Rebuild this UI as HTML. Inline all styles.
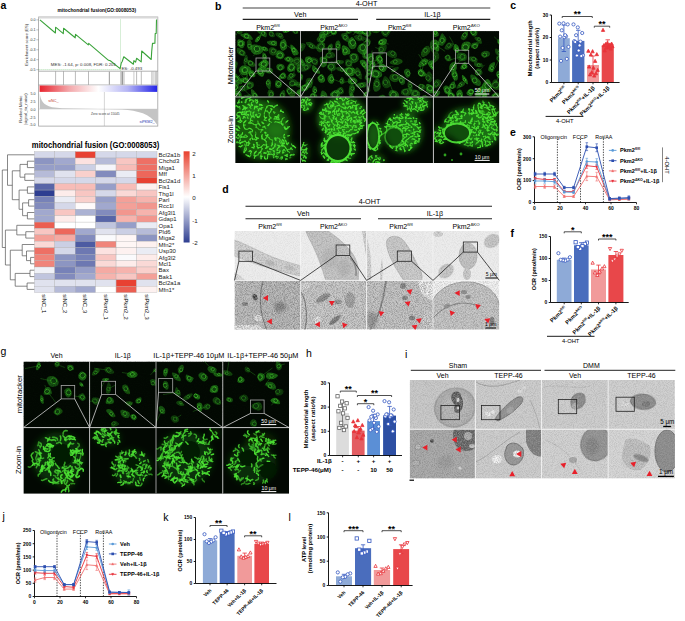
<!DOCTYPE html>
<html><head><meta charset="utf-8"><style>
html,body{margin:0;padding:0;background:#fff;overflow:hidden;}
svg{display:block;}
text{font-family:"Liberation Sans", sans-serif;}
</style></head><body>
<svg width="685" height="621" viewBox="0 0 685 621" font-family='"Liberation Sans", sans-serif'><defs>
<linearGradient id="gseaGrad" x1="0" x2="1" y1="0" y2="0">
 <stop offset="0" stop-color="#e8242e"/><stop offset="0.25" stop-color="#f3a7aa"/>
 <stop offset="0.5" stop-color="#ffffff"/><stop offset="0.75" stop-color="#b4b4f4"/>
 <stop offset="1" stop-color="#2424e8"/></linearGradient>
<linearGradient id="cbGrad" x1="0" x2="0" y1="0" y2="1">
 <stop offset="0" stop-color="#e8412f"/><stop offset="0.5" stop-color="#ffffff"/>
 <stop offset="1" stop-color="#2e3e91"/></linearGradient>

<filter id="blur03" x="-20%" y="-20%" width="140%" height="140%"><feGaussianBlur stdDeviation="0.3"/></filter>
<filter id="blur06" x="-20%" y="-20%" width="140%" height="140%"><feGaussianBlur stdDeviation="0.6"/></filter>
<filter id="blur15" x="-30%" y="-30%" width="160%" height="160%"><feGaussianBlur stdDeviation="1.5"/></filter>
<filter id="blur3" x="-30%" y="-30%" width="160%" height="160%"><feGaussianBlur stdDeviation="3"/></filter>
<filter id="speckD" x="0" y="0" width="100%" height="100%">
 <feTurbulence type="fractalNoise" baseFrequency="0.9" numOctaves="2" seed="7" result="n"/>
 <feColorMatrix type="matrix" values="0 0 0 0 0  0 0 0 0 0  0 0 0 0 0  1.6 0 0 0 -0.62"/>
</filter>
<filter id="speckT" x="0" y="0" width="100%" height="100%">
 <feTurbulence type="fractalNoise" baseFrequency="1.1" numOctaves="2" seed="3" result="n"/>
 <feColorMatrix type="matrix" values="0 0 0 0 0  0 0 0 0 0  0 0 0 0 0  1.2 0 0 0 -0.45"/>
</filter>
<filter id="tex" filterUnits="userSpaceOnUse" x="0" y="0" width="685" height="621">
 <feTurbulence type="fractalNoise" baseFrequency="0.75" numOctaves="2" seed="9" result="n"/>
 <feColorMatrix in="n" type="matrix" values="0 0 0 0 0.35  0 0 0 0 0.35  0 0 0 0 0.35  1.7 0 0 0 -0.68" result="dn"/>
 <feComposite in="dn" in2="SourceAlpha" operator="in" result="dm"/>
 <feMerge><feMergeNode in="SourceGraphic"/><feMergeNode in="dm"/></feMerge>
</filter>
<filter id="speckL" x="0" y="0" width="100%" height="100%">
 <feTurbulence type="fractalNoise" baseFrequency="0.8" numOctaves="2" seed="11" result="n"/>
 <feColorMatrix type="matrix" values="0 0 0 0 1  0 0 0 0 1  0 0 0 0 1  0 3.2 0 0 -1.75"/>
</filter>
<filter id="speckG" x="0" y="0" width="100%" height="100%">
 <feTurbulence type="fractalNoise" baseFrequency="0.7" numOctaves="2" seed="5" result="n"/>
 <feColorMatrix type="matrix" values="0 0 0 0 0.2  0 0 0 0 0.85  0 0 0 0 0.15  0 0 3.0 0 -1.7"/>
</filter>
<clipPath id="cp1"><rect x="235.2" y="31.1" width="65.3" height="65.9"/></clipPath><clipPath id="cp2"><rect x="300.5" y="31.1" width="66.6" height="65.9"/></clipPath><clipPath id="cp3"><rect x="367.1" y="31.1" width="66.3" height="65.9"/></clipPath><clipPath id="cp4"><rect x="433.4" y="31.1" width="65.8" height="65.9"/></clipPath><clipPath id="cp5"><rect x="235.2" y="97" width="66" height="66"/></clipPath><clipPath id="cp6"><rect x="300.5" y="97" width="66" height="66"/></clipPath><clipPath id="cp7"><rect x="367.1" y="97" width="66" height="66"/></clipPath><clipPath id="cp8"><rect x="433.4" y="97" width="66" height="66"/></clipPath><clipPath id="cp9"><rect x="23.4" y="361.5" width="66.2" height="66.1"/></clipPath><clipPath id="cp10"><rect x="89.6" y="361.5" width="66.4" height="66.1"/></clipPath><clipPath id="cp11"><rect x="156" y="361.5" width="66.8" height="66.1"/></clipPath><clipPath id="cp12"><rect x="222.8" y="361.5" width="66.3" height="66.1"/></clipPath><clipPath id="cp13"><rect x="23.4" y="427.6" width="66.2" height="66.2"/></clipPath><clipPath id="cp14"><rect x="89.6" y="427.6" width="66.4" height="66.2"/></clipPath><clipPath id="cp15"><rect x="156" y="427.6" width="66.8" height="66.2"/></clipPath><clipPath id="cp16"><rect x="222.8" y="427.6" width="66.3" height="66.2"/></clipPath><clipPath id="cp17"><rect x="234.5" y="231" width="66.1" height="49.4"/></clipPath><clipPath id="cp18"><rect x="300.6" y="231" width="66" height="49.4"/></clipPath><clipPath id="cp19"><rect x="366.6" y="231" width="66.4" height="49.4"/></clipPath><clipPath id="cp20"><rect x="433" y="231" width="66.3" height="49.4"/></clipPath><clipPath id="cp21"><rect x="234.5" y="280.4" width="66.1" height="49.1"/></clipPath><clipPath id="cp22"><rect x="300.6" y="280.4" width="66" height="49.1"/></clipPath><clipPath id="cp23"><rect x="366.6" y="280.4" width="66.4" height="49.1"/></clipPath><clipPath id="cp24"><rect x="433" y="280.4" width="66.3" height="49.1"/></clipPath><clipPath id="cp25"><rect x="409.7" y="380" width="65.6" height="49.2"/></clipPath><clipPath id="cp26"><rect x="475.3" y="380" width="66.3" height="49.2"/></clipPath><clipPath id="cp27"><rect x="541.6" y="380" width="66.5" height="49.2"/></clipPath><clipPath id="cp28"><rect x="608.1" y="380" width="66.8" height="49.2"/></clipPath><clipPath id="cp29"><rect x="409.7" y="429.2" width="65.6" height="49.4"/></clipPath><clipPath id="cp30"><rect x="475.3" y="429.2" width="66.3" height="49.4"/></clipPath><clipPath id="cp31"><rect x="541.6" y="429.2" width="66.5" height="49.4"/></clipPath><clipPath id="cp32"><rect x="608.1" y="429.2" width="66.8" height="49.4"/></clipPath></defs><text x="0.4" y="9.3" font-size="10.5" text-anchor="start" fill="#000" font-weight="bold">a</text>
<text x="215.1" y="9.5" font-size="10.5" text-anchor="start" fill="#000" font-weight="bold">b</text>
<text x="510.2" y="9.1" font-size="10.5" text-anchor="start" fill="#000" font-weight="bold">c</text>
<text x="222.2" y="193.1" font-size="10.5" text-anchor="start" fill="#000" font-weight="bold">d</text>
<text x="510" y="136.4" font-size="10.5" text-anchor="start" fill="#000" font-weight="bold">e</text>
<text x="510.6" y="236.6" font-size="10.5" text-anchor="start" fill="#000" font-weight="bold">f</text>
<text x="0.4" y="355" font-size="10.5" text-anchor="start" fill="#000">g</text>
<text x="306" y="357.4" font-size="10.5" text-anchor="start" fill="#000">h</text>
<text x="404.9" y="358" font-size="10.5" text-anchor="start" fill="#000">i</text>
<text x="2.6" y="519.7" font-size="10.5" text-anchor="start" fill="#000">j</text>
<text x="163.2" y="521" font-size="10.5" text-anchor="start" fill="#000">k</text>
<text x="288.4" y="520.6" font-size="10.5" text-anchor="start" fill="#000">l</text>
<text x="96.8" y="12.2" font-size="4.8" text-anchor="middle" fill="#000" font-weight="bold">mitochondrial fusion(GO:0008053)</text>
<rect x="38.6" y="17" width="119.2" height="109.1" fill="none" stroke="#a0a0a0" stroke-width="0.8"/>
<line x1="38.6" y1="17.8" x2="157.8" y2="17.8" stroke="#d8d8d8" stroke-width="1.2"/>
<line x1="38.6" y1="71.2" x2="157.8" y2="71.2" stroke="#909090" stroke-width="0.7"/>
<line x1="38.6" y1="85" x2="157.8" y2="85" stroke="#909090" stroke-width="0.7"/>
<text x="35.6" y="21.2" font-size="3.6" text-anchor="end" fill="#333">0.0</text>
<line x1="36.3" y1="19.9" x2="38.6" y2="19.9" stroke="#666" stroke-width="0.4"/>
<text x="35.6" y="31.2" font-size="3.6" text-anchor="end" fill="#333">-0.1</text>
<line x1="36.3" y1="29.9" x2="38.6" y2="29.9" stroke="#666" stroke-width="0.4"/>
<text x="35.6" y="41.1" font-size="3.6" text-anchor="end" fill="#333">-0.2</text>
<line x1="36.3" y1="39.8" x2="38.6" y2="39.8" stroke="#666" stroke-width="0.4"/>
<text x="35.6" y="51.1" font-size="3.6" text-anchor="end" fill="#333">-0.3</text>
<line x1="36.3" y1="49.8" x2="38.6" y2="49.8" stroke="#666" stroke-width="0.4"/>
<text x="35.6" y="61" font-size="3.6" text-anchor="end" fill="#333">-0.4</text>
<line x1="36.3" y1="59.7" x2="38.6" y2="59.7" stroke="#666" stroke-width="0.4"/>
<text x="35.6" y="71" font-size="3.6" text-anchor="end" fill="#333">-0.5</text>
<line x1="36.3" y1="69.7" x2="38.6" y2="69.7" stroke="#666" stroke-width="0.4"/>
<text x="27.6" y="44.8" font-size="4.2" text-anchor="middle" fill="#333" transform="rotate(-90 27.6 44.8)">Enrichment score (ES)</text>
<line x1="38.6" y1="69.6" x2="120.5" y2="69.6" stroke="#5cb85c" stroke-width="0.5" stroke-dasharray="1,1"/>
<line x1="120.5" y1="19.5" x2="120.5" y2="70.5" stroke="#5cb85c" stroke-width="0.5" stroke-dasharray="1,1"/>
<polyline points="39.9,19.9 55.4,33 55.6,27.2 63.3,33.6 63.6,28.3 75.2,37.8 75.5,34.4 88.3,44.9 88.7,43.4 108.5,60.3 110.3,60.8 120.1,68.6 121.3,63 122.2,61.5 123.8,56.8 133.4,64.2 133.9,60.6 135.6,62.2 136.6,58.3 141.2,61.9 141.7,51 151.2,59.5 151.7,51.4 152.5,43.4 154.9,43.2 155.2,33.6 156.2,33.4 156.5,19.5" fill="none" stroke="#3aa33a" stroke-width="1.1" stroke-linejoin="round"/>
<text x="50.8" y="66.2" font-size="4.4" text-anchor="start" fill="#333">MES: -1.64, p: 0.008, FDR: 0.201</text>
<text x="121.4" y="69.5" font-size="4.4" text-anchor="start" fill="#333">ES: -0.493</text>
<line x1="55.6" y1="71.4" x2="55.6" y2="84.8" stroke="#777" stroke-width="0.5"/>
<line x1="63.5" y1="71.4" x2="63.5" y2="84.8" stroke="#777" stroke-width="0.5"/>
<line x1="75.4" y1="71.4" x2="75.4" y2="84.8" stroke="#777" stroke-width="0.5"/>
<line x1="88.5" y1="71.4" x2="88.5" y2="84.8" stroke="#777" stroke-width="0.5"/>
<line x1="109.4" y1="71.4" x2="109.4" y2="84.8" stroke="#aaa" stroke-width="1.2"/>
<line x1="120.8" y1="71.4" x2="120.8" y2="84.8" stroke="#bbb" stroke-width="1"/>
<line x1="122.3" y1="71.4" x2="122.3" y2="84.8" stroke="#999" stroke-width="1.6"/>
<line x1="124" y1="71.4" x2="124" y2="84.8" stroke="#aaa" stroke-width="0.8"/>
<line x1="133.9" y1="71.4" x2="133.9" y2="84.8" stroke="#999" stroke-width="0.5"/>
<line x1="136.6" y1="71.4" x2="136.6" y2="84.8" stroke="#777" stroke-width="0.5"/>
<line x1="141.3" y1="71.4" x2="141.3" y2="84.8" stroke="#777" stroke-width="0.5"/>
<line x1="151.5" y1="71.4" x2="151.5" y2="84.8" stroke="#aaa" stroke-width="0.5"/>
<line x1="152.8" y1="71.4" x2="152.8" y2="84.8" stroke="#999" stroke-width="0.5"/>
<line x1="154" y1="71.4" x2="154" y2="84.8" stroke="#aaa" stroke-width="0.5"/>
<line x1="155.4" y1="71.4" x2="155.4" y2="84.8" stroke="#999" stroke-width="0.5"/>
<line x1="156.4" y1="71.4" x2="156.4" y2="84.8" stroke="#888" stroke-width="0.5"/>
<rect x="39.6" y="85.5" width="117.6" height="6.4" fill="url(#gseaGrad)" stroke="none" stroke-width="0.8"/>
<line x1="38.6" y1="109.1" x2="157.8" y2="109.1" stroke="#bbb" stroke-width="0.4"/>
<path d="M39.8,93.2 C40.5,100 43,105 52,107.2 L62,108.3 L122,109.5 C138,110.8 150,113.5 157,124.5 L157,109.1 L39.8,109.1 Z" fill="#c4c4c4"/>
<line x1="104.4" y1="92" x2="104.4" y2="126" stroke="#999" stroke-width="0.4"/>
<text x="35.6" y="95.3" font-size="3.6" text-anchor="end" fill="#333">5.0</text>
<text x="35.6" y="102.8" font-size="3.6" text-anchor="end" fill="#333">2.5</text>
<text x="35.6" y="110.5" font-size="3.6" text-anchor="end" fill="#333">0.0</text>
<text x="35.6" y="118.5" font-size="3.6" text-anchor="end" fill="#333">-2.5</text>
<text x="35.6" y="126.1" font-size="3.6" text-anchor="end" fill="#333">-5.0</text>
<text x="21.6" y="109.2" font-size="4.2" text-anchor="middle" fill="#333" transform="rotate(-90 21.6 109.2)">Ranked Metric</text>
<text x="26.6" y="109.2" font-size="4.2" text-anchor="middle" fill="#333" transform="rotate(-90 26.6 109.2)">(signal_to_noise)</text>
<text x="48.2" y="101.6" font-size="3.8" text-anchor="start" fill="#c0392b">siNC_</text>
<text x="139.5" y="123" font-size="3.8" text-anchor="start" fill="#2533b0">siPKM2_</text>
<text x="91" y="115.4" font-size="3.2" text-anchor="start" fill="#444">Zero score at 15045</text>
<text x="95.6" y="147.7" font-size="8.3" text-anchor="middle" fill="#000" font-weight="bold" textLength="127.5" lengthAdjust="spacingAndGlyphs">mitochondrial fusion (GO:0008053)</text>
<rect x="34.3" y="151.6" width="20.4" height="6.4" fill="#d5d8e9" stroke="#a8a8a8" stroke-width="0.3"/>
<rect x="54.8" y="151.6" width="20.4" height="6.4" fill="#d5d8e9" stroke="#a8a8a8" stroke-width="0.3"/>
<rect x="75.2" y="151.6" width="20.4" height="6.4" fill="#e84132" stroke="#a8a8a8" stroke-width="0.3"/>
<rect x="95.6" y="151.6" width="20.4" height="6.4" fill="#d5d8e9" stroke="#a8a8a8" stroke-width="0.3"/>
<rect x="116.1" y="151.6" width="20.4" height="6.4" fill="#d5d8e9" stroke="#a8a8a8" stroke-width="0.3"/>
<rect x="136.6" y="151.6" width="20.4" height="6.4" fill="#d5d8e9" stroke="#a8a8a8" stroke-width="0.3"/>
<rect x="34.3" y="158" width="20.4" height="6.4" fill="#8c95c2" stroke="#a8a8a8" stroke-width="0.3"/>
<rect x="54.8" y="158" width="20.4" height="6.4" fill="#a1a8ce" stroke="#a8a8a8" stroke-width="0.3"/>
<rect x="75.2" y="158" width="20.4" height="6.4" fill="#fce2e0" stroke="#a8a8a8" stroke-width="0.3"/>
<rect x="95.6" y="158" width="20.4" height="6.4" fill="#b6bbd8" stroke="#a8a8a8" stroke-width="0.3"/>
<rect x="116.1" y="158" width="20.4" height="6.4" fill="#f8c6c2" stroke="#a8a8a8" stroke-width="0.3"/>
<rect x="136.6" y="158" width="20.4" height="6.4" fill="#ee7065" stroke="#a8a8a8" stroke-width="0.3"/>
<rect x="34.3" y="164.4" width="20.4" height="6.4" fill="#969ec8" stroke="#a8a8a8" stroke-width="0.3"/>
<rect x="54.8" y="164.4" width="20.4" height="6.4" fill="#969ec8" stroke="#a8a8a8" stroke-width="0.3"/>
<rect x="75.2" y="164.4" width="20.4" height="6.4" fill="#cbcfe4" stroke="#a8a8a8" stroke-width="0.3"/>
<rect x="95.6" y="164.4" width="20.4" height="6.4" fill="#f5f5fa" stroke="#a8a8a8" stroke-width="0.3"/>
<rect x="116.1" y="164.4" width="20.4" height="6.4" fill="#f7bcb7" stroke="#a8a8a8" stroke-width="0.3"/>
<rect x="136.6" y="164.4" width="20.4" height="6.4" fill="#ee7065" stroke="#a8a8a8" stroke-width="0.3"/>
<rect x="34.3" y="170.8" width="20.4" height="6.4" fill="#b6bbd8" stroke="#a8a8a8" stroke-width="0.3"/>
<rect x="54.8" y="170.8" width="20.4" height="6.4" fill="#e0e2ee" stroke="#a8a8a8" stroke-width="0.3"/>
<rect x="75.2" y="170.8" width="20.4" height="6.4" fill="#f9d0cc" stroke="#a8a8a8" stroke-width="0.3"/>
<rect x="95.6" y="170.8" width="20.4" height="6.4" fill="#828bbd" stroke="#a8a8a8" stroke-width="0.3"/>
<rect x="116.1" y="170.8" width="20.4" height="6.4" fill="#eaecf4" stroke="#a8a8a8" stroke-width="0.3"/>
<rect x="136.6" y="170.8" width="20.4" height="6.4" fill="#ed675b" stroke="#a8a8a8" stroke-width="0.3"/>
<rect x="34.3" y="177.2" width="20.4" height="6.4" fill="#d5d8e9" stroke="#a8a8a8" stroke-width="0.3"/>
<rect x="54.8" y="177.2" width="20.4" height="6.4" fill="#d5d8e9" stroke="#a8a8a8" stroke-width="0.3"/>
<rect x="75.2" y="177.2" width="20.4" height="6.4" fill="#d5d8e9" stroke="#a8a8a8" stroke-width="0.3"/>
<rect x="95.6" y="177.2" width="20.4" height="6.4" fill="#d5d8e9" stroke="#a8a8a8" stroke-width="0.3"/>
<rect x="116.1" y="177.2" width="20.4" height="6.4" fill="#d5d8e9" stroke="#a8a8a8" stroke-width="0.3"/>
<rect x="136.6" y="177.2" width="20.4" height="6.4" fill="#e84132" stroke="#a8a8a8" stroke-width="0.3"/>
<rect x="34.3" y="183.6" width="20.4" height="6.4" fill="#5865a7" stroke="#a8a8a8" stroke-width="0.3"/>
<rect x="54.8" y="183.6" width="20.4" height="6.4" fill="#f7bcb7" stroke="#a8a8a8" stroke-width="0.3"/>
<rect x="75.2" y="183.6" width="20.4" height="6.4" fill="#f7bcb7" stroke="#a8a8a8" stroke-width="0.3"/>
<rect x="95.6" y="183.6" width="20.4" height="6.4" fill="#969ec8" stroke="#a8a8a8" stroke-width="0.3"/>
<rect x="116.1" y="183.6" width="20.4" height="6.4" fill="#f7bcb7" stroke="#a8a8a8" stroke-width="0.3"/>
<rect x="136.6" y="183.6" width="20.4" height="6.4" fill="#fdf1f0" stroke="#a8a8a8" stroke-width="0.3"/>
<rect x="34.3" y="190.1" width="20.4" height="6.4" fill="#2e3e91" stroke="#a8a8a8" stroke-width="0.3"/>
<rect x="54.8" y="190.1" width="20.4" height="6.4" fill="#fdecea" stroke="#a8a8a8" stroke-width="0.3"/>
<rect x="75.2" y="190.1" width="20.4" height="6.4" fill="#f8c6c2" stroke="#a8a8a8" stroke-width="0.3"/>
<rect x="95.6" y="190.1" width="20.4" height="6.4" fill="#d5d8e9" stroke="#a8a8a8" stroke-width="0.3"/>
<rect x="116.1" y="190.1" width="20.4" height="6.4" fill="#fad9d6" stroke="#a8a8a8" stroke-width="0.3"/>
<rect x="136.6" y="190.1" width="20.4" height="6.4" fill="#f8c6c2" stroke="#a8a8a8" stroke-width="0.3"/>
<rect x="34.3" y="196.5" width="20.4" height="6.4" fill="#7782b8" stroke="#a8a8a8" stroke-width="0.3"/>
<rect x="54.8" y="196.5" width="20.4" height="6.4" fill="#eaecf4" stroke="#a8a8a8" stroke-width="0.3"/>
<rect x="75.2" y="196.5" width="20.4" height="6.4" fill="#f9d0cc" stroke="#a8a8a8" stroke-width="0.3"/>
<rect x="95.6" y="196.5" width="20.4" height="6.4" fill="#969ec8" stroke="#a8a8a8" stroke-width="0.3"/>
<rect x="116.1" y="196.5" width="20.4" height="6.4" fill="#f4a098" stroke="#a8a8a8" stroke-width="0.3"/>
<rect x="136.6" y="196.5" width="20.4" height="6.4" fill="#f6b3ad" stroke="#a8a8a8" stroke-width="0.3"/>
<rect x="34.3" y="202.9" width="20.4" height="6.4" fill="#828bbd" stroke="#a8a8a8" stroke-width="0.3"/>
<rect x="54.8" y="202.9" width="20.4" height="6.4" fill="#d5d8e9" stroke="#a8a8a8" stroke-width="0.3"/>
<rect x="75.2" y="202.9" width="20.4" height="6.4" fill="#fefafa" stroke="#a8a8a8" stroke-width="0.3"/>
<rect x="95.6" y="202.9" width="20.4" height="6.4" fill="#a1a8ce" stroke="#a8a8a8" stroke-width="0.3"/>
<rect x="116.1" y="202.9" width="20.4" height="6.4" fill="#f4a098" stroke="#a8a8a8" stroke-width="0.3"/>
<rect x="136.6" y="202.9" width="20.4" height="6.4" fill="#f2968e" stroke="#a8a8a8" stroke-width="0.3"/>
<rect x="34.3" y="209.3" width="20.4" height="6.4" fill="#a1a8ce" stroke="#a8a8a8" stroke-width="0.3"/>
<rect x="54.8" y="209.3" width="20.4" height="6.4" fill="#f8c6c2" stroke="#a8a8a8" stroke-width="0.3"/>
<rect x="75.2" y="209.3" width="20.4" height="6.4" fill="#abb2d3" stroke="#a8a8a8" stroke-width="0.3"/>
<rect x="95.6" y="209.3" width="20.4" height="6.4" fill="#828bbd" stroke="#a8a8a8" stroke-width="0.3"/>
<rect x="116.1" y="209.3" width="20.4" height="6.4" fill="#f2968e" stroke="#a8a8a8" stroke-width="0.3"/>
<rect x="136.6" y="209.3" width="20.4" height="6.4" fill="#f6b3ad" stroke="#a8a8a8" stroke-width="0.3"/>
<rect x="34.3" y="215.7" width="20.4" height="6.4" fill="#a1a8ce" stroke="#a8a8a8" stroke-width="0.3"/>
<rect x="54.8" y="215.7" width="20.4" height="6.4" fill="#fdecea" stroke="#a8a8a8" stroke-width="0.3"/>
<rect x="75.2" y="215.7" width="20.4" height="6.4" fill="#ffffff" stroke="#a8a8a8" stroke-width="0.3"/>
<rect x="95.6" y="215.7" width="20.4" height="6.4" fill="#5865a7" stroke="#a8a8a8" stroke-width="0.3"/>
<rect x="116.1" y="215.7" width="20.4" height="6.4" fill="#f6b3ad" stroke="#a8a8a8" stroke-width="0.3"/>
<rect x="136.6" y="215.7" width="20.4" height="6.4" fill="#f2968e" stroke="#a8a8a8" stroke-width="0.3"/>
<rect x="34.3" y="222.1" width="20.4" height="6.4" fill="#eb5e51" stroke="#a8a8a8" stroke-width="0.3"/>
<rect x="54.8" y="222.1" width="20.4" height="6.4" fill="#ffffff" stroke="#a8a8a8" stroke-width="0.3"/>
<rect x="75.2" y="222.1" width="20.4" height="6.4" fill="#ffffff" stroke="#a8a8a8" stroke-width="0.3"/>
<rect x="95.6" y="222.1" width="20.4" height="6.4" fill="#c0c5de" stroke="#a8a8a8" stroke-width="0.3"/>
<rect x="116.1" y="222.1" width="20.4" height="6.4" fill="#969ec8" stroke="#a8a8a8" stroke-width="0.3"/>
<rect x="136.6" y="222.1" width="20.4" height="6.4" fill="#eaecf4" stroke="#a8a8a8" stroke-width="0.3"/>
<rect x="34.3" y="228.5" width="20.4" height="6.4" fill="#f8c6c2" stroke="#a8a8a8" stroke-width="0.3"/>
<rect x="54.8" y="228.5" width="20.4" height="6.4" fill="#ed675b" stroke="#a8a8a8" stroke-width="0.3"/>
<rect x="75.2" y="228.5" width="20.4" height="6.4" fill="#a1a8ce" stroke="#a8a8a8" stroke-width="0.3"/>
<rect x="95.6" y="228.5" width="20.4" height="6.4" fill="#e0e2ee" stroke="#a8a8a8" stroke-width="0.3"/>
<rect x="116.1" y="228.5" width="20.4" height="6.4" fill="#cbcfe4" stroke="#a8a8a8" stroke-width="0.3"/>
<rect x="136.6" y="228.5" width="20.4" height="6.4" fill="#b6bbd8" stroke="#a8a8a8" stroke-width="0.3"/>
<rect x="34.3" y="234.9" width="20.4" height="6.4" fill="#f4a098" stroke="#a8a8a8" stroke-width="0.3"/>
<rect x="54.8" y="234.9" width="20.4" height="6.4" fill="#f5aaa3" stroke="#a8a8a8" stroke-width="0.3"/>
<rect x="75.2" y="234.9" width="20.4" height="6.4" fill="#828bbd" stroke="#a8a8a8" stroke-width="0.3"/>
<rect x="95.6" y="234.9" width="20.4" height="6.4" fill="#fafafc" stroke="#a8a8a8" stroke-width="0.3"/>
<rect x="116.1" y="234.9" width="20.4" height="6.4" fill="#fef6f5" stroke="#a8a8a8" stroke-width="0.3"/>
<rect x="136.6" y="234.9" width="20.4" height="6.4" fill="#8c95c2" stroke="#a8a8a8" stroke-width="0.3"/>
<rect x="34.3" y="241.3" width="20.4" height="6.4" fill="#fad9d6" stroke="#a8a8a8" stroke-width="0.3"/>
<rect x="54.8" y="241.3" width="20.4" height="6.4" fill="#cbcfe4" stroke="#a8a8a8" stroke-width="0.3"/>
<rect x="75.2" y="241.3" width="20.4" height="6.4" fill="#4d5ba2" stroke="#a8a8a8" stroke-width="0.3"/>
<rect x="95.6" y="241.3" width="20.4" height="6.4" fill="#f0847a" stroke="#a8a8a8" stroke-width="0.3"/>
<rect x="116.1" y="241.3" width="20.4" height="6.4" fill="#fef6f5" stroke="#a8a8a8" stroke-width="0.3"/>
<rect x="136.6" y="241.3" width="20.4" height="6.4" fill="#fdf1f0" stroke="#a8a8a8" stroke-width="0.3"/>
<rect x="34.3" y="247.8" width="20.4" height="6.4" fill="#ee7065" stroke="#a8a8a8" stroke-width="0.3"/>
<rect x="54.8" y="247.8" width="20.4" height="6.4" fill="#d5d8e9" stroke="#a8a8a8" stroke-width="0.3"/>
<rect x="75.2" y="247.8" width="20.4" height="6.4" fill="#6d78b2" stroke="#a8a8a8" stroke-width="0.3"/>
<rect x="95.6" y="247.8" width="20.4" height="6.4" fill="#fce2e0" stroke="#a8a8a8" stroke-width="0.3"/>
<rect x="116.1" y="247.8" width="20.4" height="6.4" fill="#fdf1f0" stroke="#a8a8a8" stroke-width="0.3"/>
<rect x="136.6" y="247.8" width="20.4" height="6.4" fill="#eaecf4" stroke="#a8a8a8" stroke-width="0.3"/>
<rect x="34.3" y="254.2" width="20.4" height="6.4" fill="#f0847a" stroke="#a8a8a8" stroke-width="0.3"/>
<rect x="54.8" y="254.2" width="20.4" height="6.4" fill="#8c95c2" stroke="#a8a8a8" stroke-width="0.3"/>
<rect x="75.2" y="254.2" width="20.4" height="6.4" fill="#7782b8" stroke="#a8a8a8" stroke-width="0.3"/>
<rect x="95.6" y="254.2" width="20.4" height="6.4" fill="#f8c6c2" stroke="#a8a8a8" stroke-width="0.3"/>
<rect x="116.1" y="254.2" width="20.4" height="6.4" fill="#fafafc" stroke="#a8a8a8" stroke-width="0.3"/>
<rect x="136.6" y="254.2" width="20.4" height="6.4" fill="#fdecea" stroke="#a8a8a8" stroke-width="0.3"/>
<rect x="34.3" y="260.6" width="20.4" height="6.4" fill="#f0847a" stroke="#a8a8a8" stroke-width="0.3"/>
<rect x="54.8" y="260.6" width="20.4" height="6.4" fill="#8c95c2" stroke="#a8a8a8" stroke-width="0.3"/>
<rect x="75.2" y="260.6" width="20.4" height="6.4" fill="#6d78b2" stroke="#a8a8a8" stroke-width="0.3"/>
<rect x="95.6" y="260.6" width="20.4" height="6.4" fill="#fad9d6" stroke="#a8a8a8" stroke-width="0.3"/>
<rect x="116.1" y="260.6" width="20.4" height="6.4" fill="#fdecea" stroke="#a8a8a8" stroke-width="0.3"/>
<rect x="136.6" y="260.6" width="20.4" height="6.4" fill="#fad9d6" stroke="#a8a8a8" stroke-width="0.3"/>
<rect x="34.3" y="267" width="20.4" height="6.4" fill="#eff1f7" stroke="#a8a8a8" stroke-width="0.3"/>
<rect x="54.8" y="267" width="20.4" height="6.4" fill="#7782b8" stroke="#a8a8a8" stroke-width="0.3"/>
<rect x="75.2" y="267" width="20.4" height="6.4" fill="#969ec8" stroke="#a8a8a8" stroke-width="0.3"/>
<rect x="95.6" y="267" width="20.4" height="6.4" fill="#f5aaa3" stroke="#a8a8a8" stroke-width="0.3"/>
<rect x="116.1" y="267" width="20.4" height="6.4" fill="#f6b3ad" stroke="#a8a8a8" stroke-width="0.3"/>
<rect x="136.6" y="267" width="20.4" height="6.4" fill="#f9d0cc" stroke="#a8a8a8" stroke-width="0.3"/>
<rect x="34.3" y="273.4" width="20.4" height="6.4" fill="#c0c5de" stroke="#a8a8a8" stroke-width="0.3"/>
<rect x="54.8" y="273.4" width="20.4" height="6.4" fill="#828bbd" stroke="#a8a8a8" stroke-width="0.3"/>
<rect x="75.2" y="273.4" width="20.4" height="6.4" fill="#a1a8ce" stroke="#a8a8a8" stroke-width="0.3"/>
<rect x="95.6" y="273.4" width="20.4" height="6.4" fill="#f6b3ad" stroke="#a8a8a8" stroke-width="0.3"/>
<rect x="116.1" y="273.4" width="20.4" height="6.4" fill="#f8c6c2" stroke="#a8a8a8" stroke-width="0.3"/>
<rect x="136.6" y="273.4" width="20.4" height="6.4" fill="#f4a098" stroke="#a8a8a8" stroke-width="0.3"/>
<rect x="34.3" y="279.8" width="20.4" height="6.4" fill="#e0e2ee" stroke="#a8a8a8" stroke-width="0.3"/>
<rect x="54.8" y="279.8" width="20.4" height="6.4" fill="#e0e2ee" stroke="#a8a8a8" stroke-width="0.3"/>
<rect x="75.2" y="279.8" width="20.4" height="6.4" fill="#e0e2ee" stroke="#a8a8a8" stroke-width="0.3"/>
<rect x="95.6" y="279.8" width="20.4" height="6.4" fill="#e0e2ee" stroke="#a8a8a8" stroke-width="0.3"/>
<rect x="116.1" y="279.8" width="20.4" height="6.4" fill="#e84132" stroke="#a8a8a8" stroke-width="0.3"/>
<rect x="136.6" y="279.8" width="20.4" height="6.4" fill="#e0e2ee" stroke="#a8a8a8" stroke-width="0.3"/>
<rect x="34.3" y="286.2" width="20.4" height="6.4" fill="#e0e2ee" stroke="#a8a8a8" stroke-width="0.3"/>
<rect x="54.8" y="286.2" width="20.4" height="6.4" fill="#b6bbd8" stroke="#a8a8a8" stroke-width="0.3"/>
<rect x="75.2" y="286.2" width="20.4" height="6.4" fill="#a1a8ce" stroke="#a8a8a8" stroke-width="0.3"/>
<rect x="95.6" y="286.2" width="20.4" height="6.4" fill="#ffffff" stroke="#a8a8a8" stroke-width="0.3"/>
<rect x="116.1" y="286.2" width="20.4" height="6.4" fill="#eb5e51" stroke="#a8a8a8" stroke-width="0.3"/>
<rect x="136.6" y="286.2" width="20.4" height="6.4" fill="#fdf1f0" stroke="#a8a8a8" stroke-width="0.3"/>
<text x="158.6" y="157" font-size="6" text-anchor="start" fill="#222">Bcl2a1b</text>
<text x="158.6" y="163.4" font-size="6" text-anchor="start" fill="#222">Chchd3</text>
<text x="158.6" y="169.8" font-size="6" text-anchor="start" fill="#222">Miga1</text>
<text x="158.6" y="176.2" font-size="6" text-anchor="start" fill="#222">Mff</text>
<text x="158.6" y="182.6" font-size="6" text-anchor="start" fill="#222">Bcl2a1d</text>
<text x="158.6" y="189.1" font-size="6" text-anchor="start" fill="#222">Fis1</text>
<text x="158.6" y="195.5" font-size="6" text-anchor="start" fill="#222">Thg1l</text>
<text x="158.6" y="201.9" font-size="6" text-anchor="start" fill="#222">Parl</text>
<text x="158.6" y="208.3" font-size="6" text-anchor="start" fill="#222">Rcc1l</text>
<text x="158.6" y="214.7" font-size="6" text-anchor="start" fill="#222">Afg3l1</text>
<text x="158.6" y="221.1" font-size="6" text-anchor="start" fill="#222">Gdap1</text>
<text x="158.6" y="227.5" font-size="6" text-anchor="start" fill="#222">Opa1</text>
<text x="158.6" y="233.9" font-size="6" text-anchor="start" fill="#222">Pld6</text>
<text x="158.6" y="240.3" font-size="6" text-anchor="start" fill="#222">Miga2</text>
<text x="158.6" y="246.7" font-size="6" text-anchor="start" fill="#222">Mfn2*</text>
<text x="158.6" y="253.2" font-size="6" text-anchor="start" fill="#222">Usp30</text>
<text x="158.6" y="259.6" font-size="6" text-anchor="start" fill="#222">Afg3l2</text>
<text x="158.6" y="266" font-size="6" text-anchor="start" fill="#222">Mcl1</text>
<text x="158.6" y="272.4" font-size="6" text-anchor="start" fill="#222">Bax</text>
<text x="158.6" y="278.8" font-size="6" text-anchor="start" fill="#222">Bak1</text>
<text x="158.6" y="285.2" font-size="6" text-anchor="start" fill="#222">Bcl2a1a</text>
<text x="158.6" y="291.6" font-size="6" text-anchor="start" fill="#222">Mfn1*</text>
<text x="42.3" y="294.3" font-size="5.8" text-anchor="start" fill="#000" transform="rotate(90 42.3 294.3)">siNC_1</text>
<text x="62.8" y="294.3" font-size="5.8" text-anchor="start" fill="#000" transform="rotate(90 62.8 294.3)">siNC_2</text>
<text x="83.2" y="294.3" font-size="5.8" text-anchor="start" fill="#000" transform="rotate(90 83.2 294.3)">siNC_3</text>
<text x="103.7" y="294.3" font-size="5.8" text-anchor="start" fill="#000" transform="rotate(90 103.7 294.3)">siPkm2_1</text>
<text x="124.1" y="294.3" font-size="5.8" text-anchor="start" fill="#000" transform="rotate(90 124.1 294.3)">siPkm2_2</text>
<text x="144.6" y="294.3" font-size="5.8" text-anchor="start" fill="#000" transform="rotate(90 144.6 294.3)">siPkm2_3</text>
<rect x="183.6" y="151.3" width="6" height="91.2" fill="url(#cbGrad)" stroke="none" stroke-width="0.8"/>
<text x="192.2" y="155.6" font-size="6.2" text-anchor="start" fill="#222">2</text>
<text x="192.2" y="178" font-size="6.2" text-anchor="start" fill="#222">1</text>
<text x="192.2" y="200.2" font-size="6.2" text-anchor="start" fill="#222">0</text>
<text x="192.2" y="222.7" font-size="6.2" text-anchor="start" fill="#222">-1</text>
<text x="192.2" y="244.9" font-size="6.2" text-anchor="start" fill="#222">-2</text>
<line x1="27.4" y1="161.2" x2="27.4" y2="167.6" stroke="#555" stroke-width="0.7"/>
<line x1="27.4" y1="161.2" x2="34.3" y2="161.2" stroke="#555" stroke-width="0.7"/>
<line x1="27.4" y1="167.6" x2="34.3" y2="167.6" stroke="#555" stroke-width="0.7"/>
<line x1="24.8" y1="174" x2="24.8" y2="180.4" stroke="#555" stroke-width="0.7"/>
<line x1="24.8" y1="174" x2="34.3" y2="174" stroke="#555" stroke-width="0.7"/>
<line x1="24.8" y1="180.4" x2="34.3" y2="180.4" stroke="#555" stroke-width="0.7"/>
<line x1="20" y1="164.4" x2="20" y2="177.2" stroke="#555" stroke-width="0.7"/>
<line x1="20" y1="164.4" x2="27.4" y2="164.4" stroke="#555" stroke-width="0.7"/>
<line x1="20" y1="177.2" x2="24.8" y2="177.2" stroke="#555" stroke-width="0.7"/>
<line x1="27.4" y1="186.9" x2="27.4" y2="193.3" stroke="#555" stroke-width="0.7"/>
<line x1="27.4" y1="186.9" x2="34.3" y2="186.9" stroke="#555" stroke-width="0.7"/>
<line x1="27.4" y1="193.3" x2="34.3" y2="193.3" stroke="#555" stroke-width="0.7"/>
<line x1="28.6" y1="199.7" x2="28.6" y2="206.1" stroke="#555" stroke-width="0.7"/>
<line x1="28.6" y1="199.7" x2="34.3" y2="199.7" stroke="#555" stroke-width="0.7"/>
<line x1="28.6" y1="206.1" x2="34.3" y2="206.1" stroke="#555" stroke-width="0.7"/>
<line x1="27.4" y1="212.5" x2="27.4" y2="218.9" stroke="#555" stroke-width="0.7"/>
<line x1="27.4" y1="212.5" x2="34.3" y2="212.5" stroke="#555" stroke-width="0.7"/>
<line x1="27.4" y1="218.9" x2="34.3" y2="218.9" stroke="#555" stroke-width="0.7"/>
<line x1="22.6" y1="202.9" x2="22.6" y2="215.7" stroke="#555" stroke-width="0.7"/>
<line x1="22.6" y1="202.9" x2="28.6" y2="202.9" stroke="#555" stroke-width="0.7"/>
<line x1="22.6" y1="215.7" x2="27.4" y2="215.7" stroke="#555" stroke-width="0.7"/>
<line x1="19.1" y1="190.1" x2="19.1" y2="209.3" stroke="#555" stroke-width="0.7"/>
<line x1="19.1" y1="190.1" x2="27.4" y2="190.1" stroke="#555" stroke-width="0.7"/>
<line x1="19.1" y1="209.3" x2="22.6" y2="209.3" stroke="#555" stroke-width="0.7"/>
<line x1="12.3" y1="170.8" x2="12.3" y2="199.7" stroke="#555" stroke-width="0.7"/>
<line x1="12.3" y1="170.8" x2="20" y2="170.8" stroke="#555" stroke-width="0.7"/>
<line x1="12.3" y1="199.7" x2="19.1" y2="199.7" stroke="#555" stroke-width="0.7"/>
<line x1="7.5" y1="154.8" x2="7.5" y2="185.3" stroke="#555" stroke-width="0.7"/>
<line x1="7.5" y1="154.8" x2="34.3" y2="154.8" stroke="#555" stroke-width="0.7"/>
<line x1="7.5" y1="185.3" x2="12.3" y2="185.3" stroke="#555" stroke-width="0.7"/>
<line x1="25.8" y1="231.7" x2="25.8" y2="238.1" stroke="#555" stroke-width="0.7"/>
<line x1="25.8" y1="231.7" x2="34.3" y2="231.7" stroke="#555" stroke-width="0.7"/>
<line x1="25.8" y1="238.1" x2="34.3" y2="238.1" stroke="#555" stroke-width="0.7"/>
<line x1="16.8" y1="225.3" x2="16.8" y2="234.9" stroke="#555" stroke-width="0.7"/>
<line x1="16.8" y1="225.3" x2="34.3" y2="225.3" stroke="#555" stroke-width="0.7"/>
<line x1="16.8" y1="234.9" x2="25.8" y2="234.9" stroke="#555" stroke-width="0.7"/>
<line x1="30.6" y1="257.4" x2="30.6" y2="263.8" stroke="#555" stroke-width="0.7"/>
<line x1="30.6" y1="257.4" x2="34.3" y2="257.4" stroke="#555" stroke-width="0.7"/>
<line x1="30.6" y1="263.8" x2="34.3" y2="263.8" stroke="#555" stroke-width="0.7"/>
<line x1="26.5" y1="251" x2="26.5" y2="260.6" stroke="#555" stroke-width="0.7"/>
<line x1="26.5" y1="251" x2="34.3" y2="251" stroke="#555" stroke-width="0.7"/>
<line x1="26.5" y1="260.6" x2="30.6" y2="260.6" stroke="#555" stroke-width="0.7"/>
<line x1="22.2" y1="244.5" x2="22.2" y2="255.8" stroke="#555" stroke-width="0.7"/>
<line x1="22.2" y1="244.5" x2="34.3" y2="244.5" stroke="#555" stroke-width="0.7"/>
<line x1="22.2" y1="255.8" x2="26.5" y2="255.8" stroke="#555" stroke-width="0.7"/>
<line x1="30" y1="270.2" x2="30" y2="276.6" stroke="#555" stroke-width="0.7"/>
<line x1="30" y1="270.2" x2="34.3" y2="270.2" stroke="#555" stroke-width="0.7"/>
<line x1="30" y1="276.6" x2="34.3" y2="276.6" stroke="#555" stroke-width="0.7"/>
<line x1="27.1" y1="283" x2="27.1" y2="289.4" stroke="#555" stroke-width="0.7"/>
<line x1="27.1" y1="283" x2="34.3" y2="283" stroke="#555" stroke-width="0.7"/>
<line x1="27.1" y1="289.4" x2="34.3" y2="289.4" stroke="#555" stroke-width="0.7"/>
<line x1="15.2" y1="273.4" x2="15.2" y2="286.2" stroke="#555" stroke-width="0.7"/>
<line x1="15.2" y1="273.4" x2="30" y2="273.4" stroke="#555" stroke-width="0.7"/>
<line x1="15.2" y1="286.2" x2="27.1" y2="286.2" stroke="#555" stroke-width="0.7"/>
<line x1="10.3" y1="250.2" x2="10.3" y2="279.8" stroke="#555" stroke-width="0.7"/>
<line x1="10.3" y1="250.2" x2="22.2" y2="250.2" stroke="#555" stroke-width="0.7"/>
<line x1="10.3" y1="279.8" x2="15.2" y2="279.8" stroke="#555" stroke-width="0.7"/>
<line x1="5.4" y1="230.1" x2="5.4" y2="265" stroke="#555" stroke-width="0.7"/>
<line x1="5.4" y1="230.1" x2="16.8" y2="230.1" stroke="#555" stroke-width="0.7"/>
<line x1="5.4" y1="265" x2="10.3" y2="265" stroke="#555" stroke-width="0.7"/>
<line x1="2.3" y1="170" x2="2.3" y2="247.5" stroke="#555" stroke-width="0.7"/>
<line x1="2.3" y1="170" x2="7.5" y2="170" stroke="#555" stroke-width="0.7"/>
<line x1="2.3" y1="247.5" x2="5.4" y2="247.5" stroke="#555" stroke-width="0.7"/>
<rect x="558" y="38.2" width="11.8" height="44.3" fill="#8eaad7" stroke="none" stroke-width="0.8"/>
<rect x="572.1" y="40.9" width="12.3" height="41.6" fill="#4a6dbd" stroke="none" stroke-width="0.8"/>
<rect x="587" y="65" width="12" height="17.6" fill="#f19a9a" stroke="none" stroke-width="0.8"/>
<rect x="601.7" y="45.4" width="12.1" height="37.1" fill="#e8474a" stroke="none" stroke-width="0.8"/>
<line x1="563.9" y1="51.5" x2="563.9" y2="25.1" stroke="#3558c0" stroke-width="0.8"/>
<line x1="561.7" y1="25.1" x2="566.1" y2="25.1" stroke="#3558c0" stroke-width="0.8"/>
<line x1="561.7" y1="51.5" x2="566.1" y2="51.5" stroke="#3558c0" stroke-width="0.8"/>
<circle cx="559.3" cy="23.6" r="1.6" fill="#fff" stroke="#3558c0" stroke-width="0.8"/>
<circle cx="563.5" cy="23.3" r="1.6" fill="#fff" stroke="#3558c0" stroke-width="0.8"/>
<circle cx="567.7" cy="24.4" r="1.6" fill="#fff" stroke="#3558c0" stroke-width="0.8"/>
<circle cx="561.8" cy="30.3" r="1.6" fill="#fff" stroke="#3558c0" stroke-width="0.8"/>
<circle cx="566" cy="36.4" r="1.6" fill="#fff" stroke="#3558c0" stroke-width="0.8"/>
<circle cx="560.1" cy="36.6" r="1.6" fill="#fff" stroke="#3558c0" stroke-width="0.8"/>
<circle cx="564.3" cy="37.1" r="1.6" fill="#fff" stroke="#3558c0" stroke-width="0.8"/>
<circle cx="568.5" cy="46.9" r="1.6" fill="#fff" stroke="#3558c0" stroke-width="0.8"/>
<circle cx="562.6" cy="47.9" r="1.6" fill="#fff" stroke="#3558c0" stroke-width="0.8"/>
<circle cx="566.8" cy="58.9" r="1.6" fill="#fff" stroke="#3558c0" stroke-width="0.8"/>
<circle cx="561" cy="60.9" r="1.6" fill="#fff" stroke="#3558c0" stroke-width="0.8"/>
<circle cx="565.2" cy="35.2" r="1.6" fill="#fff" stroke="#3558c0" stroke-width="0.8"/>
<line x1="578.2" y1="51" x2="578.2" y2="30.3" stroke="#3558c0" stroke-width="0.8"/>
<line x1="576" y1="30.3" x2="580.5" y2="30.3" stroke="#3558c0" stroke-width="0.8"/>
<line x1="576" y1="51" x2="580.5" y2="51" stroke="#3558c0" stroke-width="0.8"/>
<circle cx="573.5" cy="24.4" r="1.6" fill="#fff" stroke="#3558c0" stroke-width="0.8"/>
<circle cx="577.8" cy="27.4" r="1.6" fill="#fff" stroke="#3558c0" stroke-width="0.8"/>
<circle cx="582.2" cy="33" r="1.6" fill="#fff" stroke="#3558c0" stroke-width="0.8"/>
<circle cx="576.1" cy="35.2" r="1.6" fill="#fff" stroke="#3558c0" stroke-width="0.8"/>
<circle cx="580.4" cy="41.6" r="1.6" fill="#fff" stroke="#3558c0" stroke-width="0.8"/>
<circle cx="574.3" cy="41.1" r="1.6" fill="#fff" stroke="#3558c0" stroke-width="0.8"/>
<circle cx="578.7" cy="50.5" r="1.6" fill="#fff" stroke="#3558c0" stroke-width="0.8"/>
<circle cx="583" cy="55.3" r="1.6" fill="#fff" stroke="#3558c0" stroke-width="0.8"/>
<circle cx="576.9" cy="55.5" r="1.6" fill="#fff" stroke="#3558c0" stroke-width="0.8"/>
<circle cx="581.3" cy="56" r="1.6" fill="#fff" stroke="#3558c0" stroke-width="0.8"/>
<circle cx="575.2" cy="42" r="1.6" fill="#fff" stroke="#3558c0" stroke-width="0.8"/>
<circle cx="579.6" cy="45.4" r="1.6" fill="#fff" stroke="#3558c0" stroke-width="0.8"/>
<line x1="593" y1="74" x2="593" y2="56" stroke="#e8343a" stroke-width="0.8"/>
<line x1="590.8" y1="56" x2="595.2" y2="56" stroke="#e8343a" stroke-width="0.8"/>
<line x1="590.8" y1="74" x2="595.2" y2="74" stroke="#e8343a" stroke-width="0.8"/>
<polygon points="588.3,49.2 586.7,52.3 590,52.3" fill="#e8343a" stroke="#e8343a" stroke-width="0.8"/>
<polygon points="592.6,49.6 590.9,52.8 594.2,52.8" fill="#e8343a" stroke="#e8343a" stroke-width="0.8"/>
<polygon points="596.8,52.6 595.2,55.7 598.5,55.7" fill="#e8343a" stroke="#e8343a" stroke-width="0.8"/>
<polygon points="590.9,53 589.2,56.1 592.5,56.1" fill="#e8343a" stroke="#e8343a" stroke-width="0.8"/>
<polygon points="595.1,59.3 593.5,62.4 596.8,62.4" fill="#e8343a" stroke="#e8343a" stroke-width="0.8"/>
<polygon points="589.2,64.9 587.5,68.1 590.8,68.1" fill="#e8343a" stroke="#e8343a" stroke-width="0.8"/>
<polygon points="593.4,66.1 591.8,69.2 595.1,69.2" fill="#e8343a" stroke="#e8343a" stroke-width="0.8"/>
<polygon points="597.7,68.3 596,71.4 599.3,71.4" fill="#e8343a" stroke="#e8343a" stroke-width="0.8"/>
<polygon points="591.7,70.6 590.1,73.7 593.4,73.7" fill="#e8343a" stroke="#e8343a" stroke-width="0.8"/>
<polygon points="596,71.7 594.3,74.8 597.6,74.8" fill="#e8343a" stroke="#e8343a" stroke-width="0.8"/>
<polygon points="590,72.8 588.4,75.9 591.7,75.9" fill="#e8343a" stroke="#e8343a" stroke-width="0.8"/>
<polygon points="594.3,73.9 592.6,77.1 595.9,77.1" fill="#e8343a" stroke="#e8343a" stroke-width="0.8"/>
<line x1="607.8" y1="48.8" x2="607.8" y2="39.8" stroke="#e8343a" stroke-width="0.8"/>
<line x1="605.5" y1="39.8" x2="610" y2="39.8" stroke="#e8343a" stroke-width="0.8"/>
<line x1="605.5" y1="48.8" x2="610" y2="48.8" stroke="#e8343a" stroke-width="0.8"/>
<polygon points="603,28.3 601.4,31.4 604.7,31.4" fill="#e8343a" stroke="#e8343a" stroke-width="0.8"/>
<polygon points="607.3,41.3 605.7,44.4 609,44.4" fill="#e8343a" stroke="#e8343a" stroke-width="0.8"/>
<polygon points="611.6,42 610,45.1 613.3,45.1" fill="#e8343a" stroke="#e8343a" stroke-width="0.8"/>
<polygon points="605.6,42.4 604,45.6 607.3,45.6" fill="#e8343a" stroke="#e8343a" stroke-width="0.8"/>
<polygon points="609.9,42.9 608.2,46 611.5,46" fill="#e8343a" stroke="#e8343a" stroke-width="0.8"/>
<polygon points="603.9,43.6 602.2,46.7 605.5,46.7" fill="#e8343a" stroke="#e8343a" stroke-width="0.8"/>
<polygon points="608.2,44.2 606.5,47.4 609.8,47.4" fill="#e8343a" stroke="#e8343a" stroke-width="0.8"/>
<polygon points="612.5,44.7 610.8,47.8 614.1,47.8" fill="#e8343a" stroke="#e8343a" stroke-width="0.8"/>
<polygon points="606.5,45.8 604.8,48.9 608.1,48.9" fill="#e8343a" stroke="#e8343a" stroke-width="0.8"/>
<polygon points="610.8,46.9 609.1,50.1 612.4,50.1" fill="#e8343a" stroke="#e8343a" stroke-width="0.8"/>
<polygon points="604.7,48.7 603.1,51.9 606.4,51.9" fill="#e8343a" stroke="#e8343a" stroke-width="0.8"/>
<polygon points="609,44.7 607.4,47.8 610.7,47.8" fill="#e8343a" stroke="#e8343a" stroke-width="0.8"/>
<line x1="551.5" y1="82.5" x2="551.5" y2="15" stroke="#000" stroke-width="0.9"/>
<line x1="549.7" y1="82.5" x2="551.5" y2="82.5" stroke="#000" stroke-width="0.9"/>
<text x="548.2" y="84.3" font-size="4.9" text-anchor="end" fill="#000" font-weight="bold">0</text>
<line x1="549.7" y1="60" x2="551.5" y2="60" stroke="#000" stroke-width="0.9"/>
<text x="548.2" y="61.8" font-size="4.9" text-anchor="end" fill="#000" font-weight="bold">10</text>
<line x1="549.7" y1="37.5" x2="551.5" y2="37.5" stroke="#000" stroke-width="0.9"/>
<text x="548.2" y="39.3" font-size="4.9" text-anchor="end" fill="#000" font-weight="bold">20</text>
<line x1="549.7" y1="15" x2="551.5" y2="15" stroke="#000" stroke-width="0.9"/>
<text x="548.2" y="16.8" font-size="4.9" text-anchor="end" fill="#000" font-weight="bold">30</text>
<line x1="551.5" y1="82.5" x2="619.6" y2="82.5" stroke="#000" stroke-width="0.9"/>
<line x1="563.9" y1="82.5" x2="563.9" y2="84.3" stroke="#000" stroke-width="0.8"/>
<line x1="578.2" y1="82.5" x2="578.2" y2="84.3" stroke="#000" stroke-width="0.8"/>
<line x1="593" y1="82.5" x2="593" y2="84.3" stroke="#000" stroke-width="0.8"/>
<line x1="607.7" y1="82.5" x2="607.7" y2="84.3" stroke="#000" stroke-width="0.8"/>
<polyline points="562.2,18 562.2,16.5 592.3,16.5 592.3,18" fill="none" stroke="#222" stroke-width="0.8"/>
<text x="577.2" y="17.4" font-size="9" text-anchor="middle" fill="#000" font-weight="bold">**</text>
<polyline points="594.3,27.7 594.3,26.2 609.7,26.2 609.7,27.7" fill="none" stroke="#222" stroke-width="0.8"/>
<text x="602" y="27.1" font-size="9" text-anchor="middle" fill="#000" font-weight="bold">**</text>
<text x="532.4" y="48.3" font-size="5.7" text-anchor="middle" fill="#000" font-weight="bold" transform="rotate(-90 532.4 48.3)">Mitochondrial length</text>
<text x="538.6" y="48.3" font-size="5.7" text-anchor="middle" fill="#000" font-weight="bold" transform="rotate(-90 538.6 48.3)">(aspect ratio%)</text>
<text x="566.2" y="88.4" font-size="5.6" text-anchor="end" font-weight="bold" transform="rotate(-45 566.2 88.4)">Pkm2<tspan font-size="3.5" dy="-2.1">fl/fl</tspan></text>
<text x="580.4" y="88.4" font-size="5.6" text-anchor="end" font-weight="bold" transform="rotate(-45 580.4 88.4)">Pkm2<tspan font-size="3.5" dy="-2.1">ΔKO</tspan></text>
<text x="595.2" y="88.4" font-size="5.6" text-anchor="end" font-weight="bold" transform="rotate(-45 595.2 88.4)">Pkm2<tspan font-size="3.5" dy="-2.1">fl/fl</tspan><tspan dy="2.1">+IL-1β</tspan></text>
<text x="609.9" y="88.4" font-size="5.6" text-anchor="end" font-weight="bold" transform="rotate(-45 609.9 88.4)">Pkm2<tspan font-size="3.5" dy="-2.1">ΔKO</tspan><tspan dy="2.1">+IL-1β</tspan></text>
<line x1="545.6" y1="116.4" x2="583.4" y2="116.4" stroke="#000" stroke-width="0.9"/>
<text x="564.8" y="123" font-size="5.8" text-anchor="middle" fill="#000">4-OHT</text>
<line x1="534.5" y1="202.5" x2="534.5" y2="136.8" stroke="#000" stroke-width="0.9"/>
<line x1="532.7" y1="202.5" x2="534.5" y2="202.5" stroke="#000" stroke-width="0.9"/>
<text x="531.2" y="204.3" font-size="4.9" text-anchor="end" fill="#000" font-weight="bold">0</text>
<line x1="532.7" y1="180.6" x2="534.5" y2="180.6" stroke="#000" stroke-width="0.9"/>
<text x="531.2" y="182.4" font-size="4.9" text-anchor="end" fill="#000" font-weight="bold">100</text>
<line x1="532.7" y1="158.7" x2="534.5" y2="158.7" stroke="#000" stroke-width="0.9"/>
<text x="531.2" y="160.5" font-size="4.9" text-anchor="end" fill="#000" font-weight="bold">200</text>
<line x1="532.7" y1="136.8" x2="534.5" y2="136.8" stroke="#000" stroke-width="0.9"/>
<text x="531.2" y="138.6" font-size="4.9" text-anchor="end" fill="#000" font-weight="bold">300</text>
<line x1="534.5" y1="202.5" x2="636.5" y2="202.5" stroke="#000" stroke-width="0.9"/>
<line x1="534.5" y1="202.5" x2="534.5" y2="204.3" stroke="#000" stroke-width="0.8"/>
<text x="534.5" y="209.5" font-size="5" text-anchor="middle" fill="#000" font-weight="bold">0</text>
<line x1="560" y1="202.5" x2="560" y2="204.3" stroke="#000" stroke-width="0.8"/>
<text x="560" y="209.5" font-size="5" text-anchor="middle" fill="#000" font-weight="bold">20</text>
<line x1="585.5" y1="202.5" x2="585.5" y2="204.3" stroke="#000" stroke-width="0.8"/>
<text x="585.5" y="209.5" font-size="5" text-anchor="middle" fill="#000" font-weight="bold">40</text>
<line x1="611" y1="202.5" x2="611" y2="204.3" stroke="#000" stroke-width="0.8"/>
<text x="611" y="209.5" font-size="5" text-anchor="middle" fill="#000" font-weight="bold">60</text>
<line x1="636.5" y1="202.5" x2="636.5" y2="204.3" stroke="#000" stroke-width="0.8"/>
<text x="636.5" y="209.5" font-size="5" text-anchor="middle" fill="#000" font-weight="bold">80</text>
<line x1="557.4" y1="202.5" x2="557.4" y2="136.8" stroke="#000" stroke-width="0.7" stroke-dasharray="1.4,1.2"/>
<line x1="580.5" y1="202.5" x2="580.5" y2="136.8" stroke="#000" stroke-width="0.7" stroke-dasharray="1.4,1.2"/>
<line x1="603.4" y1="202.5" x2="603.4" y2="136.8" stroke="#000" stroke-width="0.7" stroke-dasharray="1.4,1.2"/>
<text x="553.8" y="139" font-size="5.4" text-anchor="middle" fill="#000">Oligomycin</text>
<text x="580.2" y="139" font-size="5.4" text-anchor="middle" fill="#000">FCCP</text>
<text x="603.8" y="139" font-size="5.4" text-anchor="middle" fill="#000">Rot/AA</text>
<text x="520.6" y="169.2" font-size="5.5" text-anchor="middle" fill="#000" font-weight="bold" transform="rotate(-90 520.6 169.2)">OCR (pmol/min)</text>
<line x1="535.1" y1="184.8" x2="535.1" y2="188.3" stroke="#f07070" stroke-width="0.6"/>
<line x1="533.8" y1="188.3" x2="536.4" y2="188.3" stroke="#f07070" stroke-width="0.6"/>
<line x1="533.8" y1="184.8" x2="536.4" y2="184.8" stroke="#f07070" stroke-width="0.6"/>
<line x1="544.7" y1="184.8" x2="544.7" y2="188.3" stroke="#f07070" stroke-width="0.6"/>
<line x1="543.4" y1="188.3" x2="546" y2="188.3" stroke="#f07070" stroke-width="0.6"/>
<line x1="543.4" y1="184.8" x2="546" y2="184.8" stroke="#f07070" stroke-width="0.6"/>
<line x1="554.5" y1="185" x2="554.5" y2="188.5" stroke="#f07070" stroke-width="0.6"/>
<line x1="553.2" y1="188.5" x2="555.8" y2="188.5" stroke="#f07070" stroke-width="0.6"/>
<line x1="553.2" y1="185" x2="555.8" y2="185" stroke="#f07070" stroke-width="0.6"/>
<line x1="564.2" y1="195.3" x2="564.2" y2="197.5" stroke="#f07070" stroke-width="0.6"/>
<line x1="562.9" y1="197.5" x2="565.5" y2="197.5" stroke="#f07070" stroke-width="0.6"/>
<line x1="562.9" y1="195.3" x2="565.5" y2="195.3" stroke="#f07070" stroke-width="0.6"/>
<line x1="573.6" y1="195.3" x2="573.6" y2="197.5" stroke="#f07070" stroke-width="0.6"/>
<line x1="572.3" y1="197.5" x2="574.9" y2="197.5" stroke="#f07070" stroke-width="0.6"/>
<line x1="572.3" y1="195.3" x2="574.9" y2="195.3" stroke="#f07070" stroke-width="0.6"/>
<line x1="586.8" y1="171.8" x2="586.8" y2="180.6" stroke="#f07070" stroke-width="0.6"/>
<line x1="585.5" y1="180.6" x2="588.1" y2="180.6" stroke="#f07070" stroke-width="0.6"/>
<line x1="585.5" y1="171.8" x2="588.1" y2="171.8" stroke="#f07070" stroke-width="0.6"/>
<line x1="596.7" y1="172.3" x2="596.7" y2="181" stroke="#f07070" stroke-width="0.6"/>
<line x1="595.4" y1="181" x2="598" y2="181" stroke="#f07070" stroke-width="0.6"/>
<line x1="595.4" y1="172.3" x2="598" y2="172.3" stroke="#f07070" stroke-width="0.6"/>
<line x1="609.7" y1="199" x2="609.7" y2="200.7" stroke="#f07070" stroke-width="0.6"/>
<line x1="608.4" y1="200.7" x2="611" y2="200.7" stroke="#f07070" stroke-width="0.6"/>
<line x1="608.4" y1="199" x2="611" y2="199" stroke="#f07070" stroke-width="0.6"/>
<line x1="619.3" y1="198.6" x2="619.3" y2="200.3" stroke="#f07070" stroke-width="0.6"/>
<line x1="618" y1="200.3" x2="620.6" y2="200.3" stroke="#f07070" stroke-width="0.6"/>
<line x1="618" y1="198.6" x2="620.6" y2="198.6" stroke="#f07070" stroke-width="0.6"/>
<line x1="628.9" y1="198.3" x2="628.9" y2="200.1" stroke="#f07070" stroke-width="0.6"/>
<line x1="627.6" y1="200.1" x2="630.1" y2="200.1" stroke="#f07070" stroke-width="0.6"/>
<line x1="627.6" y1="198.3" x2="630.1" y2="198.3" stroke="#f07070" stroke-width="0.6"/>
<polyline points="535.1,186.5 544.7,186.5 554.5,186.7 564.2,196.4 573.6,196.4 586.8,176.2 596.7,176.7 609.7,199.9 619.3,199.4 628.9,199.2" fill="none" stroke="#f07070" stroke-width="0.9"/>
<polygon points="535.1,185.2 533.9,187.5 536.3,187.5" fill="#f07070" stroke="#f07070" stroke-width="0.3"/>
<polygon points="544.7,185.2 543.5,187.5 545.9,187.5" fill="#f07070" stroke="#f07070" stroke-width="0.3"/>
<polygon points="554.5,185.4 553.3,187.7 555.7,187.7" fill="#f07070" stroke="#f07070" stroke-width="0.3"/>
<polygon points="564.2,195 563,197.3 565.4,197.3" fill="#f07070" stroke="#f07070" stroke-width="0.3"/>
<polygon points="573.6,195 572.4,197.3 574.8,197.3" fill="#f07070" stroke="#f07070" stroke-width="0.3"/>
<polygon points="586.8,174.9 585.6,177.2 588,177.2" fill="#f07070" stroke="#f07070" stroke-width="0.3"/>
<polygon points="596.7,175.3 595.5,177.6 597.9,177.6" fill="#f07070" stroke="#f07070" stroke-width="0.3"/>
<polygon points="609.7,198.6 608.5,200.8 610.9,200.8" fill="#f07070" stroke="#f07070" stroke-width="0.3"/>
<polygon points="619.3,198.1 618.1,200.4 620.5,200.4" fill="#f07070" stroke="#f07070" stroke-width="0.3"/>
<polygon points="628.9,197.9 627.6,200.2 630.1,200.2" fill="#f07070" stroke="#f07070" stroke-width="0.3"/>
<line x1="535.1" y1="177.3" x2="535.1" y2="179.5" stroke="#e8303a" stroke-width="0.6"/>
<line x1="533.8" y1="179.5" x2="536.4" y2="179.5" stroke="#e8303a" stroke-width="0.6"/>
<line x1="533.8" y1="177.3" x2="536.4" y2="177.3" stroke="#e8303a" stroke-width="0.6"/>
<line x1="544.7" y1="178.4" x2="544.7" y2="180.6" stroke="#e8303a" stroke-width="0.6"/>
<line x1="543.4" y1="180.6" x2="546" y2="180.6" stroke="#e8303a" stroke-width="0.6"/>
<line x1="543.4" y1="178.4" x2="546" y2="178.4" stroke="#e8303a" stroke-width="0.6"/>
<line x1="554.5" y1="178.4" x2="554.5" y2="180.6" stroke="#e8303a" stroke-width="0.6"/>
<line x1="553.2" y1="180.6" x2="555.8" y2="180.6" stroke="#e8303a" stroke-width="0.6"/>
<line x1="553.2" y1="178.4" x2="555.8" y2="178.4" stroke="#e8303a" stroke-width="0.6"/>
<line x1="564.2" y1="190.7" x2="564.2" y2="192.4" stroke="#e8303a" stroke-width="0.6"/>
<line x1="562.9" y1="192.4" x2="565.5" y2="192.4" stroke="#e8303a" stroke-width="0.6"/>
<line x1="562.9" y1="190.7" x2="565.5" y2="190.7" stroke="#e8303a" stroke-width="0.6"/>
<line x1="573.6" y1="190.7" x2="573.6" y2="192.4" stroke="#e8303a" stroke-width="0.6"/>
<line x1="572.3" y1="192.4" x2="574.9" y2="192.4" stroke="#e8303a" stroke-width="0.6"/>
<line x1="572.3" y1="190.7" x2="574.9" y2="190.7" stroke="#e8303a" stroke-width="0.6"/>
<line x1="586.8" y1="163.1" x2="586.8" y2="168.3" stroke="#e8303a" stroke-width="0.6"/>
<line x1="585.5" y1="168.3" x2="588.1" y2="168.3" stroke="#e8303a" stroke-width="0.6"/>
<line x1="585.5" y1="163.1" x2="588.1" y2="163.1" stroke="#e8303a" stroke-width="0.6"/>
<line x1="596.7" y1="164.2" x2="596.7" y2="169.4" stroke="#e8303a" stroke-width="0.6"/>
<line x1="595.4" y1="169.4" x2="598" y2="169.4" stroke="#e8303a" stroke-width="0.6"/>
<line x1="595.4" y1="164.2" x2="598" y2="164.2" stroke="#e8303a" stroke-width="0.6"/>
<line x1="609.7" y1="198.3" x2="609.7" y2="200.1" stroke="#e8303a" stroke-width="0.6"/>
<line x1="608.4" y1="200.1" x2="611" y2="200.1" stroke="#e8303a" stroke-width="0.6"/>
<line x1="608.4" y1="198.3" x2="611" y2="198.3" stroke="#e8303a" stroke-width="0.6"/>
<line x1="619.3" y1="198.1" x2="619.3" y2="199.9" stroke="#e8303a" stroke-width="0.6"/>
<line x1="618" y1="199.9" x2="620.6" y2="199.9" stroke="#e8303a" stroke-width="0.6"/>
<line x1="618" y1="198.1" x2="620.6" y2="198.1" stroke="#e8303a" stroke-width="0.6"/>
<line x1="628.9" y1="197.7" x2="628.9" y2="199.4" stroke="#e8303a" stroke-width="0.6"/>
<line x1="627.6" y1="199.4" x2="630.1" y2="199.4" stroke="#e8303a" stroke-width="0.6"/>
<line x1="627.6" y1="197.7" x2="630.1" y2="197.7" stroke="#e8303a" stroke-width="0.6"/>
<polyline points="535.1,178.4 544.7,179.5 554.5,179.5 564.2,191.6 573.6,191.6 586.8,165.7 596.7,166.8 609.7,199.2 619.3,199 628.9,198.6" fill="none" stroke="#e8303a" stroke-width="0.9"/>
<polygon points="535.1,179.7 533.9,177.4 536.3,177.4" fill="#e8303a" stroke="#e8303a" stroke-width="0.3"/>
<polygon points="544.7,180.8 543.5,178.5 545.9,178.5" fill="#e8303a" stroke="#e8303a" stroke-width="0.3"/>
<polygon points="554.5,180.8 553.3,178.5 555.7,178.5" fill="#e8303a" stroke="#e8303a" stroke-width="0.3"/>
<polygon points="564.2,192.9 563,190.6 565.4,190.6" fill="#e8303a" stroke="#e8303a" stroke-width="0.3"/>
<polygon points="573.6,192.9 572.4,190.6 574.8,190.6" fill="#e8303a" stroke="#e8303a" stroke-width="0.3"/>
<polygon points="586.8,167 585.6,164.7 588,164.7" fill="#e8303a" stroke="#e8303a" stroke-width="0.3"/>
<polygon points="596.7,168.1 595.5,165.8 597.9,165.8" fill="#e8303a" stroke="#e8303a" stroke-width="0.3"/>
<polygon points="609.7,200.5 608.5,198.3 610.9,198.3" fill="#e8303a" stroke="#e8303a" stroke-width="0.3"/>
<polygon points="619.3,200.3 618.1,198 620.5,198" fill="#e8303a" stroke="#e8303a" stroke-width="0.3"/>
<polygon points="628.9,199.9 627.6,197.6 630.1,197.6" fill="#e8303a" stroke="#e8303a" stroke-width="0.3"/>
<line x1="535.1" y1="178.8" x2="535.1" y2="183.2" stroke="#5b9bd8" stroke-width="0.6"/>
<line x1="533.8" y1="183.2" x2="536.4" y2="183.2" stroke="#5b9bd8" stroke-width="0.6"/>
<line x1="533.8" y1="178.8" x2="536.4" y2="178.8" stroke="#5b9bd8" stroke-width="0.6"/>
<line x1="544.7" y1="178.8" x2="544.7" y2="183.2" stroke="#5b9bd8" stroke-width="0.6"/>
<line x1="543.4" y1="183.2" x2="546" y2="183.2" stroke="#5b9bd8" stroke-width="0.6"/>
<line x1="543.4" y1="178.8" x2="546" y2="178.8" stroke="#5b9bd8" stroke-width="0.6"/>
<line x1="554.5" y1="179.5" x2="554.5" y2="183.9" stroke="#5b9bd8" stroke-width="0.6"/>
<line x1="553.2" y1="183.9" x2="555.8" y2="183.9" stroke="#5b9bd8" stroke-width="0.6"/>
<line x1="553.2" y1="179.5" x2="555.8" y2="179.5" stroke="#5b9bd8" stroke-width="0.6"/>
<line x1="564.2" y1="190.9" x2="564.2" y2="193.1" stroke="#5b9bd8" stroke-width="0.6"/>
<line x1="562.9" y1="193.1" x2="565.5" y2="193.1" stroke="#5b9bd8" stroke-width="0.6"/>
<line x1="562.9" y1="190.9" x2="565.5" y2="190.9" stroke="#5b9bd8" stroke-width="0.6"/>
<line x1="573.6" y1="191.3" x2="573.6" y2="193.5" stroke="#5b9bd8" stroke-width="0.6"/>
<line x1="572.3" y1="193.5" x2="574.9" y2="193.5" stroke="#5b9bd8" stroke-width="0.6"/>
<line x1="572.3" y1="191.3" x2="574.9" y2="191.3" stroke="#5b9bd8" stroke-width="0.6"/>
<line x1="586.8" y1="158.3" x2="586.8" y2="164.8" stroke="#5b9bd8" stroke-width="0.6"/>
<line x1="585.5" y1="164.8" x2="588.1" y2="164.8" stroke="#5b9bd8" stroke-width="0.6"/>
<line x1="585.5" y1="158.3" x2="588.1" y2="158.3" stroke="#5b9bd8" stroke-width="0.6"/>
<line x1="596.7" y1="158.7" x2="596.7" y2="165.3" stroke="#5b9bd8" stroke-width="0.6"/>
<line x1="595.4" y1="165.3" x2="598" y2="165.3" stroke="#5b9bd8" stroke-width="0.6"/>
<line x1="595.4" y1="158.7" x2="598" y2="158.7" stroke="#5b9bd8" stroke-width="0.6"/>
<line x1="609.7" y1="198.3" x2="609.7" y2="200.1" stroke="#5b9bd8" stroke-width="0.6"/>
<line x1="608.4" y1="200.1" x2="611" y2="200.1" stroke="#5b9bd8" stroke-width="0.6"/>
<line x1="608.4" y1="198.3" x2="611" y2="198.3" stroke="#5b9bd8" stroke-width="0.6"/>
<line x1="619.3" y1="197.7" x2="619.3" y2="199.4" stroke="#5b9bd8" stroke-width="0.6"/>
<line x1="618" y1="199.4" x2="620.6" y2="199.4" stroke="#5b9bd8" stroke-width="0.6"/>
<line x1="618" y1="197.7" x2="620.6" y2="197.7" stroke="#5b9bd8" stroke-width="0.6"/>
<line x1="628.9" y1="196.4" x2="628.9" y2="199.9" stroke="#5b9bd8" stroke-width="0.6"/>
<line x1="627.6" y1="199.9" x2="630.1" y2="199.9" stroke="#5b9bd8" stroke-width="0.6"/>
<line x1="627.6" y1="196.4" x2="630.1" y2="196.4" stroke="#5b9bd8" stroke-width="0.6"/>
<polyline points="535.1,181 544.7,181 554.5,181.7 564.2,192 573.6,192.4 586.8,161.5 596.7,162 609.7,199.2 619.3,198.6 628.9,198.1" fill="none" stroke="#5b9bd8" stroke-width="0.9"/>
<circle cx="535.1" cy="181" r="1.3" fill="#5b9bd8"/>
<circle cx="544.7" cy="181" r="1.3" fill="#5b9bd8"/>
<circle cx="554.5" cy="181.7" r="1.3" fill="#5b9bd8"/>
<circle cx="564.2" cy="192" r="1.3" fill="#5b9bd8"/>
<circle cx="573.6" cy="192.4" r="1.3" fill="#5b9bd8"/>
<circle cx="586.8" cy="161.5" r="1.3" fill="#5b9bd8"/>
<circle cx="596.7" cy="162" r="1.3" fill="#5b9bd8"/>
<circle cx="609.7" cy="199.2" r="1.3" fill="#5b9bd8"/>
<circle cx="619.3" cy="198.6" r="1.3" fill="#5b9bd8"/>
<circle cx="628.9" cy="198.1" r="1.3" fill="#5b9bd8"/>
<line x1="535.1" y1="172.3" x2="535.1" y2="175.8" stroke="#2d4fb0" stroke-width="0.6"/>
<line x1="533.8" y1="175.8" x2="536.4" y2="175.8" stroke="#2d4fb0" stroke-width="0.6"/>
<line x1="533.8" y1="172.3" x2="536.4" y2="172.3" stroke="#2d4fb0" stroke-width="0.6"/>
<line x1="544.7" y1="172.3" x2="544.7" y2="175.8" stroke="#2d4fb0" stroke-width="0.6"/>
<line x1="543.4" y1="175.8" x2="546" y2="175.8" stroke="#2d4fb0" stroke-width="0.6"/>
<line x1="543.4" y1="172.3" x2="546" y2="172.3" stroke="#2d4fb0" stroke-width="0.6"/>
<line x1="554.5" y1="172.3" x2="554.5" y2="175.8" stroke="#2d4fb0" stroke-width="0.6"/>
<line x1="553.2" y1="175.8" x2="555.8" y2="175.8" stroke="#2d4fb0" stroke-width="0.6"/>
<line x1="553.2" y1="172.3" x2="555.8" y2="172.3" stroke="#2d4fb0" stroke-width="0.6"/>
<line x1="564.2" y1="186.3" x2="564.2" y2="188.9" stroke="#2d4fb0" stroke-width="0.6"/>
<line x1="562.9" y1="188.9" x2="565.5" y2="188.9" stroke="#2d4fb0" stroke-width="0.6"/>
<line x1="562.9" y1="186.3" x2="565.5" y2="186.3" stroke="#2d4fb0" stroke-width="0.6"/>
<line x1="573.6" y1="186.3" x2="573.6" y2="188.9" stroke="#2d4fb0" stroke-width="0.6"/>
<line x1="572.3" y1="188.9" x2="574.9" y2="188.9" stroke="#2d4fb0" stroke-width="0.6"/>
<line x1="572.3" y1="186.3" x2="574.9" y2="186.3" stroke="#2d4fb0" stroke-width="0.6"/>
<line x1="586.8" y1="142.7" x2="586.8" y2="150.6" stroke="#2d4fb0" stroke-width="0.6"/>
<line x1="585.5" y1="150.6" x2="588.1" y2="150.6" stroke="#2d4fb0" stroke-width="0.6"/>
<line x1="585.5" y1="142.7" x2="588.1" y2="142.7" stroke="#2d4fb0" stroke-width="0.6"/>
<line x1="596.7" y1="143.8" x2="596.7" y2="151.7" stroke="#2d4fb0" stroke-width="0.6"/>
<line x1="595.4" y1="151.7" x2="598" y2="151.7" stroke="#2d4fb0" stroke-width="0.6"/>
<line x1="595.4" y1="143.8" x2="598" y2="143.8" stroke="#2d4fb0" stroke-width="0.6"/>
<line x1="609.7" y1="197.5" x2="609.7" y2="199.7" stroke="#2d4fb0" stroke-width="0.6"/>
<line x1="608.4" y1="199.7" x2="611" y2="199.7" stroke="#2d4fb0" stroke-width="0.6"/>
<line x1="608.4" y1="197.5" x2="611" y2="197.5" stroke="#2d4fb0" stroke-width="0.6"/>
<line x1="619.3" y1="197" x2="619.3" y2="199.2" stroke="#2d4fb0" stroke-width="0.6"/>
<line x1="618" y1="199.2" x2="620.6" y2="199.2" stroke="#2d4fb0" stroke-width="0.6"/>
<line x1="618" y1="197" x2="620.6" y2="197" stroke="#2d4fb0" stroke-width="0.6"/>
<line x1="628.9" y1="195.9" x2="628.9" y2="199.4" stroke="#2d4fb0" stroke-width="0.6"/>
<line x1="627.6" y1="199.4" x2="630.1" y2="199.4" stroke="#2d4fb0" stroke-width="0.6"/>
<line x1="627.6" y1="195.9" x2="630.1" y2="195.9" stroke="#2d4fb0" stroke-width="0.6"/>
<polyline points="535.1,174 544.7,174 554.5,174 564.2,187.6 573.6,187.6 586.8,146.7 596.7,147.8 609.7,198.6 619.3,198.1 628.9,197.7" fill="none" stroke="#2d4fb0" stroke-width="0.9"/>
<rect x="533.8" y="172.7" width="2.6" height="2.6" fill="#2d4fb0" stroke="none" stroke-width="0.8"/>
<rect x="543.4" y="172.7" width="2.6" height="2.6" fill="#2d4fb0" stroke="none" stroke-width="0.8"/>
<rect x="553.2" y="172.7" width="2.6" height="2.6" fill="#2d4fb0" stroke="none" stroke-width="0.8"/>
<rect x="562.9" y="186.3" width="2.6" height="2.6" fill="#2d4fb0" stroke="none" stroke-width="0.8"/>
<rect x="572.3" y="186.3" width="2.6" height="2.6" fill="#2d4fb0" stroke="none" stroke-width="0.8"/>
<rect x="585.5" y="145.4" width="2.6" height="2.6" fill="#2d4fb0" stroke="none" stroke-width="0.8"/>
<rect x="595.4" y="146.4" width="2.6" height="2.6" fill="#2d4fb0" stroke="none" stroke-width="0.8"/>
<rect x="608.4" y="197.3" width="2.6" height="2.6" fill="#2d4fb0" stroke="none" stroke-width="0.8"/>
<rect x="618" y="196.8" width="2.6" height="2.6" fill="#2d4fb0" stroke="none" stroke-width="0.8"/>
<rect x="627.6" y="196.4" width="2.6" height="2.6" fill="#2d4fb0" stroke="none" stroke-width="0.8"/>
<line x1="608.9" y1="150.4" x2="616.5" y2="150.4" stroke="#5b9bd8" stroke-width="0.9"/>
<circle cx="612.7" cy="150.4" r="1.3" fill="#5b9bd8"/>
<text x="620" y="152.4" font-size="5.6" text-anchor="start" fill="#000" font-weight="bold">Pkm2<tspan font-size="3.5" dy="-2.1">fl/fl</tspan></text>
<line x1="608.9" y1="160.7" x2="616.5" y2="160.7" stroke="#2d4fb0" stroke-width="0.9"/>
<rect x="611.4" y="159.4" width="2.6" height="2.6" fill="#2d4fb0" stroke="none" stroke-width="0.8"/>
<text x="620" y="162.7" font-size="5.6" text-anchor="start" fill="#000" font-weight="bold">Pkm2<tspan font-size="3.5" dy="-2.1">ΔKO</tspan></text>
<line x1="608.9" y1="170.9" x2="616.5" y2="170.9" stroke="#f07070" stroke-width="0.9"/>
<polygon points="612.7,169.6 611.5,171.9 613.9,171.9" fill="#f07070" stroke="#f07070" stroke-width="0.3"/>
<text x="620" y="172.9" font-size="5.6" text-anchor="start" fill="#000" font-weight="bold">Pkm2<tspan font-size="3.5" dy="-2.1">fl/fl</tspan><tspan dy="2.1">+IL-1β</tspan></text>
<line x1="608.9" y1="181.1" x2="616.5" y2="181.1" stroke="#e8303a" stroke-width="0.9"/>
<polygon points="612.7,182.4 611.5,180.1 613.9,180.1" fill="#e8303a" stroke="#e8303a" stroke-width="0.3"/>
<text x="620" y="183.1" font-size="5.6" text-anchor="start" fill="#000" font-weight="bold">Pkm2<tspan font-size="3.5" dy="-2.1">ΔKO</tspan><tspan dy="2.1">+IL-1β</tspan></text>
<line x1="662.5" y1="147.4" x2="662.5" y2="182.2" stroke="#777" stroke-width="0.9"/>
<text x="664.9" y="165" font-size="5.8" text-anchor="middle" fill="#000" transform="rotate(90 664.9 165)">4-OHT</text>
<rect x="556.8" y="259.8" width="14.7" height="42.7" fill="#8eaad7" stroke="none" stroke-width="0.8"/>
<rect x="574" y="245.3" width="14.6" height="57.2" fill="#4a6dbd" stroke="none" stroke-width="0.8"/>
<rect x="591" y="269.5" width="15" height="33" fill="#f19a9a" stroke="none" stroke-width="0.8"/>
<rect x="608.4" y="255" width="15" height="47.5" fill="#e8474a" stroke="none" stroke-width="0.8"/>
<line x1="564.1" y1="261.6" x2="564.1" y2="258.1" stroke="#3558c0" stroke-width="0.8"/>
<line x1="561.9" y1="258.1" x2="566.4" y2="258.1" stroke="#3558c0" stroke-width="0.8"/>
<line x1="561.9" y1="261.6" x2="566.4" y2="261.6" stroke="#3558c0" stroke-width="0.8"/>
<circle cx="558.4" cy="253.2" r="1.6" fill="#fff" stroke="#3558c0" stroke-width="0.8"/>
<circle cx="569.9" cy="257.2" r="1.6" fill="#fff" stroke="#3558c0" stroke-width="0.8"/>
<circle cx="567.6" cy="259.8" r="1.6" fill="#fff" stroke="#3558c0" stroke-width="0.8"/>
<circle cx="565.3" cy="260.7" r="1.6" fill="#fff" stroke="#3558c0" stroke-width="0.8"/>
<circle cx="563" cy="260.3" r="1.6" fill="#fff" stroke="#3558c0" stroke-width="0.8"/>
<circle cx="560.7" cy="259.8" r="1.6" fill="#fff" stroke="#3558c0" stroke-width="0.8"/>
<line x1="581.3" y1="247.9" x2="581.3" y2="242.7" stroke="#3558c0" stroke-width="0.8"/>
<line x1="579.1" y1="242.7" x2="583.5" y2="242.7" stroke="#3558c0" stroke-width="0.8"/>
<line x1="579.1" y1="247.9" x2="583.5" y2="247.9" stroke="#3558c0" stroke-width="0.8"/>
<rect x="574" y="240.6" width="3.3" height="3.3" fill="#fff" stroke="#3558c0" stroke-width="0.8"/>
<rect x="585.3" y="241" width="3.3" height="3.3" fill="#fff" stroke="#3558c0" stroke-width="0.8"/>
<rect x="583.1" y="242.3" width="3.3" height="3.3" fill="#fff" stroke="#3558c0" stroke-width="0.8"/>
<rect x="580.8" y="244.5" width="3.3" height="3.3" fill="#fff" stroke="#3558c0" stroke-width="0.8"/>
<rect x="578.5" y="247.2" width="3.3" height="3.3" fill="#fff" stroke="#3558c0" stroke-width="0.8"/>
<rect x="576.2" y="245.4" width="3.3" height="3.3" fill="#fff" stroke="#3558c0" stroke-width="0.8"/>
<line x1="598.5" y1="273.9" x2="598.5" y2="265.1" stroke="#e8343a" stroke-width="0.8"/>
<line x1="596.3" y1="265.1" x2="600.7" y2="265.1" stroke="#e8343a" stroke-width="0.8"/>
<line x1="596.3" y1="273.9" x2="600.7" y2="273.9" stroke="#e8343a" stroke-width="0.8"/>
<polygon points="592.6,261.1 591,264.2 594.3,264.2" fill="#fff" stroke="#e8343a" stroke-width="0.8"/>
<polygon points="604.4,264.6 602.7,267.7 606,267.7" fill="#fff" stroke="#e8343a" stroke-width="0.8"/>
<polygon points="602,266.8 600.4,269.9 603.7,269.9" fill="#fff" stroke="#e8343a" stroke-width="0.8"/>
<polygon points="599.7,269.9 598,273 601.3,273" fill="#fff" stroke="#e8343a" stroke-width="0.8"/>
<polygon points="597.3,273.4 595.7,276.5 599,276.5" fill="#fff" stroke="#e8343a" stroke-width="0.8"/>
<polygon points="595,270.8 593.3,273.9 596.6,273.9" fill="#fff" stroke="#e8343a" stroke-width="0.8"/>
<line x1="615.9" y1="258.5" x2="615.9" y2="251.5" stroke="#e8343a" stroke-width="0.8"/>
<line x1="613.7" y1="251.5" x2="618.1" y2="251.5" stroke="#e8343a" stroke-width="0.8"/>
<line x1="613.7" y1="258.5" x2="618.1" y2="258.5" stroke="#e8343a" stroke-width="0.8"/>
<polygon points="610,250.6 608.4,247.5 611.7,247.5" fill="#fff" stroke="#e8343a" stroke-width="0.8"/>
<polygon points="621.8,252.4 620.1,249.3 623.4,249.3" fill="#fff" stroke="#e8343a" stroke-width="0.8"/>
<polygon points="619.4,255.9 617.8,252.8 621.1,252.8" fill="#fff" stroke="#e8343a" stroke-width="0.8"/>
<polygon points="617.1,258.1 615.4,255 618.7,255" fill="#fff" stroke="#e8343a" stroke-width="0.8"/>
<polygon points="614.7,261.2 613.1,258.1 616.4,258.1" fill="#fff" stroke="#e8343a" stroke-width="0.8"/>
<polygon points="612.4,263 610.7,259.8 614,259.8" fill="#fff" stroke="#e8343a" stroke-width="0.8"/>
<line x1="550.5" y1="302.5" x2="550.5" y2="236.5" stroke="#000" stroke-width="0.9"/>
<line x1="548.7" y1="302.5" x2="550.5" y2="302.5" stroke="#000" stroke-width="0.9"/>
<text x="547.2" y="304.3" font-size="4.9" text-anchor="end" fill="#000" font-weight="bold">0</text>
<line x1="548.7" y1="280.5" x2="550.5" y2="280.5" stroke="#000" stroke-width="0.9"/>
<text x="547.2" y="282.3" font-size="4.9" text-anchor="end" fill="#000" font-weight="bold">50</text>
<line x1="548.7" y1="258.5" x2="550.5" y2="258.5" stroke="#000" stroke-width="0.9"/>
<text x="547.2" y="260.3" font-size="4.9" text-anchor="end" fill="#000" font-weight="bold">100</text>
<line x1="548.7" y1="236.5" x2="550.5" y2="236.5" stroke="#000" stroke-width="0.9"/>
<text x="547.2" y="238.3" font-size="4.9" text-anchor="end" fill="#000" font-weight="bold">150</text>
<line x1="550.5" y1="302.5" x2="628.7" y2="302.5" stroke="#000" stroke-width="0.9"/>
<line x1="564.2" y1="302.5" x2="564.2" y2="304.3" stroke="#000" stroke-width="0.8"/>
<line x1="581.3" y1="302.5" x2="581.3" y2="304.3" stroke="#000" stroke-width="0.8"/>
<line x1="598.5" y1="302.5" x2="598.5" y2="304.3" stroke="#000" stroke-width="0.8"/>
<line x1="615.9" y1="302.5" x2="615.9" y2="304.3" stroke="#000" stroke-width="0.8"/>
<polyline points="564.2,233.3 564.2,231.8 581.3,231.8 581.3,233.3" fill="none" stroke="#222" stroke-width="0.8"/>
<text x="572.8" y="232.7" font-size="9" text-anchor="middle" fill="#000" font-weight="bold">*</text>
<polyline points="598.5,240.5 598.5,239 615.9,239 615.9,240.5" fill="none" stroke="#222" stroke-width="0.8"/>
<text x="607.2" y="239.9" font-size="9" text-anchor="middle" fill="#000" font-weight="bold">***</text>
<text x="535.7" y="269.2" font-size="5.5" text-anchor="middle" fill="#000" font-weight="bold" transform="rotate(-90 535.7 269.2)">OCR (pmol/min)</text>
<text x="566.6" y="308.6" font-size="5.6" text-anchor="end" font-weight="bold" transform="rotate(-45 566.6 308.6)">Pkm2<tspan font-size="3.5" dy="-2.1">fl/fl</tspan></text>
<text x="583.6" y="308.6" font-size="5.6" text-anchor="end" font-weight="bold" transform="rotate(-45 583.6 308.6)">Pkm2<tspan font-size="3.5" dy="-2.1">ΔKO</tspan></text>
<text x="600.8" y="308.6" font-size="5.6" text-anchor="end" font-weight="bold" transform="rotate(-45 600.8 308.6)">Pkm2<tspan font-size="3.5" dy="-2.1">fl/fl</tspan><tspan dy="2.1">+IL-1β</tspan></text>
<text x="618.2" y="308.6" font-size="5.6" text-anchor="end" font-weight="bold" transform="rotate(-45 618.2 308.6)">Pkm2<tspan font-size="3.5" dy="-2.1">ΔKO</tspan><tspan dy="2.1">+IL-1β</tspan></text>
<line x1="547" y1="336.3" x2="594.5" y2="336.3" stroke="#000" stroke-width="0.9"/>
<text x="570.7" y="342.9" font-size="5.8" text-anchor="middle" fill="#000">4-OHT</text>
<rect x="336.2" y="413.1" width="12.7" height="42.4" fill="#dcdcdc" stroke="none" stroke-width="0.8"/>
<rect x="351.9" y="430.6" width="12.7" height="24.9" fill="#e35d62" stroke="none" stroke-width="0.8"/>
<rect x="367.2" y="421.1" width="12.8" height="34.4" fill="#5b8fd6" stroke="none" stroke-width="0.8"/>
<rect x="383.1" y="415.6" width="12.9" height="39.9" fill="#2d4fa3" stroke="none" stroke-width="0.8"/>
<line x1="342.5" y1="426.5" x2="342.5" y2="402.3" stroke="#666" stroke-width="0.8"/>
<line x1="340.3" y1="402.3" x2="344.7" y2="402.3" stroke="#666" stroke-width="0.8"/>
<line x1="340.3" y1="426.5" x2="344.7" y2="426.5" stroke="#666" stroke-width="0.8"/>
<rect x="335.9" y="394.6" width="3.3" height="3.3" fill="#fff" stroke="#666" stroke-width="0.8"/>
<rect x="340.4" y="399.9" width="3.3" height="3.3" fill="#fff" stroke="#666" stroke-width="0.8"/>
<rect x="345" y="401.6" width="3.3" height="3.3" fill="#fff" stroke="#666" stroke-width="0.8"/>
<rect x="338.6" y="404.2" width="3.3" height="3.3" fill="#fff" stroke="#666" stroke-width="0.8"/>
<rect x="343.2" y="406.7" width="3.3" height="3.3" fill="#fff" stroke="#666" stroke-width="0.8"/>
<rect x="336.8" y="409.6" width="3.3" height="3.3" fill="#fff" stroke="#666" stroke-width="0.8"/>
<rect x="341.4" y="411.7" width="3.3" height="3.3" fill="#fff" stroke="#666" stroke-width="0.8"/>
<rect x="345.9" y="416.3" width="3.3" height="3.3" fill="#fff" stroke="#666" stroke-width="0.8"/>
<rect x="339.5" y="421.2" width="3.3" height="3.3" fill="#fff" stroke="#666" stroke-width="0.8"/>
<rect x="344.1" y="424.8" width="3.3" height="3.3" fill="#fff" stroke="#666" stroke-width="0.8"/>
<rect x="337.7" y="426.3" width="3.3" height="3.3" fill="#fff" stroke="#666" stroke-width="0.8"/>
<rect x="342.3" y="428.4" width="3.3" height="3.3" fill="#fff" stroke="#666" stroke-width="0.8"/>
<line x1="358.2" y1="433.7" x2="358.2" y2="426.5" stroke="#e8343a" stroke-width="0.8"/>
<line x1="356.1" y1="426.5" x2="360.4" y2="426.5" stroke="#e8343a" stroke-width="0.8"/>
<line x1="356.1" y1="433.7" x2="360.4" y2="433.7" stroke="#e8343a" stroke-width="0.8"/>
<polygon points="353.3,419.8 351.6,422.9 354.9,422.9" fill="#e8343a" stroke="#e8343a" stroke-width="0.8"/>
<polygon points="357.8,418.6 356.1,421.7 359.4,421.7" fill="#e8343a" stroke="#e8343a" stroke-width="0.8"/>
<polygon points="362.3,423.4 360.7,426.6 364,426.6" fill="#e8343a" stroke="#e8343a" stroke-width="0.8"/>
<polygon points="356,424.6 354.3,427.8 357.6,427.8" fill="#e8343a" stroke="#e8343a" stroke-width="0.8"/>
<polygon points="360.5,427.1 358.9,430.2 362.2,430.2" fill="#e8343a" stroke="#e8343a" stroke-width="0.8"/>
<polygon points="354.2,429.5 352.5,432.6 355.8,432.6" fill="#e8343a" stroke="#e8343a" stroke-width="0.8"/>
<polygon points="358.7,430.7 357.1,433.8 360.4,433.8" fill="#e8343a" stroke="#e8343a" stroke-width="0.8"/>
<polygon points="363.2,433.1 361.6,436.2 364.9,436.2" fill="#e8343a" stroke="#e8343a" stroke-width="0.8"/>
<polygon points="356.9,435.5 355.2,438.7 358.5,438.7" fill="#e8343a" stroke="#e8343a" stroke-width="0.8"/>
<polygon points="361.4,436.7 359.8,439.9 363.1,439.9" fill="#e8343a" stroke="#e8343a" stroke-width="0.8"/>
<polygon points="355.1,423.7 353.4,426.8 356.7,426.8" fill="#e8343a" stroke="#e8343a" stroke-width="0.8"/>
<polygon points="359.6,428 358,431.2 361.3,431.2" fill="#e8343a" stroke="#e8343a" stroke-width="0.8"/>
<line x1="373.6" y1="428.9" x2="373.6" y2="414.4" stroke="#3558c0" stroke-width="0.8"/>
<line x1="371.4" y1="414.4" x2="375.8" y2="414.4" stroke="#3558c0" stroke-width="0.8"/>
<line x1="371.4" y1="428.9" x2="375.8" y2="428.9" stroke="#3558c0" stroke-width="0.8"/>
<circle cx="368.6" cy="407.1" r="1.6" fill="#fff" stroke="#3558c0" stroke-width="0.8"/>
<circle cx="373.1" cy="410.7" r="1.6" fill="#fff" stroke="#3558c0" stroke-width="0.8"/>
<circle cx="377.7" cy="414.4" r="1.6" fill="#fff" stroke="#3558c0" stroke-width="0.8"/>
<circle cx="371.3" cy="416.8" r="1.6" fill="#fff" stroke="#3558c0" stroke-width="0.8"/>
<circle cx="375.9" cy="418" r="1.6" fill="#fff" stroke="#3558c0" stroke-width="0.8"/>
<circle cx="369.5" cy="420.4" r="1.6" fill="#fff" stroke="#3558c0" stroke-width="0.8"/>
<circle cx="374.1" cy="422.8" r="1.6" fill="#fff" stroke="#3558c0" stroke-width="0.8"/>
<circle cx="378.6" cy="426.5" r="1.6" fill="#fff" stroke="#3558c0" stroke-width="0.8"/>
<circle cx="372.2" cy="428.9" r="1.6" fill="#fff" stroke="#3558c0" stroke-width="0.8"/>
<circle cx="376.8" cy="431.8" r="1.6" fill="#fff" stroke="#3558c0" stroke-width="0.8"/>
<circle cx="370.4" cy="430.1" r="1.6" fill="#fff" stroke="#3558c0" stroke-width="0.8"/>
<circle cx="375" cy="415.6" r="1.6" fill="#fff" stroke="#3558c0" stroke-width="0.8"/>
<line x1="389.6" y1="425.2" x2="389.6" y2="406.4" stroke="#3558c0" stroke-width="0.8"/>
<line x1="387.4" y1="406.4" x2="391.8" y2="406.4" stroke="#3558c0" stroke-width="0.8"/>
<line x1="387.4" y1="425.2" x2="391.8" y2="425.2" stroke="#3558c0" stroke-width="0.8"/>
<circle cx="384.5" cy="401.1" r="1.6" fill="#fff" stroke="#3558c0" stroke-width="0.8"/>
<circle cx="389.1" cy="402.3" r="1.6" fill="#fff" stroke="#3558c0" stroke-width="0.8"/>
<circle cx="393.7" cy="409.5" r="1.6" fill="#fff" stroke="#3558c0" stroke-width="0.8"/>
<circle cx="387.3" cy="414.4" r="1.6" fill="#fff" stroke="#3558c0" stroke-width="0.8"/>
<circle cx="391.8" cy="415.6" r="1.6" fill="#fff" stroke="#3558c0" stroke-width="0.8"/>
<circle cx="385.4" cy="416.3" r="1.6" fill="#fff" stroke="#3558c0" stroke-width="0.8"/>
<circle cx="390" cy="416.8" r="1.6" fill="#fff" stroke="#3558c0" stroke-width="0.8"/>
<circle cx="394.6" cy="421.6" r="1.6" fill="#fff" stroke="#3558c0" stroke-width="0.8"/>
<circle cx="388.2" cy="424" r="1.6" fill="#fff" stroke="#3558c0" stroke-width="0.8"/>
<circle cx="392.8" cy="431.3" r="1.6" fill="#fff" stroke="#3558c0" stroke-width="0.8"/>
<circle cx="386.3" cy="414.4" r="1.6" fill="#fff" stroke="#3558c0" stroke-width="0.8"/>
<circle cx="390.9" cy="415.3" r="1.6" fill="#fff" stroke="#3558c0" stroke-width="0.8"/>
<line x1="329.5" y1="455.5" x2="329.5" y2="382.9" stroke="#000" stroke-width="0.9"/>
<line x1="327.7" y1="455.5" x2="329.5" y2="455.5" stroke="#000" stroke-width="0.9"/>
<text x="326.2" y="457.3" font-size="4.9" text-anchor="end" fill="#000" font-weight="bold">0</text>
<line x1="327.7" y1="431.3" x2="329.5" y2="431.3" stroke="#000" stroke-width="0.9"/>
<text x="326.2" y="433.1" font-size="4.9" text-anchor="end" fill="#000" font-weight="bold">10</text>
<line x1="327.7" y1="407.1" x2="329.5" y2="407.1" stroke="#000" stroke-width="0.9"/>
<text x="326.2" y="408.9" font-size="4.9" text-anchor="end" fill="#000" font-weight="bold">20</text>
<line x1="327.7" y1="382.9" x2="329.5" y2="382.9" stroke="#000" stroke-width="0.9"/>
<text x="326.2" y="384.7" font-size="4.9" text-anchor="end" fill="#000" font-weight="bold">30</text>
<line x1="329.5" y1="455.5" x2="402" y2="455.5" stroke="#000" stroke-width="0.9"/>
<line x1="342.6" y1="455.5" x2="342.6" y2="457.3" stroke="#000" stroke-width="0.8"/>
<line x1="358.3" y1="455.5" x2="358.3" y2="457.3" stroke="#000" stroke-width="0.8"/>
<line x1="373.6" y1="455.5" x2="373.6" y2="457.3" stroke="#000" stroke-width="0.8"/>
<line x1="389.6" y1="455.5" x2="389.6" y2="457.3" stroke="#000" stroke-width="0.8"/>
<polyline points="340.3,392.6 340.3,391.1 356.3,391.1 356.3,392.6" fill="none" stroke="#222" stroke-width="0.8"/>
<text x="348.3" y="392" font-size="9" text-anchor="middle" fill="#000" font-weight="bold">**</text>
<polyline points="357.4,397 357.4,395.5 391.6,395.5 391.6,397" fill="none" stroke="#222" stroke-width="0.8"/>
<text x="374.5" y="396.4" font-size="9" text-anchor="middle" fill="#000" font-weight="bold">**</text>
<polyline points="357.4,405.2 357.4,403.7 373.8,403.7 373.8,405.2" fill="none" stroke="#222" stroke-width="0.8"/>
<text x="365.6" y="404.6" font-size="9" text-anchor="middle" fill="#000" font-weight="bold">*</text>
<text x="308.5" y="419.1" font-size="6" text-anchor="middle" fill="#000" font-weight="bold" transform="rotate(-90 308.5 419.1)">Mitochondrial length</text>
<text x="314.9" y="418.7" font-size="6.2" text-anchor="middle" fill="#000" font-weight="bold" transform="rotate(-90 314.9 418.7)">(aspect ratio%)</text>
<text x="331.8" y="463.2" font-size="6.2" text-anchor="end" fill="#000" font-weight="bold">IL-1β</text>
<text x="331" y="471.8" font-size="6.2" text-anchor="end" fill="#000" font-weight="bold">TEPP-46(μM)</text>
<text x="342.6" y="463" font-size="6.2" text-anchor="middle" fill="#000" font-weight="bold">-</text>
<text x="342.6" y="472" font-size="6.2" text-anchor="middle" fill="#000" font-weight="bold">-</text>
<text x="358.3" y="463" font-size="6.2" text-anchor="middle" fill="#000" font-weight="bold">+</text>
<text x="358.3" y="472" font-size="6.2" text-anchor="middle" fill="#000" font-weight="bold">-</text>
<text x="373.6" y="463" font-size="6.2" text-anchor="middle" fill="#000" font-weight="bold">+</text>
<text x="373.6" y="472" font-size="6.2" text-anchor="middle" fill="#000" font-weight="bold">10</text>
<text x="389.6" y="463" font-size="6.2" text-anchor="middle" fill="#000" font-weight="bold">+</text>
<text x="389.6" y="472" font-size="6.2" text-anchor="middle" fill="#000" font-weight="bold">50</text>
<line x1="34.5" y1="596.5" x2="34.5" y2="530.5" stroke="#000" stroke-width="0.9"/>
<line x1="32.7" y1="596.5" x2="34.5" y2="596.5" stroke="#000" stroke-width="0.9"/>
<text x="31.2" y="598.3" font-size="4.9" text-anchor="end" fill="#000" font-weight="bold">0</text>
<line x1="32.7" y1="583.3" x2="34.5" y2="583.3" stroke="#000" stroke-width="0.9"/>
<text x="31.2" y="585.1" font-size="4.9" text-anchor="end" fill="#000" font-weight="bold">50</text>
<line x1="32.7" y1="570.1" x2="34.5" y2="570.1" stroke="#000" stroke-width="0.9"/>
<text x="31.2" y="571.9" font-size="4.9" text-anchor="end" fill="#000" font-weight="bold">100</text>
<line x1="32.7" y1="556.9" x2="34.5" y2="556.9" stroke="#000" stroke-width="0.9"/>
<text x="31.2" y="558.7" font-size="4.9" text-anchor="end" fill="#000" font-weight="bold">150</text>
<line x1="32.7" y1="543.7" x2="34.5" y2="543.7" stroke="#000" stroke-width="0.9"/>
<text x="31.2" y="545.5" font-size="4.9" text-anchor="end" fill="#000" font-weight="bold">200</text>
<line x1="32.7" y1="530.5" x2="34.5" y2="530.5" stroke="#000" stroke-width="0.9"/>
<text x="31.2" y="532.3" font-size="4.9" text-anchor="end" fill="#000" font-weight="bold">250</text>
<line x1="34.5" y1="596.5" x2="136.5" y2="596.5" stroke="#000" stroke-width="0.9"/>
<line x1="34.5" y1="596.5" x2="34.5" y2="598.3" stroke="#000" stroke-width="0.8"/>
<text x="34.5" y="603.5" font-size="5" text-anchor="middle" fill="#000" font-weight="bold">0</text>
<line x1="60" y1="596.5" x2="60" y2="598.3" stroke="#000" stroke-width="0.8"/>
<text x="60" y="603.5" font-size="5" text-anchor="middle" fill="#000" font-weight="bold">20</text>
<line x1="85.5" y1="596.5" x2="85.5" y2="598.3" stroke="#000" stroke-width="0.8"/>
<text x="85.5" y="603.5" font-size="5" text-anchor="middle" fill="#000" font-weight="bold">40</text>
<line x1="111" y1="596.5" x2="111" y2="598.3" stroke="#000" stroke-width="0.8"/>
<text x="111" y="603.5" font-size="5" text-anchor="middle" fill="#000" font-weight="bold">60</text>
<line x1="136.5" y1="596.5" x2="136.5" y2="598.3" stroke="#000" stroke-width="0.8"/>
<text x="136.5" y="603.5" font-size="5" text-anchor="middle" fill="#000" font-weight="bold">80</text>
<line x1="57" y1="596.5" x2="57" y2="530.5" stroke="#000" stroke-width="0.7" stroke-dasharray="1.4,1.2"/>
<line x1="80.4" y1="596.5" x2="80.4" y2="530.5" stroke="#000" stroke-width="0.7" stroke-dasharray="1.4,1.2"/>
<line x1="103.4" y1="596.5" x2="103.4" y2="530.5" stroke="#000" stroke-width="0.7" stroke-dasharray="1.4,1.2"/>
<text x="53.4" y="533.5" font-size="5.4" text-anchor="middle" fill="#000">Oligomycin</text>
<text x="80.2" y="533.5" font-size="5.4" text-anchor="middle" fill="#000">FCCP</text>
<text x="103.8" y="533.5" font-size="5.4" text-anchor="middle" fill="#000">Rot/AA</text>
<text x="20.4" y="563.4" font-size="5.5" text-anchor="middle" fill="#000" font-weight="bold" transform="rotate(-90 20.4 563.4)">OCR (pmol/min)</text>
<line x1="35.1" y1="578" x2="35.1" y2="582.2" stroke="#f07070" stroke-width="0.6"/>
<line x1="33.8" y1="582.2" x2="36.4" y2="582.2" stroke="#f07070" stroke-width="0.6"/>
<line x1="33.8" y1="578" x2="36.4" y2="578" stroke="#f07070" stroke-width="0.6"/>
<line x1="44.7" y1="575.4" x2="44.7" y2="579.6" stroke="#f07070" stroke-width="0.6"/>
<line x1="43.4" y1="579.6" x2="46" y2="579.6" stroke="#f07070" stroke-width="0.6"/>
<line x1="43.4" y1="575.4" x2="46" y2="575.4" stroke="#f07070" stroke-width="0.6"/>
<line x1="54.5" y1="575.4" x2="54.5" y2="579.6" stroke="#f07070" stroke-width="0.6"/>
<line x1="53.2" y1="579.6" x2="55.8" y2="579.6" stroke="#f07070" stroke-width="0.6"/>
<line x1="53.2" y1="575.4" x2="55.8" y2="575.4" stroke="#f07070" stroke-width="0.6"/>
<line x1="64.2" y1="587.8" x2="64.2" y2="590.4" stroke="#f07070" stroke-width="0.6"/>
<line x1="62.9" y1="590.4" x2="65.5" y2="590.4" stroke="#f07070" stroke-width="0.6"/>
<line x1="62.9" y1="587.8" x2="65.5" y2="587.8" stroke="#f07070" stroke-width="0.6"/>
<line x1="73.6" y1="587.8" x2="73.6" y2="590.4" stroke="#f07070" stroke-width="0.6"/>
<line x1="72.3" y1="590.4" x2="74.9" y2="590.4" stroke="#f07070" stroke-width="0.6"/>
<line x1="72.3" y1="587.8" x2="74.9" y2="587.8" stroke="#f07070" stroke-width="0.6"/>
<line x1="86.8" y1="560.1" x2="86.8" y2="569.6" stroke="#f07070" stroke-width="0.6"/>
<line x1="85.5" y1="569.6" x2="88.1" y2="569.6" stroke="#f07070" stroke-width="0.6"/>
<line x1="85.5" y1="560.1" x2="88.1" y2="560.1" stroke="#f07070" stroke-width="0.6"/>
<line x1="96.7" y1="560.9" x2="96.7" y2="570.4" stroke="#f07070" stroke-width="0.6"/>
<line x1="95.4" y1="570.4" x2="98" y2="570.4" stroke="#f07070" stroke-width="0.6"/>
<line x1="95.4" y1="560.9" x2="98" y2="560.9" stroke="#f07070" stroke-width="0.6"/>
<line x1="109.7" y1="593.1" x2="109.7" y2="594.7" stroke="#f07070" stroke-width="0.6"/>
<line x1="108.4" y1="594.7" x2="111" y2="594.7" stroke="#f07070" stroke-width="0.6"/>
<line x1="108.4" y1="593.1" x2="111" y2="593.1" stroke="#f07070" stroke-width="0.6"/>
<line x1="119.3" y1="593.1" x2="119.3" y2="594.7" stroke="#f07070" stroke-width="0.6"/>
<line x1="118" y1="594.7" x2="120.6" y2="594.7" stroke="#f07070" stroke-width="0.6"/>
<line x1="118" y1="593.1" x2="120.6" y2="593.1" stroke="#f07070" stroke-width="0.6"/>
<line x1="128.8" y1="593.1" x2="128.8" y2="594.7" stroke="#f07070" stroke-width="0.6"/>
<line x1="127.5" y1="594.7" x2="130.2" y2="594.7" stroke="#f07070" stroke-width="0.6"/>
<line x1="127.5" y1="593.1" x2="130.2" y2="593.1" stroke="#f07070" stroke-width="0.6"/>
<polyline points="35.1,580.1 44.7,577.5 54.5,577.5 64.2,589.1 73.6,589.1 86.8,564.8 96.7,565.6 109.7,593.9 119.3,593.9 128.8,593.9" fill="none" stroke="#f07070" stroke-width="0.9"/>
<polygon points="35.1,578.8 33.9,581.1 36.3,581.1" fill="#f07070" stroke="#f07070" stroke-width="0.3"/>
<polygon points="44.7,576.2 43.5,578.5 45.9,578.5" fill="#f07070" stroke="#f07070" stroke-width="0.3"/>
<polygon points="54.5,576.2 53.3,578.5 55.7,578.5" fill="#f07070" stroke="#f07070" stroke-width="0.3"/>
<polygon points="64.2,587.8 63,590.1 65.4,590.1" fill="#f07070" stroke="#f07070" stroke-width="0.3"/>
<polygon points="73.6,587.8 72.4,590.1 74.8,590.1" fill="#f07070" stroke="#f07070" stroke-width="0.3"/>
<polygon points="86.8,563.5 85.6,565.8 88,565.8" fill="#f07070" stroke="#f07070" stroke-width="0.3"/>
<polygon points="96.7,564.3 95.5,566.6 97.9,566.6" fill="#f07070" stroke="#f07070" stroke-width="0.3"/>
<polygon points="109.7,592.5 108.5,594.8 110.9,594.8" fill="#f07070" stroke="#f07070" stroke-width="0.3"/>
<polygon points="119.3,592.5 118.1,594.8 120.5,594.8" fill="#f07070" stroke="#f07070" stroke-width="0.3"/>
<polygon points="128.8,592.5 127.6,594.8 130,594.8" fill="#f07070" stroke="#f07070" stroke-width="0.3"/>
<line x1="35.1" y1="571.4" x2="35.1" y2="574.1" stroke="#e8303a" stroke-width="0.6"/>
<line x1="33.8" y1="574.1" x2="36.4" y2="574.1" stroke="#e8303a" stroke-width="0.6"/>
<line x1="33.8" y1="571.4" x2="36.4" y2="571.4" stroke="#e8303a" stroke-width="0.6"/>
<line x1="44.7" y1="571.9" x2="44.7" y2="574.6" stroke="#e8303a" stroke-width="0.6"/>
<line x1="43.4" y1="574.6" x2="46" y2="574.6" stroke="#e8303a" stroke-width="0.6"/>
<line x1="43.4" y1="571.9" x2="46" y2="571.9" stroke="#e8303a" stroke-width="0.6"/>
<line x1="54.5" y1="571.9" x2="54.5" y2="574.6" stroke="#e8303a" stroke-width="0.6"/>
<line x1="53.2" y1="574.6" x2="55.8" y2="574.6" stroke="#e8303a" stroke-width="0.6"/>
<line x1="53.2" y1="571.9" x2="55.8" y2="571.9" stroke="#e8303a" stroke-width="0.6"/>
<line x1="64.2" y1="585.4" x2="64.2" y2="587.5" stroke="#e8303a" stroke-width="0.6"/>
<line x1="62.9" y1="587.5" x2="65.5" y2="587.5" stroke="#e8303a" stroke-width="0.6"/>
<line x1="62.9" y1="585.4" x2="65.5" y2="585.4" stroke="#e8303a" stroke-width="0.6"/>
<line x1="73.6" y1="586.2" x2="73.6" y2="588.3" stroke="#e8303a" stroke-width="0.6"/>
<line x1="72.3" y1="588.3" x2="74.9" y2="588.3" stroke="#e8303a" stroke-width="0.6"/>
<line x1="72.3" y1="586.2" x2="74.9" y2="586.2" stroke="#e8303a" stroke-width="0.6"/>
<line x1="86.8" y1="552.4" x2="86.8" y2="557.7" stroke="#e8303a" stroke-width="0.6"/>
<line x1="85.5" y1="557.7" x2="88.1" y2="557.7" stroke="#e8303a" stroke-width="0.6"/>
<line x1="85.5" y1="552.4" x2="88.1" y2="552.4" stroke="#e8303a" stroke-width="0.6"/>
<line x1="96.7" y1="553.7" x2="96.7" y2="559" stroke="#e8303a" stroke-width="0.6"/>
<line x1="95.4" y1="559" x2="98" y2="559" stroke="#e8303a" stroke-width="0.6"/>
<line x1="95.4" y1="553.7" x2="98" y2="553.7" stroke="#e8303a" stroke-width="0.6"/>
<line x1="109.7" y1="592.5" x2="109.7" y2="594.1" stroke="#e8303a" stroke-width="0.6"/>
<line x1="108.4" y1="594.1" x2="111" y2="594.1" stroke="#e8303a" stroke-width="0.6"/>
<line x1="108.4" y1="592.5" x2="111" y2="592.5" stroke="#e8303a" stroke-width="0.6"/>
<line x1="119.3" y1="592.5" x2="119.3" y2="594.1" stroke="#e8303a" stroke-width="0.6"/>
<line x1="118" y1="594.1" x2="120.6" y2="594.1" stroke="#e8303a" stroke-width="0.6"/>
<line x1="118" y1="592.5" x2="120.6" y2="592.5" stroke="#e8303a" stroke-width="0.6"/>
<line x1="128.8" y1="592.5" x2="128.8" y2="594.1" stroke="#e8303a" stroke-width="0.6"/>
<line x1="127.5" y1="594.1" x2="130.2" y2="594.1" stroke="#e8303a" stroke-width="0.6"/>
<line x1="127.5" y1="592.5" x2="130.2" y2="592.5" stroke="#e8303a" stroke-width="0.6"/>
<polyline points="35.1,572.7 44.7,573.3 54.5,573.3 64.2,586.5 73.6,587.3 86.8,555.1 96.7,556.4 109.7,593.3 119.3,593.3 128.8,593.3" fill="none" stroke="#e8303a" stroke-width="0.9"/>
<polygon points="35.1,574.1 33.9,571.8 36.3,571.8" fill="#e8303a" stroke="#e8303a" stroke-width="0.3"/>
<polygon points="44.7,574.6 43.5,572.3 45.9,572.3" fill="#e8303a" stroke="#e8303a" stroke-width="0.3"/>
<polygon points="54.5,574.6 53.3,572.3 55.7,572.3" fill="#e8303a" stroke="#e8303a" stroke-width="0.3"/>
<polygon points="64.2,587.8 63,585.5 65.4,585.5" fill="#e8303a" stroke="#e8303a" stroke-width="0.3"/>
<polygon points="73.6,588.6 72.4,586.3 74.8,586.3" fill="#e8303a" stroke="#e8303a" stroke-width="0.3"/>
<polygon points="86.8,556.4 85.6,554.1 88,554.1" fill="#e8303a" stroke="#e8303a" stroke-width="0.3"/>
<polygon points="96.7,557.7 95.5,555.4 97.9,555.4" fill="#e8303a" stroke="#e8303a" stroke-width="0.3"/>
<polygon points="109.7,594.7 108.5,592.4 110.9,592.4" fill="#e8303a" stroke="#e8303a" stroke-width="0.3"/>
<polygon points="119.3,594.7 118.1,592.4 120.5,592.4" fill="#e8303a" stroke="#e8303a" stroke-width="0.3"/>
<polygon points="128.8,594.7 127.6,592.4 130,592.4" fill="#e8303a" stroke="#e8303a" stroke-width="0.3"/>
<line x1="35.1" y1="568.5" x2="35.1" y2="571.7" stroke="#5b9bd8" stroke-width="0.6"/>
<line x1="33.8" y1="571.7" x2="36.4" y2="571.7" stroke="#5b9bd8" stroke-width="0.6"/>
<line x1="33.8" y1="568.5" x2="36.4" y2="568.5" stroke="#5b9bd8" stroke-width="0.6"/>
<line x1="44.7" y1="569" x2="44.7" y2="572.2" stroke="#5b9bd8" stroke-width="0.6"/>
<line x1="43.4" y1="572.2" x2="46" y2="572.2" stroke="#5b9bd8" stroke-width="0.6"/>
<line x1="43.4" y1="569" x2="46" y2="569" stroke="#5b9bd8" stroke-width="0.6"/>
<line x1="54.5" y1="569" x2="54.5" y2="572.2" stroke="#5b9bd8" stroke-width="0.6"/>
<line x1="53.2" y1="572.2" x2="55.8" y2="572.2" stroke="#5b9bd8" stroke-width="0.6"/>
<line x1="53.2" y1="569" x2="55.8" y2="569" stroke="#5b9bd8" stroke-width="0.6"/>
<line x1="64.2" y1="583.6" x2="64.2" y2="585.7" stroke="#5b9bd8" stroke-width="0.6"/>
<line x1="62.9" y1="585.7" x2="65.5" y2="585.7" stroke="#5b9bd8" stroke-width="0.6"/>
<line x1="62.9" y1="583.6" x2="65.5" y2="583.6" stroke="#5b9bd8" stroke-width="0.6"/>
<line x1="73.6" y1="583.6" x2="73.6" y2="585.7" stroke="#5b9bd8" stroke-width="0.6"/>
<line x1="72.3" y1="585.7" x2="74.9" y2="585.7" stroke="#5b9bd8" stroke-width="0.6"/>
<line x1="72.3" y1="583.6" x2="74.9" y2="583.6" stroke="#5b9bd8" stroke-width="0.6"/>
<line x1="86.8" y1="544.2" x2="86.8" y2="549.5" stroke="#5b9bd8" stroke-width="0.6"/>
<line x1="85.5" y1="549.5" x2="88.1" y2="549.5" stroke="#5b9bd8" stroke-width="0.6"/>
<line x1="85.5" y1="544.2" x2="88.1" y2="544.2" stroke="#5b9bd8" stroke-width="0.6"/>
<line x1="96.7" y1="545" x2="96.7" y2="550.3" stroke="#5b9bd8" stroke-width="0.6"/>
<line x1="95.4" y1="550.3" x2="98" y2="550.3" stroke="#5b9bd8" stroke-width="0.6"/>
<line x1="95.4" y1="545" x2="98" y2="545" stroke="#5b9bd8" stroke-width="0.6"/>
<line x1="109.7" y1="591.7" x2="109.7" y2="593.3" stroke="#5b9bd8" stroke-width="0.6"/>
<line x1="108.4" y1="593.3" x2="111" y2="593.3" stroke="#5b9bd8" stroke-width="0.6"/>
<line x1="108.4" y1="591.7" x2="111" y2="591.7" stroke="#5b9bd8" stroke-width="0.6"/>
<line x1="119.3" y1="591.7" x2="119.3" y2="593.3" stroke="#5b9bd8" stroke-width="0.6"/>
<line x1="118" y1="593.3" x2="120.6" y2="593.3" stroke="#5b9bd8" stroke-width="0.6"/>
<line x1="118" y1="591.7" x2="120.6" y2="591.7" stroke="#5b9bd8" stroke-width="0.6"/>
<line x1="128.8" y1="589.9" x2="128.8" y2="595.2" stroke="#5b9bd8" stroke-width="0.6"/>
<line x1="127.5" y1="595.2" x2="130.2" y2="595.2" stroke="#5b9bd8" stroke-width="0.6"/>
<line x1="127.5" y1="589.9" x2="130.2" y2="589.9" stroke="#5b9bd8" stroke-width="0.6"/>
<polyline points="35.1,570.1 44.7,570.6 54.5,570.6 64.2,584.6 73.6,584.6 86.8,546.9 96.7,547.7 109.7,592.5 119.3,592.5 128.8,592.5" fill="none" stroke="#5b9bd8" stroke-width="0.9"/>
<circle cx="35.1" cy="570.1" r="1.3" fill="#5b9bd8"/>
<circle cx="44.7" cy="570.6" r="1.3" fill="#5b9bd8"/>
<circle cx="54.5" cy="570.6" r="1.3" fill="#5b9bd8"/>
<circle cx="64.2" cy="584.6" r="1.3" fill="#5b9bd8"/>
<circle cx="73.6" cy="584.6" r="1.3" fill="#5b9bd8"/>
<circle cx="86.8" cy="546.9" r="1.3" fill="#5b9bd8"/>
<circle cx="96.7" cy="547.7" r="1.3" fill="#5b9bd8"/>
<circle cx="109.7" cy="592.5" r="1.3" fill="#5b9bd8"/>
<circle cx="119.3" cy="592.5" r="1.3" fill="#5b9bd8"/>
<circle cx="128.8" cy="592.5" r="1.3" fill="#5b9bd8"/>
<line x1="35.1" y1="565.6" x2="35.1" y2="567.7" stroke="#2d4fb0" stroke-width="0.6"/>
<line x1="33.8" y1="567.7" x2="36.4" y2="567.7" stroke="#2d4fb0" stroke-width="0.6"/>
<line x1="33.8" y1="565.6" x2="36.4" y2="565.6" stroke="#2d4fb0" stroke-width="0.6"/>
<line x1="44.7" y1="565.6" x2="44.7" y2="567.7" stroke="#2d4fb0" stroke-width="0.6"/>
<line x1="43.4" y1="567.7" x2="46" y2="567.7" stroke="#2d4fb0" stroke-width="0.6"/>
<line x1="43.4" y1="565.6" x2="46" y2="565.6" stroke="#2d4fb0" stroke-width="0.6"/>
<line x1="54.5" y1="565.6" x2="54.5" y2="567.7" stroke="#2d4fb0" stroke-width="0.6"/>
<line x1="53.2" y1="567.7" x2="55.8" y2="567.7" stroke="#2d4fb0" stroke-width="0.6"/>
<line x1="53.2" y1="565.6" x2="55.8" y2="565.6" stroke="#2d4fb0" stroke-width="0.6"/>
<line x1="64.2" y1="583.6" x2="64.2" y2="585.7" stroke="#2d4fb0" stroke-width="0.6"/>
<line x1="62.9" y1="585.7" x2="65.5" y2="585.7" stroke="#2d4fb0" stroke-width="0.6"/>
<line x1="62.9" y1="583.6" x2="65.5" y2="583.6" stroke="#2d4fb0" stroke-width="0.6"/>
<line x1="73.6" y1="583.6" x2="73.6" y2="585.7" stroke="#2d4fb0" stroke-width="0.6"/>
<line x1="72.3" y1="585.7" x2="74.9" y2="585.7" stroke="#2d4fb0" stroke-width="0.6"/>
<line x1="72.3" y1="583.6" x2="74.9" y2="583.6" stroke="#2d4fb0" stroke-width="0.6"/>
<line x1="86.8" y1="539.5" x2="86.8" y2="543.7" stroke="#2d4fb0" stroke-width="0.6"/>
<line x1="85.5" y1="543.7" x2="88.1" y2="543.7" stroke="#2d4fb0" stroke-width="0.6"/>
<line x1="85.5" y1="539.5" x2="88.1" y2="539.5" stroke="#2d4fb0" stroke-width="0.6"/>
<line x1="96.7" y1="540.3" x2="96.7" y2="544.5" stroke="#2d4fb0" stroke-width="0.6"/>
<line x1="95.4" y1="544.5" x2="98" y2="544.5" stroke="#2d4fb0" stroke-width="0.6"/>
<line x1="95.4" y1="540.3" x2="98" y2="540.3" stroke="#2d4fb0" stroke-width="0.6"/>
<line x1="109.7" y1="591.2" x2="109.7" y2="592.8" stroke="#2d4fb0" stroke-width="0.6"/>
<line x1="108.4" y1="592.8" x2="111" y2="592.8" stroke="#2d4fb0" stroke-width="0.6"/>
<line x1="108.4" y1="591.2" x2="111" y2="591.2" stroke="#2d4fb0" stroke-width="0.6"/>
<line x1="119.3" y1="591.5" x2="119.3" y2="593.1" stroke="#2d4fb0" stroke-width="0.6"/>
<line x1="118" y1="593.1" x2="120.6" y2="593.1" stroke="#2d4fb0" stroke-width="0.6"/>
<line x1="118" y1="591.5" x2="120.6" y2="591.5" stroke="#2d4fb0" stroke-width="0.6"/>
<line x1="128.8" y1="591.7" x2="128.8" y2="593.3" stroke="#2d4fb0" stroke-width="0.6"/>
<line x1="127.5" y1="593.3" x2="130.2" y2="593.3" stroke="#2d4fb0" stroke-width="0.6"/>
<line x1="127.5" y1="591.7" x2="130.2" y2="591.7" stroke="#2d4fb0" stroke-width="0.6"/>
<polyline points="35.1,566.7 44.7,566.7 54.5,566.7 64.2,584.6 73.6,584.6 86.8,541.6 96.7,542.4 109.7,592 119.3,592.3 128.8,592.5" fill="none" stroke="#2d4fb0" stroke-width="0.9"/>
<rect x="33.8" y="565.4" width="2.6" height="2.6" fill="#2d4fb0" stroke="none" stroke-width="0.8"/>
<rect x="43.4" y="565.4" width="2.6" height="2.6" fill="#2d4fb0" stroke="none" stroke-width="0.8"/>
<rect x="53.2" y="565.4" width="2.6" height="2.6" fill="#2d4fb0" stroke="none" stroke-width="0.8"/>
<rect x="62.9" y="583.3" width="2.6" height="2.6" fill="#2d4fb0" stroke="none" stroke-width="0.8"/>
<rect x="72.3" y="583.3" width="2.6" height="2.6" fill="#2d4fb0" stroke="none" stroke-width="0.8"/>
<rect x="85.5" y="540.3" width="2.6" height="2.6" fill="#2d4fb0" stroke="none" stroke-width="0.8"/>
<rect x="95.4" y="541.1" width="2.6" height="2.6" fill="#2d4fb0" stroke="none" stroke-width="0.8"/>
<rect x="108.4" y="590.7" width="2.6" height="2.6" fill="#2d4fb0" stroke="none" stroke-width="0.8"/>
<rect x="118" y="591" width="2.6" height="2.6" fill="#2d4fb0" stroke="none" stroke-width="0.8"/>
<rect x="127.5" y="591.2" width="2.6" height="2.6" fill="#2d4fb0" stroke="none" stroke-width="0.8"/>
<line x1="108.9" y1="544" x2="116.5" y2="544" stroke="#5b9bd8" stroke-width="0.9"/>
<circle cx="112.7" cy="544" r="1.3" fill="#5b9bd8"/>
<text x="120" y="546" font-size="5.6" text-anchor="start" fill="#000" font-weight="bold">Veh</text>
<line x1="108.9" y1="553.9" x2="116.5" y2="553.9" stroke="#2d4fb0" stroke-width="0.9"/>
<rect x="111.4" y="552.6" width="2.6" height="2.6" fill="#2d4fb0" stroke="none" stroke-width="0.8"/>
<text x="120" y="555.9" font-size="5.6" text-anchor="start" fill="#000" font-weight="bold">TEPP-46</text>
<line x1="108.9" y1="564.1" x2="116.5" y2="564.1" stroke="#f07070" stroke-width="0.9"/>
<polygon points="112.7,562.8 111.5,565.1 113.9,565.1" fill="#f07070" stroke="#f07070" stroke-width="0.3"/>
<text x="120" y="566.1" font-size="5.6" text-anchor="start" fill="#000" font-weight="bold">Veh+IL-1β</text>
<line x1="108.9" y1="574.3" x2="116.5" y2="574.3" stroke="#e8303a" stroke-width="0.9"/>
<polygon points="112.7,575.6 111.5,573.3 113.9,573.3" fill="#e8303a" stroke="#e8303a" stroke-width="0.3"/>
<text x="120" y="576.3" font-size="5.6" text-anchor="start" fill="#000" font-weight="bold">TEPP-46+IL-1β</text>
<rect x="202.9" y="540.4" width="14.3" height="43.1" fill="#8eaad7" stroke="none" stroke-width="0.8"/>
<rect x="219.7" y="532.9" width="14.9" height="50.6" fill="#4a6dbd" stroke="none" stroke-width="0.8"/>
<rect x="237.3" y="555.8" width="14.7" height="27.7" fill="#f19a9a" stroke="none" stroke-width="0.8"/>
<rect x="254.4" y="543.9" width="14.6" height="39.6" fill="#e8474a" stroke="none" stroke-width="0.8"/>
<line x1="210.1" y1="542.1" x2="210.1" y2="538.6" stroke="#3558c0" stroke-width="0.8"/>
<line x1="207.9" y1="538.6" x2="212.2" y2="538.6" stroke="#3558c0" stroke-width="0.8"/>
<line x1="207.9" y1="542.1" x2="212.2" y2="542.1" stroke="#3558c0" stroke-width="0.8"/>
<circle cx="204.5" cy="534.2" r="1.6" fill="#fff" stroke="#3558c0" stroke-width="0.8"/>
<circle cx="215.6" cy="537.3" r="1.6" fill="#fff" stroke="#3558c0" stroke-width="0.8"/>
<circle cx="213.4" cy="540.4" r="1.6" fill="#fff" stroke="#3558c0" stroke-width="0.8"/>
<circle cx="211.2" cy="541.7" r="1.6" fill="#fff" stroke="#3558c0" stroke-width="0.8"/>
<circle cx="208.9" cy="543" r="1.6" fill="#fff" stroke="#3558c0" stroke-width="0.8"/>
<circle cx="206.7" cy="541.3" r="1.6" fill="#fff" stroke="#3558c0" stroke-width="0.8"/>
<line x1="227.1" y1="534.2" x2="227.1" y2="531.6" stroke="#3558c0" stroke-width="0.8"/>
<line x1="224.9" y1="531.6" x2="229.3" y2="531.6" stroke="#3558c0" stroke-width="0.8"/>
<line x1="224.9" y1="534.2" x2="229.3" y2="534.2" stroke="#3558c0" stroke-width="0.8"/>
<rect x="219.7" y="529.1" width="3.3" height="3.3" fill="#fff" stroke="#3558c0" stroke-width="0.8"/>
<rect x="231.3" y="529.9" width="3.3" height="3.3" fill="#fff" stroke="#3558c0" stroke-width="0.8"/>
<rect x="229" y="530.8" width="3.3" height="3.3" fill="#fff" stroke="#3558c0" stroke-width="0.8"/>
<rect x="226.7" y="531.7" width="3.3" height="3.3" fill="#fff" stroke="#3558c0" stroke-width="0.8"/>
<rect x="224.3" y="532.6" width="3.3" height="3.3" fill="#fff" stroke="#3558c0" stroke-width="0.8"/>
<rect x="222" y="531.2" width="3.3" height="3.3" fill="#fff" stroke="#3558c0" stroke-width="0.8"/>
<line x1="244.7" y1="558.4" x2="244.7" y2="553.1" stroke="#e8343a" stroke-width="0.8"/>
<line x1="242.5" y1="553.1" x2="246.8" y2="553.1" stroke="#e8343a" stroke-width="0.8"/>
<line x1="242.5" y1="558.4" x2="246.8" y2="558.4" stroke="#e8343a" stroke-width="0.8"/>
<polygon points="238.9,547.8 237.3,550.9 240.6,550.9" fill="#fff" stroke="#e8343a" stroke-width="0.8"/>
<polygon points="250.4,550.9 248.7,554 252,554" fill="#fff" stroke="#e8343a" stroke-width="0.8"/>
<polygon points="248.1,554.4 246.4,557.5 249.7,557.5" fill="#fff" stroke="#e8343a" stroke-width="0.8"/>
<polygon points="245.8,555.3 244.1,558.4 247.4,558.4" fill="#fff" stroke="#e8343a" stroke-width="0.8"/>
<polygon points="243.5,556.2 241.9,559.3 245.2,559.3" fill="#fff" stroke="#e8343a" stroke-width="0.8"/>
<polygon points="241.2,554.8 239.6,558 242.9,558" fill="#fff" stroke="#e8343a" stroke-width="0.8"/>
<line x1="261.7" y1="545.7" x2="261.7" y2="542.1" stroke="#e8343a" stroke-width="0.8"/>
<line x1="259.5" y1="542.1" x2="263.9" y2="542.1" stroke="#e8343a" stroke-width="0.8"/>
<line x1="259.5" y1="545.7" x2="263.9" y2="545.7" stroke="#e8343a" stroke-width="0.8"/>
<polygon points="256,543.5 254.4,540.4 257.7,540.4" fill="#fff" stroke="#e8343a" stroke-width="0.8"/>
<polygon points="267.4,544.4 265.7,541.3 269,541.3" fill="#fff" stroke="#e8343a" stroke-width="0.8"/>
<polygon points="265.1,545.7 263.5,542.6 266.8,542.6" fill="#fff" stroke="#e8343a" stroke-width="0.8"/>
<polygon points="262.8,546.2 261.2,543 264.5,543" fill="#fff" stroke="#e8343a" stroke-width="0.8"/>
<polygon points="260.6,546.6 258.9,543.5 262.2,543.5" fill="#fff" stroke="#e8343a" stroke-width="0.8"/>
<polygon points="258.3,545.3 256.6,542.1 259.9,542.1" fill="#fff" stroke="#e8343a" stroke-width="0.8"/>
<line x1="195.5" y1="583.5" x2="195.5" y2="517.5" stroke="#000" stroke-width="0.9"/>
<line x1="193.7" y1="583.5" x2="195.5" y2="583.5" stroke="#000" stroke-width="0.9"/>
<text x="192.2" y="585.3" font-size="4.9" text-anchor="end" fill="#000" font-weight="bold">0</text>
<line x1="193.7" y1="561.5" x2="195.5" y2="561.5" stroke="#000" stroke-width="0.9"/>
<text x="192.2" y="563.3" font-size="4.9" text-anchor="end" fill="#000" font-weight="bold">50</text>
<line x1="193.7" y1="539.5" x2="195.5" y2="539.5" stroke="#000" stroke-width="0.9"/>
<text x="192.2" y="541.3" font-size="4.9" text-anchor="end" fill="#000" font-weight="bold">100</text>
<line x1="193.7" y1="517.5" x2="195.5" y2="517.5" stroke="#000" stroke-width="0.9"/>
<text x="192.2" y="519.3" font-size="4.9" text-anchor="end" fill="#000" font-weight="bold">150</text>
<line x1="195.5" y1="583.5" x2="276.5" y2="583.5" stroke="#000" stroke-width="0.9"/>
<line x1="210" y1="583.5" x2="210" y2="585.3" stroke="#000" stroke-width="0.8"/>
<line x1="227.1" y1="583.5" x2="227.1" y2="585.3" stroke="#000" stroke-width="0.8"/>
<line x1="244.6" y1="583.5" x2="244.6" y2="585.3" stroke="#000" stroke-width="0.8"/>
<line x1="261.7" y1="583.5" x2="261.7" y2="585.3" stroke="#000" stroke-width="0.8"/>
<polyline points="210,527 210,525.5 227.1,525.5 227.1,527" fill="none" stroke="#222" stroke-width="0.8"/>
<text x="218.6" y="526.4" font-size="9" text-anchor="middle" fill="#000" font-weight="bold">**</text>
<polyline points="244.6,537.3 244.6,535.8 261.7,535.8 261.7,537.3" fill="none" stroke="#222" stroke-width="0.8"/>
<text x="253.1" y="536.7" font-size="9" text-anchor="middle" fill="#000" font-weight="bold">**</text>
<text x="181.6" y="550.5" font-size="5.5" text-anchor="middle" fill="#000" font-weight="bold" transform="rotate(-90 181.6 550.5)">OCR (pmol/min)</text>
<text x="211.8" y="590.8" font-size="5" text-anchor="end" font-weight="bold" transform="rotate(-45 211.8 590.8)">Veh</text>
<text x="228.9" y="590.8" font-size="5" text-anchor="end" font-weight="bold" transform="rotate(-45 228.9 590.8)">TEPP-46</text>
<text x="246.4" y="590.8" font-size="5" text-anchor="end" font-weight="bold" transform="rotate(-45 246.4 590.8)">Veh+IL-1β</text>
<text x="263.5" y="590.8" font-size="5" text-anchor="end" font-weight="bold" transform="rotate(-45 263.5 590.8)">TEPP-46+IL-1β</text>
<rect x="336" y="576.3" width="16" height="9.2" fill="#8eaad7" stroke="none" stroke-width="0.8"/>
<rect x="355" y="548.2" width="16.1" height="37.3" fill="#4a6dbd" stroke="none" stroke-width="0.8"/>
<rect x="373.8" y="570" width="16.3" height="15.5" fill="#f19a9a" stroke="none" stroke-width="0.8"/>
<rect x="393.2" y="549.1" width="15.9" height="36.4" fill="#e8474a" stroke="none" stroke-width="0.8"/>
<line x1="344" y1="578.2" x2="344" y2="574.3" stroke="#3558c0" stroke-width="0.8"/>
<line x1="341.8" y1="574.3" x2="346.2" y2="574.3" stroke="#3558c0" stroke-width="0.8"/>
<line x1="341.8" y1="578.2" x2="346.2" y2="578.2" stroke="#3558c0" stroke-width="0.8"/>
<circle cx="337.8" cy="572.4" r="1.6" fill="#fff" stroke="#3558c0" stroke-width="0.8"/>
<circle cx="350.2" cy="573.4" r="1.6" fill="#fff" stroke="#3558c0" stroke-width="0.8"/>
<circle cx="347.7" cy="574.3" r="1.6" fill="#fff" stroke="#3558c0" stroke-width="0.8"/>
<circle cx="345.2" cy="576.8" r="1.6" fill="#fff" stroke="#3558c0" stroke-width="0.8"/>
<circle cx="342.8" cy="577.3" r="1.6" fill="#fff" stroke="#3558c0" stroke-width="0.8"/>
<circle cx="340.3" cy="581.6" r="1.6" fill="#fff" stroke="#3558c0" stroke-width="0.8"/>
<line x1="363.1" y1="551.5" x2="363.1" y2="544.8" stroke="#3558c0" stroke-width="0.8"/>
<line x1="360.9" y1="544.8" x2="365.2" y2="544.8" stroke="#3558c0" stroke-width="0.8"/>
<line x1="360.9" y1="551.5" x2="365.2" y2="551.5" stroke="#3558c0" stroke-width="0.8"/>
<rect x="355.1" y="536.8" width="3.3" height="3.3" fill="#fff" stroke="#3558c0" stroke-width="0.8"/>
<rect x="367.7" y="539.2" width="3.3" height="3.3" fill="#fff" stroke="#3558c0" stroke-width="0.8"/>
<rect x="365.2" y="549.9" width="3.3" height="3.3" fill="#fff" stroke="#3558c0" stroke-width="0.8"/>
<rect x="362.7" y="550.9" width="3.3" height="3.3" fill="#fff" stroke="#3558c0" stroke-width="0.8"/>
<rect x="360.1" y="551.8" width="3.3" height="3.3" fill="#fff" stroke="#3558c0" stroke-width="0.8"/>
<rect x="357.6" y="548" width="3.3" height="3.3" fill="#fff" stroke="#3558c0" stroke-width="0.8"/>
<line x1="382" y1="571.9" x2="382" y2="568" stroke="#e8343a" stroke-width="0.8"/>
<line x1="379.8" y1="568" x2="384.2" y2="568" stroke="#e8343a" stroke-width="0.8"/>
<line x1="379.8" y1="571.9" x2="384.2" y2="571.9" stroke="#e8343a" stroke-width="0.8"/>
<polygon points="375.6,564.3 373.9,567.4 377.2,567.4" fill="#fff" stroke="#e8343a" stroke-width="0.8"/>
<polygon points="388.3,565.3 386.7,568.4 390,568.4" fill="#fff" stroke="#e8343a" stroke-width="0.8"/>
<polygon points="385.8,566.7 384.1,569.8 387.4,569.8" fill="#fff" stroke="#e8343a" stroke-width="0.8"/>
<polygon points="383.2,569.1 381.6,572.3 384.9,572.3" fill="#fff" stroke="#e8343a" stroke-width="0.8"/>
<polygon points="380.7,571.6 379,574.7 382.3,574.7" fill="#fff" stroke="#e8343a" stroke-width="0.8"/>
<polygon points="378.1,572 376.5,575.2 379.8,575.2" fill="#fff" stroke="#e8343a" stroke-width="0.8"/>
<line x1="401.1" y1="553.5" x2="401.1" y2="544.8" stroke="#e8343a" stroke-width="0.8"/>
<line x1="398.9" y1="544.8" x2="403.3" y2="544.8" stroke="#e8343a" stroke-width="0.8"/>
<line x1="398.9" y1="553.5" x2="403.3" y2="553.5" stroke="#e8343a" stroke-width="0.8"/>
<polygon points="394.9,540.8 393.3,537.6 396.6,537.6" fill="#fff" stroke="#e8343a" stroke-width="0.8"/>
<polygon points="407.4,544.6 405.7,541.5 409,541.5" fill="#fff" stroke="#e8343a" stroke-width="0.8"/>
<polygon points="404.9,546.1 403.2,543 406.5,543" fill="#fff" stroke="#e8343a" stroke-width="0.8"/>
<polygon points="402.4,548.5 400.7,545.4 404,545.4" fill="#fff" stroke="#e8343a" stroke-width="0.8"/>
<polygon points="399.9,555.8 398.3,552.7 401.6,552.7" fill="#fff" stroke="#e8343a" stroke-width="0.8"/>
<polygon points="397.4,570.3 395.8,567.2 399.1,567.2" fill="#fff" stroke="#e8343a" stroke-width="0.8"/>
<line x1="328.5" y1="585.5" x2="328.5" y2="512.8" stroke="#000" stroke-width="0.9"/>
<line x1="326.7" y1="585.5" x2="328.5" y2="585.5" stroke="#000" stroke-width="0.9"/>
<text x="325.2" y="587.3" font-size="4.9" text-anchor="end" fill="#000" font-weight="bold">0</text>
<line x1="326.7" y1="561.2" x2="328.5" y2="561.2" stroke="#000" stroke-width="0.9"/>
<text x="325.2" y="563" font-size="4.9" text-anchor="end" fill="#000" font-weight="bold">50</text>
<line x1="326.7" y1="537" x2="328.5" y2="537" stroke="#000" stroke-width="0.9"/>
<text x="325.2" y="538.8" font-size="4.9" text-anchor="end" fill="#000" font-weight="bold">100</text>
<line x1="326.7" y1="512.8" x2="328.5" y2="512.8" stroke="#000" stroke-width="0.9"/>
<text x="325.2" y="514.5" font-size="4.9" text-anchor="end" fill="#000" font-weight="bold">150</text>
<line x1="328.5" y1="585.5" x2="412.6" y2="585.5" stroke="#000" stroke-width="0.9"/>
<line x1="344" y1="585.5" x2="344" y2="587.3" stroke="#000" stroke-width="0.8"/>
<line x1="363" y1="585.5" x2="363" y2="587.3" stroke="#000" stroke-width="0.8"/>
<line x1="382" y1="585.5" x2="382" y2="587.3" stroke="#000" stroke-width="0.8"/>
<line x1="401.2" y1="585.5" x2="401.2" y2="587.3" stroke="#000" stroke-width="0.8"/>
<polyline points="344,532.2 344,530.7 363,530.7 363,532.2" fill="none" stroke="#222" stroke-width="0.8"/>
<text x="353.5" y="531.6" font-size="9" text-anchor="middle" fill="#000" font-weight="bold">***</text>
<polyline points="382,532.2 382,530.7 401.2,530.7 401.2,532.2" fill="none" stroke="#222" stroke-width="0.8"/>
<text x="391.6" y="531.6" font-size="9" text-anchor="middle" fill="#000" font-weight="bold">**</text>
<text x="305.7" y="549.4" font-size="5.7" text-anchor="middle" fill="#000" font-weight="bold" transform="rotate(-90 305.7 549.4)">ATP level</text>
<text x="312.3" y="548.5" font-size="5.8" text-anchor="middle" fill="#000" font-weight="bold" transform="rotate(-90 312.3 548.5)">(nmol/mg protein)</text>
<text x="345.8" y="592.8" font-size="5" text-anchor="end" font-weight="bold" transform="rotate(-45 345.8 592.8)">Veh</text>
<text x="364.8" y="592.8" font-size="5" text-anchor="end" font-weight="bold" transform="rotate(-45 364.8 592.8)">TEPP-46</text>
<text x="383.8" y="592.8" font-size="5" text-anchor="end" font-weight="bold" transform="rotate(-45 383.8 592.8)">Veh+IL-1β</text>
<text x="403" y="592.8" font-size="5" text-anchor="end" font-weight="bold" transform="rotate(-45 403 592.8)">TEPP-46+IL-1β</text>
<text x="366.5" y="5.6" font-size="7.2" text-anchor="middle" fill="#000">4-OHT</text>
<line x1="242.7" y1="8" x2="490.3" y2="8" stroke="#808080" stroke-width="1.3"/>
<text x="300.3" y="17.1" font-size="7.2" text-anchor="middle" fill="#000">Veh</text>
<line x1="242.7" y1="19.4" x2="358" y2="19.4" stroke="#222" stroke-width="1.1"/>
<text x="432.5" y="17.1" font-size="7.2" text-anchor="middle" fill="#000">IL-1β</text>
<line x1="376.2" y1="19.4" x2="490.3" y2="19.4" stroke="#222" stroke-width="1.1"/>
<text x="267.9" y="29.9" font-size="7" text-anchor="middle" fill="#000">Pkm2<tspan font-size="4.3" dy="-2.7">fl/fl</tspan></text>
<text x="333.8" y="29.9" font-size="7" text-anchor="middle" fill="#000">Pkm2<tspan font-size="4.3" dy="-2.7">ΔKO</tspan></text>
<text x="399.6" y="29.9" font-size="7" text-anchor="middle" fill="#000">Pkm2<tspan font-size="4.3" dy="-2.7">fl/fl</tspan></text>
<text x="466.3" y="29.9" font-size="7" text-anchor="middle" fill="#000">Pkm2<tspan font-size="4.3" dy="-2.7">ΔKO</tspan></text>
<text x="233.1" y="65.4" font-size="7.6" text-anchor="middle" fill="#000" transform="rotate(-90 233.1 65.4)">Mitotracker</text>
<text x="233.1" y="129.6" font-size="7.5" text-anchor="middle" fill="#000" transform="rotate(-90 233.1 129.6)">Zoom-in</text>
<g clip-path="url(#cp1)">
<rect x="235.2" y="31.1" width="65.3" height="65.9" fill="#030a03" stroke="none" stroke-width="0.8"/>
<line x1="245.5" y1="70" x2="249.4" y2="83.5" stroke="rgba(50,170,35,0.43)" stroke-width="0.9"/>
<line x1="242.5" y1="88.3" x2="252.4" y2="97.4" stroke="rgba(50,170,35,0.43)" stroke-width="0.9"/>
<line x1="297.3" y1="61.1" x2="293.7" y2="73.3" stroke="rgba(50,170,35,0.43)" stroke-width="0.9"/>
<line x1="252.3" y1="74.3" x2="259.5" y2="73" stroke="rgba(50,170,35,0.43)" stroke-width="0.9"/>
<line x1="246.7" y1="36.4" x2="236.8" y2="46.4" stroke="rgba(50,170,35,0.43)" stroke-width="0.9"/>
<line x1="300.8" y1="84.9" x2="291.2" y2="84.7" stroke="rgba(50,170,35,0.43)" stroke-width="0.9"/>
<line x1="256.8" y1="49.5" x2="253.6" y2="55.9" stroke="rgba(50,170,35,0.43)" stroke-width="0.9"/>
<line x1="233.7" y1="66.1" x2="225.1" y2="68.9" stroke="rgba(50,170,35,0.43)" stroke-width="0.9"/>
<line x1="239" y1="30.3" x2="231.9" y2="41.5" stroke="rgba(50,170,35,0.43)" stroke-width="0.9"/>
<line x1="300.4" y1="92.7" x2="288" y2="93.3" stroke="rgba(50,170,35,0.43)" stroke-width="0.9"/>
<line x1="245.5" y1="70" x2="236.9" y2="77.8" stroke="rgba(50,170,35,0.43)" stroke-width="0.9"/>
<line x1="250" y1="84.8" x2="241.3" y2="74.9" stroke="rgba(50,170,35,0.43)" stroke-width="0.9"/>
<line x1="244.6" y1="80.1" x2="249.9" y2="70.4" stroke="rgba(50,170,35,0.43)" stroke-width="0.9"/>
<line x1="293.9" y1="50.5" x2="284.9" y2="43.9" stroke="rgba(50,170,35,0.43)" stroke-width="0.9"/>
<g filter="url(#blur06)">
<path d="M259,66.2 Q257.6,65.2 258.7,63.6 Q259.8,62 261.7,60.7 Q263.5,59.4 266.2,60.2 Q269,60.9 268.9,63.1 Q268.8,65.2 266.5,67.3 Q264.2,69.4 262.3,68.3 Q260.3,67.3 259,66.2 Z" fill="rgba(45,175,32,0.66)"/>
<ellipse cx="263.8" cy="64.1" rx="2.5" ry="2.3" transform="rotate(168.7 263.8 64.1)" fill="rgba(5,30,5,0.45)" stroke="rgba(80,225,55,0.73)" stroke-width="0.9"/>
<path d="M238.1,89.9 Q237.3,88.6 238.1,87.2 Q238.9,85.7 240.9,85.5 Q242.9,85.3 245.7,85.2 Q248.5,85.2 249.5,86.9 Q250.5,88.7 247,90.2 Q243.5,91.8 241.2,91.5 Q238.8,91.2 238.1,89.9 Z" fill="rgba(45,175,32,0.34)"/>
<ellipse cx="242.5" cy="88" rx="2.1" ry="1.9" transform="rotate(174.1 242.5 88)" fill="rgba(5,30,5,0.45)" stroke="rgba(80,225,55,0.37)" stroke-width="0.9"/>
<path d="M255.4,64.6 Q256.2,66.1 254.4,66.5 Q252.6,66.9 250.6,66.4 Q248.6,65.9 247.7,64.2 Q246.8,62.6 246.6,61.2 Q246.5,59.8 248.9,60 Q251.2,60.2 252.9,61.6 Q254.7,63.1 255.4,64.6 Z" fill="rgba(45,175,32,0.42)"/>
<ellipse cx="250.6" cy="63" rx="2.1" ry="1.9" transform="rotate(30.5 250.6 63)" fill="rgba(5,30,5,0.45)" stroke="rgba(80,225,55,0.46)" stroke-width="0.9"/>
<path d="M277.8,88.1 Q275.8,87.9 275.3,86.5 Q274.8,85.2 275.1,82.5 Q275.4,79.9 277.3,80.2 Q279.2,80.5 280.6,81.5 Q281.9,82.6 282,84.1 Q282.1,85.6 281,87 Q279.8,88.4 277.8,88.1 Z" fill="rgba(45,175,32,0.55)"/>
<ellipse cx="278.7" cy="83.8" rx="2.2" ry="2" transform="rotate(125.9 278.7 83.8)" fill="rgba(5,30,5,0.45)" stroke="rgba(80,225,55,0.61)" stroke-width="0.9"/>
<path d="M233.9,92.7 Q232.2,94 231.5,92.5 Q230.7,91 232.1,87.9 Q233.5,84.9 234.4,84.2 Q235.3,83.6 237.2,83 Q239.1,82.4 238.9,85 Q238.7,87.5 237.1,89.4 Q235.6,91.3 233.9,92.7 Z" fill="rgba(45,175,32,0.55)"/>
<ellipse cx="235.9" cy="87.5" rx="1.8" ry="1.6" transform="rotate(109.8 235.9 87.5)" fill="rgba(5,30,5,0.45)" stroke="rgba(80,225,55,0.61)" stroke-width="0.9"/>
<path d="M289.7,30 Q290.1,31.4 288.6,32.1 Q287,32.8 285.1,33 Q283.1,33.2 282.5,31.3 Q281.9,29.4 281.8,27 Q281.7,24.5 284.6,25.4 Q287.5,26.4 288.4,27.5 Q289.4,28.6 289.7,30 Z" fill="rgba(45,175,32,0.63)"/>
<ellipse cx="286.4" cy="29.5" rx="2.4" ry="2.2" transform="rotate(29.3 286.4 29.5)" fill="rgba(5,30,5,0.45)" stroke="rgba(80,225,55,0.69)" stroke-width="0.9"/>
<path d="M284.9,50.1 Q282.6,51.4 281.3,49.9 Q280,48.4 279.8,46.1 Q279.6,43.7 280.3,42.1 Q281.1,40.4 283.2,39.3 Q285.3,38.1 286.2,41.5 Q287.1,44.8 287.2,46.8 Q287.2,48.8 284.9,50.1 Z" fill="rgba(45,175,32,0.57)"/>
<ellipse cx="283" cy="45" rx="2.6" ry="2.3" transform="rotate(89 283 45)" fill="rgba(5,30,5,0.45)" stroke="rgba(80,225,55,0.63)" stroke-width="0.9"/>
<path d="M298.3,32.7 Q298.2,33.5 297.3,33.8 Q296.3,34 294.2,33.5 Q292.1,33 292.3,31 Q292.4,29 293.1,28.6 Q293.9,28.2 295.8,28.4 Q297.8,28.6 298.1,30.2 Q298.4,31.8 298.3,32.7 Z" fill="rgba(45,175,32,0.37)"/>
<ellipse cx="295.5" cy="31.8" rx="1.7" ry="1.6" transform="rotate(46.4 295.5 31.8)" fill="rgba(5,30,5,0.45)" stroke="rgba(80,225,55,0.41)" stroke-width="0.9"/>
<path d="M272,99 Q270.6,100.5 269.5,98.8 Q268.4,97 267.8,95 Q267.1,93 268,90.9 Q268.8,88.9 271,89.8 Q273.2,90.7 273.9,92.1 Q274.5,93.4 273.9,95.4 Q273.3,97.4 272,99 Z" fill="rgba(45,175,32,0.42)"/>
<ellipse cx="271.2" cy="94.3" rx="2.1" ry="1.9" transform="rotate(97.7 271.2 94.3)" fill="rgba(5,30,5,0.45)" stroke="rgba(80,225,55,0.46)" stroke-width="0.9"/>
<path d="M251.6,49.6 Q250.6,50.7 249.1,50.1 Q247.7,49.4 247.2,46.8 Q246.8,44.2 246.9,42.3 Q246.9,40.4 248.6,39.7 Q250.3,39.1 251.4,41.8 Q252.4,44.4 252.5,46.4 Q252.6,48.5 251.6,49.6 Z" fill="rgba(45,175,32,0.42)"/>
<ellipse cx="249.4" cy="45.9" rx="1.7" ry="1.5" transform="rotate(80.6 249.4 45.9)" fill="rgba(5,30,5,0.45)" stroke="rgba(80,225,55,0.46)" stroke-width="0.9"/>
<path d="M268,49.1 Q268.4,50.5 267.9,50.9 Q267.3,51.3 265.8,51.4 Q264.4,51.5 263.1,50.5 Q261.8,49.6 261,48.1 Q260.2,46.6 262.4,46.6 Q264.6,46.5 266.1,47.2 Q267.6,47.8 268,49.1 Z" fill="rgba(45,175,32,0.54)"/>
<ellipse cx="264.5" cy="48.6" rx="1.5" ry="1.4" transform="rotate(12.6 264.5 48.6)" fill="rgba(5,30,5,0.45)" stroke="rgba(80,225,55,0.59)" stroke-width="0.9"/>
<path d="M290.4,71.9 Q288,72.1 287.4,70.3 Q286.8,68.4 287.2,66.8 Q287.7,65.3 289.5,63.4 Q291.4,61.5 292.9,63.1 Q294.5,64.7 294.9,67.1 Q295.3,69.6 294,70.6 Q292.8,71.7 290.4,71.9 Z" fill="rgba(45,175,32,0.59)"/>
<ellipse cx="291.5" cy="67.3" rx="2.8" ry="2.5" transform="rotate(119.6 291.5 67.3)" fill="rgba(5,30,5,0.45)" stroke="rgba(80,225,55,0.64)" stroke-width="0.9"/>
<path d="M242.6,102.8 Q240.1,100.9 239.8,99.1 Q239.5,97.4 242.4,96.2 Q245.4,95 248.2,94.6 Q250.9,94.2 252.1,95.8 Q253.4,97.3 251.3,99.5 Q249.3,101.8 247.2,103.3 Q245.1,104.8 242.6,102.8 Z" fill="rgba(45,175,32,0.40)"/>
<ellipse cx="246.9" cy="98.9" rx="2.4" ry="2.2" transform="rotate(151.4 246.9 98.9)" fill="rgba(5,30,5,0.45)" stroke="rgba(80,225,55,0.44)" stroke-width="0.9"/>
<path d="M245.6,53.3 Q245.6,55.2 244.6,55.9 Q243.6,56.7 240.6,55.4 Q237.6,54.1 237.1,52.4 Q236.6,50.7 236.8,48.9 Q237,47.1 239.7,48.3 Q242.4,49.6 244,50.6 Q245.6,51.5 245.6,53.3 Z" fill="rgba(45,175,32,0.44)"/>
<ellipse cx="241.9" cy="52.8" rx="2.2" ry="2" transform="rotate(36 241.9 52.8)" fill="rgba(5,30,5,0.45)" stroke="rgba(80,225,55,0.48)" stroke-width="0.9"/>
<path d="M283.1,98.9 Q281.4,99.5 280.2,98.1 Q279.1,96.7 279.7,94.6 Q280.4,92.5 281.3,91.6 Q282.3,90.7 283.5,90.1 Q284.6,89.6 285.1,92.2 Q285.6,94.9 285.2,96.6 Q284.9,98.3 283.1,98.9 Z" fill="rgba(45,175,32,0.43)"/>
<ellipse cx="282.2" cy="95.3" rx="2" ry="1.8" transform="rotate(103.2 282.2 95.3)" fill="rgba(5,30,5,0.45)" stroke="rgba(80,225,55,0.47)" stroke-width="0.9"/>
<path d="M287.6,79.7 Q286.7,78.8 287.2,77.3 Q287.7,75.9 288.6,74.7 Q289.5,73.4 291.1,73.1 Q292.6,72.8 294.7,73.5 Q296.7,74.3 295.3,76.3 Q293.9,78.4 291.2,79.5 Q288.5,80.6 287.6,79.7 Z" fill="rgba(45,175,32,0.43)"/>
<ellipse cx="291.1" cy="75.5" rx="1.8" ry="1.7" transform="rotate(143.4 291.1 75.5)" fill="rgba(5,30,5,0.45)" stroke="rgba(80,225,55,0.48)" stroke-width="0.9"/>
<path d="M272.8,69.9 Q273.3,71.9 272.3,72.9 Q271.4,73.8 269,73.4 Q266.6,73.1 264.7,71.9 Q262.8,70.8 263.3,69.2 Q263.8,67.6 265.7,67.6 Q267.5,67.5 269.9,67.7 Q272.3,67.9 272.8,69.9 Z" fill="rgba(45,175,32,0.55)"/>
<ellipse cx="267.8" cy="70.2" rx="1.8" ry="1.6" transform="rotate(12 267.8 70.2)" fill="rgba(5,30,5,0.45)" stroke="rgba(80,225,55,0.60)" stroke-width="0.9"/>
<path d="M252.9,87.2 Q251.5,88.2 249.1,89 Q246.7,89.9 246.7,87.7 Q246.8,85.5 246.7,83.7 Q246.7,81.8 248.6,81.5 Q250.6,81.3 252.2,81.7 Q253.9,82.2 254.1,84.2 Q254.3,86.3 252.9,87.2 Z" fill="rgba(45,175,32,0.40)"/>
<ellipse cx="249.8" cy="85.6" rx="2.6" ry="2.3" transform="rotate(66.1 249.8 85.6)" fill="rgba(5,30,5,0.45)" stroke="rgba(80,225,55,0.43)" stroke-width="0.9"/>
<path d="M284.4,53.9 Q285,55.7 283.7,57.6 Q282.4,59.5 280.2,59.3 Q278.1,59.1 276.5,58 Q274.9,56.9 275.7,54.8 Q276.6,52.7 277.5,51.1 Q278.5,49.4 281.1,50.8 Q283.7,52.1 284.4,53.9 Z" fill="rgba(45,175,32,0.56)"/>
<ellipse cx="280.1" cy="55.4" rx="2.6" ry="2.4" transform="rotate(1.2 280.1 55.4)" fill="rgba(5,30,5,0.45)" stroke="rgba(80,225,55,0.62)" stroke-width="0.9"/>
<path d="M270.4,87.9 Q270,90.5 268.3,88.4 Q266.5,86.3 266,85 Q265.5,83.8 266.3,81.6 Q267,79.5 267.9,79 Q268.8,78.5 270.2,80.2 Q271.7,81.9 271.2,83.6 Q270.8,85.4 270.4,87.9 Z" fill="rgba(45,175,32,0.48)"/>
<ellipse cx="267.8" cy="82.7" rx="1.7" ry="1.5" transform="rotate(81.5 267.8 82.7)" fill="rgba(5,30,5,0.45)" stroke="rgba(80,225,55,0.53)" stroke-width="0.9"/>
<path d="M242.5,82.8 Q241.7,84.9 239,84 Q236.2,83 234,81 Q231.8,79 231.8,77.4 Q231.8,75.9 232.8,73.6 Q233.9,71.3 235.7,73.2 Q237.4,75.1 240.3,77.9 Q243.2,80.7 242.5,82.8 Z" fill="rgba(45,175,32,0.59)"/>
<ellipse cx="236.1" cy="79" rx="2.2" ry="2" transform="rotate(48.4 236.1 79)" fill="rgba(5,30,5,0.45)" stroke="rgba(80,225,55,0.65)" stroke-width="0.9"/>
<path d="M295.4,94.3 Q295.2,97 293,97.2 Q290.7,97.4 288.3,94.4 Q285.9,91.4 286.1,90 Q286.4,88.6 287.2,87.7 Q287.9,86.7 290,87.7 Q292.1,88.6 293.8,90.1 Q295.6,91.5 295.4,94.3 Z" fill="rgba(45,175,32,0.42)"/>
<ellipse cx="289.4" cy="91.3" rx="2.2" ry="2" transform="rotate(51.7 289.4 91.3)" fill="rgba(5,30,5,0.45)" stroke="rgba(80,225,55,0.47)" stroke-width="0.9"/>
<path d="M267,35 Q266.8,36.3 266.2,36.9 Q265.6,37.5 263.1,36.6 Q260.5,35.7 258,32.6 Q255.5,29.4 256.5,28.3 Q257.5,27.2 260.7,28.1 Q264,29 265.5,31.3 Q267.1,33.7 267,35 Z" fill="rgba(45,175,32,0.47)"/>
<ellipse cx="263.2" cy="33.3" rx="1.7" ry="1.6" transform="rotate(33.7 263.2 33.3)" fill="rgba(5,30,5,0.45)" stroke="rgba(80,225,55,0.52)" stroke-width="0.9"/>
<path d="M277.1,42.3 Q277.2,44.1 276.9,45.3 Q276.6,46.4 273.8,46.1 Q271,45.8 269,44.6 Q267.1,43.5 266.9,42.3 Q266.7,41.1 269.6,40.8 Q272.4,40.4 274.7,40.5 Q276.9,40.6 277.1,42.3 Z" fill="rgba(45,175,32,0.55)"/>
<ellipse cx="273.4" cy="43.1" rx="1.8" ry="1.6" transform="rotate(8.6 273.4 43.1)" fill="rgba(5,30,5,0.45)" stroke="rgba(80,225,55,0.60)" stroke-width="0.9"/>
<path d="M240.9,74.1 Q238.4,72 239,69.7 Q239.5,67.4 241.6,66.1 Q243.7,64.7 246.7,65.6 Q249.8,66.4 250.9,68.4 Q252,70.4 250.9,71.8 Q249.8,73.2 246.6,74.7 Q243.4,76.2 240.9,74.1 Z" fill="rgba(45,175,32,0.60)"/>
<ellipse cx="244.8" cy="70" rx="2.6" ry="2.4" transform="rotate(156.4 244.8 70)" fill="rgba(5,30,5,0.45)" stroke="rgba(80,225,55,0.66)" stroke-width="0.9"/>
<path d="M242.5,32.4 Q242.2,33.5 240.7,34.1 Q239.3,34.7 237.8,33.4 Q236.4,32.2 235.3,29.6 Q234.2,27.1 235.5,26.7 Q236.7,26.3 238.3,26.9 Q239.9,27.5 241.3,29.4 Q242.7,31.2 242.5,32.4 Z" fill="rgba(45,175,32,0.38)"/>
<ellipse cx="238.6" cy="29.7" rx="1.5" ry="1.3" transform="rotate(48.7 238.6 29.7)" fill="rgba(5,30,5,0.45)" stroke="rgba(80,225,55,0.42)" stroke-width="0.9"/>
<path d="M278.7,70.3 Q277.5,69.8 276.7,68.4 Q275.9,67 276.6,65.3 Q277.4,63.6 279.9,63.8 Q282.4,64 283.4,64.8 Q284.5,65.7 284.7,67.3 Q284.9,69 282.4,69.9 Q279.9,70.8 278.7,70.3 Z" fill="rgba(45,175,32,0.53)"/>
<ellipse cx="280.4" cy="67.7" rx="2.2" ry="2" transform="rotate(136.6 280.4 67.7)" fill="rgba(5,30,5,0.45)" stroke="rgba(80,225,55,0.58)" stroke-width="0.9"/>
<path d="M305.9,84.8 Q306.9,85.9 305.2,86.8 Q303.5,87.6 301.3,87.9 Q299.1,88.3 296.4,86.6 Q293.7,84.9 294.1,83.8 Q294.4,82.6 296.9,82 Q299.3,81.4 302.1,82.5 Q304.9,83.6 305.9,84.8 Z" fill="rgba(45,175,32,0.37)"/>
<ellipse cx="301.2" cy="84.7" rx="1.7" ry="1.6" transform="rotate(9 301.2 84.7)" fill="rgba(5,30,5,0.45)" stroke="rgba(80,225,55,0.41)" stroke-width="0.9"/>
<path d="M277.8,51.8 Q277.4,53.8 276.3,54.5 Q275.2,55.3 273,55.6 Q270.9,55.8 269.6,53.6 Q268.3,51.3 268.6,49.8 Q269,48.3 270.5,47.4 Q272,46.4 275.1,48.2 Q278.2,49.9 277.8,51.8 Z" fill="rgba(45,175,32,0.37)"/>
<ellipse cx="273.4" cy="50.9" rx="2" ry="1.9" transform="rotate(21.9 273.4 50.9)" fill="rgba(5,30,5,0.45)" stroke="rgba(80,225,55,0.41)" stroke-width="0.9"/>
<path d="M297.9,54.5 Q296.3,55.4 294.7,55.6 Q293.2,55.7 292.1,53 Q291,50.2 290.6,48 Q290.2,45.7 290.5,44.8 Q290.9,43.8 293.5,46 Q296,48.1 297.7,50.8 Q299.4,53.6 297.9,54.5 Z" fill="rgba(45,175,32,0.63)"/>
<ellipse cx="293.6" cy="50.1" rx="1.7" ry="1.6" transform="rotate(59.2 293.6 50.1)" fill="rgba(5,30,5,0.45)" stroke="rgba(80,225,55,0.69)" stroke-width="0.9"/>
<path d="M258.7,98.3 Q258.3,99.1 256.3,98.8 Q254.3,98.6 253.1,97.6 Q251.8,96.6 251.3,93.6 Q250.8,90.7 251.1,89.4 Q251.4,88.2 253.9,90.5 Q256.3,92.8 257.7,95.1 Q259.1,97.4 258.7,98.3 Z" fill="rgba(45,175,32,0.53)"/>
<ellipse cx="254.8" cy="95.2" rx="1.8" ry="1.7" transform="rotate(54.5 254.8 95.2)" fill="rgba(5,30,5,0.45)" stroke="rgba(80,225,55,0.59)" stroke-width="0.9"/>
<path d="M301.3,72.9 Q299.9,72.7 298.6,72.7 Q297.3,72.7 296.6,69.9 Q295.9,67.2 297,65.5 Q298.2,63.8 299.9,64.5 Q301.7,65.2 302.1,66.5 Q302.6,67.9 302.7,70.5 Q302.8,73.2 301.3,72.9 Z" fill="rgba(45,175,32,0.54)"/>
<ellipse cx="299.7" cy="69.7" rx="1.9" ry="1.8" transform="rotate(91.3 299.7 69.7)" fill="rgba(5,30,5,0.45)" stroke="rgba(80,225,55,0.59)" stroke-width="0.9"/>
<path d="M252.3,37.7 Q253.8,40.2 251,39.8 Q248.2,39.4 246.1,38.7 Q244,38 241.6,36.3 Q239.2,34.5 241.1,34.2 Q243.1,33.8 244.9,33 Q246.8,32.1 248.8,33.7 Q250.8,35.3 252.3,37.7 Z" fill="rgba(45,175,32,0.56)"/>
<ellipse cx="246.5" cy="36.3" rx="2" ry="1.8" transform="rotate(26.1 246.5 36.3)" fill="rgba(5,30,5,0.45)" stroke="rgba(80,225,55,0.62)" stroke-width="0.9"/>
<path d="M263.3,49.3 Q263.5,52.1 261,53.5 Q258.5,54.9 256,54.7 Q253.4,54.5 251.6,52.2 Q249.9,49.9 250.5,47.2 Q251.1,44.4 253.9,44.4 Q256.7,44.3 259.9,45.4 Q263.2,46.5 263.3,49.3 Z" fill="rgba(45,175,32,0.55)"/>
<ellipse cx="257" cy="48.8" rx="2.8" ry="2.6" transform="rotate(17.9 257 48.8)" fill="rgba(5,30,5,0.45)" stroke="rgba(80,225,55,0.60)" stroke-width="0.9"/>
<path d="M293.5,64.2 Q292.3,62.8 292.8,60.3 Q293.3,57.9 295.3,57.2 Q297.2,56.5 300,57.6 Q302.7,58.7 302.1,60.6 Q301.5,62.4 300.5,64 Q299.5,65.6 297.1,65.6 Q294.8,65.7 293.5,64.2 Z" fill="rgba(45,175,32,0.37)"/>
<ellipse cx="296.9" cy="61.3" rx="2.4" ry="2.1" transform="rotate(171.4 296.9 61.3)" fill="rgba(5,30,5,0.45)" stroke="rgba(80,225,55,0.41)" stroke-width="0.9"/>
<path d="M283.4,36.2 Q284.2,37.8 282.9,38.8 Q281.6,39.8 279.6,38.3 Q277.6,36.9 276.3,35.8 Q275.1,34.6 275.3,33.5 Q275.6,32.3 278.1,32.6 Q280.7,32.9 281.7,33.7 Q282.6,34.6 283.4,36.2 Z" fill="rgba(45,175,32,0.37)"/>
<ellipse cx="280.4" cy="35.2" rx="1.6" ry="1.5" transform="rotate(26 280.4 35.2)" fill="rgba(5,30,5,0.45)" stroke="rgba(80,225,55,0.41)" stroke-width="0.9"/>
<path d="M304.9,94.7 Q304.5,96.3 302.3,97.2 Q300.2,98.1 298.7,96.3 Q297.3,94.6 296.6,93 Q296,91.4 297.3,90.4 Q298.6,89.4 300,89.1 Q301.4,88.9 303.4,91 Q305.3,93.2 304.9,94.7 Z" fill="rgba(45,175,32,0.58)"/>
<ellipse cx="301.1" cy="92.6" rx="2.2" ry="2" transform="rotate(44.1 301.1 92.6)" fill="rgba(5,30,5,0.45)" stroke="rgba(80,225,55,0.64)" stroke-width="0.9"/>
<path d="M243.4,47.4 Q242.2,48.6 240.9,48.1 Q239.7,47.6 238.3,46.3 Q237,45 237.1,41.9 Q237.2,38.8 239.1,39.2 Q241,39.6 243.2,40.4 Q245.3,41.1 245,43.6 Q244.6,46.1 243.4,47.4 Z" fill="rgba(45,175,32,0.60)"/>
<ellipse cx="240.8" cy="43.6" rx="2.2" ry="2" transform="rotate(67.9 240.8 43.6)" fill="rgba(5,30,5,0.45)" stroke="rgba(80,225,55,0.66)" stroke-width="0.9"/>
<path d="M274.9,35.3 Q275.3,36.6 274,37.1 Q272.8,37.6 271.3,37 Q269.7,36.5 269,35.1 Q268.3,33.7 268.8,32.5 Q269.3,31.2 270.9,30.8 Q272.4,30.4 273.5,32.2 Q274.5,34 274.9,35.3 Z" fill="rgba(45,175,32,0.36)"/>
<ellipse cx="271.2" cy="34" rx="1.9" ry="1.8" transform="rotate(32.2 271.2 34)" fill="rgba(5,30,5,0.45)" stroke="rgba(80,225,55,0.39)" stroke-width="0.9"/>
<path d="M245.6,64.9 Q244.7,65.7 243.9,64.4 Q243.1,63 243.6,60.4 Q244.2,57.8 245,56 Q245.9,54.2 246.6,55.1 Q247.3,55.9 247.8,56.9 Q248.3,57.8 247.4,61 Q246.5,64.2 245.6,64.9 Z" fill="rgba(45,175,32,0.36)"/>
<ellipse cx="245.8" cy="60.1" rx="1.4" ry="1.2" transform="rotate(102.1 245.8 60.1)" fill="rgba(5,30,5,0.45)" stroke="rgba(80,225,55,0.40)" stroke-width="0.9"/>
<path d="M280,79.1 Q277.7,79 278.4,77.2 Q279.1,75.4 280.8,73.9 Q282.4,72.5 283.6,72.5 Q284.7,72.5 285.5,73.8 Q286.2,75 286.4,76.7 Q286.7,78.3 284.5,78.8 Q282.3,79.2 280,79.1 Z" fill="rgba(45,175,32,0.56)"/>
<ellipse cx="282.6" cy="75.9" rx="2" ry="1.8" transform="rotate(144.5 282.6 75.9)" fill="rgba(5,30,5,0.45)" stroke="rgba(80,225,55,0.62)" stroke-width="0.9"/>
<path d="M241.5,93.8 Q241.9,96.2 241.5,98.7 Q241.1,101.3 238.5,101.9 Q235.9,102.4 234.8,100.5 Q233.8,98.5 232.9,96.1 Q232,93.6 233.6,91.8 Q235.2,89.9 238.1,90.6 Q241.1,91.4 241.5,93.8 Z" fill="rgba(45,175,32,0.65)"/>
<ellipse cx="236.9" cy="96.3" rx="3" ry="2.7" transform="rotate(2.4 236.9 96.3)" fill="rgba(5,30,5,0.45)" stroke="rgba(80,225,55,0.72)" stroke-width="0.9"/>
<path d="M266.6,60.9 Q265.9,62.5 264.2,61.7 Q262.5,60.8 262.4,58.9 Q262.3,57 262.3,54.6 Q262.4,52.1 263.6,52.4 Q264.8,52.6 265.5,53.8 Q266.3,54.9 266.8,57.1 Q267.3,59.3 266.6,60.9 Z" fill="rgba(45,175,32,0.53)"/>
<ellipse cx="264.6" cy="56.4" rx="1.6" ry="1.4" transform="rotate(75.1 264.6 56.4)" fill="rgba(5,30,5,0.45)" stroke="rgba(80,225,55,0.58)" stroke-width="0.9"/>
<path d="M256.3,42.3 Q255.3,42 254.8,41.2 Q254.4,40.5 255.7,38.7 Q257.1,36.9 258.4,36 Q259.7,35.2 261.1,34.7 Q262.4,34.2 260.9,36.9 Q259.5,39.5 258.4,41.1 Q257.3,42.7 256.3,42.3 Z" fill="rgba(45,175,32,0.60)"/>
<ellipse cx="258.2" cy="38.8" rx="1.3" ry="1.2" transform="rotate(127 258.2 38.8)" fill="rgba(5,30,5,0.45)" stroke="rgba(80,225,55,0.66)" stroke-width="0.9"/>
<path d="M263.9,75.3 Q263.4,77.2 260.9,76.4 Q258.5,75.5 257.5,73.6 Q256.5,71.7 257.2,69.8 Q257.8,67.9 260,67.1 Q262.3,66.2 263.7,67.9 Q265.1,69.5 264.7,71.4 Q264.4,73.3 263.9,75.3 Z" fill="rgba(45,175,32,0.66)"/>
<ellipse cx="260.3" cy="71.4" rx="2.4" ry="2.1" transform="rotate(71.4 260.3 71.4)" fill="rgba(5,30,5,0.45)" stroke="rgba(80,225,55,0.73)" stroke-width="0.9"/>
<path d="M232.8,71 Q231.4,70.3 230.4,68.7 Q229.5,67.1 230.1,64.9 Q230.7,62.7 232.9,62.3 Q235.1,61.8 236.5,61.6 Q237.9,61.3 237.7,64.1 Q237.5,66.9 235.9,69.3 Q234.3,71.8 232.8,71 Z" fill="rgba(45,175,32,0.41)"/>
<ellipse cx="233.5" cy="65.6" rx="2.2" ry="2" transform="rotate(120.7 233.5 65.6)" fill="rgba(5,30,5,0.45)" stroke="rgba(80,225,55,0.45)" stroke-width="0.9"/>
<path d="M255.1,74.1 Q255.6,75.5 255.2,76.5 Q254.7,77.5 252.4,77.2 Q250.1,77 249.5,76 Q248.8,74.9 248.8,73.2 Q248.8,71.5 250.8,70.6 Q252.7,69.6 253.6,71.1 Q254.6,72.6 255.1,74.1 Z" fill="rgba(45,175,32,0.61)"/>
<ellipse cx="251.5" cy="74.5" rx="2" ry="1.8" transform="rotate(13.9 251.5 74.5)" fill="rgba(5,30,5,0.45)" stroke="rgba(80,225,55,0.68)" stroke-width="0.9"/>
<path d="M241.7,82.1 Q240.4,81.7 240.2,80.1 Q239.9,78.5 242.2,77.9 Q244.4,77.2 246,77.2 Q247.6,77.2 247.9,78.8 Q248.3,80.5 247.6,81.6 Q246.9,82.8 244.9,82.7 Q243,82.6 241.7,82.1 Z" fill="rgba(45,175,32,0.64)"/>
<ellipse cx="245.3" cy="80.7" rx="2.1" ry="1.9" transform="rotate(160.4 245.3 80.7)" fill="rgba(5,30,5,0.45)" stroke="rgba(80,225,55,0.71)" stroke-width="0.9"/>
<path d="M292.8,58.4 Q294.2,60 293.4,61.3 Q292.7,62.6 290.5,62.6 Q288.4,62.5 286.4,61.3 Q284.3,60 284.2,59 Q284.1,57.9 285.5,57.2 Q286.8,56.4 289.1,56.6 Q291.4,56.8 292.8,58.4 Z" fill="rgba(45,175,32,0.58)"/>
<ellipse cx="288.2" cy="59.1" rx="1.6" ry="1.5" transform="rotate(3.1 288.2 59.1)" fill="rgba(5,30,5,0.45)" stroke="rgba(80,225,55,0.64)" stroke-width="0.9"/>
<path d="M289.1,85.6 Q288.5,83.9 289.2,82.1 Q289.9,80.4 291.4,79.5 Q292.8,78.7 295.2,79.6 Q297.5,80.5 298.1,82.7 Q298.6,84.9 296.5,85.4 Q294.4,86 292,86.6 Q289.6,87.2 289.1,85.6 Z" fill="rgba(45,175,32,0.34)"/>
<ellipse cx="292.3" cy="83.4" rx="2.5" ry="2.3" transform="rotate(167.9 292.3 83.4)" fill="rgba(5,30,5,0.45)" stroke="rgba(80,225,55,0.38)" stroke-width="0.9"/>
</g>
<rect x="235.2" y="31.1" width="65.3" height="65.9" fill="#000" stroke="none" stroke-width="0.8" filter="url(#speckD)" opacity="0.45"/>
</g>
<g clip-path="url(#cp2)">
<rect x="300.5" y="31.1" width="66.6" height="65.9" fill="#030a03" stroke="none" stroke-width="0.8"/>
<line x1="321.5" y1="38.7" x2="323.3" y2="46.1" stroke="rgba(50,170,35,0.43)" stroke-width="0.9"/>
<line x1="357.3" y1="30.4" x2="352.6" y2="35.1" stroke="rgba(50,170,35,0.43)" stroke-width="0.9"/>
<line x1="340.5" y1="90.7" x2="332.2" y2="93.6" stroke="rgba(50,170,35,0.43)" stroke-width="0.9"/>
<line x1="329.9" y1="47.9" x2="315.9" y2="48.3" stroke="rgba(50,170,35,0.43)" stroke-width="0.9"/>
<line x1="349.6" y1="63.1" x2="354.8" y2="70.4" stroke="rgba(50,170,35,0.43)" stroke-width="0.9"/>
<line x1="363.8" y1="64.1" x2="367.6" y2="76.6" stroke="rgba(50,170,35,0.43)" stroke-width="0.9"/>
<line x1="365.9" y1="30.9" x2="354.9" y2="23.8" stroke="rgba(50,170,35,0.43)" stroke-width="0.9"/>
<line x1="368.9" y1="39.3" x2="358.6" y2="46.2" stroke="rgba(50,170,35,0.43)" stroke-width="0.9"/>
<line x1="331" y1="78.3" x2="342.8" y2="83.1" stroke="rgba(50,170,35,0.43)" stroke-width="0.9"/>
<line x1="321.5" y1="38.7" x2="333.9" y2="34" stroke="rgba(50,170,35,0.43)" stroke-width="0.9"/>
<line x1="360.3" y1="38" x2="368" y2="45.2" stroke="rgba(50,170,35,0.43)" stroke-width="0.9"/>
<line x1="352.6" y1="80.8" x2="342.9" y2="82.4" stroke="rgba(50,170,35,0.43)" stroke-width="0.9"/>
<line x1="331.1" y1="66.2" x2="331.5" y2="72.7" stroke="rgba(50,170,35,0.43)" stroke-width="0.9"/>
<line x1="368.9" y1="39.3" x2="371.8" y2="33" stroke="rgba(50,170,35,0.43)" stroke-width="0.9"/>
<g filter="url(#blur06)">
<path d="M325.8,57.3 Q324.2,56.1 325.3,54.7 Q326.4,53.3 328.2,52.2 Q330,51 332.4,52 Q334.8,53 335.1,55.1 Q335.4,57.1 333.4,57.7 Q331.3,58.2 329.3,58.4 Q327.3,58.6 325.8,57.3 Z" fill="rgba(45,175,32,0.35)"/>
<ellipse cx="328.9" cy="55.2" rx="2.4" ry="2.2" transform="rotate(170.2 328.9 55.2)" fill="rgba(5,30,5,0.45)" stroke="rgba(80,225,55,0.39)" stroke-width="0.9"/>
<path d="M367.1,98.8 Q365.1,98.7 364.4,97.9 Q363.7,97.2 363.4,95.4 Q363,93.7 363.9,92.8 Q364.7,91.8 366.4,91.8 Q368.1,91.7 368.6,93.6 Q369.1,95.5 369.1,97.3 Q369.1,99 367.1,98.8 Z" fill="rgba(45,175,32,0.55)"/>
<ellipse cx="366.2" cy="94.7" rx="1.9" ry="1.7" transform="rotate(96.8 366.2 94.7)" fill="rgba(5,30,5,0.45)" stroke="rgba(80,225,55,0.60)" stroke-width="0.9"/>
<path d="M300.7,91.6 Q298.4,92.1 299.2,89.4 Q299.9,86.8 302.1,85.6 Q304.3,84.4 306.3,82.9 Q308.3,81.5 309.4,82.8 Q310.5,84 308.9,87.4 Q307.4,90.8 305.2,91 Q303,91.2 300.7,91.6 Z" fill="rgba(45,175,32,0.65)"/>
<ellipse cx="304.6" cy="87.7" rx="2.1" ry="2" transform="rotate(141.2 304.6 87.7)" fill="rgba(5,30,5,0.45)" stroke="rgba(80,225,55,0.71)" stroke-width="0.9"/>
<path d="M348.7,54.5 Q347,54.8 344.9,55.4 Q342.8,55.9 342.1,52.5 Q341.4,49.2 341.8,47 Q342.1,44.8 343.9,45.2 Q345.6,45.6 347.9,47.3 Q350.3,48.9 350.4,51.6 Q350.5,54.2 348.7,54.5 Z" fill="rgba(45,175,32,0.60)"/>
<ellipse cx="345.2" cy="50.8" rx="2.1" ry="1.9" transform="rotate(78.4 345.2 50.8)" fill="rgba(5,30,5,0.45)" stroke="rgba(80,225,55,0.65)" stroke-width="0.9"/>
<path d="M345.4,69.3 Q346.2,70.2 344.9,71.2 Q343.7,72.2 341.8,71.8 Q339.9,71.4 338.1,70.7 Q336.4,69.9 336.1,68.5 Q335.8,67.1 337.9,67 Q340.1,66.9 342.4,67.6 Q344.6,68.3 345.4,69.3 Z" fill="rgba(45,175,32,0.40)"/>
<ellipse cx="342.1" cy="69.8" rx="1.6" ry="1.4" transform="rotate(12.2 342.1 69.8)" fill="rgba(5,30,5,0.45)" stroke="rgba(80,225,55,0.44)" stroke-width="0.9"/>
<path d="M330.6,51.8 Q329,53.2 328.4,51.6 Q327.8,49.9 327.7,48.3 Q327.7,46.8 328.3,45.8 Q329,44.9 330.6,43.8 Q332.2,42.8 332.6,45 Q333.1,47.2 332.7,48.8 Q332.2,50.4 330.6,51.8 Z" fill="rgba(45,175,32,0.48)"/>
<ellipse cx="329.8" cy="47.7" rx="1.7" ry="1.5" transform="rotate(93 329.8 47.7)" fill="rgba(5,30,5,0.45)" stroke="rgba(80,225,55,0.53)" stroke-width="0.9"/>
<path d="M304.8,64.8 Q304.3,67 302.5,65.7 Q300.7,64.5 298.9,63.9 Q297.1,63.2 296.6,60.6 Q296.1,57.9 297,57.2 Q297.9,56.4 299.7,57.2 Q301.5,58 303.4,60.3 Q305.3,62.6 304.8,64.8 Z" fill="rgba(45,175,32,0.58)"/>
<ellipse cx="300.4" cy="61.9" rx="1.7" ry="1.5" transform="rotate(48.5 300.4 61.9)" fill="rgba(5,30,5,0.45)" stroke="rgba(80,225,55,0.64)" stroke-width="0.9"/>
<path d="M338.2,50.5 Q336.5,50.6 335.8,49.3 Q335.1,48.1 335.1,45.6 Q335.1,43.1 336.3,41.6 Q337.5,40 338.7,40.6 Q339.9,41.2 340.5,43.3 Q341.2,45.4 340.6,47.9 Q339.9,50.4 338.2,50.5 Z" fill="rgba(45,175,32,0.49)"/>
<ellipse cx="337.9" cy="45.8" rx="1.8" ry="1.6" transform="rotate(100.1 337.9 45.8)" fill="rgba(5,30,5,0.45)" stroke="rgba(80,225,55,0.53)" stroke-width="0.9"/>
<path d="M319.5,42.7 Q317.5,41.6 316.8,40.4 Q316,39.1 318,37 Q319.9,34.8 322.2,33.7 Q324.5,32.6 325.3,35 Q326.1,37.4 325.4,39.6 Q324.7,41.8 323.1,42.8 Q321.4,43.8 319.5,42.7 Z" fill="rgba(45,175,32,0.45)"/>
<ellipse cx="321.9" cy="39.3" rx="2.4" ry="2.2" transform="rotate(137.8 321.9 39.3)" fill="rgba(5,30,5,0.45)" stroke="rgba(80,225,55,0.50)" stroke-width="0.9"/>
<path d="M368.8,80.8 Q367.3,80.5 365.6,79.5 Q364,78.4 365.1,76 Q366.1,73.5 368,73.1 Q369.9,72.6 371.2,73.4 Q372.4,74.1 372.8,75.3 Q373.1,76.4 371.8,78.8 Q370.4,81.2 368.8,80.8 Z" fill="rgba(45,175,32,0.47)"/>
<ellipse cx="368.9" cy="75.6" rx="2" ry="1.9" transform="rotate(120.7 368.9 75.6)" fill="rgba(5,30,5,0.45)" stroke="rgba(80,225,55,0.51)" stroke-width="0.9"/>
<path d="M366.5,83.6 Q366.6,85.3 366.3,86.3 Q366,87.3 362.1,87.8 Q358.1,88.3 356.2,86.8 Q354.4,85.4 355.5,84.3 Q356.6,83.3 358.7,82.8 Q360.7,82.3 363.6,82.2 Q366.4,82 366.5,83.6 Z" fill="rgba(45,175,32,0.50)"/>
<ellipse cx="361.7" cy="85.2" rx="1.7" ry="1.5" transform="rotate(3.3 361.7 85.2)" fill="rgba(5,30,5,0.45)" stroke="rgba(80,225,55,0.55)" stroke-width="0.9"/>
<path d="M325.5,102.8 Q324,103.6 321.8,103.2 Q319.6,102.8 319.8,100.1 Q320.1,97.5 320.6,93.9 Q321.2,90.3 322.7,90.4 Q324.1,90.5 325.9,92.5 Q327.8,94.4 327.4,98.2 Q327,101.9 325.5,102.8 Z" fill="rgba(45,175,32,0.50)"/>
<ellipse cx="322.9" cy="97.5" rx="2.2" ry="2" transform="rotate(83.8 322.9 97.5)" fill="rgba(5,30,5,0.45)" stroke="rgba(80,225,55,0.55)" stroke-width="0.9"/>
<path d="M311.9,86.5 Q311,88.8 308.6,87.3 Q306.1,85.8 305.7,83 Q305.3,80.2 306.5,78.9 Q307.7,77.6 309.3,77.7 Q310.9,77.9 312.4,78.2 Q313.8,78.6 313.3,81.5 Q312.8,84.3 311.9,86.5 Z" fill="rgba(45,175,32,0.39)"/>
<ellipse cx="309.7" cy="82.3" rx="2.1" ry="1.9" transform="rotate(85.1 309.7 82.3)" fill="rgba(5,30,5,0.45)" stroke="rgba(80,225,55,0.43)" stroke-width="0.9"/>
<path d="M335.1,63.9 Q336.1,66.5 335.9,68.4 Q335.8,70.4 333,71 Q330.3,71.7 328.3,69.5 Q326.3,67.4 327.2,65.7 Q328.1,64 328.7,62.9 Q329.4,61.8 331.8,61.6 Q334.2,61.4 335.1,63.9 Z" fill="rgba(45,175,32,0.43)"/>
<ellipse cx="331.1" cy="66.7" rx="2.6" ry="2.4" transform="rotate(1.9 331.1 66.7)" fill="rgba(5,30,5,0.45)" stroke="rgba(80,225,55,0.48)" stroke-width="0.9"/>
<path d="M368.9,68 Q368.3,69.2 366.9,69.5 Q365.4,69.8 363.2,67.3 Q361,64.7 360.1,62.9 Q359.2,61.1 360.5,60.3 Q361.9,59.5 363.3,59.8 Q364.8,60.1 367.1,63.5 Q369.5,66.8 368.9,68 Z" fill="rgba(45,175,32,0.63)"/>
<ellipse cx="364" cy="64.7" rx="1.8" ry="1.6" transform="rotate(51.6 364 64.7)" fill="rgba(5,30,5,0.45)" stroke="rgba(80,225,55,0.69)" stroke-width="0.9"/>
<path d="M352.7,63.1 Q352.8,64.3 351.4,65.9 Q350,67.5 347.6,67 Q345.2,66.6 345.1,64.3 Q344.9,62 345.4,60.4 Q345.8,58.8 348.3,59.3 Q350.8,59.8 351.7,60.9 Q352.5,62 352.7,63.1 Z" fill="rgba(45,175,32,0.34)"/>
<ellipse cx="348.8" cy="63.3" rx="2.4" ry="2.1" transform="rotate(28 348.8 63.3)" fill="rgba(5,30,5,0.45)" stroke="rgba(80,225,55,0.38)" stroke-width="0.9"/>
<path d="M320.6,82.7 Q318.7,82.3 317.8,79.8 Q316.9,77.2 318.1,76.2 Q319.3,75.1 320.6,74.2 Q321.9,73.4 323.3,75.2 Q324.6,77 325.1,78.9 Q325.6,80.8 324.1,81.9 Q322.5,83 320.6,82.7 Z" fill="rgba(45,175,32,0.58)"/>
<ellipse cx="320.9" cy="77.7" rx="2.2" ry="2" transform="rotate(129.5 320.9 77.7)" fill="rgba(5,30,5,0.45)" stroke="rgba(80,225,55,0.64)" stroke-width="0.9"/>
<path d="M364.7,54.3 Q362.2,55.4 359.4,53.1 Q356.7,50.9 357.3,48.6 Q357.9,46.2 359.4,44.8 Q360.9,43.4 363.3,43.3 Q365.8,43.2 367.5,45.6 Q369.2,48.1 368.2,50.6 Q367.3,53.2 364.7,54.3 Z" fill="rgba(45,175,32,0.51)"/>
<ellipse cx="362.8" cy="47.6" rx="3" ry="2.8" transform="rotate(102 362.8 47.6)" fill="rgba(5,30,5,0.45)" stroke="rgba(80,225,55,0.56)" stroke-width="0.9"/>
<path d="M339.9,94.4 Q340.1,96.7 337.7,98 Q335.4,99.3 333.3,98.2 Q331.2,97 330.2,95.6 Q329.3,94.1 331.2,92.4 Q333.1,90.8 335.2,90 Q337.4,89.2 338.6,90.6 Q339.8,92 339.9,94.4 Z" fill="rgba(45,175,32,0.55)"/>
<ellipse cx="334.8" cy="94.7" rx="2.8" ry="2.6" transform="rotate(33.3 334.8 94.7)" fill="rgba(5,30,5,0.45)" stroke="rgba(80,225,55,0.61)" stroke-width="0.9"/>
<path d="M315.2,93.9 Q314.2,95.1 313.4,93.9 Q312.5,92.6 312.2,91 Q312,89.5 312.8,87.5 Q313.6,85.6 314.9,86.2 Q316.2,86.8 316.7,88.3 Q317.2,89.7 316.7,91.1 Q316.2,92.6 315.2,93.9 Z" fill="rgba(45,175,32,0.50)"/>
<ellipse cx="315.2" cy="91" rx="1.6" ry="1.5" transform="rotate(96.7 315.2 91)" fill="rgba(5,30,5,0.45)" stroke="rgba(80,225,55,0.55)" stroke-width="0.9"/>
<path d="M346.5,34.4 Q345,34.2 345.5,32.8 Q346,31.3 347.3,29.6 Q348.5,27.9 350.6,28.2 Q352.6,28.4 353.9,28.6 Q355.2,28.7 353.4,30.8 Q351.6,32.8 349.8,33.7 Q348,34.5 346.5,34.4 Z" fill="rgba(45,175,32,0.38)"/>
<ellipse cx="348.7" cy="30.9" rx="1.6" ry="1.5" transform="rotate(149.6 348.7 30.9)" fill="rgba(5,30,5,0.45)" stroke="rgba(80,225,55,0.42)" stroke-width="0.9"/>
<path d="M370,32.6 Q370.4,34.5 368.6,35.8 Q366.7,37 363.6,35 Q360.5,33 360,30.9 Q359.5,28.9 361,27.3 Q362.5,25.7 365.1,26.2 Q367.8,26.7 368.7,28.7 Q369.6,30.7 370,32.6 Z" fill="rgba(45,175,32,0.60)"/>
<ellipse cx="365.1" cy="31.6" rx="2.4" ry="2.1" transform="rotate(41.9 365.1 31.6)" fill="rgba(5,30,5,0.45)" stroke="rgba(80,225,55,0.66)" stroke-width="0.9"/>
<path d="M295.3,50.6 Q293.8,48.7 294.2,46.9 Q294.6,45.2 296.9,44.3 Q299.2,43.5 302.6,43.3 Q306,43.1 305.7,45.3 Q305.5,47.5 303.8,49.7 Q302.1,51.8 299.4,52.2 Q296.8,52.6 295.3,50.6 Z" fill="rgba(45,175,32,0.36)"/>
<ellipse cx="299.5" cy="46.3" rx="2.3" ry="2.1" transform="rotate(159.6 299.5 46.3)" fill="rgba(5,30,5,0.45)" stroke="rgba(80,225,55,0.40)" stroke-width="0.9"/>
<path d="M320.2,37.4 Q318.7,36.3 318.8,34.6 Q319,32.9 321.4,30.9 Q323.9,28.8 327.5,28 Q331.2,27.2 332.6,27.9 Q334.1,28.6 331.6,31.8 Q329,35 325.4,36.8 Q321.7,38.5 320.2,37.4 Z" fill="rgba(45,175,32,0.50)"/>
<ellipse cx="325.8" cy="32.6" rx="2" ry="1.8" transform="rotate(146.5 325.8 32.6)" fill="rgba(5,30,5,0.45)" stroke="rgba(80,225,55,0.55)" stroke-width="0.9"/>
<path d="M342.9,84.1 Q342.1,84.6 340.9,84.2 Q339.8,83.8 339.9,81.7 Q340,79.6 340.6,78.3 Q341.2,77.1 342,77 Q342.9,76.9 343.9,78.8 Q345,80.8 344.4,82.2 Q343.7,83.5 342.9,84.1 Z" fill="rgba(45,175,32,0.42)"/>
<ellipse cx="341.2" cy="80.8" rx="1.5" ry="1.4" transform="rotate(90.3 341.2 80.8)" fill="rgba(5,30,5,0.45)" stroke="rgba(80,225,55,0.47)" stroke-width="0.9"/>
<path d="M348,82.4 Q347.7,80.7 347.9,79.4 Q348,78.1 350.5,77.4 Q353,76.8 355.1,78 Q357.3,79.2 357.5,80.8 Q357.8,82.3 355.8,83.3 Q353.7,84.2 351,84.1 Q348.3,84.1 348,82.4 Z" fill="rgba(45,175,32,0.56)"/>
<ellipse cx="353.1" cy="81.6" rx="2.4" ry="2.2" transform="rotate(175.3 353.1 81.6)" fill="rgba(5,30,5,0.45)" stroke="rgba(80,225,55,0.61)" stroke-width="0.9"/>
<path d="M351.1,95.9 Q349.4,96.3 348.9,94.3 Q348.5,92.3 348.9,88.8 Q349.3,85.3 350.8,84 Q352.3,82.7 353,83.9 Q353.6,85.1 354.6,86.4 Q355.6,87.7 354.2,91.6 Q352.7,95.6 351.1,95.9 Z" fill="rgba(45,175,32,0.45)"/>
<ellipse cx="352.5" cy="88.6" rx="1.7" ry="1.5" transform="rotate(104.6 352.5 88.6)" fill="rgba(5,30,5,0.45)" stroke="rgba(80,225,55,0.50)" stroke-width="0.9"/>
<path d="M365.6,37.6 Q368,38.9 365.2,39.7 Q362.4,40.5 360.2,41 Q358,41.5 356.4,40.1 Q354.7,38.7 354,37.3 Q353.2,35.9 356.7,35 Q360.2,34.1 361.7,35.2 Q363.3,36.4 365.6,37.6 Z" fill="rgba(45,175,32,0.34)"/>
<ellipse cx="359.9" cy="37.6" rx="1.9" ry="1.7" transform="rotate(5.1 359.9 37.6)" fill="rgba(5,30,5,0.45)" stroke="rgba(80,225,55,0.37)" stroke-width="0.9"/>
<path d="M320.1,72.9 Q319.8,74.1 318.1,73.8 Q316.4,73.4 314.2,72.2 Q312,71 311.9,69.3 Q311.7,67.7 312.3,66 Q312.8,64.3 314.7,65.9 Q316.7,67.5 318.6,69.5 Q320.4,71.6 320.1,72.9 Z" fill="rgba(45,175,32,0.55)"/>
<ellipse cx="315.6" cy="70.4" rx="1.9" ry="1.7" transform="rotate(43.7 315.6 70.4)" fill="rgba(5,30,5,0.45)" stroke="rgba(80,225,55,0.61)" stroke-width="0.9"/>
<path d="M316.3,46.9 Q316.9,48.3 314.9,48.8 Q312.9,49.3 310.8,48.4 Q308.8,47.5 307,45 Q305.2,42.4 306.5,42.3 Q307.9,42.2 309.5,42.1 Q311.1,42 313.4,43.8 Q315.8,45.5 316.3,46.9 Z" fill="rgba(45,175,32,0.43)"/>
<ellipse cx="311.1" cy="46" rx="1.6" ry="1.4" transform="rotate(33.6 311.1 46)" fill="rgba(5,30,5,0.45)" stroke="rgba(80,225,55,0.47)" stroke-width="0.9"/>
<path d="M300.4,80.4 Q298.5,79.9 297,79.1 Q295.4,78.2 295.7,76.5 Q295.9,74.8 297.5,73.9 Q299,73 301,73.7 Q303,74.4 303.2,75.7 Q303.3,77.1 302.8,79 Q302.3,80.9 300.4,80.4 Z" fill="rgba(45,175,32,0.47)"/>
<ellipse cx="299.7" cy="76.5" rx="2.3" ry="2.1" transform="rotate(112.3 299.7 76.5)" fill="rgba(5,30,5,0.45)" stroke="rgba(80,225,55,0.52)" stroke-width="0.9"/>
<path d="M361.9,78.1 Q361.8,80 360,78.9 Q358.3,77.8 356.7,75.7 Q355.2,73.5 354.7,72 Q354.3,70.5 355.8,68.2 Q357.3,66 359.2,68.8 Q361.1,71.7 361.6,73.9 Q362.1,76.1 361.9,78.1 Z" fill="rgba(45,175,32,0.38)"/>
<ellipse cx="357.9" cy="73.3" rx="2.2" ry="2" transform="rotate(60.8 357.9 73.3)" fill="rgba(5,30,5,0.45)" stroke="rgba(80,225,55,0.42)" stroke-width="0.9"/>
<path d="M324,67.3 Q321.4,67.8 320.8,65.4 Q320.2,63.1 319.7,60.1 Q319.1,57.1 321.4,56.8 Q323.6,56.5 325.3,56.4 Q327.1,56.2 327.4,58.5 Q327.7,60.7 327.1,63.8 Q326.5,66.9 324,67.3 Z" fill="rgba(45,175,32,0.54)"/>
<ellipse cx="324.2" cy="60.7" rx="2.5" ry="2.3" transform="rotate(101.4 324.2 60.7)" fill="rgba(5,30,5,0.45)" stroke="rgba(80,225,55,0.59)" stroke-width="0.9"/>
<path d="M367.6,43.4 Q366.4,42.7 365.3,42.1 Q364.1,41.5 366.4,38.7 Q368.7,35.8 370.4,35 Q372.1,34.3 373.4,35.1 Q374.8,36 373,38.3 Q371.2,40.7 370,42.4 Q368.8,44.1 367.6,43.4 Z" fill="rgba(45,175,32,0.56)"/>
<ellipse cx="368.6" cy="39.8" rx="1.6" ry="1.4" transform="rotate(132.5 368.6 39.8)" fill="rgba(5,30,5,0.45)" stroke="rgba(80,225,55,0.61)" stroke-width="0.9"/>
<path d="M300.9,71.2 Q298.5,70.6 299.5,67.9 Q300.4,65.1 303.1,64 Q305.7,62.9 308.8,63.1 Q311.8,63.4 311.8,64.7 Q311.9,66 310.1,68 Q308.4,69.9 305.8,70.9 Q303.3,71.8 300.9,71.2 Z" fill="rgba(45,175,32,0.40)"/>
<ellipse cx="306.1" cy="67.4" rx="2" ry="1.8" transform="rotate(155.7 306.1 67.4)" fill="rgba(5,30,5,0.45)" stroke="rgba(80,225,55,0.44)" stroke-width="0.9"/>
<path d="M333.2,82.9 Q331.6,84.5 329.7,83.2 Q327.8,82 327.5,79.8 Q327.1,77.6 328.4,76.1 Q329.8,74.5 331,73.8 Q332.2,73.2 332.9,75 Q333.5,76.8 334.2,79.1 Q334.9,81.3 333.2,82.9 Z" fill="rgba(45,175,32,0.57)"/>
<ellipse cx="331.7" cy="79" rx="2" ry="1.8" transform="rotate(82.7 331.7 79)" fill="rgba(5,30,5,0.45)" stroke="rgba(80,225,55,0.63)" stroke-width="0.9"/>
<path d="M307.6,63.3 Q305.8,63.6 305.1,61.2 Q304.3,58.9 305.3,57.7 Q306.2,56.4 308.1,56.3 Q310,56.2 311.6,57.5 Q313.1,58.7 312.8,60.2 Q312.6,61.6 311,62.3 Q309.5,63.1 307.6,63.3 Z" fill="rgba(45,175,32,0.61)"/>
<ellipse cx="309.2" cy="60.6" rx="2.1" ry="1.9" transform="rotate(135.8 309.2 60.6)" fill="rgba(5,30,5,0.45)" stroke="rgba(80,225,55,0.67)" stroke-width="0.9"/>
<path d="M343.8,92.5 Q343.5,93.8 342.3,94.3 Q341,94.9 338.7,93.9 Q336.3,93 336.5,91.3 Q336.8,89.7 337.7,88.6 Q338.5,87.5 340.5,87 Q342.5,86.4 343.3,88.9 Q344.1,91.3 343.8,92.5 Z" fill="rgba(45,175,32,0.39)"/>
<ellipse cx="340.5" cy="90.8" rx="2.1" ry="1.9" transform="rotate(45.7 340.5 90.8)" fill="rgba(5,30,5,0.45)" stroke="rgba(80,225,55,0.43)" stroke-width="0.9"/>
<path d="M353.1,75.7 Q351.1,76.9 348.2,76.2 Q345.2,75.6 344.3,72.8 Q343.3,70 345,68.5 Q346.7,66.9 349.5,67.2 Q352.4,67.5 354,68.3 Q355.7,69.1 355.4,71.8 Q355.1,74.4 353.1,75.7 Z" fill="rgba(45,175,32,0.65)"/>
<ellipse cx="349.4" cy="71" rx="3.1" ry="2.9" transform="rotate(88.3 349.4 71)" fill="rgba(5,30,5,0.45)" stroke="rgba(80,225,55,0.71)" stroke-width="0.9"/>
<path d="M356.2,46.6 Q355.6,48.6 353.2,49.1 Q350.9,49.7 349.1,46.9 Q347.4,44.2 347.9,42.5 Q348.5,40.8 350.2,38.3 Q351.9,35.9 353.7,38.3 Q355.5,40.7 356.2,42.7 Q356.8,44.6 356.2,46.6 Z" fill="rgba(45,175,32,0.54)"/>
<ellipse cx="352.8" cy="42.6" rx="2.7" ry="2.5" transform="rotate(60.2 352.8 42.6)" fill="rgba(5,30,5,0.45)" stroke="rgba(80,225,55,0.59)" stroke-width="0.9"/>
<path d="M317.3,95.8 Q317.8,97.8 316.3,98.9 Q314.9,99.9 313.2,100.1 Q311.6,100.2 310.5,99 Q309.5,97.7 309.8,96 Q310,94.2 311.6,93.4 Q313.1,92.5 314.9,93.2 Q316.7,93.9 317.3,95.8 Z" fill="rgba(45,175,32,0.49)"/>
<ellipse cx="312.7" cy="95.9" rx="2" ry="1.9" transform="rotate(11.1 312.7 95.9)" fill="rgba(5,30,5,0.45)" stroke="rgba(80,225,55,0.54)" stroke-width="0.9"/>
<path d="M331.6,34.2 Q330.1,32.4 330,31.1 Q329.9,29.8 331.9,28.7 Q333.9,27.7 335.9,27.4 Q338,27.2 337.5,28.8 Q337.1,30.5 337.1,32 Q337.2,33.6 335.2,34.8 Q333.2,35.9 331.6,34.2 Z" fill="rgba(45,175,32,0.58)"/>
<ellipse cx="333.4" cy="31.7" rx="2" ry="1.8" transform="rotate(152.7 333.4 31.7)" fill="rgba(5,30,5,0.45)" stroke="rgba(80,225,55,0.64)" stroke-width="0.9"/>
<path d="M358.2,60.6 Q357.3,62.3 354.5,63 Q351.7,63.7 350.6,60.7 Q349.5,57.8 349.5,55.8 Q349.6,53.9 351.9,53.3 Q354.2,52.8 356.1,53.5 Q358,54.1 358.6,56.5 Q359.1,58.9 358.2,60.6 Z" fill="rgba(45,175,32,0.45)"/>
<ellipse cx="353.8" cy="57.2" rx="2.8" ry="2.6" transform="rotate(63.7 353.8 57.2)" fill="rgba(5,30,5,0.45)" stroke="rgba(80,225,55,0.49)" stroke-width="0.9"/>
<path d="M370.3,57.7 Q369,58.9 366.1,59 Q363.3,59.1 362.7,57.6 Q362.1,56 362.3,53.2 Q362.4,50.4 364.7,49.4 Q366.9,48.4 368.5,50.8 Q370,53.2 370.8,54.8 Q371.6,56.5 370.3,57.7 Z" fill="rgba(45,175,32,0.51)"/>
<ellipse cx="367" cy="55.3" rx="2.8" ry="2.5" transform="rotate(71.1 367 55.3)" fill="rgba(5,30,5,0.45)" stroke="rgba(80,225,55,0.56)" stroke-width="0.9"/>
<path d="M318.2,62 Q317.9,63.8 317.2,65 Q316.5,66.1 313.7,64.7 Q310.8,63.2 310.8,61.4 Q310.9,59.7 311.4,58.3 Q312,57 314.3,57.5 Q316.7,58 317.6,59.1 Q318.5,60.2 318.2,62 Z" fill="rgba(45,175,32,0.34)"/>
<ellipse cx="314.6" cy="61.7" rx="2.3" ry="2.1" transform="rotate(36.3 314.6 61.7)" fill="rgba(5,30,5,0.45)" stroke="rgba(80,225,55,0.37)" stroke-width="0.9"/>
<path d="M344,61.4 Q344.2,62.6 342.9,63.6 Q341.6,64.6 338.8,64.6 Q335.9,64.6 335.3,63.9 Q334.7,63.2 334.4,62.3 Q334.2,61.3 335.5,60.6 Q336.8,60 340.3,60.1 Q343.9,60.2 344,61.4 Z" fill="rgba(45,175,32,0.39)"/>
<ellipse cx="338.5" cy="62" rx="1.4" ry="1.3" transform="rotate(1.2 338.5 62)" fill="rgba(5,30,5,0.45)" stroke="rgba(80,225,55,0.43)" stroke-width="0.9"/>
<path d="M355.2,102.6 Q354.4,103.4 352.8,102.3 Q351.3,101.3 350.2,99.1 Q349.2,96.9 349.8,95.1 Q350.5,93.3 351.2,92.4 Q351.8,91.6 353.1,94 Q354.3,96.5 355.2,99.2 Q356,101.9 355.2,102.6 Z" fill="rgba(45,175,32,0.48)"/>
<ellipse cx="353.3" cy="97.9" rx="1.4" ry="1.3" transform="rotate(74.3 353.3 97.9)" fill="rgba(5,30,5,0.45)" stroke="rgba(80,225,55,0.53)" stroke-width="0.9"/>
<path d="M350.2,40.6 Q350.9,43.3 348.1,42.2 Q345.3,41.1 344,40.2 Q342.7,39.3 341.6,36.7 Q340.6,34 341.9,33.6 Q343.2,33.2 344.7,32.9 Q346.3,32.7 347.9,35.3 Q349.5,37.8 350.2,40.6 Z" fill="rgba(45,175,32,0.43)"/>
<ellipse cx="345.1" cy="37.4" rx="2" ry="1.8" transform="rotate(47.7 345.1 37.4)" fill="rgba(5,30,5,0.45)" stroke="rgba(80,225,55,0.47)" stroke-width="0.9"/>
<path d="M318.8,51.9 Q317.3,51.2 316.3,48.9 Q315.3,46.6 317.2,44.6 Q319.2,42.7 321.6,42.5 Q323.9,42.3 324.8,43.3 Q325.6,44.3 325.1,46.7 Q324.5,49.2 322.4,50.9 Q320.4,52.7 318.8,51.9 Z" fill="rgba(45,175,32,0.41)"/>
<ellipse cx="321" cy="46.6" rx="2.8" ry="2.5" transform="rotate(136.1 321 46.6)" fill="rgba(5,30,5,0.45)" stroke="rgba(80,225,55,0.45)" stroke-width="0.9"/>
<path d="M363.2,31.6 Q363.5,33.4 362.4,34.2 Q361.3,35 357.6,34 Q354,32.9 352.2,31.1 Q350.4,29.3 351.9,27.8 Q353.5,26.3 355.4,26.4 Q357.3,26.6 360.1,28.2 Q362.9,29.9 363.2,31.6 Z" fill="rgba(45,175,32,0.55)"/>
<ellipse cx="357.8" cy="30.1" rx="1.9" ry="1.7" transform="rotate(23.9 357.8 30.1)" fill="rgba(5,30,5,0.45)" stroke="rgba(80,225,55,0.60)" stroke-width="0.9"/>
</g>
<rect x="300.5" y="31.1" width="66.6" height="65.9" fill="#000" stroke="none" stroke-width="0.8" filter="url(#speckD)" opacity="0.45"/>
</g>
<g clip-path="url(#cp3)">
<rect x="367.1" y="31.1" width="66.3" height="65.9" fill="#030a03" stroke="none" stroke-width="0.8"/>
<line x1="372" y1="66" x2="381" y2="62.2" stroke="rgba(50,170,35,0.43)" stroke-width="0.9"/>
<line x1="370.1" y1="58.8" x2="372.3" y2="50.5" stroke="rgba(50,170,35,0.43)" stroke-width="0.9"/>
<line x1="394.2" y1="94.7" x2="388.5" y2="80.4" stroke="rgba(50,170,35,0.43)" stroke-width="0.9"/>
<line x1="421.4" y1="72.6" x2="424.7" y2="60.4" stroke="rgba(50,170,35,0.43)" stroke-width="0.9"/>
<line x1="381.8" y1="50.1" x2="375.3" y2="47.4" stroke="rgba(50,170,35,0.43)" stroke-width="0.9"/>
<line x1="379.5" y1="59.5" x2="371.3" y2="60.9" stroke="rgba(50,170,35,0.43)" stroke-width="0.9"/>
<line x1="381.9" y1="42.2" x2="388.5" y2="44.1" stroke="rgba(50,170,35,0.43)" stroke-width="0.9"/>
<line x1="423.9" y1="62.4" x2="418.6" y2="54.2" stroke="rgba(50,170,35,0.43)" stroke-width="0.9"/>
<line x1="372" y1="66" x2="364.1" y2="78.2" stroke="rgba(50,170,35,0.43)" stroke-width="0.9"/>
<line x1="372" y1="66" x2="379.1" y2="55.4" stroke="rgba(50,170,35,0.43)" stroke-width="0.9"/>
<line x1="367.3" y1="42.9" x2="355" y2="36.3" stroke="rgba(50,170,35,0.43)" stroke-width="0.9"/>
<line x1="381.8" y1="67.1" x2="393.5" y2="66.8" stroke="rgba(50,170,35,0.43)" stroke-width="0.9"/>
<line x1="421.4" y1="72.6" x2="419.9" y2="65.7" stroke="rgba(50,170,35,0.43)" stroke-width="0.9"/>
<line x1="423.9" y1="62.4" x2="430" y2="59.7" stroke="rgba(50,170,35,0.43)" stroke-width="0.9"/>
<g filter="url(#blur06)">
<path d="M382.9,62.4 Q382.1,63.1 380.6,63.9 Q379.1,64.7 377.3,62.3 Q375.6,59.9 375.6,58.2 Q375.5,56.5 376.9,55.5 Q378.2,54.6 379.9,55.1 Q381.5,55.7 382.6,58.7 Q383.7,61.6 382.9,62.4 Z" fill="rgba(45,175,32,0.61)"/>
<ellipse cx="379.9" cy="59" rx="2.2" ry="2" transform="rotate(58.4 379.9 59)" fill="rgba(5,30,5,0.45)" stroke="rgba(80,225,55,0.67)" stroke-width="0.9"/>
<path d="M371.2,69.6 Q369.3,69.9 368,68.2 Q366.7,66.5 368.2,65.3 Q369.7,64 371.7,62.2 Q373.8,60.4 374.8,62 Q375.8,63.5 375.4,65.5 Q375,67.4 374,68.4 Q373.1,69.3 371.2,69.6 Z" fill="rgba(45,175,32,0.56)"/>
<ellipse cx="372.1" cy="65.7" rx="2.2" ry="2" transform="rotate(124.4 372.1 65.7)" fill="rgba(5,30,5,0.45)" stroke="rgba(80,225,55,0.61)" stroke-width="0.9"/>
<path d="M386.7,68.6 Q386.4,70.7 384.4,71.7 Q382.3,72.6 380.5,70.8 Q378.7,68.9 378.6,67.6 Q378.5,66.2 379.1,64.6 Q379.7,63.1 381.3,63.2 Q382.9,63.4 385,65 Q387,66.5 386.7,68.6 Z" fill="rgba(45,175,32,0.65)"/>
<ellipse cx="381.3" cy="67.9" rx="2.2" ry="2" transform="rotate(41.8 381.3 67.9)" fill="rgba(5,30,5,0.45)" stroke="rgba(80,225,55,0.71)" stroke-width="0.9"/>
<path d="M408.9,77.2 Q407.4,78.3 406.2,77 Q405.1,75.7 404.3,73.6 Q403.5,71.4 404.5,69.9 Q405.5,68.4 407.4,68.7 Q409.3,69.1 409.7,70.3 Q410.2,71.4 410.3,73.8 Q410.5,76.1 408.9,77.2 Z" fill="rgba(45,175,32,0.49)"/>
<ellipse cx="408.3" cy="73.4" rx="1.9" ry="1.7" transform="rotate(86.3 408.3 73.4)" fill="rgba(5,30,5,0.45)" stroke="rgba(80,225,55,0.54)" stroke-width="0.9"/>
<path d="M370.2,89.8 Q370.7,91.6 368.6,91.9 Q366.4,92.2 364.7,90.9 Q363,89.6 362.4,87.5 Q361.8,85.5 363,84.9 Q364.2,84.4 365.3,84 Q366.4,83.6 368,85.8 Q369.6,88 370.2,89.8 Z" fill="rgba(45,175,32,0.42)"/>
<ellipse cx="366.2" cy="87.9" rx="1.6" ry="1.4" transform="rotate(43.6 366.2 87.9)" fill="rgba(5,30,5,0.45)" stroke="rgba(80,225,55,0.46)" stroke-width="0.9"/>
<path d="M385.8,96.9 Q386.4,98.8 386.2,100.6 Q385.9,102.3 383.2,102.2 Q380.4,102.2 378.9,101.2 Q377.4,100.3 377.5,98.8 Q377.7,97.3 379.4,95.8 Q381.2,94.4 383.2,94.7 Q385.3,95 385.8,96.9 Z" fill="rgba(45,175,32,0.48)"/>
<ellipse cx="381.4" cy="99.1" rx="1.9" ry="1.7" transform="rotate(1.2 381.4 99.1)" fill="rgba(5,30,5,0.45)" stroke="rgba(80,225,55,0.53)" stroke-width="0.9"/>
<path d="M420.7,66.8 Q418.4,67.3 418.3,65.5 Q418.2,63.7 420.8,60.8 Q423.4,57.9 424.8,58.2 Q426.3,58.5 427.4,59.2 Q428.6,59.9 428,62.2 Q427.3,64.6 425.2,65.4 Q423.1,66.3 420.7,66.8 Z" fill="rgba(45,175,32,0.56)"/>
<ellipse cx="424.1" cy="62.6" rx="2" ry="1.8" transform="rotate(136.3 424.1 62.6)" fill="rgba(5,30,5,0.45)" stroke="rgba(80,225,55,0.61)" stroke-width="0.9"/>
<path d="M382.3,74.3 Q382.5,76.5 379.8,77.5 Q377.2,78.4 374.2,77.7 Q371.1,77.1 370.3,74.8 Q369.4,72.4 371.1,70.8 Q372.7,69.2 374.6,69.3 Q376.4,69.5 379.3,70.8 Q382.1,72.1 382.3,74.3 Z" fill="rgba(45,175,32,0.55)"/>
<ellipse cx="375.8" cy="73.9" rx="3" ry="2.7" transform="rotate(32.2 375.8 73.9)" fill="rgba(5,30,5,0.45)" stroke="rgba(80,225,55,0.61)" stroke-width="0.9"/>
<path d="M404.5,83.7 Q403.5,85.2 402.3,85.1 Q401.2,85 399.7,82.7 Q398.3,80.5 398.2,78.7 Q398.1,76.9 399.4,75.5 Q400.7,74.1 402.7,75.6 Q404.7,77.2 405.1,79.7 Q405.5,82.2 404.5,83.7 Z" fill="rgba(45,175,32,0.46)"/>
<ellipse cx="401.2" cy="80.3" rx="2" ry="1.8" transform="rotate(64.7 401.2 80.3)" fill="rgba(5,30,5,0.45)" stroke="rgba(80,225,55,0.51)" stroke-width="0.9"/>
<path d="M384.3,36.5 Q382.2,35.4 381.1,32.7 Q380,30 382.3,28 Q384.6,26.1 386.5,26.1 Q388.3,26.2 390.1,27.5 Q391.9,28.7 390.8,31.2 Q389.6,33.7 388,35.7 Q386.4,37.6 384.3,36.5 Z" fill="rgba(45,175,32,0.39)"/>
<ellipse cx="385.5" cy="31.8" rx="2.8" ry="2.5" transform="rotate(140.2 385.5 31.8)" fill="rgba(5,30,5,0.45)" stroke="rgba(80,225,55,0.43)" stroke-width="0.9"/>
<path d="M411.9,96.5 Q410.5,95.1 410.4,92.6 Q410.2,90.1 412.7,89.7 Q415.2,89.4 417.2,90 Q419.2,90.6 419.9,92.4 Q420.7,94.2 419.9,95.8 Q419.2,97.4 416.3,97.6 Q413.4,97.8 411.9,96.5 Z" fill="rgba(45,175,32,0.46)"/>
<ellipse cx="415.3" cy="93.4" rx="2.6" ry="2.3" transform="rotate(160.4 415.3 93.4)" fill="rgba(5,30,5,0.45)" stroke="rgba(80,225,55,0.51)" stroke-width="0.9"/>
<path d="M397.1,54.8 Q397.4,57.2 395.5,57.9 Q393.6,58.5 390.4,57.2 Q387.2,55.8 386.6,54.2 Q386,52.6 388,51.5 Q390,50.3 391.5,50.2 Q393,50.2 394.8,51.2 Q396.7,52.3 397.1,54.8 Z" fill="rgba(45,175,32,0.34)"/>
<ellipse cx="392.9" cy="53.3" rx="2.2" ry="2" transform="rotate(34.8 392.9 53.3)" fill="rgba(5,30,5,0.45)" stroke="rgba(80,225,55,0.38)" stroke-width="0.9"/>
<path d="M402.9,94.9 Q400.3,94.1 400.9,91.7 Q401.5,89.3 403.8,88.7 Q406.1,88 409,87.9 Q411.8,87.8 411.6,90.3 Q411.4,92.8 410,94.5 Q408.6,96.2 407,96 Q405.4,95.8 402.9,94.9 Z" fill="rgba(45,175,32,0.38)"/>
<ellipse cx="405.5" cy="91.8" rx="2.5" ry="2.3" transform="rotate(156.7 405.5 91.8)" fill="rgba(5,30,5,0.45)" stroke="rgba(80,225,55,0.41)" stroke-width="0.9"/>
<path d="M436.1,90 Q436,92.2 433.9,92.9 Q431.8,93.6 429.1,93.1 Q426.4,92.7 425.9,90.4 Q425.3,88.2 425.8,85.7 Q426.3,83.3 428.6,83.9 Q430.9,84.5 433.6,86.2 Q436.2,87.8 436.1,90 Z" fill="rgba(45,175,32,0.57)"/>
<ellipse cx="430" cy="88.2" rx="2.5" ry="2.3" transform="rotate(28.9 430 88.2)" fill="rgba(5,30,5,0.45)" stroke="rgba(80,225,55,0.62)" stroke-width="0.9"/>
<path d="M428.4,99 Q428,100.5 426.9,101 Q425.8,101.5 424.3,100.9 Q422.8,100.2 422.4,99.1 Q421.9,98 422.2,96.4 Q422.5,94.8 424.1,95.2 Q425.7,95.6 427.3,96.6 Q428.9,97.6 428.4,99 Z" fill="rgba(45,175,32,0.38)"/>
<ellipse cx="425.5" cy="97.6" rx="2.1" ry="1.9" transform="rotate(37.6 425.5 97.6)" fill="rgba(5,30,5,0.45)" stroke="rgba(80,225,55,0.42)" stroke-width="0.9"/>
<path d="M389,87.4 Q386.8,88.2 385.7,88.3 Q384.6,88.3 382.9,85.9 Q381.3,83.6 382.1,81.3 Q382.9,79 383.8,77.2 Q384.8,75.5 387.1,77.3 Q389.5,79.1 390.4,82.8 Q391.3,86.5 389,87.4 Z" fill="rgba(45,175,32,0.34)"/>
<ellipse cx="385.4" cy="82.4" rx="2.3" ry="2.1" transform="rotate(72.6 385.4 82.4)" fill="rgba(5,30,5,0.45)" stroke="rgba(80,225,55,0.38)" stroke-width="0.9"/>
<path d="M371,73.5 Q370.5,74.3 368.9,75.7 Q367.4,77 366.6,75.1 Q365.8,73.2 365.5,72.2 Q365.2,71.3 366,70.3 Q366.9,69.3 368.3,68.7 Q369.8,68.2 370.6,70.4 Q371.5,72.6 371,73.5 Z" fill="rgba(45,175,32,0.54)"/>
<ellipse cx="369" cy="72" rx="2.1" ry="1.9" transform="rotate(47.8 369 72)" fill="rgba(5,30,5,0.45)" stroke="rgba(80,225,55,0.60)" stroke-width="0.9"/>
<path d="M432.3,69.7 Q430.2,68.3 428.6,65.3 Q426.9,62.3 429.1,61.2 Q431.4,60.1 434.1,60.4 Q436.9,60.7 438.1,61.9 Q439.4,63.2 439.3,66.4 Q439.1,69.6 436.7,70.4 Q434.4,71.1 432.3,69.7 Z" fill="rgba(45,175,32,0.65)"/>
<ellipse cx="434.4" cy="65" rx="3.2" ry="2.9" transform="rotate(144.6 434.4 65)" fill="rgba(5,30,5,0.45)" stroke="rgba(80,225,55,0.71)" stroke-width="0.9"/>
<path d="M368,46.3 Q366.8,47 364.9,45.9 Q363,44.8 363.4,43.3 Q363.7,41.8 365.1,39.8 Q366.4,37.8 368.3,38.6 Q370.1,39.4 370.6,41 Q371,42.6 370.1,44.1 Q369.3,45.7 368,46.3 Z" fill="rgba(45,175,32,0.45)"/>
<ellipse cx="367.3" cy="43.3" rx="2.6" ry="2.3" transform="rotate(99.6 367.3 43.3)" fill="rgba(5,30,5,0.45)" stroke="rgba(80,225,55,0.50)" stroke-width="0.9"/>
<path d="M424.1,56.7 Q421.5,57.5 421,55.2 Q420.6,52.9 422,50 Q423.5,47.2 426,46.2 Q428.5,45.2 429,46.2 Q429.6,47.3 430.3,49.3 Q431.1,51.2 428.9,53.6 Q426.8,55.9 424.1,56.7 Z" fill="rgba(45,175,32,0.41)"/>
<ellipse cx="425.5" cy="50.4" rx="1.9" ry="1.8" transform="rotate(121.9 425.5 50.4)" fill="rgba(5,30,5,0.45)" stroke="rgba(80,225,55,0.45)" stroke-width="0.9"/>
<path d="M380.6,55.9 Q378.8,57.3 378.6,54.6 Q378.5,51.8 378.1,49.4 Q377.8,46.9 380.3,45.2 Q382.7,43.5 384.8,43.8 Q386.9,44.1 386.7,47.5 Q386.5,50.8 384.4,52.7 Q382.3,54.6 380.6,55.9 Z" fill="rgba(45,175,32,0.35)"/>
<ellipse cx="381.3" cy="49.5" rx="2.2" ry="2" transform="rotate(116.8 381.3 49.5)" fill="rgba(5,30,5,0.45)" stroke="rgba(80,225,55,0.38)" stroke-width="0.9"/>
<path d="M391.6,72.1 Q390.7,71.4 391.3,70.3 Q391.9,69.3 392.9,68.4 Q394,67.5 396.1,66.9 Q398.2,66.3 398.8,67.2 Q399.3,68.2 397.5,69.7 Q395.7,71.3 394.1,72.1 Q392.5,72.8 391.6,72.1 Z" fill="rgba(45,175,32,0.34)"/>
<ellipse cx="393.7" cy="70.2" rx="1.3" ry="1.2" transform="rotate(148.6 393.7 70.2)" fill="rgba(5,30,5,0.45)" stroke="rgba(80,225,55,0.37)" stroke-width="0.9"/>
<path d="M367.2,37.8 Q365,38.6 364,36.6 Q363.1,34.6 362.7,32.9 Q362.3,31.1 363.8,29.5 Q365.2,28 367.8,28.8 Q370.3,29.7 371.1,31.8 Q371.9,33.9 370.7,35.5 Q369.5,37 367.2,37.8 Z" fill="rgba(45,175,32,0.40)"/>
<ellipse cx="367.5" cy="33.1" rx="2.7" ry="2.5" transform="rotate(107 367.5 33.1)" fill="rgba(5,30,5,0.45)" stroke="rgba(80,225,55,0.44)" stroke-width="0.9"/>
<path d="M435.6,52.2 Q434.9,54 432.9,52.7 Q430.8,51.3 430.2,48 Q429.5,44.7 430.1,42.8 Q430.7,40.9 431.7,40.2 Q432.7,39.4 434.5,42.4 Q436.3,45.4 436.3,47.9 Q436.4,50.4 435.6,52.2 Z" fill="rgba(45,175,32,0.40)"/>
<ellipse cx="432.7" cy="47.4" rx="1.6" ry="1.4" transform="rotate(77.5 432.7 47.4)" fill="rgba(5,30,5,0.45)" stroke="rgba(80,225,55,0.45)" stroke-width="0.9"/>
<path d="M378.4,44.3 Q377.7,43.6 378.1,42.1 Q378.6,40.5 380.5,39.5 Q382.4,38.4 384.5,38.6 Q386.5,38.7 386.9,40.3 Q387.2,42 385.9,43.6 Q384.6,45.3 381.8,45.2 Q379,45.1 378.4,44.3 Z" fill="rgba(45,175,32,0.64)"/>
<ellipse cx="381.2" cy="41.9" rx="1.8" ry="1.7" transform="rotate(165.7 381.2 41.9)" fill="rgba(5,30,5,0.45)" stroke="rgba(80,225,55,0.71)" stroke-width="0.9"/>
<path d="M412.3,90.2 Q411.7,91.8 410,90.8 Q408.2,89.7 407.8,86.9 Q407.4,84.2 407.6,82.9 Q407.7,81.7 408.8,80.8 Q409.9,79.9 411.1,81.8 Q412.3,83.7 412.6,86.1 Q412.8,88.6 412.3,90.2 Z" fill="rgba(45,175,32,0.38)"/>
<ellipse cx="410.2" cy="86.1" rx="1.5" ry="1.4" transform="rotate(74 410.2 86.1)" fill="rgba(5,30,5,0.45)" stroke="rgba(80,225,55,0.42)" stroke-width="0.9"/>
<path d="M372.9,32.5 Q371.8,31.9 371,31 Q370.2,30.1 372.8,28.1 Q375.4,26.1 377.1,25.6 Q378.8,25.2 380.4,26.5 Q382,27.8 380.5,30.5 Q379,33.1 376.5,33.2 Q374,33.2 372.9,32.5 Z" fill="rgba(45,175,32,0.41)"/>
<ellipse cx="375.6" cy="28.6" rx="2.2" ry="2" transform="rotate(145.3 375.6 28.6)" fill="rgba(5,30,5,0.45)" stroke="rgba(80,225,55,0.45)" stroke-width="0.9"/>
<path d="M430.8,81.9 Q429.7,82.7 428.3,82.4 Q427,82 425.8,79.1 Q424.6,76.2 425.4,75 Q426.2,73.7 427.6,72.2 Q429,70.6 431.1,72.9 Q433.3,75.2 432.6,78.2 Q431.9,81.2 430.8,81.9 Z" fill="rgba(45,175,32,0.35)"/>
<ellipse cx="428" cy="78" rx="2.3" ry="2.1" transform="rotate(77.8 428 78)" fill="rgba(5,30,5,0.45)" stroke="rgba(80,225,55,0.38)" stroke-width="0.9"/>
<path d="M364,84.5 Q362.6,83.8 362.8,82.6 Q363,81.4 364,79.2 Q364.9,77 367,77.3 Q369.1,77.6 370.3,78.6 Q371.6,79.5 370.1,81.6 Q368.6,83.7 367,84.4 Q365.4,85.2 364,84.5 Z" fill="rgba(45,175,32,0.61)"/>
<ellipse cx="365.5" cy="80.7" rx="1.9" ry="1.7" transform="rotate(142.1 365.5 80.7)" fill="rgba(5,30,5,0.45)" stroke="rgba(80,225,55,0.67)" stroke-width="0.9"/>
<path d="M393.4,99.5 Q391.7,98.8 389.9,97.1 Q388.1,95.5 388.8,92.8 Q389.5,90 391.8,90.1 Q394.2,90.1 396.3,91.1 Q398.4,92.2 399.1,94.9 Q399.7,97.7 397.3,99 Q395,100.3 393.4,99.5 Z" fill="rgba(45,175,32,0.51)"/>
<ellipse cx="393.4" cy="94.9" rx="2.9" ry="2.6" transform="rotate(123.1 393.4 94.9)" fill="rgba(5,30,5,0.45)" stroke="rgba(80,225,55,0.57)" stroke-width="0.9"/>
<path d="M378.1,91.1 Q375.4,92.5 374.2,90.9 Q373,89.3 373,85.9 Q372.9,82.6 374.8,79.4 Q376.8,76.1 378.2,78.1 Q379.6,80 380.2,82.4 Q380.8,84.7 380.7,87.2 Q380.7,89.7 378.1,91.1 Z" fill="rgba(45,175,32,0.43)"/>
<ellipse cx="376.8" cy="84.1" rx="2.5" ry="2.2" transform="rotate(99 376.8 84.1)" fill="rgba(5,30,5,0.45)" stroke="rgba(80,225,55,0.47)" stroke-width="0.9"/>
<path d="M418.7,89 Q418.3,87.4 418.6,86.1 Q418.9,84.8 420.7,84.3 Q422.6,83.8 423.4,84.2 Q424.3,84.5 425.1,85.8 Q425.9,87.1 424.5,89.2 Q423.1,91.2 421.1,90.9 Q419.1,90.6 418.7,89 Z" fill="rgba(45,175,32,0.44)"/>
<ellipse cx="421" cy="86.3" rx="2.2" ry="2" transform="rotate(171 421 86.3)" fill="rgba(5,30,5,0.45)" stroke="rgba(80,225,55,0.48)" stroke-width="0.9"/>
<path d="M390.7,63.7 Q388.9,62.9 390.2,61.8 Q391.6,60.7 393.5,59.3 Q395.4,58 398.5,58.5 Q401.7,59.1 402.6,60.7 Q403.5,62.4 399.9,63.9 Q396.4,65.5 394.5,65 Q392.5,64.5 390.7,63.7 Z" fill="rgba(45,175,32,0.42)"/>
<ellipse cx="395.3" cy="61.6" rx="1.8" ry="1.6" transform="rotate(173 395.3 61.6)" fill="rgba(5,30,5,0.45)" stroke="rgba(80,225,55,0.46)" stroke-width="0.9"/>
<path d="M426.2,73.9 Q427.3,75.4 424.6,76.2 Q422,77 420.4,76.5 Q418.8,75.9 418.1,73.5 Q417.3,71 418.1,70.3 Q418.8,69.6 420.5,69.1 Q422.1,68.5 423.6,70.5 Q425,72.4 426.2,73.9 Z" fill="rgba(45,175,32,0.62)"/>
<ellipse cx="420.9" cy="73.3" rx="2.5" ry="2.2" transform="rotate(34.1 420.9 73.3)" fill="rgba(5,30,5,0.45)" stroke="rgba(80,225,55,0.69)" stroke-width="0.9"/>
<path d="M390,79.8 Q388.4,78 389.8,75.7 Q391.1,73.4 393.1,73.8 Q395.2,74.2 397.4,74.5 Q399.6,74.8 399.3,77.6 Q399,80.3 397.5,81.4 Q395.9,82.5 393.8,82 Q391.6,81.6 390,79.8 Z" fill="rgba(45,175,32,0.41)"/>
<ellipse cx="395.2" cy="77.1" rx="2.7" ry="2.4" transform="rotate(179.4 395.2 77.1)" fill="rgba(5,30,5,0.45)" stroke="rgba(80,225,55,0.46)" stroke-width="0.9"/>
<path d="M370.8,64.5 Q369,65 367.7,62.4 Q366.4,59.8 366.5,58.5 Q366.6,57.2 367.4,55 Q368.2,52.8 371.1,53.5 Q374,54.2 373.7,56.3 Q373.5,58.5 373,61.2 Q372.5,64 370.8,64.5 Z" fill="rgba(45,175,32,0.61)"/>
<ellipse cx="370.9" cy="59.1" rx="2.6" ry="2.4" transform="rotate(107 370.9 59.1)" fill="rgba(5,30,5,0.45)" stroke="rgba(80,225,55,0.68)" stroke-width="0.9"/>
</g>
<rect x="367.1" y="31.1" width="66.3" height="65.9" fill="#000" stroke="none" stroke-width="0.8" filter="url(#speckD)" opacity="0.45"/>
</g>
<g clip-path="url(#cp4)">
<rect x="433.4" y="31.1" width="65.8" height="65.9" fill="#030a03" stroke="none" stroke-width="0.8"/>
<line x1="478.6" y1="71.7" x2="484.5" y2="64.9" stroke="rgba(50,170,35,0.43)" stroke-width="0.9"/>
<line x1="435.5" y1="33" x2="438.7" y2="20.3" stroke="rgba(50,170,35,0.43)" stroke-width="0.9"/>
<line x1="499" y1="75.7" x2="495.5" y2="83.1" stroke="rgba(50,170,35,0.43)" stroke-width="0.9"/>
<line x1="453.2" y1="67.2" x2="464.8" y2="57.2" stroke="rgba(50,170,35,0.43)" stroke-width="0.9"/>
<line x1="499.9" y1="58.7" x2="492.6" y2="71.9" stroke="rgba(50,170,35,0.43)" stroke-width="0.9"/>
<line x1="495.8" y1="95.9" x2="490.5" y2="106.9" stroke="rgba(50,170,35,0.43)" stroke-width="0.9"/>
<line x1="456.7" y1="49.4" x2="455.5" y2="56.1" stroke="rgba(50,170,35,0.43)" stroke-width="0.9"/>
<line x1="454.9" y1="75" x2="454.1" y2="83.9" stroke="rgba(50,170,35,0.43)" stroke-width="0.9"/>
<line x1="501" y1="42.8" x2="494.1" y2="36.8" stroke="rgba(50,170,35,0.43)" stroke-width="0.9"/>
<line x1="435.7" y1="45.1" x2="426.2" y2="36.2" stroke="rgba(50,170,35,0.43)" stroke-width="0.9"/>
<line x1="456.7" y1="49.4" x2="449.4" y2="36.4" stroke="rgba(50,170,35,0.43)" stroke-width="0.9"/>
<line x1="484.9" y1="98" x2="486" y2="85.6" stroke="rgba(50,170,35,0.43)" stroke-width="0.9"/>
<line x1="462" y1="56.5" x2="446.7" y2="60.9" stroke="rgba(50,170,35,0.43)" stroke-width="0.9"/>
<line x1="435.7" y1="45.1" x2="445" y2="51.3" stroke="rgba(50,170,35,0.43)" stroke-width="0.9"/>
<g filter="url(#blur06)">
<path d="M466.8,56.4 Q467,58.8 466.1,60 Q465.1,61.2 461.8,61.3 Q458.5,61.3 457.2,58.8 Q456,56.2 456.9,54.2 Q457.8,52.3 460.1,52.4 Q462.5,52.6 464.6,53.3 Q466.6,54 466.8,56.4 Z" fill="rgba(45,175,32,0.44)"/>
<ellipse cx="462.4" cy="56.9" rx="2.5" ry="2.3" transform="rotate(17.2 462.4 56.9)" fill="rgba(5,30,5,0.45)" stroke="rgba(80,225,55,0.48)" stroke-width="0.9"/>
<path d="M492.8,88.3 Q491.7,86.6 491.5,85.3 Q491.2,84.1 493,81.1 Q494.9,78.2 496.7,79.8 Q498.5,81.4 500,83.6 Q501.5,85.8 500.7,87.9 Q499.9,90 496.9,90 Q493.9,90 492.8,88.3 Z" fill="rgba(45,175,32,0.39)"/>
<ellipse cx="495.6" cy="85" rx="3" ry="2.7" transform="rotate(151.9 495.6 85)" fill="rgba(5,30,5,0.45)" stroke="rgba(80,225,55,0.43)" stroke-width="0.9"/>
<path d="M480.9,84.2 Q480.3,86.6 477.7,86 Q475.1,85.4 473.3,83.5 Q471.4,81.6 470.5,77.9 Q469.6,74.3 471.8,74.5 Q474,74.7 475.7,76.2 Q477.3,77.7 479.4,79.7 Q481.5,81.7 480.9,84.2 Z" fill="rgba(45,175,32,0.47)"/>
<ellipse cx="474.7" cy="80.3" rx="2.3" ry="2.1" transform="rotate(58.3 474.7 80.3)" fill="rgba(5,30,5,0.45)" stroke="rgba(80,225,55,0.51)" stroke-width="0.9"/>
<path d="M482.5,63.9 Q483.1,65 482.7,66.2 Q482.3,67.4 478.9,67.3 Q475.6,67.1 474.9,66 Q474.2,64.9 474,63.7 Q473.8,62.5 475.6,62.5 Q477.3,62.6 479.7,62.7 Q482,62.9 482.5,63.9 Z" fill="rgba(45,175,32,0.43)"/>
<ellipse cx="478.7" cy="65.1" rx="1.4" ry="1.3" transform="rotate(3.8 478.7 65.1)" fill="rgba(5,30,5,0.45)" stroke="rgba(80,225,55,0.47)" stroke-width="0.9"/>
<path d="M462.8,40 Q461.1,39.3 460.7,38.4 Q460.2,37.4 461.8,34.9 Q463.3,32.5 465.3,31.4 Q467.3,30.3 467.7,31.3 Q468.2,32.3 468,34.5 Q467.8,36.7 466.2,38.6 Q464.5,40.6 462.8,40 Z" fill="rgba(45,175,32,0.44)"/>
<ellipse cx="464.7" cy="34.8" rx="2.1" ry="1.9" transform="rotate(128.9 464.7 34.8)" fill="rgba(5,30,5,0.45)" stroke="rgba(80,225,55,0.49)" stroke-width="0.9"/>
<path d="M491.6,72.3 Q490.1,72.2 488.8,71.1 Q487.6,70 488.6,67.2 Q489.6,64.4 490.9,63.5 Q492.2,62.7 493.9,62.3 Q495.6,62 495,64.2 Q494.4,66.4 493.7,69.4 Q493,72.4 491.6,72.3 Z" fill="rgba(45,175,32,0.58)"/>
<ellipse cx="491.8" cy="67.9" rx="1.7" ry="1.5" transform="rotate(108.9 491.8 67.9)" fill="rgba(5,30,5,0.45)" stroke="rgba(80,225,55,0.64)" stroke-width="0.9"/>
<path d="M477.2,58.7 Q478,59.9 477.3,61.5 Q476.6,63.1 474,62.6 Q471.5,62.1 469.7,60.6 Q467.9,59.1 468,58 Q468.1,56.8 470.3,56.6 Q472.5,56.3 474.5,56.9 Q476.4,57.6 477.2,58.7 Z" fill="rgba(45,175,32,0.40)"/>
<ellipse cx="473.8" cy="58.9" rx="2" ry="1.8" transform="rotate(13.3 473.8 58.9)" fill="rgba(5,30,5,0.45)" stroke="rgba(80,225,55,0.44)" stroke-width="0.9"/>
<path d="M452.2,88.7 Q451.1,88.7 449.6,88.4 Q448.2,88.1 449,86.2 Q449.8,84.3 451.5,82.5 Q453.2,80.6 454.2,82 Q455.2,83.4 456,85.2 Q456.9,87 455.1,87.9 Q453.4,88.7 452.2,88.7 Z" fill="rgba(45,175,32,0.51)"/>
<ellipse cx="452.2" cy="86.2" rx="2" ry="1.8" transform="rotate(115.7 452.2 86.2)" fill="rgba(5,30,5,0.45)" stroke="rgba(80,225,55,0.56)" stroke-width="0.9"/>
<path d="M504.4,44.3 Q504.5,45.5 504.2,46.7 Q504,47.9 500.7,45.8 Q497.5,43.7 497.3,42.5 Q497.2,41.3 497.5,40.1 Q497.8,39 499.4,39.5 Q501,39.9 502.7,41.5 Q504.4,43.2 504.4,44.3 Z" fill="rgba(45,175,32,0.57)"/>
<ellipse cx="500.3" cy="42.2" rx="1.7" ry="1.5" transform="rotate(35.3 500.3 42.2)" fill="rgba(5,30,5,0.45)" stroke="rgba(80,225,55,0.63)" stroke-width="0.9"/>
<path d="M466.8,94.2 Q466,92.8 467.1,91.4 Q468.2,90 469.6,89.1 Q471.1,88.2 472.7,89.2 Q474.4,90.2 473.9,91.4 Q473.5,92.7 472.9,94.5 Q472.3,96.2 469.9,95.9 Q467.5,95.6 466.8,94.2 Z" fill="rgba(45,175,32,0.65)"/>
<ellipse cx="471.1" cy="91.8" rx="2.2" ry="2" transform="rotate(173.5 471.1 91.8)" fill="rgba(5,30,5,0.45)" stroke="rgba(80,225,55,0.72)" stroke-width="0.9"/>
<path d="M439.2,50.1 Q439.2,52.5 436.3,51 Q433.4,49.5 432.6,48.1 Q431.7,46.7 432.2,43.7 Q432.7,40.7 433.9,39.8 Q435.1,38.9 437.2,40.5 Q439.3,42 439.3,44.8 Q439.3,47.6 439.2,50.1 Z" fill="rgba(45,175,32,0.66)"/>
<ellipse cx="435.2" cy="45.8" rx="2.3" ry="2.1" transform="rotate(65.3 435.2 45.8)" fill="rgba(5,30,5,0.45)" stroke="rgba(80,225,55,0.73)" stroke-width="0.9"/>
<path d="M471.9,48.1 Q470.4,47.5 470.9,45.8 Q471.3,44.1 472.2,43.3 Q473.1,42.6 475.8,42.4 Q478.4,42.2 478.7,43.5 Q479,44.7 477.6,46.8 Q476.1,48.8 474.7,48.8 Q473.3,48.8 471.9,48.1 Z" fill="rgba(45,175,32,0.51)"/>
<ellipse cx="475.1" cy="46.3" rx="2.2" ry="2" transform="rotate(153 475.1 46.3)" fill="rgba(5,30,5,0.45)" stroke="rgba(80,225,55,0.56)" stroke-width="0.9"/>
<path d="M478.4,97.8 Q476,98.4 475.4,96.4 Q474.7,94.4 476.8,91 Q478.8,87.7 480.4,86.8 Q482.1,86 482.9,86.7 Q483.8,87.4 483.8,89.8 Q483.8,92.1 482.3,94.6 Q480.8,97.1 478.4,97.8 Z" fill="rgba(45,175,32,0.64)"/>
<ellipse cx="479.3" cy="91.3" rx="2" ry="1.9" transform="rotate(123.1 479.3 91.3)" fill="rgba(5,30,5,0.45)" stroke="rgba(80,225,55,0.70)" stroke-width="0.9"/>
<path d="M454.6,100.2 Q454.3,101.6 452.5,101.6 Q450.8,101.6 449.2,99.6 Q447.7,97.6 447.7,94.7 Q447.6,91.9 449.1,91.8 Q450.6,91.8 452.8,92.7 Q454.9,93.6 455,96.2 Q455,98.8 454.6,100.2 Z" fill="rgba(45,175,32,0.62)"/>
<ellipse cx="450.9" cy="96" rx="2.4" ry="2.2" transform="rotate(67.3 450.9 96)" fill="rgba(5,30,5,0.45)" stroke="rgba(80,225,55,0.69)" stroke-width="0.9"/>
<path d="M462.2,99.8 Q461.3,100.7 459.6,100.6 Q457.9,100.5 456.8,96.9 Q455.7,93.2 456.8,91.7 Q458,90.1 459.2,89.6 Q460.4,89.2 461.6,90.6 Q462.9,92.1 463,95.5 Q463.1,98.9 462.2,99.8 Z" fill="rgba(45,175,32,0.63)"/>
<ellipse cx="459.6" cy="95.6" rx="2" ry="1.9" transform="rotate(78.8 459.6 95.6)" fill="rgba(5,30,5,0.45)" stroke="rgba(80,225,55,0.70)" stroke-width="0.9"/>
<path d="M502.5,53.2 Q502.6,54.6 501.1,55.5 Q499.6,56.3 497.7,55.3 Q495.8,54.2 495.3,52.7 Q494.9,51.2 494.9,49.7 Q494.8,48.3 496.9,48.7 Q499,49.1 500.6,50.5 Q502.3,51.9 502.5,53.2 Z" fill="rgba(45,175,32,0.37)"/>
<ellipse cx="499.2" cy="52.8" rx="1.6" ry="1.5" transform="rotate(29.4 499.2 52.8)" fill="rgba(5,30,5,0.45)" stroke="rgba(80,225,55,0.41)" stroke-width="0.9"/>
<path d="M458.5,52.5 Q457.3,53.4 456.5,52.8 Q455.6,52.3 454.2,50.5 Q452.8,48.7 453.6,46.2 Q454.4,43.7 455.7,44.1 Q457,44.5 458,45.8 Q459,47.1 459.3,49.4 Q459.7,51.7 458.5,52.5 Z" fill="rgba(45,175,32,0.63)"/>
<ellipse cx="456.9" cy="49.9" rx="1.6" ry="1.5" transform="rotate(77.6 456.9 49.9)" fill="rgba(5,30,5,0.45)" stroke="rgba(80,225,55,0.69)" stroke-width="0.9"/>
<path d="M497,60.7 Q495.7,59 496,57.2 Q496.4,55.4 498.6,54.9 Q500.9,54.4 502.3,55.6 Q503.8,56.8 504,58.5 Q504.3,60.3 502.9,60.8 Q501.5,61.4 499.9,61.9 Q498.4,62.4 497,60.7 Z" fill="rgba(45,175,32,0.34)"/>
<ellipse cx="499.6" cy="58.5" rx="2.4" ry="2.2" transform="rotate(170.3 499.6 58.5)" fill="rgba(5,30,5,0.45)" stroke="rgba(80,225,55,0.38)" stroke-width="0.9"/>
<path d="M437.6,36.3 Q436,36.7 435,37.2 Q434.1,37.7 433.4,35.2 Q432.7,32.8 433.1,30.6 Q433.6,28.3 434.6,28.6 Q435.6,28.8 436.9,30.5 Q438.3,32.1 438.7,34 Q439.1,35.9 437.6,36.3 Z" fill="rgba(45,175,32,0.60)"/>
<ellipse cx="435.5" cy="32.7" rx="1.6" ry="1.4" transform="rotate(80.9 435.5 32.7)" fill="rgba(5,30,5,0.45)" stroke="rgba(80,225,55,0.66)" stroke-width="0.9"/>
<path d="M481.9,42.2 Q482.3,44.2 480.5,43.9 Q478.7,43.7 477.4,42 Q476.1,40.4 474.9,38.9 Q473.7,37.4 475.7,37 Q477.7,36.6 478.8,37.2 Q480,37.8 480.7,39 Q481.4,40.3 481.9,42.2 Z" fill="rgba(45,175,32,0.38)"/>
<ellipse cx="479" cy="39.3" rx="1.6" ry="1.5" transform="rotate(47.7 479 39.3)" fill="rgba(5,30,5,0.45)" stroke="rgba(80,225,55,0.41)" stroke-width="0.9"/>
<path d="M461.3,49.4 Q460.9,48.1 461.4,45.4 Q461.9,42.6 464.3,41.9 Q466.7,41.1 469,41.8 Q471.3,42.6 470.7,44.7 Q470.2,46.9 468.9,49.2 Q467.7,51.6 464.7,51.2 Q461.7,50.8 461.3,49.4 Z" fill="rgba(45,175,32,0.57)"/>
<ellipse cx="465.6" cy="47.2" rx="2.9" ry="2.7" transform="rotate(169.5 465.6 47.2)" fill="rgba(5,30,5,0.45)" stroke="rgba(80,225,55,0.63)" stroke-width="0.9"/>
<path d="M450.4,60.9 Q449,61.4 447.5,60.9 Q446,60.5 444.9,58.9 Q443.8,57.2 445.2,56.1 Q446.6,55 447.8,54.8 Q449,54.5 450.1,55.7 Q451.2,57 451.5,58.7 Q451.9,60.4 450.4,60.9 Z" fill="rgba(45,175,32,0.42)"/>
<ellipse cx="447.7" cy="57.3" rx="2.1" ry="1.9" transform="rotate(77.9 447.7 57.3)" fill="rgba(5,30,5,0.45)" stroke="rgba(80,225,55,0.46)" stroke-width="0.9"/>
<path d="M446.3,49.6 Q444.1,49 444.4,47.7 Q444.7,46.3 446.5,44.2 Q448.3,42.1 449.6,42.4 Q450.9,42.6 452.6,43.3 Q454.4,44 453.2,45.8 Q452,47.5 450.2,48.8 Q448.4,50.1 446.3,49.6 Z" fill="rgba(45,175,32,0.36)"/>
<ellipse cx="448.8" cy="45.4" rx="2" ry="1.8" transform="rotate(145.3 448.8 45.4)" fill="rgba(5,30,5,0.45)" stroke="rgba(80,225,55,0.39)" stroke-width="0.9"/>
<path d="M451,93.1 Q449.5,94.6 447.3,94.2 Q445,93.8 444.3,91.9 Q443.6,90 443.4,88.3 Q443.2,86.6 445,85.7 Q446.8,84.9 448.6,86.6 Q450.4,88.4 451.5,90 Q452.5,91.6 451,93.1 Z" fill="rgba(45,175,32,0.58)"/>
<ellipse cx="447.3" cy="90.1" rx="2.2" ry="2" transform="rotate(65.3 447.3 90.1)" fill="rgba(5,30,5,0.45)" stroke="rgba(80,225,55,0.63)" stroke-width="0.9"/>
<path d="M431.6,97.7 Q430.4,96.5 430,94.2 Q429.5,91.9 432,91.3 Q434.5,90.8 436.1,90.5 Q437.8,90.2 439.3,91 Q440.9,91.8 439.7,94 Q438.5,96.2 435.6,97.5 Q432.7,98.9 431.6,97.7 Z" fill="rgba(45,175,32,0.48)"/>
<ellipse cx="435.2" cy="94.3" rx="2.3" ry="2.1" transform="rotate(146.6 435.2 94.3)" fill="rgba(5,30,5,0.45)" stroke="rgba(80,225,55,0.52)" stroke-width="0.9"/>
<path d="M457.2,79.9 Q456.2,80.7 454.7,80.4 Q453.3,80 452,76.4 Q450.7,72.8 451.9,71.8 Q453.1,70.9 454.2,70.2 Q455.2,69.6 456.5,71.5 Q457.7,73.5 457.9,76.3 Q458.1,79.1 457.2,79.9 Z" fill="rgba(45,175,32,0.58)"/>
<ellipse cx="454.7" cy="74.8" rx="2.1" ry="1.9" transform="rotate(82.3 454.7 74.8)" fill="rgba(5,30,5,0.45)" stroke="rgba(80,225,55,0.64)" stroke-width="0.9"/>
<path d="M500.2,97.2 Q500,99.2 498.2,99.8 Q496.4,100.4 494.5,99 Q492.5,97.6 491.7,96.2 Q491,94.8 492.8,93.9 Q494.6,93.1 495.8,92.6 Q497,92.1 498.7,93.7 Q500.3,95.2 500.2,97.2 Z" fill="rgba(45,175,32,0.58)"/>
<ellipse cx="495.4" cy="95.8" rx="1.9" ry="1.7" transform="rotate(37.3 495.4 95.8)" fill="rgba(5,30,5,0.45)" stroke="rgba(80,225,55,0.64)" stroke-width="0.9"/>
<path d="M501.4,79.7 Q500.8,80.3 499.7,79.6 Q498.7,78.9 497.2,76.8 Q495.7,74.7 496.2,73.3 Q496.8,71.9 497.6,71 Q498.5,70.2 499.4,71.9 Q500.3,73.6 501.1,76.4 Q502,79.2 501.4,79.7 Z" fill="rgba(45,175,32,0.58)"/>
<ellipse cx="498.4" cy="75.7" rx="1.3" ry="1.2" transform="rotate(71.6 498.4 75.7)" fill="rgba(5,30,5,0.45)" stroke="rgba(80,225,55,0.64)" stroke-width="0.9"/>
<path d="M462.6,69.4 Q461.1,69.6 460.5,68.4 Q459.9,67.3 461.3,65.4 Q462.6,63.6 464,62.3 Q465.4,61 466.3,62.8 Q467.2,64.5 467.5,66.4 Q467.8,68.2 466,68.7 Q464.1,69.3 462.6,69.4 Z" fill="rgba(45,175,32,0.63)"/>
<ellipse cx="464.2" cy="66.6" rx="1.8" ry="1.6" transform="rotate(127.4 464.2 66.6)" fill="rgba(5,30,5,0.45)" stroke="rgba(80,225,55,0.70)" stroke-width="0.9"/>
<path d="M457.7,88.6 Q455.8,89.2 456.7,87.1 Q457.6,84.9 459.2,83 Q460.9,81.1 462,81.3 Q463.2,81.5 464.3,81.9 Q465.5,82.3 465,83.9 Q464.5,85.6 462.1,86.8 Q459.7,88 457.7,88.6 Z" fill="rgba(45,175,32,0.44)"/>
<ellipse cx="460.3" cy="84.9" rx="1.4" ry="1.3" transform="rotate(139.6 460.3 84.9)" fill="rgba(5,30,5,0.45)" stroke="rgba(80,225,55,0.48)" stroke-width="0.9"/>
<path d="M453.2,71.7 Q450.8,72.2 449.9,71.1 Q449,70 449.3,67 Q449.5,64.1 451.5,62.9 Q453.5,61.8 455,61.6 Q456.5,61.3 456.8,64.7 Q457.1,68 456.4,69.6 Q455.6,71.2 453.2,71.7 Z" fill="rgba(45,175,32,0.57)"/>
<ellipse cx="453.3" cy="67.6" rx="2" ry="1.8" transform="rotate(108.2 453.3 67.6)" fill="rgba(5,30,5,0.45)" stroke="rgba(80,225,55,0.63)" stroke-width="0.9"/>
<path d="M485.7,102.9 Q484.1,104.5 483.2,102.6 Q482.3,100.7 482,98.6 Q481.7,96.4 482.4,94.1 Q483.1,91.8 484.9,92 Q486.8,92.2 487.2,95 Q487.6,97.8 487.4,99.6 Q487.3,101.4 485.7,102.9 Z" fill="rgba(45,175,32,0.66)"/>
<ellipse cx="484.2" cy="97.6" rx="1.8" ry="1.7" transform="rotate(94.3 484.2 97.6)" fill="rgba(5,30,5,0.45)" stroke="rgba(80,225,55,0.73)" stroke-width="0.9"/>
<path d="M475.7,74.5 Q475,73 475.3,71.3 Q475.6,69.5 476.9,68.8 Q478.2,68 479.7,68.5 Q481.2,69.1 482.1,70.9 Q483,72.7 482.2,73.9 Q481.4,75 478.9,75.5 Q476.5,76 475.7,74.5 Z" fill="rgba(45,175,32,0.43)"/>
<ellipse cx="477.9" cy="72.4" rx="2.4" ry="2.2" transform="rotate(162.1 477.9 72.4)" fill="rgba(5,30,5,0.45)" stroke="rgba(80,225,55,0.47)" stroke-width="0.9"/>
<path d="M489.9,53.2 Q490.1,55 489,55.9 Q487.9,56.7 485.8,57.6 Q483.8,58.5 482.2,56.8 Q480.7,55.1 480.8,54 Q480.9,53 483,51.6 Q485,50.3 487.4,50.9 Q489.8,51.4 489.9,53.2 Z" fill="rgba(45,175,32,0.44)"/>
<ellipse cx="484.7" cy="54.8" rx="2" ry="1.8" transform="rotate(3.1 484.7 54.8)" fill="rgba(5,30,5,0.45)" stroke="rgba(80,225,55,0.49)" stroke-width="0.9"/>
<path d="M491.5,89.5 Q490.7,92.6 488.1,92.3 Q485.5,92.1 483.1,89.6 Q480.8,87.1 481.9,85.2 Q483,83.4 484.9,80.7 Q486.8,78.1 488.6,79.6 Q490.4,81.2 491.4,83.8 Q492.4,86.4 491.5,89.5 Z" fill="rgba(45,175,32,0.60)"/>
<ellipse cx="488" cy="86" rx="3.1" ry="2.8" transform="rotate(57.4 488 86)" fill="rgba(5,30,5,0.45)" stroke="rgba(80,225,55,0.65)" stroke-width="0.9"/>
<path d="M442.1,45.7 Q440.6,45.8 438.9,44.8 Q437.2,43.7 438.5,40.6 Q439.9,37.5 440.9,34.8 Q442,32 443.2,33.9 Q444.4,35.7 445.8,37.4 Q447.1,39.1 445.4,42.3 Q443.6,45.5 442.1,45.7 Z" fill="rgba(45,175,32,0.50)"/>
<ellipse cx="442.1" cy="40.4" rx="2.2" ry="2" transform="rotate(107.9 442.1 40.4)" fill="rgba(5,30,5,0.45)" stroke="rgba(80,225,55,0.55)" stroke-width="0.9"/>
<path d="M467.9,82.8 Q468.2,85 466.8,84 Q465.3,83 463.9,81 Q462.5,79 462,77.4 Q461.6,75.8 462.1,75.2 Q462.6,74.6 464.3,76.2 Q465.9,77.8 466.8,79.2 Q467.7,80.6 467.9,82.8 Z" fill="rgba(45,175,32,0.64)"/>
<ellipse cx="464.3" cy="79.6" rx="1.4" ry="1.2" transform="rotate(56.6 464.3 79.6)" fill="rgba(5,30,5,0.45)" stroke="rgba(80,225,55,0.71)" stroke-width="0.9"/>
<path d="M477.1,34.4 Q476.2,35.9 474.9,36.4 Q473.7,37 471.9,35.3 Q470.2,33.5 469.2,30.6 Q468.2,27.6 470.1,26.5 Q472.1,25.3 474,26.6 Q476,27.9 477,30.4 Q477.9,32.9 477.1,34.4 Z" fill="rgba(45,175,32,0.51)"/>
<ellipse cx="473.2" cy="32.3" rx="2.3" ry="2.1" transform="rotate(55.7 473.2 32.3)" fill="rgba(5,30,5,0.45)" stroke="rgba(80,225,55,0.56)" stroke-width="0.9"/>
<path d="M433.9,88.6 Q431.4,89.4 431,87.4 Q430.6,85.3 433.2,82.1 Q435.7,78.8 437.2,79.3 Q438.6,79.7 440.1,79.9 Q441.6,80.1 441.3,83 Q441,85.9 438.7,86.8 Q436.5,87.8 433.9,88.6 Z" fill="rgba(45,175,32,0.35)"/>
<ellipse cx="436.3" cy="84.1" rx="2.2" ry="2" transform="rotate(135 436.3 84.1)" fill="rgba(5,30,5,0.45)" stroke="rgba(80,225,55,0.38)" stroke-width="0.9"/>
<path d="M433.4,63.5 Q431.3,64.7 429.9,62.8 Q428.5,60.8 428.9,57.6 Q429.3,54.4 431.6,53.1 Q433.9,51.8 435.7,51.2 Q437.5,50.5 438.8,54.1 Q440.1,57.8 437.9,60 Q435.6,62.2 433.4,63.5 Z" fill="rgba(45,175,32,0.37)"/>
<ellipse cx="433.1" cy="57.3" rx="2.7" ry="2.4" transform="rotate(104.1 433.1 57.3)" fill="rgba(5,30,5,0.45)" stroke="rgba(80,225,55,0.41)" stroke-width="0.9"/>
</g>
<rect x="433.4" y="31.1" width="65.8" height="65.9" fill="#000" stroke="none" stroke-width="0.8" filter="url(#speckD)" opacity="0.45"/>
</g>
<g clip-path="url(#cp5)">
<rect x="235.2" y="97" width="66" height="66" fill="#020802" stroke="none" stroke-width="0.8"/>
<g filter="url(#blur3)">
<ellipse cx="262" cy="130" rx="28" ry="30" transform="rotate(10 262 130)" fill="rgba(35,140,22,0.64)" stroke="none" stroke-width="0.8"/>
<ellipse cx="248" cy="108" rx="14" ry="12" transform="rotate(0 248 108)" fill="rgba(35,140,22,0.57)" stroke="none" stroke-width="0.8"/>
<ellipse cx="282" cy="150" rx="14" ry="10" transform="rotate(0 282 150)" fill="rgba(35,140,22,0.57)" stroke="none" stroke-width="0.8"/>
<ellipse cx="276" cy="130" rx="10" ry="9" transform="rotate(0 276 130)" fill="rgba(35,140,22,0.79)" stroke="none" stroke-width="0.8"/>
</g>
<ellipse cx="276" cy="130" rx="9" ry="8" transform="rotate(0 276 130)" fill="rgba(4,22,4,0.10)" stroke="none" stroke-width="0.8" filter="url(#blur06)"/>
<g fill="none" stroke-width="1.1" stroke-linecap="round" stroke-linejoin="round" filter="url(#blur03)">
<path d="M243.8,111.3Q244.1,111.6 244.4,111.9M261.5,156.6Q260.9,156.9 260.2,157M280.7,110.6Q281.1,111 281.6,111.3M287.4,154.4Q286.9,154.5 286.4,154.9M281.6,111.3Q282.7,111.4 283.1,112.4M268.6,154.1Q268.1,154 267.8,154.3M245.3,125Q244.4,125.3 243.6,125.7M269.6,123.9Q268.7,124.6 268.6,125.7M238.1,107.3Q237.9,106.9 237.7,106.6M240.4,135.4Q240.8,135.5 241.1,135.7M253.4,101.8Q252.2,101.8 251.5,102.8M284,142.2Q284.5,142.8 284.5,143.6M237.2,129.9Q238.2,129.8 239,130.5M253,113.4Q252.8,114.1 253.2,114.8M284.7,137.4Q284.4,137.3 284.1,137.5M248.7,115.8Q248.7,115.3 248.3,115.1M238.1,135.4Q238.5,135.8 239,135.7M244.7,108.3Q244.8,109.2 245.2,110M272,109.2Q271.5,108.7 270.9,108.5M254.3,116.2Q254,116.9 254.2,117.6M236.5,129.6Q236.8,129.8 237.2,129.9M275.1,143.8Q274.9,144.8 274.6,145.8M242.2,111.6Q242.2,112.2 242,112.8M267.4,100.9Q267.8,102 268.7,102.7M247.8,118Q247.8,117.4 247.4,117M239.2,142.6Q240,142.7 240.7,142.9M285.8,140.8Q285.7,140.8 285.7,141M244.2,113.3Q244.1,112.6 244.4,111.9M244.9,144.9Q245.2,145.4 245.4,145.9M248.7,132.8Q249.5,132.6 250,131.9M282.6,143.3Q282.2,143.5 282.1,143.9M248.4,114.7Q248.3,114.9 248.3,115.1M257.2,99.8Q257.1,100.4 257.3,100.8M286.2,121.9Q286,122.6 285.4,123M271.4,145.4Q272.4,144.3 272.2,142.8M247.8,118Q247.8,118.3 248,118.4M282.3,157Q281.7,157.2 280.9,157.2M275.8,144.9Q275.3,145.4 274.6,145.8M274.5,154.2Q274,154.5 273.7,155.2M239.8,136.6Q238.8,137.3 238.1,138.4M285.1,127.3Q284.9,127.8 284.9,128.3M285.7,141Q286.1,141.3 286.3,141.8M260.7,109Q260.1,108.4 259.3,108.3M244.1,151.4Q243.9,150.5 244.3,149.8M240.4,135.4Q240.3,135.7 240,135.7M262.7,156.6Q262.1,156.5 261.5,156.6M278.5,117.2Q277.7,117.2 277.1,116.6M273.4,111.7Q274.5,111.6 275.2,112.3M283.4,140.6Q283.5,140.7 283.7,140.7M274.2,156.9Q273.8,157.2 273.7,157.7M234.3,107Q234.3,107 234.2,107.1M239.5,140.9Q239.9,141.9 239.2,142.6M257.5,108.4Q257.7,108.7 257.8,109M274.1,152Q273.6,151.3 273.1,150.6M265.5,153.1Q265.8,153 266.1,153.2M267.4,151.1Q267.2,152.4 266.1,153.2M262.7,156.6Q262.5,156.3 262.1,156.2M279.1,122.7Q279.9,121.3 281.5,121.4M285.7,159.6Q285.6,158.9 286,158.4M282.1,146.2Q281.8,145.8 281.3,145.6M251.6,96.9Q250.8,96.9 250.5,97.5M262.4,123.2Q262,122.6 261.9,122M244.5,149.2Q244.5,149.5 244.3,149.8M238.6,134.4Q238.3,134.9 238.1,135.4M251.4,116.8Q251.5,116.1 251.1,115.4M279.2,145.8Q279,146.3 278.8,146.8M248.9,104Q248.6,104.5 248,104.6M236.9,115Q236.5,113.8 237.4,112.9M260.7,109Q261,109.5 261.5,109.8M290.8,157.6Q290.1,158.1 289.3,157.8M252.9,116.1Q253.6,115.9 254.3,116.2M272.2,142.8Q272.9,141.4 272.2,140M257.6,117.2Q257.9,117.3 258.2,117.2M254,112Q253.5,112.7 253,113.4M282.8,125.2Q282.9,124.6 283,124.1M286.1,148.5Q286.9,148.9 287,149.9M269,119.4Q269,120.1 268.9,120.8M262.8,127.1Q263.6,126.5 264.5,126.3M243,118.3Q243.8,117.6 243.6,116.6M287.2,156.4Q287.2,155.4 286.4,154.9M245.1,107.2Q245.1,107.8 244.7,108.3M280,142Q280,141.7 279.6,141.5M250,105.8Q250.4,106.1 250.8,106.3M269.8,154.6Q269.8,154.3 269.8,154.1M240.4,140Q240,138.7 240.5,137.4M236.5,137.1Q235.6,137.1 235,137.7M268.1,125.4Q268.3,125.7 268.6,125.7M254.3,109Q254.3,108.4 254.6,107.9M264.3,116.1Q264.4,114.8 264.3,113.5M243.9,122.8Q243.2,123.7 243.6,124.8M287.7,127Q288.5,126.6 289.4,126.5M250.3,150.6Q250.4,150.8 250.6,150.9M274.3,113.1Q274.7,112.7 275.2,112.3M245.3,135Q244.1,135.8 244,137.1M279,147.3Q279,147 278.8,146.8M258.1,154.9Q256.9,155.2 255.9,155.8M278.7,152.7Q278.7,152.7 278.7,152.8M274.2,156.9Q273.8,156.7 273.3,156.8M261.3,109.2Q261.4,109.5 261.5,109.8M272.6,144.3Q271.9,145 271.4,146M257.2,116.3Q256.8,115.7 256,115.7M252.4,131.8Q252.4,131.1 252.6,130.5M245.8,146.3Q245.7,146 245.4,145.9M268.6,154.1Q268.7,153 268.5,152M240,117.9Q240.1,116.9 239.5,116.2M244.1,107.5Q243.5,106.4 242.8,105.5M256.4,106.7Q256.2,106.8 255.9,106.8M255.1,107.2Q254.9,107.4 254.7,107.6M284.5,134.4Q284.3,135 283.9,135.3M240.1,143.6Q239.9,142.9 239.2,142.6M245.9,154.8Q247.1,155.6 248.5,155.6M240.4,135.4Q240.9,134.9 241.3,134.3M258.8,117.5Q259.2,116.7 259.8,116M248.6,141.8Q248.5,142.2 248.6,142.6M284.3,117.6Q283.4,118.1 282.5,118.7M255.5,132.1Q256.2,133.4 255.6,134.8M283.9,152.2Q283.1,152.5 282.9,153.3M241.5,114.5Q242.1,114.8 242.6,114.5M287.3,121.1Q286.7,122.4 285.4,123M238.5,127.2Q238.6,126.7 238.7,126.3M261.9,129.7Q262.4,129.8 262.9,129.9M284,142.2Q284.1,142.9 283.6,143.4M282.4,158.2Q282,158.6 281.6,159M268.7,102.7Q268.5,102.4 268.5,102M250.4,138.6Q250.1,139.3 250.2,140M286.5,143.3Q287.6,143.2 288.7,142.9M258.6,138.3Q257.8,138.2 257.1,138.7M254.2,144.9Q254.1,145 253.9,145.1" stroke="rgba(75,225,50,0.56)"/>
<path d="M284.4,134.5Q284.5,134.5 284.5,134.4M245.8,146.3Q246,145.4 246.8,145.2M244.2,113.3Q244.4,113.7 244.3,114.1M266.8,135.6Q267,135.7 267.2,135.8M277.8,137.7Q276.8,138.5 275.7,138.1M258.6,113.2Q259.7,113.5 260.6,114.1M249.4,100.8Q249.5,100.3 249.5,99.8M265.2,117.9Q264.8,119 264.2,120.1M239.2,142.6Q238,142.5 237,141.8M250.9,112Q250.1,111.4 249.3,110.9M282.1,146.2Q282.6,146.2 282.9,145.8M248.4,145.3Q247.6,145.5 246.8,145.2M252,147.4Q253.1,147.7 253.9,148.5M244.9,144.9Q245,144.4 244.8,143.9M241.3,102.1Q241.7,102 242,102.3M258.8,117.5Q258.5,117.3 258.2,117.2M256.1,127.5Q258,127.7 258.9,129.4M277.1,154.3Q277.3,154.3 277.4,154.3M241.1,146.5Q242,145.9 242.8,145.3M281.6,123.8Q282.3,124 283,124.1M254.1,139.1Q253.5,139.4 252.8,139.4M254.1,155.5Q254.9,156.8 254.3,158.3M256.2,151.2Q256.1,152.2 255.2,152.8M286,158.4Q286.7,158.7 287.4,159.1M269.8,121.5Q270.8,121.7 271.4,122.4M274.1,150.9Q273.9,151.4 274.1,152M258.1,154.9Q258.4,153.9 259,153M248.3,114.8Q248.3,114.9 248.3,115.1M261.8,136.6Q261.7,135.6 262.2,134.8M284.9,155.2Q285.7,155.3 286.4,154.9M281.9,124.1Q282.4,124.4 283,124.1M282.6,152Q283.2,151.3 283,150.5M267.2,135.8Q266.2,135.8 265.6,135.1M259,153Q260.4,152.5 261,151.2M237.2,129.9Q237.4,129.5 237.4,129.1M284.7,137.4Q284.7,138.2 284.4,139M240.9,142.6Q240.8,142.7 240.7,142.9M282.4,158.2Q282.5,157.6 282.2,157.2M278.4,156.8Q278.1,158.1 276.9,158.6M265.8,128.7Q264.9,127.7 264.5,126.3M240.1,143.6Q240.4,143.3 240.7,142.9M238.6,134.4Q238.5,134.5 238.4,134.6M287.3,121.1Q287.6,120.7 288.1,120.5M266.3,141.7Q265.9,143.3 266.7,144.8M278.7,152.7Q279.1,152.5 279.4,152.2M282.6,152Q282.7,152.6 282.9,153.3M280.1,151.1Q280.1,150.5 279.6,150.1M281.6,111.3Q282.7,111.7 283.5,112.3M290.6,148.8Q290,149.5 289,149.3M285.7,159.6Q286.5,159.2 287.4,159.1M264.2,152.6Q263.9,152.8 263.5,153.1M245.2,110Q245.3,109.4 245.2,108.8M269.3,113.3Q268.2,112.3 267.3,111.1M250.9,155Q249.9,155.6 249.8,156.7M250.3,150.6Q249.9,151.3 249.1,151.3M251,134.2Q250.2,132.9 248.7,132.8M287.7,127Q287.4,128 286.8,128.9M245.1,107.2Q244.6,107.1 244.1,107.5M258.8,110.7Q258.5,110.9 258.2,110.8M241.6,137.2Q241,137 240.5,137.4M251.4,116.8Q251.3,118 250.4,118.9M239.8,136.6Q239.7,136.1 240,135.7M275.7,138.1Q276.2,139.2 275.9,140.3M265.9,147.8Q265.6,148.1 265.6,148.5M279,147.3Q279.7,146.9 280.1,146.3M257.1,138.7Q256.8,137.5 255.7,137.1M264.4,139.7Q263.5,139.7 262.9,139M282.4,139.7Q282.9,140.2 283.4,140.6M261.6,104.7Q261.3,104.8 261,104.9M234.3,107Q235.2,106.3 236.1,105.8M272,109.2Q271.8,109.6 271.4,109.6M254.7,107.6Q254.7,107.7 254.6,107.9M277.5,105.1Q276.5,106.1 275.1,106.1M271.4,145.4Q272.3,145.2 272.6,144.3M245.2,102.6Q244.9,100.8 246.3,99.7M252.9,116.1Q254,116.5 254.2,117.6M245.5,150.5Q244.9,150.2 244.3,149.8M291.9,154.8Q291.4,154.5 290.9,154.7M249,143.8Q249,143.1 248.6,142.6M273.4,148Q274,147.1 274.9,146.7M237.4,130.1Q237.3,130 237.2,129.9M289,149.3Q288.1,150 287,149.9M291.9,154.8Q291.1,155.4 290.2,155.8M274.3,113.1Q273.5,112.6 273.4,111.7M245,147.7Q244.4,148.4 244.5,149.2M277.1,149.7Q277.4,150.1 277.9,150.2M236.5,137.1Q237.1,138 238.1,138.4M265.2,133.3Q265.9,133.1 266.6,132.9M280.4,143.3Q280,142.7 280,142M288.7,151.6Q289.2,152.1 289.6,152.6M258.2,117.2Q259.1,116.7 259.8,116M269.3,116Q269.5,116.7 270.1,117.2M250.1,107.5Q250.5,108 251,108.5M278.7,114.7Q277.6,115.4 277.1,116.6M295.6,147.7Q294.4,146.9 293.7,145.7M272.2,140Q270.7,139.6 269.5,138.7M253.9,145.1Q253.7,146.1 254.5,146.7M287.4,154.4Q287.3,155.4 287.2,156.4M252.1,138.1Q252.8,138.6 252.8,139.4M274.9,146.7Q274.9,146.2 274.6,145.8M279.2,138.4Q279.7,139.2 280.1,140M243.5,108.9Q243.1,109.4 242.5,109.7M251,134.2Q250.8,132.9 250,131.9M269.3,113.3Q269,114.6 269.3,116M256.4,106.7Q256.7,106.5 256.8,106.2M277.1,152.6Q276.7,153.5 277.1,154.3M271.4,145.4Q271.4,145.7 271.4,146M262,129.4Q260.5,130 258.9,129.4M252.9,116.1Q252.7,116.5 252.2,116.7M245.3,135Q246.6,135.3 247.4,136.5M269.5,138.7Q269.3,138.4 269.4,138.1M261.2,156.8Q261.6,157.8 261.4,158.7M249,128.3Q249.8,128 250.5,128.5M294.1,154.7Q294.1,154.3 293.8,154.1M241.8,101.9Q241.8,102.1 242,102.3M245.9,120.8Q245.6,121 245.2,121.2M274.1,150.9Q274.6,151.2 274.6,151.9M246.8,145.2Q246.8,144.5 246.6,143.9M252.1,138.1Q251.7,137 252.3,135.9M277.8,137.7Q278.3,138.5 279.2,138.4M274,119Q274.7,117.8 275.2,116.6M259.5,145Q259.3,145.1 259.1,145.3M245.3,125Q244.4,125 243.6,124.8M288.7,151.6Q288.2,151.4 287.7,151.3M258.8,110.7Q258.9,110.1 258.9,109.5M263.7,123.6Q263.1,123.1 262.4,123.2M276.6,105.2Q275.7,105.5 275.1,106.1M279.8,158.7Q280.8,158.6 281.6,159M253.4,144.2Q253.9,144.4 254.2,144.9M265.8,128.7Q265.1,128 265,127M246.1,115.1Q245.6,114.8 245.2,114.5M280.1,146.3Q279.5,146.7 278.8,146.8M264.2,152.6Q265,152.5 265.5,153.1M250.4,138.6Q250,138.9 249.9,139.3M275,138.8Q274.8,138.5 274.8,138.1M270.2,105.6Q271,106.2 272.1,106M280.4,143.3Q281.3,143.1 282,142.5M244.7,108.3Q244.9,108.6 245.2,108.8M267.7,134.9Q267.8,134.9 268,134.9M278.4,156.8Q277.4,156.5 276.4,156.2M262,129.4Q262.3,129.9 262.9,129.9M236.5,129.6Q235.9,128.7 234.8,128.6M265.5,153.1Q264.5,153.6 263.5,153.1M254.1,155.5Q255,155.3 255.9,155.8M260.6,114.1Q260.3,115.1 259.8,116M253.1,123.9Q252.6,123.4 251.8,123.1M242,97.8Q242.5,97.6 243,97.5M238.1,115.8Q238.9,115.7 239.5,116.2M252.5,100.2Q251.9,99.7 251.1,99.6M254.5,146.7Q253.7,147.5 253.9,148.5M241.4,136.8Q241.6,137 241.6,137.2M239.2,142.6Q238,142.8 236.8,142.6M237.5,103Q238.7,102.5 238.8,101.3M248.6,123Q249.5,122.6 250.1,121.9M242.8,145.3Q242.4,145.7 241.9,145.7M250.8,99.9Q251,99.8 251.1,99.6M238,116.7Q237.1,116.1 236.9,115M291.8,149Q291.5,148.4 291.1,147.8M237.4,130.1Q238.3,129.9 239,130.5M248,118.4Q247.7,117.7 247.4,117M255.9,124.7Q257,124.1 258.2,123.8M269.8,154.1Q269.3,154.5 268.6,154.2M261,108.2Q261.5,108 261.7,107.6M246.5,111.9Q246.6,111.9 246.7,112M274.1,152Q274.3,151.8 274.6,151.9M281.8,141.3Q281.9,140.4 282.4,139.7M246.3,148.1Q245.5,148.3 245,147.7M278.7,152.7Q279.2,152.7 279.6,152.6M267.8,154.3Q268.2,154.4 268.6,154.2M252.1,105.4Q251.8,104.9 251.4,104.7M281.6,123.8Q280.6,122.8 279.1,122.7M272.1,154.6Q273.1,154.5 273.7,155.2M282.3,157Q282.4,157.6 282.4,158.2M246.1,113.4Q245.6,113.8 245.2,114.5M264.7,156.3Q264.9,157 264.5,157.5M256.6,100.5Q256.9,100.1 257.2,99.8M262.4,148.8Q261.3,148.3 261,147.2M251.1,115.4Q250.7,115.1 250.4,114.6M264.7,158.2Q264.1,157.3 264.7,156.3M265.4,110.8Q264.4,112 264.3,113.5M278.5,152.7Q278.6,152.7 278.7,152.8M257.3,144.7Q258.3,144.6 259.1,145.3M256.4,106.7Q256.4,107.2 256.6,107.7M278.7,152.7Q278.6,152.7 278.5,152.7M285.8,140.8Q285.6,140.5 285.3,140.2M259.6,104.9Q260.3,104.9 261,104.9M246.1,99.4Q246.2,99.5 246.3,99.7M257.9,148.7Q257.7,147.5 257.1,146.5M238.5,127.2Q239.1,127.7 239.8,128.3M260.4,152Q260.8,153 261.2,153.9M242,112.8Q241.2,112.5 240.4,112.4M241.4,121.5Q240.8,121 240.7,120.3M238,116.7Q238.1,116.2 238.1,115.8M275,138.8Q275.6,138.6 275.7,138.1M265.9,147.8Q266.4,147.7 267,147.7M258.2,117.2Q257.7,116.8 257.2,116.3M290.6,148.8Q291.2,148.8 291.8,149M261.9,129.7Q261.5,131.1 260.6,132.3M240.5,137.4Q240,137.1 239.8,136.6M253.2,112.4Q253.4,112.9 253,113.4M273.3,156.8Q273.7,157.2 273.7,157.7M249.5,99.8Q250.2,99.5 250.8,99.9M262,137.7Q261.8,138.2 261.9,138.8M273.9,107.4Q273.1,107.2 272.7,106.4M260.9,155.6Q261.4,156 261.5,156.6M250.1,121.9Q251.1,122.3 251.8,123.1M252.5,100.2Q252.7,100.4 253,100.4M260.9,155.6Q261,154.8 261.2,153.9M257.9,148.7Q258.6,148.4 258.8,147.7M277.1,149.7Q277.1,150 277.1,150.2M284.2,126.9Q284.6,127.1 285.1,127.3M250.5,153.4Q251,154.1 250.9,155M275.1,143.8Q275.5,144.3 275.8,144.9" stroke="rgba(75,225,50,0.69)"/>
<path d="M239.1,146.3Q239.9,146.7 240.7,147.1M269.4,119Q269.3,119.3 269.5,119.5M257.7,106.7Q257.2,106.5 256.8,106.2M278.7,114.7Q279.1,116 278.5,117.2M255.3,114.8Q255.5,115.4 256,115.7M261.9,129.7Q262,129.6 262,129.4M244.7,96.9Q244,97.6 243,97.5M242.6,142Q241.4,141.9 240.7,142.9M262.8,127.1Q263.9,126.8 265,127M250.7,113.7Q250.5,114.2 250.4,114.6M274.7,146.2Q274.6,146 274.6,145.8M246.1,102Q246.1,100.9 246.3,99.7M241.4,121.5Q241.8,121.5 242.1,121.2M245.5,150.5Q245.1,151.8 244.1,152.6M279.2,145.8Q278.4,145.7 277.9,145M258.8,117.5Q258.3,117.2 257.6,117.2M245.9,154.8Q247.2,154.9 247.9,155.9M283.5,136.8Q283.8,137.1 284.1,137.5M275.3,121.6Q276.6,122.1 278,122.2M255.9,155.8Q254.5,156.6 254.3,158.3M267.7,134.9Q267.4,135.3 267.2,135.8M271.3,118Q270.6,118.9 269.4,119M253.2,112.4Q253.7,112.4 254,112M252.1,138.1Q252.2,138.3 252.2,138.5M252.1,105.4Q252.4,105.3 252.6,105.1M245.1,141Q243.9,141.7 242.6,142M270.2,105.6Q271.6,105.7 272.7,106.4M255.6,106.6Q255.3,106.5 255,106.2M283.8,146Q283.4,145.7 282.9,145.8M256,115.7Q256.3,114.9 256.8,114.4M258.6,138.3Q257.8,137.6 256.8,137.9M258.2,123.8Q258.2,122.4 257.8,121M271.3,118Q270.8,117.4 270.1,117.2M287.7,151.3Q287.5,150.5 287,149.9M285.3,129.5Q285.9,128.9 286.8,128.9M275.8,156.3Q276.1,156.4 276.4,156.2M241.4,121.5Q240.9,121.8 240.7,122.4M280.9,157.2Q281.6,156.9 282.2,157.2M260.7,109Q260.6,108.5 261,108.2M286.3,141.8Q286,142.6 286.5,143.3M254.1,155.5Q254.2,154.3 254.4,153.2M261.6,136.2Q261.9,135.5 262.2,134.8M265.2,133.3Q265.4,132.8 265.5,132.3M275.2,116.6Q276.1,117.1 277.1,116.6M268.1,125.4Q268.4,124.2 269.6,123.9M267.5,158.6Q266.4,159.4 265.2,158.8M268,134.9Q267.7,135.3 267.2,135.8M250.9,120.2Q251.9,120.5 252.8,121M246.3,148.1Q246.2,148.9 246.3,149.7M265.9,138.4Q266.5,137.1 267.2,135.8M265.2,117.9Q265.4,118.1 265.6,118.1M250.1,107.5Q250.3,106.8 250.8,106.3M249,128.3Q249.8,128.6 250.7,128.8M276.5,117.7Q276.4,118.4 276.6,119.1M245.3,112Q245.9,112.2 246.5,111.9M244.7,108.3Q244.1,108.4 243.6,108.8M271.5,149.6Q272.4,149.1 273.1,148.2M258.2,123.8Q258.6,123.9 259,123.9M279.3,119.6Q277.9,119.4 276.6,119.1M273.7,155.2Q273.9,154.8 274.3,154.7M242,97.8Q243.6,98 244.7,96.9M261.6,136.2Q261.7,136.4 261.8,136.6M254.4,153.2Q254.7,152.9 255.2,152.8M243,118.3Q243.8,117.5 244.1,116.4M280.4,111.2Q280.6,110.5 281,109.8M277.1,149.7Q277,148.9 277.7,148.4M252.9,116.1Q253.3,115.5 253.2,114.8M255.8,139.9Q255.5,139.2 254.6,139.1M240.7,120.3Q241.2,121 242.1,121.2M255.3,114.8Q256,114.2 256.8,114.4M261.5,156.6Q261.9,156.5 262.1,156.2M251.4,104.7Q251.1,103.7 251.5,102.8M261.4,158.7Q260.9,158.9 260.5,158.7M265.2,158.8Q264.9,158.5 264.7,158.2M289.4,126.5Q288.6,128.2 286.8,128.9M248.1,98.3Q247.3,99.3 246.1,99.4M248.1,98.3Q248.9,98.6 249.6,98.2M272.1,154.6Q271.6,154.2 271.1,154M292.8,145.9Q291.8,145.1 291.4,143.9M276.1,157Q276.1,156.6 276.4,156.2M249,128.3Q247.7,129.4 246,129.4M248.4,114.7Q248.3,114.7 248.3,114.8M243,112.2Q242.6,111.9 242.2,111.6M240.7,120.3Q240.3,119.8 240.3,119.2M264.7,158.2Q264.7,157.9 264.5,157.5M282.5,118.7Q282.1,120 281.5,121.4M245.1,107.2Q244.1,106.1 242.8,105.5M261.2,156.8Q260.7,156.9 260.2,157M246,129.4Q245.4,129.1 244.9,128.6M248.8,104.8Q248.4,104.8 248,104.6M243.6,116.6Q243.8,116.4 244.1,116.4M253.4,144.2Q253.6,144.7 253.9,145.1M291.8,149Q292.1,149.4 292.5,149.6M258.8,147.7Q259.8,147.2 261,147.2M278.5,117.2Q278.8,118.4 279.3,119.6M265.2,133.3Q265,132.8 264.8,132.3M266.8,135.6Q266.3,135 265.6,135.1M236.1,105.8Q235.5,106.9 234.2,107.1M255,101.1Q255.3,101.8 256,102.1M247.1,142.7Q247,143.4 246.6,143.9M284.9,128.3Q285.1,128.9 285.3,129.5M250.6,150.9Q251,151.3 251.3,151.7M245.3,112Q244.8,111.8 244.4,111.9M245.2,102.6Q245.6,102.2 246.1,102M264.4,139.7Q265.2,139.2 265.9,138.4M284,142.2Q284.1,141.4 283.7,140.7M243.6,108.8Q243.2,109.4 242.5,109.7M262.9,107.5Q262.4,107.9 261.7,107.6M246.7,112Q247,111.4 247.7,111.4M239.6,106.7Q240,107.7 240,108.9M237.4,130.1Q237.4,129.9 237.2,129.7M282.8,125.2Q282.2,124.8 281.9,124.1M270.7,152Q269.6,151.4 268.5,152M273.9,107.4Q274.3,106.5 275.1,106.1M248.6,123Q250.2,123.6 251.8,123.1M261,108.2Q262,107.9 262.9,107.5M249.9,143.3Q249.6,143.8 249,143.8M279.6,141.5Q280.3,140.9 280.1,140M249.9,143.3Q249.4,142.7 248.6,142.6M271.1,154Q270.5,154.3 269.8,154.1M254.5,106.4Q254.8,106.4 255,106.2M279.4,152.2Q279.4,152.4 279.6,152.6M262.1,105.4Q261.4,105.5 261,104.9M246.8,111.3Q246.8,111.7 246.5,111.9M267,106.4Q268.4,105.2 270.2,105.6M276.5,117.7Q276.9,117.2 277.1,116.6M267.2,135.8Q267.9,137.3 269.4,138.1M255.9,124.7Q254.3,125.1 253.1,123.9M257.5,102.7Q257.5,102.2 257.7,101.7M285.7,141Q285.3,140.7 285.3,140.2M284.2,126.9Q284.2,127.7 284.9,128.3M274,119Q275.3,118.7 276.6,119.1M283.1,112.4Q283.3,112.4 283.5,112.3M278.5,152.7Q277.8,152.6 277.1,152.6M261.2,156.8Q261.4,156.7 261.5,156.6M283.5,136.8Q283.9,137.4 284.7,137.4M277.9,145Q277.9,145.3 278.1,145.5M248.9,141.1Q248.6,141.4 248.6,141.8M267.1,146.7Q267,147.1 267,147.7M281,109.8Q280.7,110.1 280.7,110.6M250.7,128.8Q250.5,128.7 250.5,128.5M262.4,148.8Q261.2,149.7 261,151.2M275.3,121.6Q275.3,122 274.9,122.3M270.7,149Q270.1,148.8 269.5,148.9M267.1,146.7Q268,146.3 268.7,146.9M281.6,123.8Q281,122.6 281.5,121.4M236.8,142.6Q236.8,142.1 237,141.8M243.9,122.8Q245.2,122.1 245.9,120.8M265.4,110.8Q265.3,108.9 266.7,107.7M247.1,142.7Q247.8,142.4 248.6,142.6M254.1,139.1Q254.4,139.1 254.6,139.1M279.2,145.8Q279.5,146.2 280.1,146.3M268.6,154.1Q268.6,154.1 268.6,154.2M251,134.2Q251.2,135.4 252.3,135.9M249.3,110.9Q248.6,111.3 247.7,111.4M282.3,145Q281.7,145.1 281.3,145.6M246.8,111.3Q247.2,111.7 247.7,111.4M248.8,104.8Q248.9,104.4 248.9,104M255.1,107.2Q254.8,107.5 254.6,107.9M283.4,143.8Q283.6,143.6 283.6,143.4M247.4,136.5Q245.9,137.7 244,137.1M250.9,120.2Q250.4,119.6 250.4,118.9M238.7,126.3Q239,127.4 239.8,128.3M234.8,128.6Q236.2,128.2 237.4,129.1M276.6,119.1Q277.4,117.9 277.1,116.6M238.7,126.3Q237.3,125.9 235.9,125.7M255.4,99.8Q254.9,100.4 255,101.1M241.6,98.3Q242.1,97.6 243,97.5M267.4,151.1Q268.2,151.2 268.5,152M274.1,150.9Q273.6,150.6 273.1,150.6M261,151.2Q260.9,151.8 260.4,152M256.4,103Q256.2,102.6 256,102.1M274.9,146.7Q274.7,146.5 274.7,146.2M287.1,144.6Q288,143.8 288.7,142.9M252.4,131.8Q251.2,131.9 250,131.9M255.6,134.8Q255.1,136 255.7,137.1M276.5,117.7Q277.6,117.8 278.5,117.2M264.5,126.3Q264.6,126.7 265,127M285.3,151.1Q284.7,150.3 284.1,149.6M242.4,134Q241.9,134.4 241.3,134.3M250.7,113.7Q250.4,112.8 250.9,112M240,112.1Q240.2,112.3 240.4,112.4M256.8,106.2Q256.2,106.3 255.9,106.8M244.1,107.5Q244.6,107.8 244.7,108.3" stroke="rgba(75,225,50,0.81)"/>
<path d="M271.5,149.6Q271.2,149.2 270.7,149M282.3,145Q281.9,144.5 282.1,143.9M234.8,135.1Q234.7,134 234.1,133.1M282.3,157Q282.3,157.1 282.2,157.2M243.6,124.8Q243.6,125.3 243.6,125.7M257.3,144.7Q257,143.6 256.4,142.5M239.1,146.3Q240.1,146.3 241.1,146.5M293.7,145.7Q293.3,145.6 292.8,145.9M256.6,100.5Q257,100.7 257.3,100.8M285,146.9Q284.6,146.1 283.8,146M259.3,108.3Q259.3,108.9 258.9,109.5M258.8,147.7Q257.7,147.5 257.1,146.5M266.3,120.6Q265.4,119.7 264.2,120.1M264.2,152.6Q265,153.3 266.1,153.2M249.8,156.7Q248.9,156.3 247.9,155.9M264.3,116.1Q264.2,117.2 265.2,117.9M274.8,138.1Q275.3,137.9 275.7,138.1M249.1,151.3Q249.7,150.7 250.6,150.9M238.1,107.3Q239,107.3 239.6,106.7M244.1,151.4Q243.7,152 244.1,152.6M236.5,129.6Q236.9,129.6 237.2,129.7M276.5,117.7Q276,116.9 275.2,116.6M267.5,158.6Q267.2,157.7 267.7,156.9M269.8,121.5Q269.5,121 268.9,120.8M260.7,109Q261,109.1 261.3,109.2M243.9,122.8Q244.3,121.8 245.2,121.2M256.2,151.2Q255,151.9 254.4,153.2M256.8,137.9Q256.2,137.6 255.7,137.1M240.1,143.6Q240.8,143.4 240.9,142.6M242,97.8Q241.9,98.1 241.6,98.3M259,153Q259.7,152.5 260.4,152M242,112.8Q241.7,113.6 241.5,114.5M251.6,151.2Q251,151.3 250.6,150.9M261.2,156.8Q261.1,156.2 260.9,155.6M257.3,100.8Q257.8,101.2 257.7,101.7M257.6,117.2Q257.2,116.9 257.2,116.3M267.4,100.9Q268.3,101.1 268.5,102M264.4,139.7Q265.5,140.5 266.3,141.7M273.9,107.4Q273.9,107.6 274,107.7M287.3,121.1Q286.9,121.7 286.2,121.9M259.7,104.2Q259.8,104.5 259.6,104.9M264.8,132.3Q265.2,132.4 265.5,132.3M255.9,124.7Q256.4,126.1 256.1,127.5M243.5,108.9Q243.6,108.9 243.6,108.8M238.8,101.3Q239.1,100.6 239.2,99.8M256.4,139.7Q256.1,139.9 255.8,139.9M269.5,148.9Q269.8,149.3 270.2,149.6M237.5,103Q238.4,102.8 239.3,102.6M275.8,156.3Q275.8,156.7 276.1,157M271.4,109.6Q271,110.8 270.4,111.9M248.4,145.3Q249,144.7 249,143.8M238.1,115.8Q237.6,115.3 236.9,115M266.7,117.2Q266.4,117.9 265.6,118.1M250.5,153.4Q251.3,152.8 251.3,151.7M263.6,144.5Q262.3,145.9 261,147.2M238,116.7Q238.1,117 238,117.3M246.1,113.4Q246.1,112.6 246.5,111.9M269.3,113.3Q269.6,112.3 270.4,111.9M269,119.4Q269.2,119.1 269.4,119M234.1,133.1Q235.2,132.7 236.4,132.9M244.3,114.1Q244.8,114.2 245.2,114.5M281.8,141.3Q281.9,141.9 282,142.5M240.7,120.3Q239.4,121.1 237.9,121.4M269,119.4Q269.3,119.4 269.5,119.5M275,138.8Q275,139.8 275.9,140.3M250.7,128.8Q251.9,129.3 252.6,130.5M248.5,155.6Q248.2,155.8 247.9,155.9M257.6,142.9Q257,142.8 256.4,142.5M238.8,101.3Q238.9,102 239.3,102.6M277.1,150.2Q277.5,150.4 277.9,150.2M241.8,101.9Q241.5,101.9 241.3,102.1M245.2,117.9Q244.7,117.1 244.1,116.4M282.3,145Q282.8,145.3 282.9,145.8M250,105.8Q249.5,105.2 248.8,104.8M259,123.9Q259.8,124.7 260.2,125.7M252,147.4Q253.4,147.8 254.5,146.7M248.3,114.8Q248,114.8 247.7,114.6M294.1,154.7Q293,155.1 291.9,154.8M253.4,101.8Q253.3,101.1 253,100.4M241.1,146.5Q241.2,145.9 241.9,145.7M247.3,107.7Q246.3,108.4 245.2,108.8M270.9,108.5Q271.2,109 271.4,109.6M248.5,155.6Q248.9,156.5 249.8,156.7M263.7,123.6Q263.1,122.5 261.9,122M266.7,117.2Q265.8,117.2 265.2,117.9M267.7,156.9Q267.6,155.6 267.8,154.3M258.9,109.5Q258.4,110 258.2,110.8M246.1,115.1Q246.8,114.6 247.7,114.6M277.5,105.1Q277.1,105.4 276.6,105.2M237.9,121.4Q239.3,121.9 240.7,122.4M282.6,143.3Q283.1,143.4 283.4,143.8M279.2,145.8Q278.6,145.9 278.1,145.5M242.4,134Q242.6,133.3 242.6,132.6M261.8,136.6Q261.8,137.2 262,137.7M250.9,120.2Q250.1,120.9 250.1,121.9M248.4,114.7Q248.1,114.5 247.7,114.6M290.6,148.8Q290.9,148.3 291.1,147.8M267,147.7Q266.1,147.8 265.6,148.5M245.1,107.2Q246.1,108.1 247.3,107.7M237.7,106.6Q237.1,105.8 236.1,105.8M279.1,122.7Q278.4,122.7 278,122.2M252.2,138.5Q252.3,139.1 252.8,139.4M281.9,124.1Q281.8,123.9 281.6,123.8M240,112.1Q240.8,113 242,112.8M244.3,114.1Q243.4,114.3 242.6,114.5M273.4,148Q273.3,148.1 273.1,148.2M265.4,110.8Q266.3,111 267.3,111.1M283.9,152.2Q283.2,152.4 282.6,152M280.4,111.2Q280.8,111 280.7,110.6M249.6,98.2Q250.2,98.1 250.5,97.5M257.7,106.7Q257.1,106.5 256.4,106.7M240,112.1Q238.6,112.1 237.4,112.9M284.4,134.5Q284.1,134.9 283.9,135.3M289.4,135.5Q288.5,136.1 287.4,136M256.4,103Q256.9,102.7 257.5,102.7M266.8,135.6Q267.2,135.2 267.7,134.9M272.7,106.4Q272.4,106.2 272.1,106M268.1,125.4Q268,125.4 267.9,125.4M249.9,139.3Q250.1,139.7 250.2,140M256.6,100.5Q256.2,99.9 255.4,99.8M295.6,147.7Q294.6,146.2 292.8,145.9M251.4,104.7Q251.9,105.1 252.6,105.1M261.9,138.8Q262.5,138.7 262.9,139M251.4,116.8Q251.8,116.8 252.2,116.7M257.1,138.7Q256.7,139.1 256.4,139.7M259.7,104.2Q260.4,104.5 261,104.9M238,117.3Q237.4,118.1 236.4,118.5M245.5,150.5Q246,150.2 246.3,149.7M237.2,129.9Q237.3,129.8 237.2,129.7M257.3,144.7Q257,145.6 257.1,146.5M283.6,143.4Q284.1,143.3 284.5,143.6M270.7,149Q270.4,149.2 270.2,149.6M249.4,100.8Q250.1,100.2 250.8,99.9M244.9,128.6Q243.9,127.3 243.6,125.7M262.1,105.4Q261.7,105.1 261.6,104.7M262,137.7Q262.5,138.3 262.9,139M280.1,151.1Q279.5,151.5 279.4,152.2M238.1,135.4Q238.1,134.9 238.4,134.6M284.1,149.6Q283.4,150 283,150.5M287.1,144.6Q287.1,143.8 286.5,143.3M238,116.7Q238.8,116.7 239.5,116.2M247.1,142.7Q245.8,142.3 245.1,141M285,146.9Q285.6,147.7 286.1,148.5M243,112.2Q242.5,112.5 242,112.8M282.4,139.7Q283.2,140 283.7,140.7M241.6,137.2Q242.8,136.6 244,137.1M251.6,151.2Q251.5,151.5 251.3,151.7M263.6,144.5Q265.1,145.3 266.7,144.8M284.9,128.3Q285.8,128.6 286.8,128.9M241.4,136.8Q241,136.3 241.1,135.7M264.3,116.1Q264.6,117.4 265.6,118.1M271.5,149.6Q270.8,149.3 270.2,149.6M280.4,111.2Q281,111.4 281.6,111.3M240,117.9Q240.2,118.5 240.3,119.2M272.6,144.3Q272,143.7 272.2,142.8M257.1,138.7Q257.1,138.2 256.8,137.9M267,147.7Q266.3,146.3 266.7,144.8M274.5,154.2Q274.2,153.8 273.8,153.5M267,106.4Q267.1,107.1 266.7,107.7M287.2,156.4Q286.1,155.6 284.9,155.2M265.2,158.8Q264.7,158.2 264.5,157.5M254.3,109Q254.8,108.4 254.7,107.6M242.6,142Q241.8,142.6 240.9,142.6M290.2,155.8Q290.7,155.3 290.9,154.7M240.4,140Q240.2,140.6 239.5,140.9M279,147.3Q278.3,147.8 277.7,148.4" stroke="rgba(75,225,50,0.94)"/>
</g>
</g>
<g clip-path="url(#cp6)">
<rect x="300.5" y="97" width="66" height="66" fill="#020802" stroke="none" stroke-width="0.8"/>
<g filter="url(#blur3)">
<ellipse cx="342" cy="118" rx="24" ry="21" transform="rotate(-10 342 118)" fill="rgba(35,140,22,0.86)" stroke="none" stroke-width="0.8"/>
<ellipse cx="338" cy="148" rx="18" ry="16" transform="rotate(0 338 148)" fill="rgba(35,140,22,0.71)" stroke="none" stroke-width="0.8"/>
<ellipse cx="306" cy="104" rx="6" ry="7" transform="rotate(0 306 104)" fill="rgba(35,140,22,1.00)" stroke="none" stroke-width="0.8"/>
<ellipse cx="304" cy="152" rx="5" ry="10" transform="rotate(0 304 152)" fill="rgba(35,140,22,0.50)" stroke="none" stroke-width="0.8"/>
</g>
<ellipse cx="338" cy="148" rx="12.5" ry="13" transform="rotate(0 338 148)" fill="rgba(4,22,4,0.55)" stroke="none" stroke-width="0.8" filter="url(#blur06)"/>
<g fill="none" stroke-width="1.1" stroke-linecap="round" stroke-linejoin="round" filter="url(#blur03)">
<path d="M347.7,124.9Q348.2,125.1 348.5,125.6M350,111.5Q349.5,111.4 349.1,111.1M333.9,159.8Q334.3,160.6 334.1,161.5M339.9,162.2Q340.2,161.9 340.3,161.4M306.9,97.2Q306,97.2 305.6,97.8M331.4,108Q331.4,107.3 332,106.8M331.4,121.8Q331.7,120.9 331.3,120M325.8,148.9Q325.4,149 324.9,149M343.6,121.5Q343.4,122 342.8,122.1M306.9,148.7Q306.1,148.8 305.6,149.6M332.1,105.1Q331.4,105.2 330.8,105M307.5,100Q307.2,100 307,99.9M357.3,132.1Q356.7,132.7 355.9,133.2M332.4,106.1Q332.4,106.3 332.1,106.5M325.6,132Q326.4,132.2 327,131.6M351,142Q350.1,142.4 349.2,141.9M342.2,111.8Q341.9,112.1 342,112.6M307.7,108.1Q308.3,108.4 308.5,109M336.5,112.1Q336.3,113 336.8,113.8M355.1,127.2Q355.9,127.5 356.7,127.2M310.1,102.5Q309.4,103 308.8,103.5M305.7,145.2Q306.4,144.9 307.1,144.4M329.2,118Q329.7,117.4 329.5,116.7M302.6,152Q301.2,153.1 301.3,154.9M325.3,120.3Q324.5,120.8 323.9,121.4M353,127.9Q352.7,127.8 352.4,127.6M347.5,140Q348.1,140 348.5,139.7M303,144.7Q303.3,144.7 303.5,144.6M362.3,125.9Q362.2,126.1 361.9,126.1M338.8,103.9Q339.4,104.5 339.5,105.3M359.9,117.9Q359.5,117.6 359.1,117.3M321.7,153.4Q321.7,152.9 321.2,152.6M343.2,98.2Q343.2,99.2 342.5,99.9M337.7,128.7Q338.4,129.5 338.5,130.6M357.2,112.4Q356.9,112.6 356.7,112.8M327,156.5Q326.2,155.7 325.7,154.8M337.8,126.7Q337.8,127.4 338.3,127.8M337.8,133.1Q337.4,133.2 337.2,133.5M310.2,104.6Q310.8,105 311,105.7M364.5,121.3Q365.3,120.7 365.5,119.8M321.4,123.9Q320.5,124.2 319.7,124.7M337,120.3Q336.8,120.1 336.6,119.9M351.1,139.7Q351.3,139.9 351.6,140M330.2,101Q329.9,101.8 330,102.7M321.4,146.1Q321.7,146.9 321.2,147.5M338.4,124.4Q338,124.2 337.6,124.4M329.8,135.5Q329.6,136.4 329.4,137.2M348,101.9Q348.7,101.4 349.1,100.7M347.1,135.8Q347.4,135.3 347.1,134.8M339.4,115Q338.8,114.5 338.7,113.7M329.4,137.2Q328.5,136.9 327.6,136.8M351.9,137.9Q352.3,139.1 351.6,140M322.2,153.5Q322,153.7 321.6,153.9M304.9,145.8Q305.4,145.7 305.7,145.2M340.5,128.2Q340,127.8 339.4,127.9M351.2,102.9Q351.1,102.7 351.2,102.6M337.2,133.5Q336.3,133.2 335.8,132.4M343.8,100.6Q343.3,100.9 342.7,100.8M351.4,153.8Q350.9,153.9 350.6,154.3M336.8,126.2Q336.8,125.8 337.2,125.5M321.3,145.6Q321.1,146.6 321.2,147.5M335.4,162.7Q334.7,162.4 334.7,161.7M304.9,110.5Q305.7,109.7 306.8,109.8M348.8,135.5Q348.3,135.9 347.8,136.3M329.7,108.2Q330.5,108.5 331.4,108M319.7,124.7Q320.8,124.9 321.6,125.6M348.4,157.4Q348.9,157.7 349,158.3M331.8,161.8Q332,162 332.2,162.2M353.3,141.7Q353.3,141.5 353.2,141.5M305.1,156.8Q304.9,156.5 304.6,156.3M330.2,131.8Q330.1,132 330.1,132.3M331.3,120Q332,119.9 332.6,120.2M311.3,103Q311.5,103.4 311.9,103.8M353.3,141.7Q354.1,142 354.7,142.6M324.8,140.4Q325,141 324.8,141.6M348,101.9Q348.4,102.5 348.7,103.2M347.1,135.8Q347.3,136.2 347.8,136.3M303.9,145.1Q304,145.3 304.3,145.2M361.2,110.8Q361.6,111.1 362.1,111.4M350.1,125.5Q349.3,125.1 348.5,125.6M303.2,102Q303.7,101.5 304,100.9M350,111.5Q349.6,111.5 349.2,111.7M360.7,125.6Q360.2,125 359.5,124.5M348.8,135.5Q348.9,135.1 348.9,134.7M343.2,98.2Q342.5,98.6 341.8,99M322.2,122.6Q321.6,122.1 321.4,121.3M356.7,108.4Q356.4,108.7 356.3,109M346.1,111.4Q345.9,112.6 346.3,113.8M356.1,107.2Q355.2,106.6 354.8,105.7M361.6,106.9Q361.2,107 360.8,106.8M327.4,124.8Q327.3,124.5 327.4,124.2M337.3,134.1Q337.4,134.1 337.6,134.1M329.6,134.9Q329.7,135 329.9,135.2M303.3,157.8Q304.1,157.1 305.1,156.8M331.8,161.8Q332.4,161.7 332.9,161.3M333.7,126.9Q334,126 334.6,125.3M322.8,110.7Q323.7,110.3 324.7,110.4M341.7,119.7Q340.9,119.7 340.3,119.1M323.4,114.3Q323.1,113.6 323.3,112.8M345.5,121.5Q345.4,122.3 346,122.8M334.3,133Q335,132.6 335.8,132.4M324.5,158.3Q324.3,157.7 324.7,157.2M336.4,160.8Q336.8,161.6 337.5,161.9M334.3,133Q333.9,132.9 333.4,132.9M338.5,133.6Q338.6,132.9 339.1,132.4M352.4,127.6Q352.1,126.3 350.9,125.8M325.6,127.6Q325.8,127.9 325.8,128.3M360.4,123.5Q361.1,123.3 361.7,123.1M331.4,161.4Q331.6,161.2 331.5,160.9M343.3,135.8Q343.6,135.9 343.8,136.2M306.2,154Q306.6,153.6 307.2,153.5M357,129.9Q356.6,130 356.3,129.8M326.9,122.6Q326.7,122.9 326.3,123M348.2,137.8Q348.4,137.6 348.6,137.6M334.3,129.2Q334.5,129.2 334.6,129M346.9,135.4Q346.8,135 347.1,134.8M329.5,129.7Q329.4,129.4 329.4,129M304.7,108Q304.2,107.5 304.3,106.8M351.2,102.6Q351.8,103.1 352,103.8M331.3,120Q331.2,119.3 330.5,119M351.6,142.5Q351.3,142.3 351,142M320.7,117.6Q320.2,116.7 319.5,115.9M347.4,125.7Q347.4,125.4 347.4,125.2M345.5,136.1Q345.5,135.7 345.4,135.2M353.5,153.6Q354,153.6 354.5,153.4M330.5,119Q329.9,118.5 329.2,118M348.7,103.9Q348.6,103.5 348.7,103.2M329.7,108.2Q330.3,107.4 330.6,106.4M322.6,146.2Q322,146.2 321.4,146.1M329.5,129.7Q328.9,129.9 328.4,129.4M326.1,116.8Q325.2,117.2 325,118.2M346.4,103.7Q346.6,103.2 346.3,102.8M338.3,111.1Q338.2,110.9 338.3,110.8M344.1,120.2Q343.9,120.9 343.6,121.5M300.6,105.6Q301.2,106.1 301.4,106.8M306.2,150Q306.1,151 305.8,151.8M345.7,107.6Q346.8,107.5 347.4,108.3M339.9,125.8Q339.1,126.5 339,127.6M325.5,130Q325.9,130 326.3,130.1M359.4,129.8Q359.2,129.6 359.1,129.3" stroke="rgba(75,225,50,0.56)"/>
<path d="M346,98.2Q346.6,98.3 347,98.7M306.5,101.3Q306.5,101.8 306,102M327.4,155.4Q326.5,154.9 326.3,154M356.7,127.2Q356.1,126.6 355.9,125.7M355.9,118.8Q356.5,119.2 356.8,119.9M337.7,128.7Q337.5,128.6 337.2,128.7M337.9,115.3Q338.1,115.2 338.4,115.3M339,134.2Q338.6,134.1 338.5,133.6M337.6,122.5Q336.9,121.9 336.1,121.7M355.4,150.1Q355.1,149.7 354.7,149.4M323.3,148.1Q324.1,147.7 324.8,148.1M336.4,111.1Q336.4,111.1 336.3,111.1M306.1,158.1Q306.2,157.7 306.1,157.2M354.4,112.8Q353.7,112.4 353.2,111.7M332.1,106.5Q332.1,106.7 332,106.8M323.1,130.1Q322.8,130 322.4,129.9M332.1,105.1Q332.3,105.2 332.6,105.3M310.4,99.5Q310.1,99.7 309.7,99.9M361.9,126.1Q362.5,127.1 362.1,128.2M333.4,103.7Q333.6,103.9 333.5,104.2M343.8,108.1Q344.6,108.2 345.2,107.8M355.4,120.9Q355.1,120.6 354.7,120.8M360.3,113.2Q360.9,112 362.1,111.4M355.8,108.7Q355.6,109 355.8,109.3M339.6,134.3Q339.3,134.3 339,134.2M338.3,128Q338.3,127.9 338.3,127.8M342.1,122Q342.4,122 342.8,122.1M329.4,137.2Q329.9,137 330.3,136.8M325.5,128Q325.1,127.3 325.2,126.5M324,114.9Q323.3,114.8 322.7,114.4M359.8,120.9Q360.1,120.2 360.7,119.9M343.1,115.9Q343.4,115.9 343.6,115.9M321.6,113.9Q321.4,114.2 321.5,114.6M352.9,101Q352.1,100.1 350.9,100.2M322.2,153.5Q322,153.5 321.7,153.4M304.3,106.8Q304.2,106.1 303.7,105.7M331.6,135.1Q331,136.1 331.4,137.1M331.4,161.4Q331.6,162 332.2,162.2M343.3,103.3Q343.6,103.7 343.9,104.1M348,101.9Q347.6,101.6 347.1,101.8M358.3,128.3Q358.3,128.7 358.6,128.9M352.2,129.5Q352.4,128.6 352.4,127.6M336.4,160.8Q335.5,161.1 334.7,161.7M355.6,117.3Q355.8,117 356.2,116.7M345.7,98.2Q344.9,98.7 344.6,99.6M305.7,145.2Q305,145.5 304.3,145.2M345.5,136.1Q345.3,135.7 345.5,135.3M323.3,128.2Q323.3,129.2 323.1,130.1M322,144.9Q321.8,143.8 322.5,142.9M310.2,104.6Q309.8,104.6 309.4,104.4M361.7,120.1Q361.3,119.6 360.7,119.9M323.6,152.6Q324.1,153.2 324.7,153.5M358,114.5Q357.5,113.7 356.7,113.2M342.3,123.4Q342.3,122.6 342.8,122.1M306.9,148.7Q306.6,148.4 306.6,147.8M336.3,163.9Q336.4,162.6 337.5,161.9M325.5,128Q325.7,128.1 325.8,128.3M359.8,108.1Q359.7,108.3 359.7,108.5M305.7,102.5Q306,102.4 306,102M325.9,111.7Q326.3,111.1 326.3,110.4M332,106.8Q331.2,106.9 330.6,106.4M334.4,113.8Q334.4,113.3 334.7,112.9M351.1,148.7Q351.6,149.4 351.2,150.3M349,158.3Q349.8,158.2 350.7,158.4M331.7,121.6Q332.5,122.7 333.2,123.9M346.1,132.6Q346.5,132.2 346.4,131.6M360.7,125.6Q360.9,125.6 360.9,125.4M309.4,104.4Q310,105.2 311,105.7M321.8,150.9Q321.5,151.8 321.2,152.6M351.9,144.4Q351.3,144.8 351.2,145.6M355.4,120.9Q355.8,121.3 356,121.9M345.2,119.1Q346.2,119.4 347.2,119.7M327.7,121.7Q328.4,122.2 329.3,122M352.9,142.5Q353,142 353.3,141.7M334.3,129.2Q333.7,129.5 333.6,130.1M339.4,127.9Q338.9,127.9 338.3,128M302.6,99.4Q302,100.3 301,101M338.4,115.3Q338.9,115.3 339.4,115M338.4,115.3Q338.2,115.5 337.8,115.6M346.9,135.4Q346.9,135.7 347.1,135.8M337.7,128.7Q337.3,129 336.9,128.8M341.9,116.7Q342.1,117.1 341.9,117.5M348.5,125.6Q348.4,126 348,126.4M325.6,132Q325.8,132.4 325.9,132.9M325.8,148.9Q325.5,148.3 324.8,148.1M346.3,127.8Q347.4,127.3 348,126.4M300.8,147.6Q300,148.7 300.2,150.1M320.7,114.3Q321.1,114.4 321.5,114.6M322.2,122.6Q322.3,122.4 322.3,122.1M350.9,122.5Q350.9,122.3 351,122.2M354.4,129.9Q355.3,130.3 356.3,129.8M324,114.9Q323.8,114.5 323.4,114.3M344.2,105.2Q344,104.7 343.9,104.1M342.6,114Q342.1,113.4 342,112.6M307.5,100Q307.5,99.4 307.9,98.9M327.6,104.9Q326.9,104.4 326.2,104.5M321.4,121.3Q320.9,121.9 320.1,122.2M344.1,120.2Q344.7,119.7 345.2,119.1M334.3,116.6Q334.2,116.7 334.1,116.7M328,116.8Q328.8,116.7 329.5,116.7M332.6,105.3Q333.2,105.2 333.7,105.7M301.3,102.9Q300.8,102 301,101M325.5,130.1Q325.5,130 325.5,130M353.2,121.9Q353.8,121.8 354.3,121.6M346.3,102.8Q346.5,102.7 346.6,102.7M325.5,130.1Q325.3,130.2 325.1,130.1M359.4,129.8Q359.5,129.8 359.6,129.7M352.2,129.5Q351.8,129.4 351.5,129.7M310.1,102.5Q310.7,102.6 311.3,103M345.7,107.6Q345.7,108.3 345.2,108.8M325.4,115.8Q326,116.1 326.1,116.8M356,121.9Q356.7,122.1 357.3,121.7M325.3,147.2Q325,147.6 324.8,148.1M349.8,153.7Q350.3,153.8 350.6,154.3M341.1,106.6Q340.1,106.3 339.5,105.3M341.1,106.6Q341.8,106.8 342.3,107.3M302.6,152Q303.5,151.8 304,150.9M347.4,118.4Q346.9,119 347.2,119.7M365.2,119.1Q365.5,119.4 365.5,119.8M355.4,117.4Q355.5,117.4 355.6,117.3M352,119.1Q351.7,119 351.3,119M342.5,160.7Q342.8,160.6 343.1,160.7M325.3,147.3Q325.3,147.3 325.3,147.2M332,129.4Q331.7,129.5 331.5,129.7M328.9,111.4Q329.8,111.2 330.5,111.8M325.5,128Q325.5,127.8 325.6,127.6M310.4,99.5Q310.2,99.5 310.1,99.7M321.4,121.3Q321.9,121.6 322.3,122.1M319.7,124.7Q319.6,124.2 319.2,124M329,132.7Q329.2,133.4 328.8,133.9M334.3,129.8Q334,130.2 333.6,130.1M348.9,114Q349.2,115 349.8,115.9M342.1,117.8Q342.6,117.9 342.8,118.4M305.6,149.6Q305.6,148.5 306.6,147.8M323.4,114.3Q323.1,114.5 322.7,114.4M324.1,147.4Q324.3,147.8 324.8,148.1M338.3,127.8Q338.6,127.6 339,127.6M323.1,155.9Q323.4,156.5 323.8,157.1M346,98.2Q345.9,97.8 345.5,97.5M323.1,130.1Q322.5,130.1 322.1,129.8M350.3,103.3Q350.7,103.1 351.2,102.9M333.1,117.9Q333.4,117.7 333.6,117.5M345,124.9Q345.9,125.1 346.8,125.3M352.9,101Q353.6,101.2 354.3,101.5M335.3,119Q335.6,119 335.9,119.3M350.1,150.9Q350,151.4 350.1,151.9M346.3,127.8Q345.5,127.3 344.5,127.6M304.5,153.2Q305.5,152.8 305.8,151.8M336.4,117.9Q336.1,118.6 335.9,119.3M355.4,150.1Q355.3,150 355.1,149.9M325.6,131.2Q325.7,130.7 325.5,130.1M330.1,132.3Q330.6,132.7 330.7,133.4M335.8,124.9Q335.1,124.9 334.6,125.3M330.5,135Q330.1,135 329.9,135.2M359.7,108.5Q360,108.6 360.4,108.5M349.1,98.5Q349,98.5 348.9,98.5M309,100.3Q309.6,100.1 310.1,99.7M335.1,106.5Q336.3,106.5 337.3,105.8M325.2,108.2Q325.5,108.1 325.8,108.3M348.4,120.2Q347.8,120.1 347.2,119.7M346,98.2Q345.9,98.3 345.7,98.2M329.3,125.9Q328.9,126 328.6,126.1M323.7,118.8Q324.1,119.1 324.4,119.5M336.8,126.2Q337.3,126.5 337.8,126.7M347.4,99.5Q347.9,98.6 348.9,98.5M344,159.9Q344.7,159.7 345.4,159.4M361.2,110.8Q361.7,112 360.9,113.1M324.4,119.5Q325,119.7 325.3,120.3M337.2,133.5Q337.4,133.8 337.6,134.1M331.6,135.1Q332.3,135 332.9,135.6M355.6,117.3Q354.8,117.4 354,117.3M329.6,134.9Q329.7,135.1 329.8,135.5M304.4,99.8Q304.2,100.3 304,100.9M353.5,101.4Q353.2,101.2 352.9,101M334.1,161.5Q334.4,161.7 334.7,161.7M345.3,133.6Q345.7,133 346.1,132.6M361.4,116.5Q362.4,116.1 363.5,116.3M304.9,145.8Q304.5,145.6 304.3,145.2M327.3,122.6Q327.1,122.6 326.9,122.6M342.2,111.8Q342.1,110.8 341.6,110M303.8,160.4Q303.2,160.8 302.4,161M350.7,108.5Q350.6,108 350.8,107.6M359.9,122.3Q360,123 360.4,123.5M324.8,141.6Q324.8,140.9 324.1,140.5M359.8,120.9Q359.4,121 359.1,121.1M322.4,129.9Q323.1,129.4 323.1,128.6M350.6,154.3Q350.9,155 351.5,155.6M326.3,110.4Q325.5,110 324.7,110.4M342.1,117.8Q342,117.7 341.9,117.5M325.5,130.1Q325.9,129.9 326.3,130.1M306.2,150Q305.9,149.8 305.6,149.6M340.5,122.3Q339.8,122 339.2,121.5M321.3,145.6Q322,145.7 322.6,146.2M345.3,133.6Q344.8,133.2 344.1,133.4M343.9,127.2Q344.2,127.4 344.5,127.6M361.4,116.5Q360.9,117.5 359.9,117.9M327.6,104.9Q326.9,104.3 326.9,103.3M359.2,119.7Q359.2,120 359.3,120.3M359.1,104.3Q357.6,104.3 356.7,105.5M359.3,120.3Q359.7,120.4 359.8,120.9M306.8,104.3Q307,104.6 306.8,104.9M351.9,144.4Q351.7,145.2 350.8,145.6M360,127.2Q359.9,127.8 360,128.5M325.3,147.2Q324.8,146.7 324.9,145.9M301.9,149.7Q303,149.6 304.1,149.7M303.9,145.1Q303.7,144.9 303.5,144.6M360.4,121.9Q359.8,121.5 359.8,120.9M320.7,117.6Q321.3,118.5 322.3,118.6M348.5,127.3Q348.1,126.9 348,126.4M325.7,154.8Q326,154.4 326.3,154M335.8,124.9Q336.5,125.2 337.2,125.5M306,97.3Q305.8,97.6 305.6,97.8M346,122.8Q345.7,122.9 345.3,122.7M359.8,120.9Q360.6,120.1 361.7,120.1M355.2,130.2Q355.7,129.9 356.3,129.8M359.1,129.3Q359.6,128.9 360,128.5M330.2,101Q331.5,101.4 332.4,102.4M325.9,109.1Q326,108.7 325.8,108.3M340.3,133.1Q340.4,133.1 340.4,132.9M354.7,149.4Q354,149.4 353.7,148.8M308.7,103.5Q308.7,103.5 308.8,103.5M327.4,124.2Q327.5,124.4 327.5,124.6M339.1,108.6Q338.9,109.8 338.3,110.8M363.9,110.3Q364.3,111.6 365.2,112.5M350.6,129.6Q350,130 349.7,130.7" stroke="rgba(75,225,50,0.69)"/>
<path d="M306.8,104.9Q306.7,103.9 305.9,103.3M339.9,162.2Q338.6,162.7 337.5,161.9M364,125.3Q363,125.7 361.9,126.1M304,100.9Q303.8,99.7 302.6,99.4M328.7,104.1Q329.8,103.8 330,102.7M350.6,129.6Q351.1,129.4 351.5,129.7M355,145.4Q354.6,145.2 354.5,144.7M308.7,103.5Q309.1,103.9 309.4,104.4M364,125.3Q363,125.1 362.3,125.9M334.8,130.3Q334.6,130 334.3,129.8M330.7,128.9Q331.1,129.3 331.5,129.7M332.2,162.2Q332.6,161.8 332.9,161.3M339.5,135Q339.9,135.1 340.3,135.1M325.7,122.4Q325.6,122.4 325.5,122.3M343.8,100.6Q344.3,100.2 344.6,99.6M333.3,110.8Q333.2,111.5 332.6,112M306.8,109.8Q306.9,108.8 307.7,108.1M363.3,113.6Q363.1,114.3 362.5,114.7M333.1,117.9Q333.5,118.3 333.8,118.9M304,150.9Q304,150.3 304.1,149.7M354.4,112.8Q354.3,112.7 354.2,112.6M325.8,148.9Q326,149.9 326.1,150.9M343.8,108.1Q343.2,107.4 342.3,107.3M351.4,153.8Q351.9,154.7 351.5,155.6M361.6,106.9Q361.4,106.8 361.2,106.9M328.3,122.2Q328.7,121.8 329.3,122M321.3,144.1Q321.4,144.8 321.3,145.6M325.2,108.2Q325.4,108.8 325.9,109.1M329.4,129Q329,129.3 328.4,129.4M353.9,125.2Q353.5,125.4 353.3,125.7M338.5,130.6Q339.4,131.3 339.1,132.4M329,132.7Q329.6,132.7 330.1,132.3M306.8,104.3Q306.6,103.6 305.9,103.3M334.7,112.9Q334.5,112.3 334.7,111.8M348.9,134.7Q348,134.5 347.1,134.8M354.9,123.4Q354.3,122.6 354.3,121.6M306.8,109.8Q307.5,109.2 308.5,109M347.2,112.6Q346.6,113.1 346.3,113.8M340.8,132.5Q340.7,132.7 340.4,132.9M345.2,108.8Q345.5,108.3 345.2,107.8M343.2,135.5Q343.3,135.5 343.3,135.4M355.4,117.4Q354.7,117.4 354,117.3M360.3,113.2Q360.7,113.3 360.9,113.1M356.7,113.2Q356.7,113 356.7,112.8M346.8,125.3Q347.1,125.1 347.4,125.2M354.5,146.7Q354.3,146.6 354.2,146.6M345.4,135.2Q345.5,135.2 345.5,135.3M329.4,129Q329.9,129.5 329.8,130.1M355,149Q355,149.3 354.7,149.4M352.4,105.9Q353.2,105.6 353.9,105.3M323.7,118.8Q323,118.7 322.3,118.6M304.7,155.2Q303,155.4 301.3,154.9M346.3,157.1Q345.3,158 345.4,159.4M340,113.9Q339.4,113.4 338.7,113.7M360.7,125.6Q361.1,125.8 361.5,125.9M350.1,150.9Q350.9,149.9 351.1,148.7M329.7,108.2Q328.4,108 327.9,106.8M320.2,112.5Q319.9,113.1 319.4,113.5M342.5,99.9Q342.5,100.4 342.7,100.8M351.2,102.9Q351.8,102.8 352.2,102.3M338.8,103.9Q337.9,103.5 337.5,102.6M351.5,134.4Q350.2,135.1 348.9,134.7M351.7,119.9Q351.6,119.5 351.3,119M364.5,121.3Q365.3,120.4 365.2,119.1M363.3,113.6Q363,113.9 362.9,114.2M352.2,102.3Q351.8,102.5 351.2,102.6M345.5,121.5Q345.3,122.1 345.3,122.7M359.2,119.7Q358.9,119.9 358.7,120.3M331.4,137.1Q331,136.6 330.3,136.8M336.4,111.1Q336.3,111.6 336.5,112.1M329.5,129.7Q329.7,129.9 329.8,130.1M343.3,135.8Q343.2,135.6 343.2,135.5M355.2,130.2Q356.1,130.2 357,129.9M342.3,123.4Q342.1,122.7 342.1,122M356.1,107.2Q356.4,106.3 356.7,105.5M347.7,117Q348.4,116.9 348.7,116.2M340.8,97.2Q340.6,97.9 340.8,98.5M327.3,141.3Q326,140.9 324.8,141.6M328.9,111.4Q328.8,112.6 328.6,113.8M342.5,99.9Q342,99.5 341.8,99M306.1,102.6Q306,102.9 305.9,103.3M347.4,118.4Q347.6,117.7 347.7,117M360.8,106.8Q361,107 361.2,106.9M348.4,157.4Q347.3,157.6 346.3,157.1M322,149.5Q322,150.2 321.8,150.9M344,159.9Q343.4,160.1 343.1,160.7M321.3,144.1Q321.5,143.1 322.5,142.9M351.3,117.7Q350.6,118.2 349.7,118.3M350,111.5Q351.2,112 351.5,113.2M325.8,141.1Q325.3,140.8 324.8,140.4M300.6,105.6Q300.9,104.5 300.3,103.5M337.5,102.6Q336.9,101.7 335.8,101.6M351,142Q351.3,141 351.6,140M348,138Q348.1,139.1 347.5,140M355.2,130.2Q354.8,130.2 354.4,129.9M354.4,133.7Q352.8,133.5 351.5,134.4M348.7,103.9Q348,103.9 347.3,103.9M332.9,135.6Q332,136.2 331.4,137.1M324.2,105.1Q325.2,104.8 326.2,104.5M331.6,129.2Q331.6,129.4 331.5,129.7M301.9,149.7Q301.1,150.2 300.2,150.1M338.5,133.6Q338.2,133.2 337.8,133.1M342.5,160.7Q343.1,160.1 344,159.9M331.6,129.2Q331.7,128.7 332,128.5M332,129.4Q331.8,128.9 332,128.5M342.7,129.6Q343.7,129.8 344.7,129.5M306.1,158.1Q305.9,158.2 305.8,158M334.3,129.8Q334.2,129.5 334.3,129.2M325.6,132Q325.3,132.1 325.2,132.4M358.4,131.3Q357.7,131.5 357.3,132.1M303.2,102Q302.3,102.7 301.3,102.9M334.7,112.9Q334.4,113.8 334.9,114.5M351.3,119Q351.6,118.6 351.5,118.1M326.3,110.4Q326.9,110.7 327,111.2M351.1,139.7Q351.7,138.9 351.9,137.9M347.4,99.5Q347.1,99.2 347,98.7M320.7,114.3Q321.1,114.1 321.6,113.9M303.7,142.7Q303.3,143.6 303.5,144.6M347.3,160.6Q346,160.5 345.4,159.4M351.5,113.2Q352.3,112.4 353.2,111.7M331.7,121.6Q331.6,121.7 331.4,121.8M328.9,111.4Q328,111.1 327,111.2M324.9,149Q324.8,148.5 324.8,148.1M321.3,145.6Q321.5,145.8 321.4,146.1M340,125.7Q339.9,125.7 339.9,125.8M324.1,117Q324.7,117.5 325,118.2M336.1,135.3Q336.4,135.3 336.6,135.2M337.5,161.9Q336.4,162.4 335.4,162.7M354.9,123.4Q355.5,122.6 356,121.9M325.3,147.3Q325.2,147.9 324.8,148.1M325.9,109.1Q325.6,109.4 325.1,109.6M332.1,131.4Q331.5,130.6 331.5,129.7M359.9,122.3Q360.1,122 360.4,121.9M363.7,109.5Q363.3,110.9 362.1,111.4M322.2,122.6Q322.6,123.2 323.3,123.5M336.5,99.1Q336.9,98.6 337.1,98M324.8,140.4Q324.5,140.5 324.1,140.5M353.9,125.2Q354.8,125.7 355.9,125.7M339.6,134.3Q339.3,134.6 339.5,135M340,125.7Q339.4,124.8 338.4,124.4M330.5,135Q331,134.9 331.6,135.1M348.3,131.9Q349.1,131.4 349.7,130.7M331.7,121.6Q332,120.8 332.6,120.2M348.3,131.9Q347.4,131.4 346.4,131.6M343.7,134.4Q343.4,134.3 343.2,134.1M327.6,104.9Q328.1,104.5 328.7,104.1M331.2,159.4Q332,159.1 332.8,159.4M345.7,107.6Q345.5,107.8 345.2,107.8M325.7,122.4Q326,122.7 326.3,123M327,156.5Q327.1,155.9 327.4,155.4M350.5,106.5Q350.6,107.5 350.7,108.5M357.4,120.6Q357.1,120.2 356.8,119.9M328.6,126.1Q328.3,125.2 327.4,124.8M349.9,151.9Q350.1,151.5 350.1,150.9M334.6,125.3Q334.3,124.3 333.2,123.9M342.9,104.4Q343.5,104.4 343.9,104.1M323.6,152.6Q323,153.1 322.2,153.5M348,138Q348.2,137.7 348.6,137.6M327.4,129.9Q326.9,129.8 326.3,130.1M335.2,108.9Q335.4,107.7 335.1,106.5M363.5,116.3Q363.8,117.1 363.4,117.7M334.8,130.3Q334.5,129.8 334.3,129.2M337.6,122.5Q337.6,123.1 337.6,123.6M355.5,103.1Q355.3,102.3 355.7,101.6M356.6,111.9Q357,112.1 357.2,112.4M353.3,145.4Q353.9,145.9 354.2,146.6M333.4,103.7Q333.2,102.8 332.4,102.4M361.6,122.6Q361.7,122.9 361.7,123.1M327.4,124.8Q327.4,124.7 327.5,124.6M355.1,127.2Q355.1,126.2 355.9,125.7M340.8,111.1Q341.4,110.7 341.6,110M351,122.2Q350.5,121.2 350.5,120.2M360.7,125.6Q360.2,126.3 360,127.2M343.8,108.1Q344.5,108.4 345.2,108.8M336.4,98.6Q336.9,99.1 337.6,99.6M351.4,153.8Q353,153.9 354.5,153.4M331.8,161.8Q331.5,162.4 330.8,162.5M362.3,125.9Q361.9,125.9 361.5,125.9M359.3,120.3Q359.3,120.7 359.1,121.1M343.9,127.2Q342.9,127.1 342.2,126.6M305.7,102.5Q305.5,103 305.9,103.3M358,114.5Q357.5,113.5 356.7,112.8M350.1,125.5Q350.4,125.9 350.9,125.8M321.3,145.6Q321.7,145.3 322,144.9M355.8,108.7Q356.2,108.4 356.7,108.4M333.9,159.8Q333.4,159.6 332.8,159.4M323.7,118.8Q324.4,118.5 325,118.2M332.4,106.1Q333.2,106.1 333.7,105.7M348.9,114Q348.8,113.7 348.7,113.5M321.6,113.9Q321.8,113 321.4,112.2M325.6,131.2Q326.3,131.3 327,131.6M334.3,129.8Q334.3,129.3 334.6,129M333.3,110.8Q333.7,110.5 334.1,110.6M354.7,120.8Q354.4,121.2 354.3,121.6M310.2,104.6Q309.7,104.8 309.1,104.7M326.7,128.2Q326.3,128.4 325.8,128.3M343.1,115.9Q342.6,115 342.6,114M305.8,151.8Q307,152.2 307.2,153.5M347.4,125.7Q347.6,126.1 348,126.4M359.3,120.3Q359,120.1 358.7,120.3M349.1,111.1Q349,111.4 349.2,111.7M349.7,118.3Q349.6,118.7 349.2,118.9M321.2,152.6Q321.6,153.2 321.6,153.9M342.1,122Q341.7,122.2 341.4,122M359.8,108.1Q360.2,108.2 360.4,108.5M324.3,138.2Q325,139.2 324.8,140.4M349.8,153.7Q350.6,153.7 351.4,153.8M347.2,112.6Q348.1,112.8 348.7,113.5M340.8,98.5Q341.3,98.8 341.8,99M352.8,107.8Q351.8,107.9 350.8,107.6M352.9,142.5Q353,141.9 353.2,141.5M304.5,153.2Q303.6,152.6 302.6,152M338.4,124.4Q337.8,124.1 337.6,123.6M355.4,117.4Q355.7,116.9 356.2,116.7M332.4,106.1Q332.4,106.6 332,106.8M356.2,101Q356,101.3 355.7,101.6M347.3,160.6Q347,160.3 346.8,160" stroke="rgba(75,225,50,0.81)"/>
<path d="M329.9,124.3Q329.7,125.5 328.6,126.1M335.3,119Q335.7,118.3 336.4,117.9M337.2,128.7Q337.1,128.8 336.9,128.8M362.9,114.2Q362.6,114.3 362.5,114.7M360.9,125.4Q361.3,125.5 361.5,125.9M302.3,147Q302.9,146 302.7,144.8M333.4,132.9Q333.7,133.2 333.7,133.6M304,100.9Q304.3,100.5 304.6,100.2M353.2,121.9Q353.3,121.2 353.4,120.6M307,99.9Q307.5,99.5 307.9,98.9M344,131.9Q344.4,132.6 344.1,133.4M333.6,117.8Q333.6,117.7 333.6,117.5M339.2,121.5Q338.7,121.5 338.3,121.7M348.8,135.5Q349.9,135.8 350.9,135.5M302.3,160.4Q302.5,160.6 302.4,161M341.8,120.1Q340.9,119.9 340.3,119.1M328.8,133.9Q328,134 327.3,134.4M340.5,128.2Q341.5,128.2 342,127.3M358.2,122.2Q357.6,122.2 357.3,121.7M324.9,149Q325.6,149.9 326.1,150.9M323.3,128.2Q323.1,128.3 323.1,128.6M350.1,150.9Q350.6,150.5 351.2,150.3M333.4,103.7Q333.8,103.8 334,104.2M321.4,123.9Q322,124.7 321.6,125.6M359.6,129.7Q359.3,129.6 359.1,129.3M331.4,161.4Q331.6,161.6 331.8,161.8M348.1,101.4Q348.4,100.8 349.1,100.7M344,136.7Q344,136.4 343.8,136.2M337.6,124.4Q337.7,124 337.6,123.6M339.4,127.9Q339.2,127.7 339,127.6M346.6,102.7Q347.1,102.4 347.1,101.8M357.3,132.1Q357.3,132.6 357.8,132.9M347.7,124.9Q347.6,125.3 347.4,125.7M358.8,116.8Q358.9,117.1 359.1,117.3M342,127.3Q342.2,127 342.2,126.6M353.3,145.4Q354,145.3 354.5,144.7M331.8,161.8Q331.9,161.3 331.5,160.9M321.4,123.9Q321.6,123.1 322.2,122.6M351.5,134.4Q351.2,135 350.9,135.5M342.7,130Q342.8,130.5 343,131.1M336.1,135.3Q335.5,134.8 334.8,134.8M340.3,133.1Q339.7,132.7 339.1,132.4M333.5,104.2Q333.8,104.1 334,104.2M324.7,110.4Q325.1,110.1 325.1,109.6M347.4,125.7Q347.1,125.5 346.8,125.3M326.9,103.3Q326.7,104.1 326.2,104.5M340.3,133.1Q340.7,132.9 340.8,132.5M334.4,101.1Q335,101.4 335.8,101.6M309,100.3Q309.3,100 309.7,99.9M322.6,146.2Q323.6,145.4 324.6,144.6M364.3,118.4Q363.9,118.1 363.4,117.7M325.7,154.8Q325,154.4 324.7,153.5M342.2,111.8Q341.3,111.8 340.8,111.1M345,124.9Q344.9,125.5 344.4,125.7M330.8,105Q331,105.7 330.6,106.4M322.1,129.8Q322.2,129.9 322.4,129.9M344,136.7Q343.7,136.1 343.3,135.8M336.4,111.1Q337.4,111.2 338.3,110.8M344,131.9Q343.7,131.2 343,131.1M343.2,134.1Q343.5,133.5 344.1,133.4M354.2,112.6Q354,111.9 353.2,111.7M338.3,111.1Q337.3,111.5 336.4,111.1M320.2,112.5Q320.7,112 321.4,112.2M336.5,99.1Q337,99.3 337.6,99.6M325.4,115.8Q325,116.6 324.1,117M304.4,99.8Q303.4,100.1 302.6,99.4M322.8,110.7Q322.8,109.9 322.5,109.2M335.2,101.9Q335.4,101.6 335.8,101.6M306.1,101.1Q306.3,101.3 306.5,101.3M310.2,104.6Q311.1,104.4 311.9,103.8M341.8,120.1Q341.7,119.9 341.7,119.7M328.4,160.4Q329,159.6 328.7,158.6M321.3,144.1Q321.8,144.3 322,144.9M320,122.1Q320,122.2 320.1,122.2M305.8,158Q305.8,157.5 306.1,157.2M333.7,162.4Q333.7,161.9 334.1,161.5M303,144.7Q302.8,144.7 302.7,144.8M325.4,115.8Q324.6,115.4 324,114.9M333.8,118.9Q333.4,118.4 333.6,117.8M358.2,122.2Q358.4,121.5 359.1,121.1M336.1,121.7Q336.8,121.2 337,120.3M324.2,122.5Q323.6,122.8 323.3,123.5M325.2,126.5Q325.6,127 325.6,127.6M304.7,108Q303.5,108.6 303.3,109.9M351.3,117.7Q351.4,117.9 351.5,118.1M355.8,108.7Q356.1,108.7 356.3,109M358.4,131.3Q358.5,132.2 357.8,132.9M344.7,111.7Q343.5,112 342.2,111.8M360.9,113.1Q361.6,112.3 362.1,111.4M343.3,135.8Q343.3,135.6 343.3,135.4M340.5,128.2Q339.7,128 339,127.6M333.7,162.4Q334.1,161.9 334.7,161.7M354.5,146.7Q354.8,147 354.7,147.5M328.4,160.4Q327.8,160.1 327.1,160.2M305.2,160.8Q305.4,161 305.6,161.3M322,149.5Q323.1,149.2 323.3,148.1M302.3,160.4Q302,159.4 301.3,158.6M336.3,111.1Q336.4,111.6 336.5,112.1M300.8,147.6Q301.4,147 302.3,147M332.1,105.1Q332,105.7 332.4,106.1M348.4,107.4Q347.7,107.7 347.4,108.3M304.7,155.2Q304.7,155.7 304.6,156.3M302.1,107.6Q301.6,107.4 301.4,106.8M334.1,110.6Q334.5,111.2 334.7,111.8M328.3,122.2Q327.8,122.1 327.7,121.7M353.5,101.4Q353.9,101.5 354.3,101.5M303.8,160.4Q304.7,160.9 305.6,161.3M301.9,149.7Q301.9,148.4 300.8,147.6M340.5,122.3Q341.3,122.1 342.1,122M300.6,105.6Q301.6,105.7 302.3,105M334.1,110.6Q334.4,109.6 335.2,108.9M343.9,127.2Q343.8,126.3 344.4,125.7M354.4,112.8Q354.9,112.9 355.3,113.1M331.6,129.2Q331.7,129.3 332,129.4M343.3,103.3Q343.3,103.9 342.9,104.4M325.6,131.2Q325.4,131.6 325.6,132M359.9,117.9Q359.2,117.6 358.8,116.8M300.3,103.5Q300.8,103.3 301.3,102.9M334.3,133Q334,133.3 333.7,133.6M306.1,101.1Q306.2,101.6 306,102M327.3,141.3Q326.6,140.9 325.8,141.1M305.6,149.6Q304.8,149.5 304.1,149.7M324.3,138.2Q324.1,139.4 324.1,140.5M334.3,116.6Q333.7,116.9 333.6,117.5M348,138Q347,138.1 346.1,137.7M331.4,161.4Q331.1,161.9 330.8,162.5M339.5,105.3Q338.4,105.3 337.3,105.8M324.5,158.3Q324.3,157.6 323.8,157.1M346,122.8Q346.7,122.8 347.2,123.2M336.3,163.9Q336,163.1 335.4,162.7M306.9,97.2Q306.5,97.5 306,97.3M340.4,134.8Q340.3,134.9 340.3,135.1M356.8,105Q356.7,105.3 356.7,105.5M335.4,134.3Q335.7,134.8 336.1,135.3M325.2,132.4Q325.4,132.8 325.9,132.9M309.1,104.7Q309.2,104.5 309.4,104.4M347.7,117Q347.1,117.2 346.5,117.1M351.7,119.9Q351.2,120.2 350.5,120.2M355.8,108.7Q355.7,107.9 356.1,107.2M344.7,111.7Q345.5,111.8 346.1,111.4M306.9,148.7Q306.2,149.2 306.2,150M357.2,112.4Q357.2,111.5 357.9,111.1M327.3,122.6Q327.4,122.1 327.7,121.7M330.4,112.8Q329.3,113 328.6,113.8M303.8,160.4Q303,160.8 302.3,160.4M336.4,98.6Q336.7,98.2 337.1,98M304.4,99.8Q304.6,100 304.6,100.2M334.1,116.7Q333.6,115.5 332.4,115M350.5,106.5Q349.9,106.4 349.2,106.3M360.4,123.5Q360.1,124.1 359.5,124.5M341.9,117.5Q342.5,117.8 342.8,118.4M325.5,130Q325.3,130 325.1,130.1M329,132.7Q329.7,132.4 330.2,131.8M324.7,157.2Q324.2,157.2 323.8,157.1M303.8,160.4Q304.6,160.2 305.2,160.8M337.2,133.5Q337.3,133.8 337.3,134.1M303.7,142.7Q303.8,142.7 303.9,142.5M346.4,103.7Q346.8,103.9 347.3,103.9M321.7,153.4Q321.6,153.6 321.6,153.9M334.4,113.8Q334.8,114.1 334.9,114.5M355,149Q355,149.5 355.1,149.9M305.7,102.5Q305.9,102.6 306.1,102.6M332.6,105.3Q332.3,105.7 332.4,106.1M337,120.3Q336.2,120.1 335.9,119.3M354.2,112.6Q354.7,113 355.3,113.1M333.7,126.9Q333.8,128.1 334.6,129M341.9,116.7Q342.7,116.5 343.1,115.9M329.8,135.5Q329.9,135.3 329.9,135.2M363.9,110.3Q363.9,109.9 363.7,109.5M327.6,104.9Q328.2,105.8 327.9,106.8M341.9,116.7Q341.9,117.2 342.1,117.8M357.4,120.6Q357.5,121.2 357.3,121.7M347.7,124.9Q347.5,125 347.4,125.2M345.2,106.5Q345.3,107.1 345.7,107.6M324.9,124.7Q324.5,125.4 323.8,125.8M304.1,105.4Q303.9,105.5 303.7,105.7M323.3,112.8Q323.3,113.7 322.7,114.4M348.4,120.2Q348.9,119.6 349.2,118.9M331.7,121.6Q331.5,120.8 331.3,120M351.3,117.7Q351.2,118.4 351.3,119M319.4,113.5Q319.7,113.8 320.1,113.8M338.3,128Q338.5,127.6 339,127.6M304.9,110.5Q304.2,109.8 303.3,109.9M342.5,160.7Q341.5,161.5 340.3,161.4M351.4,153.8Q352.4,153.9 353.5,153.6M349.8,115.9Q349.3,116 348.7,116.2M345.5,136.1Q345.4,137 346.1,137.7M345.7,98.2Q345.8,97.8 345.5,97.5M341.9,116.7Q342.8,116.3 343.6,115.9M356.7,109.9Q356.5,109.4 356.3,109M347.1,121Q347.9,120.8 348.4,120.2M330.4,112.8Q330.7,112.3 330.5,111.8M355.8,109.3Q356,109.1 356.3,109M354.2,146.6Q354.6,147 354.7,147.5M348.4,107.4Q348.8,106.8 349.2,106.3M336.4,98.6Q336.5,98.8 336.5,99.1M337.9,115.3Q337.3,114.5 336.8,113.8M346.6,102.7Q347,103.3 347.3,103.9M333.1,117.9Q333.3,117.7 333.6,117.8M334.1,116.7Q334.1,117.2 333.6,117.5M323.3,148.1Q323.8,147.8 324.1,147.4M320.2,112.5Q320.4,113.1 320.1,113.8M306.1,157.2Q305.6,157.1 305.1,156.8M329.3,125.9Q329.2,124.9 329.9,124.3M343.7,134.4Q344.2,134 344.1,133.4M324.6,144.6Q325.1,145.2 324.9,145.9M334.1,110.6Q333.5,111.5 332.6,112M325.2,126.5Q324.6,126.1 323.8,125.8M354.4,133.7Q355.3,133.8 355.9,133.2M306.1,102.6Q306.2,102.3 306,102M336.6,119.9Q336.3,119.5 335.9,119.3M325.2,126.5Q325.1,125.6 324.9,124.7M347.2,112.6Q346.8,111.9 346.1,111.4M354.7,120.8Q354,120.9 353.4,120.6M356.8,105Q355.8,105.5 354.8,105.7M352.8,107.8Q352.5,106.8 352.4,105.9M350.5,106.5Q350.9,107 350.8,107.6M327.4,129.9Q328,129.9 328.4,129.4M337.6,122.5Q337.8,121.9 338.3,121.7M325.8,141.1Q325.2,141.2 324.8,141.6M323.1,155.9Q323.7,156.7 324.7,157.2M333.5,104.2Q332.8,103.4 332.4,102.4M347.1,121Q347.5,120.4 347.2,119.7M328.7,158.6Q327.7,159.3 327.1,160.2M330.4,112.8Q329.9,111.8 328.9,111.4M348.1,101.4Q347.6,101.6 347.1,101.8M335.4,134.3Q335.1,134.5 334.8,134.8M339.1,108.6Q339.3,110 338.3,111.1M326.3,154Q325.5,153.9 324.7,153.5M325.9,111.7Q326.3,111.2 327,111.2M361.6,122.6Q361,122.3 360.4,121.9M358.6,128.9Q358.9,129.1 359.1,129.3M337.6,124.4Q337.3,124.9 337.2,125.5M326.7,128.2Q326.2,127.8 325.6,127.6M324.7,110.4Q323.6,109.8 322.5,109.2M354.5,146.7Q355.1,146.2 355,145.4M358.3,128.3Q358.7,128.9 359.1,129.3M347.7,124.9Q347.7,124 347.2,123.2M357.2,112.4Q356.8,112.7 356.7,113.2M346.8,160Q346.1,159.5 345.4,159.4M363.9,110.3Q362.9,110.7 362.1,111.4M356.6,111.9Q356.7,112.4 356.7,112.8M337.9,115.3Q337.8,115.4 337.8,115.6M353.3,125.7Q353.2,126.8 352.4,127.6M335.2,101.9Q334.8,101.5 334.4,101.1M365.2,119.1Q365,118.5 364.3,118.4M362.1,128.2Q361.1,128.4 360,128.5M349.9,151.9Q350,151.9 350.1,151.9M339.4,98.6Q340.1,98.3 340.8,98.5M351.6,142.5Q352.2,142.8 352.9,142.5M354.8,105.7Q354.2,105.7 353.9,105.3M303.3,157.8Q303.5,156.6 304.6,156.3M348,138Q348,137.8 348.2,137.8M363.3,113.6Q364.5,113.5 365.2,112.5M361.9,126.1Q361.8,126 361.5,125.9M352.9,142.5Q353.7,143 354.7,142.6M342.7,130Q342.6,129.8 342.7,129.6M324.2,122.5Q323.9,122 323.9,121.4" stroke="rgba(75,225,50,0.94)"/>
</g>
<ellipse cx="338" cy="148" rx="12.5" ry="13" transform="rotate(0 338 148)" fill="none" stroke="rgba(80,230,55,0.95)" stroke-width="2" filter="url(#blur03)"/>
</g>
<g clip-path="url(#cp7)">
<rect x="367.1" y="97" width="66" height="66" fill="#020802" stroke="none" stroke-width="0.8"/>
<g filter="url(#blur3)">
<ellipse cx="403" cy="132" rx="19" ry="20" transform="rotate(0 403 132)" fill="rgba(35,140,22,0.79)" stroke="none" stroke-width="0.8"/>
<ellipse cx="374" cy="136" rx="8" ry="15" transform="rotate(0 374 136)" fill="rgba(35,140,22,0.79)" stroke="none" stroke-width="0.8"/>
<ellipse cx="416" cy="104" rx="13" ry="8" transform="rotate(0 416 104)" fill="rgba(35,140,22,0.79)" stroke="none" stroke-width="0.8"/>
<ellipse cx="376" cy="160" rx="9" ry="5" transform="rotate(0 376 160)" fill="rgba(35,140,22,0.64)" stroke="none" stroke-width="0.8"/>
</g>
<ellipse cx="394" cy="137" rx="9" ry="9.5" transform="rotate(0 394 137)" fill="rgba(4,22,4,0.40)" stroke="none" stroke-width="0.8" filter="url(#blur06)"/>
<ellipse cx="373" cy="136" rx="6" ry="13" transform="rotate(0 373 136)" fill="rgba(4,22,4,0.20)" stroke="none" stroke-width="0.8" filter="url(#blur06)"/>
<g fill="none" stroke-width="1.1" stroke-linecap="round" stroke-linejoin="round" filter="url(#blur03)">
<path d="M412.8,99.2Q413.3,99.5 413.8,99.7M411.5,147.8Q411.5,147.7 411.5,147.6M383.9,160.6Q384.1,160.3 384.1,160M388.8,124.7Q389.2,124.6 389.6,124.7M417.8,111.6Q417.9,110.3 418.6,109.3M407,98.4Q408.2,97.7 409.4,98.3M418.5,98.2Q418.7,98.9 418.2,99.4M402.8,130.9Q402.4,131.4 402.5,132M404.5,128Q404.3,127.6 404.1,127.1M418.1,136.5Q418.1,136.3 418.2,136.2M412.9,138.4Q412.4,139 411.8,139.4M422.5,106.2Q422.4,107.3 421.5,107.9M407.5,115.7Q408,115.7 408.5,115.5M406.9,105.8Q406.3,105.6 405.7,105.9M417.5,127.3Q417.7,127.3 417.9,127.4M408.1,130.3Q408.8,130.2 409.2,130.7M400.9,124.9Q400.6,125.2 400.4,125.6M402.6,141.6Q402.6,141.4 402.4,141.3M381.9,134.3Q383.6,133.7 385.1,132.7M415.4,102.9Q416.5,103.3 417.4,102.7M419.2,131.9Q419.7,132 420.3,132.2M419.1,135.6Q418.7,134.2 417.3,133.8M409.3,149.5Q408.9,149.8 408.8,150.4M408,118.5Q408.6,118.4 409.3,118.2M377.1,125.5Q376.9,125.1 377,124.6M377.4,145.2Q377.4,145.2 377.3,145.2M399.7,124.4Q400.2,124.7 400.9,124.9M378.9,136.2Q379.3,136.1 379.8,136.1M420.3,107.5Q420.2,107.8 419.8,108M427.4,106.5Q427.2,106.9 427.4,107.4M403.5,138.8Q402.5,139.5 402.1,140.6M408.6,124Q408.5,124.4 408.4,124.9M369,158.8Q370,159.4 370.9,159.9M402.1,146Q401.5,146.1 401.1,145.7M412.8,101.7Q412.3,101.4 411.8,101.5M390.6,119Q389.8,119.3 389,119.4M413.9,108.6Q413.8,108.9 413.7,109.2M416.7,136.9Q415.8,137.1 414.9,136.7M395.1,125.6Q394.7,126.3 394,126.3M410.9,121.8Q411.5,121.6 412.1,121.5M370.9,163.3Q369.9,163.3 369,162.8M417.6,124.7Q417.5,124.5 417.5,124.4M409.4,98.3Q409.9,98.7 410.4,99M412.9,138.4Q412.3,138.9 412.2,139.7M409.9,118Q409.5,118 409.3,118.2M418.1,136.5Q417.4,136.6 416.7,136.9M418.4,97.3Q418.4,97.8 418.5,98.2M396.3,148.3Q396,147.7 396.4,147.1M419.6,130.2Q420.3,130.3 420.9,129.9M413.3,124.2Q413.7,124.6 414.2,124.8M387.7,121.3Q388,120.1 389,119.4M414.3,143.6Q414.7,143.3 415.2,143.5M370.9,163.3Q371.8,163.4 372.7,163.4M412.2,102.8Q412.2,103.2 412.5,103.5M406.7,122.7Q406.1,122.1 405.6,121.5M387.6,124Q387.3,123.9 387.3,123.7M407.5,115.7Q408.2,115.7 408.7,115.2M405.4,143.9Q405.7,144.3 406.3,144.3M405.6,114Q406.4,114.5 407.3,114.3M408.4,124.9Q408.3,124.2 407.9,123.6M401,149.8Q400.6,149.2 399.9,148.9M409.3,149.5Q410,149.5 410.4,149.1M421.5,107.9Q420.6,108 419.8,108M420.5,100.3Q420.4,100.6 420.3,101M418.8,142Q418.1,142.4 417.4,142.1M378.8,124.4Q378.7,124.2 378.6,123.9M403.3,128.1Q402.8,128.4 402.4,128.8M412.8,101.7Q412.4,102.2 412.2,102.8M401.5,113.4Q401.9,114.2 402.7,114.5M423.6,100.8Q423.5,101.2 423.4,101.7M390.1,127Q390.6,126.6 391.3,126.4M415.1,132.1Q414.5,132 413.9,131.8M394.5,114.5Q394.4,114.8 394.1,114.9M410,98.6Q409.8,99.5 409.3,100.3M393.9,118.5Q394.3,118.3 394.8,118.2M401,114.9Q401.8,114.6 402.7,114.5M379.7,140.5Q379.9,140.8 380.4,140.8M420.7,126.9Q420,128.2 418.6,128.4M409.5,118.2Q409.4,118.2 409.3,118.2M416.2,143Q415.7,142.4 415.5,141.7M401,114.9Q401.5,115.5 401.4,116.3M401.4,116.3Q400.9,115.4 399.9,114.9M391.3,147.4Q392.1,147.6 392.4,148.4M409,127.4Q408.4,127.2 407.9,126.7M379.4,143.9Q379.6,143.6 380,143.5M405.9,140.8Q406.7,142 408,142.1M417.4,141.3Q417.4,141.7 417.4,142.1M396.9,146.4Q397.1,146.8 397.2,147.3M415.5,141.7Q415,142.1 414.3,141.9M412.2,139.7Q412,139.5 411.8,139.4M392.2,148.2Q392.7,147.3 393.6,146.7M425.2,105.5Q424.8,105.7 424.3,105.5M393.6,146.7Q393.1,147.6 392.4,148.4M423.4,101.7Q423.3,102.6 423.1,103.4M367.1,139Q367.1,139 367.2,139.1" stroke="rgba(75,225,50,0.56)"/>
<path d="M402.2,130.6Q402,131.4 402.5,132M396.8,124Q396.5,124.9 396.6,125.7M414.7,108.8Q414.9,109.5 415.7,109.8M419.2,131.9Q419.9,131.2 419.6,130.2M409,134.6Q409.2,134.7 409.3,134.9M392.9,125.7Q392.7,126.3 392.7,126.8M416.2,143Q415.5,143.5 414.8,143.2M397.1,115.8Q397.4,116.8 397,117.8M400.1,145.7Q399.5,145.9 399,146.2M406.7,122.7Q407.4,123 407.9,123.6M419.6,100.5Q420,100.2 420.5,100.3M410,108.9Q410.2,109.3 410.7,109.4M392,120.1Q391.4,120.6 390.6,120.4M413.3,124.2Q413.2,124.5 413.1,124.7M406.4,123.9Q406,123.9 405.8,124.1M378.9,162.2Q378.4,161.7 377.6,161.8M408.7,115.2Q408.6,115.4 408.5,115.5M405.4,142.8Q405.2,143 405.1,143.2M421.5,107.9Q422,109.2 421.2,110.3M377.6,122.8Q377.2,122.2 376.5,122M411.1,143.5Q410.1,144 410,145.2M405.6,121.5Q406.2,120.8 406,119.9M369.1,145Q369.4,145.9 369.6,146.9M409.9,130.4Q409.7,130.3 409.4,130.3M416.7,136.9Q416,136.7 415.4,136.4M419.8,123.2Q420,123.4 420,123.7M376.9,158.7Q376.7,159.1 376.6,159.5M409.9,118Q410.5,118.4 411.3,118.5M406,126.9Q406.2,126.4 406.6,126.2M409.2,130.7Q409.6,130.6 409.9,130.4M420.3,101Q420,101.8 419.2,102.2M402.1,140.6Q402,141 402.4,141.3M374.5,123.5Q373.4,123 372.6,122.1M419.6,98.6Q418.9,98.9 418.2,99.4M411,104.8Q411.8,105.6 411.7,106.7M406.1,134.3Q406.8,134.6 407.5,134M394.1,114.9Q394.2,114.8 394.4,114.8M395.1,125.6Q395.9,125.5 396.6,125.7M419,141Q419.1,140.5 418.7,140M390.1,127Q389.7,126.6 389.2,126.3M400.6,145.2Q400.7,145.6 401.1,145.7M397.2,127.2Q397.9,127.4 398.5,128M399.3,125.6Q399.7,125.5 400.1,125.8M418.3,128.5Q418.5,128.5 418.6,128.4M378.9,162.2Q379.4,162.5 379.8,162.9M413.3,133.1Q413.9,132.8 414.5,132.9M412.8,101.7Q412.8,102.6 412.5,103.5M415.1,132.1Q415.8,131.2 417,131.2M375.8,163.7Q376.8,163.7 377.7,163.2M401.8,144.4Q401.3,144.9 400.6,145.2M399.8,122.3Q399,122.8 398.1,122.5M380.2,132Q380.8,131.6 381.6,131.7M374.4,150Q373.7,149.7 373,149.4M379.6,137.1Q379.8,136.6 379.8,136.1M427.6,101.6Q426.5,102.5 425.1,102.1M410,98.6Q409.7,98.5 409.4,98.3M400.1,145.7Q400.6,145.6 401.1,145.7M371.6,157.4Q371.6,157.6 371.6,157.9M403.1,135.9Q404,136.7 404.9,137.4M422.5,98Q423.2,98 423.8,98.3M405,130.2Q405.5,129.4 406.1,128.7M416.7,140.6Q416.3,141.4 415.5,141.7M378.4,145.8Q378,145.2 377.3,145.2M389.7,146.1Q390.4,146.8 391.3,147.4M375.8,162Q376.6,161.4 377.6,161.8M407,133.5Q407.1,133.9 407.5,134M422.5,106.2Q421.9,105.2 422.4,104.1M409.3,134.9Q408.2,134.8 407.5,134M420.3,98.7Q420,98.7 419.6,98.6M373,149.4Q373.3,149.6 373.5,149.9M405.3,145.3Q405.4,145.5 405.6,145.7M412.3,143.8Q411.6,143.7 411.2,143.2M380.4,164.3Q380.1,163.7 379.4,163.4M422,99.7Q421.4,100.3 420.5,100.3M411,131.3Q411,131.2 411,131.1M416.8,118.7Q416.3,118.4 415.8,118.5M404,106Q404.8,105.8 405.7,105.9M386.5,126.9Q386.6,127.3 386.5,127.7M378.4,145.8Q377.9,145.6 377.4,145.2M394.8,118.2Q395.1,117.8 395.7,117.7M411.7,106.7Q411.3,107.4 411.5,108.1M422,99.7Q422.9,100.1 423.6,100.8M394.1,122.9Q393.6,123 393.5,123.4M368.4,127.1Q368.4,126.5 368.4,125.9M405.3,145.3Q405.7,144.7 406.3,144.3M413.1,124.7Q413.7,124.8 414.2,124.8M411.7,133.4Q411.9,133.1 412.3,133M405.3,150.7Q404.9,151 404.8,151.6M415.7,109.8Q415.6,109.5 415.4,109.3M417,107.9Q417,107.9 417,107.9M396.6,125.7Q396.9,126.5 397.2,127.2M413,136Q412.7,135.9 412.6,135.7M409.3,100.3Q409.8,99.6 410.4,99M380.2,158.2Q380.1,158.1 380.1,158M378.5,158.4Q377.8,158 377.8,157.2M402.8,130.9Q402.6,130.6 402.2,130.6M411.7,133.4Q411.2,133.4 410.8,133.1M369.6,146.9Q369.6,147.3 369.3,147.6M411.4,111Q411,110.7 410.6,110.8M407.9,126.7Q407.2,126.4 406.6,126.2M370.2,125Q370.2,124.3 370.7,124M376.7,146.6Q376.2,146.8 375.6,147M420.3,107.5Q420.9,107.6 421.5,107.9M397.1,115.8Q396.9,117.1 395.7,117.7M420.4,98.4Q420.4,98.6 420.3,98.7M368.9,124.6Q369.7,124.4 370.2,125M424.3,105.5Q424.1,105.9 423.8,106.1M419.6,130.2Q420.3,130.1 420.9,129.9M375.6,155.8Q376.3,156 376.8,155.5M404.9,137.4Q405.8,137.2 406.6,136.5M407,101.9Q407.1,102.5 407,103M406.4,123.9Q405.9,124.2 405.8,124.7M416.4,120.7Q415.5,120.4 414.7,120.9M376,157.1Q376.1,156.1 376.8,155.5M415.8,124.5Q415.3,124.2 415,123.8M380,143.5Q379.8,142.9 379.3,142.6M411.7,106.7Q411.7,106.7 411.7,106.7M406.9,105.8Q407.2,106.7 407.3,107.6M411.8,127.5Q411.6,127.2 411.7,126.8M414,134.7Q414.4,134.7 414.7,134.6M417,107.9Q416.4,107.8 415.9,107.4M384.1,160Q384,159.9 383.8,159.9M420.6,110.2Q419.6,109.8 418.6,109.3M370.4,148.3Q370,147.8 369.3,147.6M400.1,145.7Q399.5,145.8 398.9,145.9M419.6,130.2Q419.6,130.2 419.6,130.2M402,116.5Q401.8,116.3 401.4,116.3M418.4,129.2Q418.4,128.8 418.6,128.4M392.2,148.2Q391.8,147.7 391.3,147.4M380.5,142.7Q380.4,143.2 380,143.5M416.7,106.4Q416.2,106.8 415.9,107.4M415.8,124.5Q416.7,124.4 417.6,124.7M415.8,124.5Q415.8,124.9 415.8,125.2M389.7,146.1Q390,145.8 390,145.5M379.7,140.5Q379.7,139.6 379.3,138.8M374.4,150Q375.1,149.9 375.6,150.3M369,158.8Q368.3,159.2 367.8,159.9M405.4,117.4Q405.8,117.7 406.2,117.9M414.2,139.1Q413.8,139 413.4,139.2M395.2,119.1Q395.1,118.6 394.8,118.2M380.2,132Q380.3,131.4 379.9,130.9M371.6,157.9Q372,157.9 372.4,158.1M376.9,158.7Q377.7,158.2 377.8,157.2M393.5,118Q393.4,117.9 393.4,117.8M407.3,109.8Q407.9,108.7 407.3,107.6M416.5,118.7Q416.2,118.5 415.8,118.5M387.6,124Q387.7,124.4 388.2,124.5M405.3,150.7Q405,150.4 404.6,150.4M412.6,135.7Q411.9,136 411.6,136.8M413.6,118.3Q413.6,118.3 413.7,118.4M380.4,140.8Q379.5,141 379.3,141.9M418.4,129.2Q418.4,128.9 418.3,128.5M402.2,130.6Q401.6,130.4 401,130M414.3,143.6Q414.5,143.3 414.8,143.2M375.6,147Q375.3,148.1 374.3,148.4" stroke="rgba(75,225,50,0.69)"/>
<path d="M401.7,124.5Q401.2,124.5 400.9,124.9M412.2,102.8Q412,102.2 411.8,101.5M368.4,127.1Q369.1,125.9 368.9,124.6M419.6,100.5Q419.9,100.8 420.3,101M408.7,138.4Q409.5,137.5 410.5,136.9M420.3,105.1Q421.4,104.7 422.4,104.1M409.2,114.2Q408.8,114.1 408.5,113.8M395.2,126.9Q395.2,126.2 395.1,125.6M420.4,98.4Q420,98.3 419.6,98.6M406.4,123.9Q406.2,123.2 406.7,122.7M406.1,116.9Q406.4,117.4 406.2,117.9M369.9,124.6Q369.9,124.9 370.2,125M387.9,126.1Q387.2,126.6 386.5,126.9M393.5,118Q393.8,118.2 393.9,118.5M394.5,114.5Q394.4,114.6 394.4,114.8M372.6,122.1Q371.7,123.1 370.7,124M411.1,96.7Q410.8,97.7 411.3,98.5M392,120.1Q391.2,119.9 390.6,119.6M377.6,161.8Q377.7,162.5 377.7,163.2M419.1,135.9Q419.5,136.1 419.6,136.5M413.3,124.2Q412.7,123.7 412,123.5M390.6,119.6Q390.5,120 390.6,120.4M404.6,150.4Q404.8,150.9 404.8,151.6M417,96.4Q417,97.1 417.5,97.6M418,97.6Q417.7,96.8 417,96.4M371.6,157.4Q371.1,156.6 370.2,156.4M418.4,97.3Q417.9,97.3 417.5,97.6M414.9,122.2Q415,121.5 414.7,120.9M415.8,124.5Q416.6,124.6 417.5,124.4M412.5,109.6Q413.1,109.3 413.7,109.2M370.4,148.3Q370.3,148.8 370.3,149.3M418.6,109.3Q418.9,108.3 419.8,108M387.9,126.1Q388.6,126 389.2,126.3M380.3,128.9Q380,128.5 379.6,128.3M408.7,115.2Q409.1,114.8 409.2,114.2M420.6,110.2Q420.9,110.2 421.2,110.3M381,135.2Q380.6,135.9 379.8,136.1M375.1,150.7Q375.5,150.6 375.6,150.3M398.9,145.9Q398.8,145.2 399,144.4M411.1,145.7Q411.2,146.5 410.8,147.2M373.2,161.5Q373.3,162.6 372.7,163.4M406.9,105.8Q406.2,105.5 405.5,105.7M411.1,145.7Q410.5,145.5 410,145.2M369.9,124.6Q369.4,124.6 368.9,124.6M411.7,108.4Q411,108.7 410.7,109.4M379.4,143.9Q379.3,143.3 379.3,142.6M420.4,98.4Q421,98 421.1,97.2M411,104.8Q410.7,103.9 409.7,103.7M377.3,145.2Q377.2,145.1 377,145M416.3,122.1Q415.6,122.3 414.9,122.2M419.1,135.6Q419,135.7 419.1,135.9M410.4,149.1Q410.7,148.7 410.9,148.3M417.9,127.4Q419.4,127.6 420.7,126.9M423.1,103.4Q422.9,103.9 422.4,104.1M396.3,148.3Q396.2,149.8 397.1,150.9M379.4,163.4Q379.5,163.1 379.8,162.9M419.6,130.2Q420.3,131.1 420.3,132.2M402.8,128.8Q402.6,128.7 402.4,128.8M406,126.9Q405.7,126.8 405.5,127M409.5,118.2Q410.3,118.6 411.3,118.5M410.5,147.9Q410.7,148.1 410.9,148.3M402.5,126.1Q401.7,125.5 401.7,124.5M376,157.1Q375.9,156.4 375.6,155.8M427.4,106.5Q426.5,105.7 426.8,104.5M413.1,124.7Q412.5,124.1 412,123.5M404.9,137.4Q404.3,138.2 403.5,138.8M374.4,150Q374,150 373.5,149.9M419.7,138.8Q419.9,138.9 420.1,138.8M368.9,147.3Q369.1,147.6 369.3,147.6M418,97.6Q417.8,97.4 417.5,97.6M403.9,141.3Q403.8,142.1 403.8,142.8M426.5,102.9Q427,103.6 426.8,104.5M413.3,133.1Q413.1,133.2 412.9,133.3M379.3,141.9Q379.4,142.2 379.3,142.6M392.7,126.8Q393.3,126.6 394,126.3M409.2,130.7Q409.2,130.5 409.4,130.3M411.8,127.5Q411.4,127.3 411,127M374.5,123.5Q375.4,124.1 376.4,124.8M379.7,140.5Q379.2,141.1 379.3,141.9M400.6,120.6Q400.8,121.5 400.1,122.2M369.3,157.7Q369.1,158.2 369,158.8M401.2,149.5Q400.7,148.8 400.3,148M418.7,107.3Q419.4,107.5 419.8,108M416.7,105Q416.8,105.7 416.7,106.4M414.7,108.8Q414.3,108.5 413.9,108.6M413.4,139.2Q413.4,138.6 412.9,138.4M420.5,100.3Q420.8,101.2 421.5,101.8M398.9,145.9Q398.9,146 399,146.2M380.2,158.2Q380.2,157.8 379.9,157.4M371.6,157.4Q372.2,157.5 372.4,158.1M414.9,136.7Q415.1,136.5 415.4,136.4M406.1,134.3Q406.7,135.3 406.6,136.5M411.5,108.1Q411.6,108.2 411.7,108.4M410.8,147.2Q411.3,147.2 411.5,147.6M403.7,124.3Q402.8,124.8 401.7,124.5M415.2,143.5Q415,143.4 414.8,143.2M405.8,124.1Q405.8,124.4 405.8,124.7M403.1,135.9Q403.3,135.5 403.2,134.9M399.6,144.3Q399.3,144.4 399,144.4M419.4,122.6Q419.8,122.9 419.8,123.2M400.1,125.8Q399.6,126 399.1,125.7M388.2,124.5Q388.5,124.5 388.8,124.7M379.9,157.4Q380.1,157.7 380.1,158M416.4,120.7Q416.2,121.4 416.3,122.1M409.5,118.2Q408.7,118.1 408,118.5M418.7,138.3Q419.3,138.9 420.1,138.8M379.3,138.8Q379.6,138 379.6,137.1M380.4,164.3Q380.5,163.4 379.8,162.9M402.1,146Q402.5,146.4 403.1,146.3M376.7,146.6Q377.4,146.1 377.3,145.2M407,101.9Q405.6,101.5 404.6,100.4M386.8,130.6Q386.8,129.1 386.5,127.7M375.8,162Q375.8,162.9 375.8,163.7M414.7,108.8Q414.9,109.2 415.4,109.3M411.4,111Q411.2,111 411.1,111M395.6,127.8Q396.3,127.6 396.7,126.8M400.1,125.8Q400.2,125.6 400.4,125.6M395.6,127.8Q395.5,127.3 395.2,126.9M389.1,124.9Q389.4,124.9 389.6,124.7M378.9,162.2Q378.1,162.6 377.7,163.2M413.7,118.4Q413.8,118.1 413.7,117.9M418,97.6Q418.3,97.5 418.4,97.3M386.8,130.6Q385.7,131.5 385.1,132.7M411.1,120.6Q410.8,121.2 410.9,121.8M370.2,156.4Q369.9,157.2 369.3,157.7M401,130Q400.3,129.6 400.2,128.7M406.1,134.3Q404.7,134.7 403.2,134.9M408.6,124Q408.2,123.9 407.9,123.6M390,117.8Q389.4,118.5 389,119.4M396.7,126.8Q396.9,127.1 397.2,127.2M417,107.9Q416.5,107.6 415.9,107.4M386.8,125.3Q387.2,126 387.9,126.1M377,124.6Q377.9,124.2 378.8,124.4M396.8,121.7Q397.2,122.5 398.1,122.5M403.9,141.3Q403.2,141.2 402.6,141.6M395.3,150.2Q396.3,150.4 397.1,150.9M404,124.8Q404.9,124.6 405.8,124.7M416.7,105Q416.1,103.9 415.4,102.9M412.5,109.6Q411.9,109.1 411.7,108.4M371.6,157.4Q371.4,156.5 371.9,155.7M413.7,129.1Q413.8,129.1 413.8,129.2M405.4,143.9Q405.3,143.4 405.4,142.8M405.4,117.4Q405.8,117.8 405.7,118.4M368.4,125.9Q368.3,125.1 368.9,124.6M387.7,121.3Q387.5,122.5 387.3,123.7M401,114.9Q401.2,114.1 401.5,113.4M367.4,137.5Q367.6,138.4 367.2,139.1M379.9,130.9Q380.9,130.9 381.6,131.7M390.6,119Q390.1,118.5 390,117.8M369,162.8Q369,162.7 368.9,162.7M417.3,133.8Q417.6,135 418.2,136.2M401,114.9Q400.4,114.7 399.9,114.9M425.1,102.1Q425.6,102.8 426.5,102.9M407.3,114.3Q407.8,113.9 408.5,113.8M403.2,144.2Q402.5,144.5 401.8,144.4M410,108.9Q409.4,108.8 409,108.6M417.9,127.4Q418.1,128 418.3,128.5M397,117.8Q396.3,117.4 395.7,117.7M370.2,156.4Q371.1,156.2 371.9,155.7M381.9,134.3Q381.4,133 381.6,131.7M422,99.7Q422.4,98.9 422.5,98M415.1,132.1Q414.6,132.3 414.5,132.9M409,108.6Q407.9,108.9 407.3,109.8M405.9,140.8Q405.7,141.8 405.4,142.8M386.5,127.7Q385.5,127.5 384.8,126.7M409.6,150.3Q409.5,149.9 409.3,149.5" stroke="rgba(75,225,50,0.81)"/>
<path d="M413.6,130.1Q413.9,129.7 413.8,129.2M424.8,105.8Q424.2,105.8 423.8,106.1M380.9,128.7Q380.6,128.8 380.3,128.9M419.1,135.6Q419.6,135.9 419.6,136.5M375.1,150.7Q374.6,150.5 374.4,150M396.7,126.8Q396.7,126.3 396.6,125.7M386.5,126.9Q385.7,126.7 384.8,126.7M377.8,149Q377.4,147.7 376.7,146.6M383.9,160.6Q383.7,160.3 383.8,159.9M412.9,133.3Q412.5,133.3 412.3,133M399.3,117.4Q399.2,117.8 398.7,117.8M386,123.2Q386.7,123.4 387.3,123.7M414.6,134.7Q414.3,134.8 414,134.7M397,117.8Q397.9,117.6 398.7,117.8M419,141Q418.7,141.5 418.8,142M377.8,149Q377,150.1 375.6,150.3M425.2,105.5Q425,105.7 424.8,105.8M391.3,147.4Q390.3,146.7 390,145.5M417.5,127.3Q417.1,127 416.8,126.7M401.2,149.5Q400.5,149.4 399.9,148.9M423.6,109.8Q422.5,110.7 421.2,110.3M400.2,128.7Q399.3,128.5 398.5,128M407,101.9Q406.7,101.6 406.2,101.5M380,159.3Q379.7,159.4 379.5,159.7M419.1,135.9Q418.4,135.9 418.1,136.5M406.1,134.3Q406.5,133.9 407,133.5M370.3,149.3Q370,148.4 369.3,147.6M411.1,143.5Q411.1,143.4 411.2,143.2M405.4,117.4Q405.7,117 406.1,116.9M403.3,128.1Q403.7,127.6 404.1,127.1M405.5,105.7Q405.7,105.7 405.7,105.9M405,130.2Q405.2,130.7 405.4,131.2M413.7,129.1Q414,129.6 413.6,130.1M396.8,124Q397.2,123 398.1,122.5M407.5,128.5Q406.8,128.8 406.1,128.7M387.6,124Q387,123.2 386,123.2M410.5,136.9Q411,136.6 411.6,136.8M380.5,142.7Q379.9,142.8 379.3,142.6M409,134.6Q408.3,134.2 407.5,134M396.9,146.4Q396.7,146.8 396.4,147.1M402.6,141.6Q402.6,141 402.1,140.6M422.5,98Q421.7,97.8 421.1,97.2M413.1,117.7Q413.4,118 413.7,117.9M415,123.8Q414.7,124.4 414.2,124.8M404.6,150.4Q404.6,149.4 403.8,148.8M399.1,119.8Q399.4,118.7 398.7,117.8M403.8,142.8Q404.4,143.3 405.1,143.2M411.5,147.8Q411.2,148.1 410.9,148.3M411.5,147.8Q411.8,147.7 412,147.5M425.1,102.1Q424.3,101.5 423.4,101.7M420.4,106.4Q420.3,106.9 420.3,107.5M414.6,134.7Q414.7,134.7 414.7,134.6M401.2,149.5Q401,149.6 401,149.8M404.6,104Q404.8,105 405.5,105.7M395.4,121.8Q396.1,122.1 396.8,121.7M404,106Q404.7,105.6 405.5,105.7M407.6,145.7Q406.9,145 406.3,144.3M399.3,117.4Q399.9,118.4 401,118.6M416.7,140.6Q417.1,141 417.4,141.3M418.7,138.3Q419.2,138.5 419.7,138.8M377,124.6Q376.7,124.6 376.4,124.8M407,103Q407,102.1 406.2,101.5M401.7,124.5Q401.2,125.1 400.4,125.6M403.3,143.2Q403.6,143.1 403.8,142.8M392.6,124.9Q392.7,124 393.5,123.4M405,144.9Q405.1,145.4 405.6,145.7M416.2,143Q415.7,143.3 415.2,143.5M392.9,125.7Q393.4,126.1 394,126.3M407.5,115.7Q407.4,115 407.3,114.3M390.6,119.6Q389.8,119.2 389,119.4M409.8,107.1Q409.6,107 409.3,107.1M412.3,143.8Q411.7,143.8 411.1,143.5M380,159.3Q379.7,159.7 379.2,159.8M391.3,126.4Q391.1,126.1 390.9,125.8M394.1,122.9Q393.2,122.4 392.5,121.6M396.4,147.1Q396.7,147.4 397.2,147.3M410.6,110.8Q410.8,110.9 411.1,111M415.1,125.9Q415.3,125.4 415.8,125.2M374.4,150Q374,149.2 374.3,148.4M411.1,96.7Q411,97.9 410,98.6M378.9,136.2Q379.5,136.5 379.6,137.1M367.4,137.5Q367.2,138.2 367.1,139M410,98.6Q410.2,98.8 410.4,99M378.9,162.2Q379.4,162.7 379.4,163.4M405.3,145.3Q405.1,145.1 405,144.9M413.9,131.8Q414.4,132.2 414.5,132.9M399.8,122.3Q399.9,122.2 400.1,122.2M369.9,124.6Q370.3,124.3 370.7,124M369.1,145Q368.8,144.4 368.5,143.8M404.5,128Q405.1,128.8 406.1,128.7M402.4,118.3Q402.9,118 403.4,117.8M414.3,141.9Q414.2,142.7 414.8,143.2M415.3,106.7Q415.6,107.1 415.9,107.4M413.6,118.3Q413.6,118.1 413.7,117.9M403.1,146.3Q403.9,147.1 404.1,148.3M369.1,145Q368.7,144 367.8,143.2M419.4,122.6Q419.5,123.3 420,123.7M420.4,106.4Q420.4,105.8 420.3,105.1M411.5,147.6Q411.8,147.6 412,147.5M405.4,143.9Q405.1,143.6 405.1,143.2M424.8,105.8Q424.5,105.7 424.3,105.5M424,108Q424.2,109 423.6,109.8M416.5,118.7Q416.6,118.7 416.8,118.7M374.8,159.2Q374.7,160 374.1,160.5M416.7,105Q416.5,106.3 415.3,106.7M390.6,119Q390.5,119.3 390.6,119.6M379.2,159.8Q378.9,159.5 378.8,159.1M407.6,145.7Q407.3,146 407.4,146.4M414.2,139.1Q414.9,139.3 415.1,140.1M419.2,131.9Q418.3,131.1 417,131.2M404.6,104Q403.9,103.5 403.2,103.1M408.4,124.9Q409.4,124.8 410.1,125.5M415.5,141.7Q415.7,140.8 415.1,140.1M381,135.2Q381.3,134.6 381.9,134.3M411,127Q411.3,126.9 411.7,126.8M424,108Q423.7,107.1 423.8,106.1M368.9,147.3Q369.3,147.1 369.6,146.9M425.2,105.5Q426.1,105.2 426.8,104.5M399.1,119.8Q399.8,120.4 400.6,120.6M374.3,148.4Q373.4,148.5 373,149.4M411.3,98.5Q410.8,98.6 410.4,99M405.4,131.2Q406.5,130.1 406.1,128.7M402.8,128.8Q402.9,128.3 403.3,128.1M401,118.6Q401.7,118.7 402.4,118.3M408.7,138.4Q408,139.5 406.7,139.9M400.1,145.7Q400.4,145.5 400.6,145.2M406.7,139.9Q406.2,140.2 405.9,140.8M403.8,148.8Q404,148.6 404.1,148.3M379.2,159.8Q379.4,159.7 379.5,159.7M405,144.9Q404.6,145 404.4,145.3M399.3,125.6Q399.1,125.6 399.1,125.7M388.2,124.5Q387.7,124.1 387.3,123.7M418.9,107.7Q419.3,107.9 419.8,108M410.5,147.9Q410.6,147.5 410.8,147.2M374.8,159.2Q375.7,159.1 376.6,159.5M407.5,128.5Q408,127.6 409,127.4M418.7,107.3Q418.9,107.5 418.9,107.7M380.9,128.7Q380.4,128.1 379.6,128.3M393.9,118.5Q393.6,118.2 393.4,117.8M415.3,106.7Q416,106.2 416.7,106.4M400.3,148Q399.9,148.4 399.9,148.9M405.3,145.3Q404.8,145.6 404.4,145.3M389.1,124.9Q388.9,124.9 388.8,124.7M413,136Q412.3,136.5 411.6,136.8M409.6,150.3Q409.2,150.3 408.8,150.4M378.8,159.1Q378.6,158.8 378.5,158.4M373.2,161.5Q373.5,161 374.1,160.5M405.7,118.4Q406.1,118.3 406.2,117.9M377.6,122.8Q377.5,123 377.3,123.1M411.5,108.1Q411.4,107.4 411.7,106.7M403.3,143.2Q403.1,143.7 403.2,144.2M404.5,128Q403.9,128 403.3,128.1M419.7,138.8Q419.4,139.5 418.7,140M392.2,148.2Q392.3,148.3 392.4,148.4M415.7,109.8Q417.1,110.2 417.8,111.6M377.1,125.5Q376.6,125.3 376.4,124.8M405.6,114Q406.2,115.3 407.5,115.7M396.3,148.3Q396.8,147.9 397.2,147.3M422.5,106.2Q423.1,106 423.8,106.1M412.8,99.2Q412.1,98.8 411.3,98.5M402,116.5Q402.3,117.4 402.4,118.3M394.1,122.9Q395,122.7 395.4,121.8M392.6,124.9Q392.8,125.3 392.9,125.7M407,98.4Q408.6,97.9 410,98.6" stroke="rgba(75,225,50,0.94)"/>
</g>
<ellipse cx="394" cy="137" rx="9" ry="9.5" transform="rotate(0 394 137)" fill="none" stroke="rgba(80,230,55,0.50)" stroke-width="1.6" filter="url(#blur03)"/>
<ellipse cx="373" cy="136" rx="6" ry="13" transform="rotate(0 373 136)" fill="none" stroke="rgba(80,230,55,0.85)" stroke-width="1.6" filter="url(#blur03)"/>
</g>
<g clip-path="url(#cp8)">
<rect x="433.4" y="97" width="66" height="66" fill="#020802" stroke="none" stroke-width="0.8"/>
<g filter="url(#blur3)">
<ellipse cx="472" cy="128" rx="28" ry="19" transform="rotate(15 472 128)" fill="rgba(35,140,22,0.79)" stroke="none" stroke-width="0.8"/>
<ellipse cx="486" cy="112" rx="14" ry="10" transform="rotate(30 486 112)" fill="rgba(35,140,22,0.64)" stroke="none" stroke-width="0.8"/>
<ellipse cx="440" cy="135" rx="8" ry="9" transform="rotate(0 440 135)" fill="rgba(35,140,22,0.57)" stroke="none" stroke-width="0.8"/>
</g>
<ellipse cx="457" cy="133" rx="13" ry="9.5" transform="rotate(0 457 133)" fill="rgba(4,22,4,0.40)" stroke="none" stroke-width="0.8" filter="url(#blur06)"/>
<g fill="none" stroke-width="1.1" stroke-linecap="round" stroke-linejoin="round" filter="url(#blur03)">
<path d="M466.8,141.1Q467.6,140.9 467.8,140.2M483.2,119.4Q483.3,119.8 483.4,120.1M490.1,105.5Q489.8,106.3 490.1,107.1M488.9,120.5Q489.1,120.5 489.4,120.5M471.7,130Q471.4,130.4 471.2,130.9M471,139.6Q470.7,139.3 470.4,139M439.8,141.2Q440.2,141.3 440.6,141.3M490.7,116.6Q490.7,116.8 490.5,117M435,138.2Q434.3,138.5 433.6,138.2M469.7,115Q468.9,114.1 468.9,112.9M456.2,114.6Q455.4,114.6 454.9,115.1M483.7,118.9Q483.1,118.9 482.6,119.3M440.6,133.2Q440.6,133.1 440.4,133M488.2,130.5Q487.9,130.5 487.6,130.7M457,112.7Q457,113.7 456.6,114.4M483.1,126.6Q482.8,127.3 482.1,127.5M489,138Q489.3,137.4 489.3,136.7M491.3,122.9Q490.7,122.6 490.6,122M481.5,141.3Q482.1,142.1 482.1,143.1M471.6,138.7Q472,138.3 472.1,137.7M452.3,112Q450.8,112.5 449.9,113.8M450.7,120.3Q450.9,120.4 451.1,120.6M440.3,134.2Q440.1,133.7 439.7,133.2M444.1,128.2Q443.2,128.8 442.7,129.9M488.6,116.5Q487.9,116.8 487.9,117.6M484.4,112.9Q484,112.8 483.6,112.7M464.2,115.8Q464.2,115.4 464.6,115.2M453,121.6Q453.1,122.6 453.7,123.3M492.2,124.7Q493,125.1 493.7,125.4M439.8,141.2Q439.8,141.1 439.7,141.1M487.3,145.8Q488,145.3 488.1,144.5M482.9,104.8Q483.4,105 483.9,104.8M445.2,120.1Q444.6,121 444.7,122M453,118.3Q452.6,117.8 452.1,117.3M434.9,132.6Q434.4,131.4 433.6,130.5M487.7,126.9Q487.6,126.1 487.2,125.5M440.3,142.1Q439.8,142.1 439.3,142.3M482.2,133.1Q482.9,132.8 483.4,132.2M477.8,116.2Q477.3,116.3 476.8,116.5M487.7,126.9Q488.5,126.4 489.2,126M493.7,106.5Q493.4,106.8 493.3,107.2M483.7,117.2Q484,117.3 484.3,117.4M494.9,111.7Q494.4,110.9 494.2,110M476.7,142.9Q477.3,143 477.8,142.6M488.6,144.9Q488.5,144.5 488.1,144.5M469.1,127.4Q470,128.3 469.9,129.5M478.1,135.3Q478.7,135.6 479.4,135.5M473.7,132.3Q473.4,132.5 473.3,132.8M487.6,141.1Q486.6,141.2 485.6,141.3M465.1,122.4Q464,122.3 463.1,123M439,126.8Q439.1,127.6 439.8,128.1M439.5,140.5Q440,140.1 440,139.3M482.8,145.9Q482.7,146 482.5,146.2M476.2,128.1Q477.2,128.6 478.2,128.5M478.4,131.9Q479,131 479.6,130.2M455.6,116.6Q456.3,116.8 457,116.8M478.7,126.4Q478.3,126.4 478,126.2M455.9,118.6Q455.9,118.5 455.9,118.5M448.4,124.8Q449.2,125 450.1,124.7M471,145.8Q471.5,144.8 472.6,144.7M488.7,102.3Q488.7,102.4 488.9,102.5M476.4,138Q477.1,138.7 477,139.7M479.7,118Q479.8,118 479.7,117.8M471.5,142.9Q471.7,142.1 472.4,141.5M446.9,124.8Q446.3,125.9 446.6,127.1M467.4,142.7Q468.1,142.6 468.8,143M482.8,145.9Q482.4,145.5 482.4,144.9M482.7,134.4Q482.6,133.7 482.5,133.1M438.9,129.9Q439.7,130.6 440.7,130.4M492.4,132.6Q492.2,132.3 492.3,131.9M487.8,136.9Q488.5,136.5 489.3,136.7M439,136.2Q439,135.8 439.1,135.4M479.5,110.8Q479.3,110.9 479.1,111M485.6,141.3Q485.3,141.8 485.5,142.3M487.9,129.3Q487.8,129.1 487.5,128.9M466.6,142.3Q465.9,144 464.2,144.8M472.4,127Q472.9,127.8 473.8,127.9M472.5,119.2Q472.6,118.5 472.2,118M451.8,119.8Q451.4,119.8 451,120M472.5,111.1Q472.3,110.9 472.4,110.6M471.5,142.9Q470.9,143 470.5,142.6M468.5,122.2Q469.7,122.6 470.7,121.9M491.2,133.5Q491.8,133.1 492.4,132.6M472.8,131.8Q472.2,131.8 471.8,132.2M476.4,138Q475.3,137.9 474.5,138.8M493.3,113.3Q493.9,113.8 494.2,114.5M495.8,113.6Q495.9,113.8 496,114.1M486.5,114.6Q485.8,114.4 485,114.5M471,145.8Q471.6,146 472.2,146.3M482.5,133.1Q483.2,132.9 483.4,132.2M448.7,121.4Q448.9,120.9 449,120.3M482.2,133.1Q482.2,133.6 482.5,134.1M456,117.9Q456.4,117.2 457,116.8M468.8,143Q469.7,143 470.5,142.6M478.8,110Q478.8,109.5 478.6,109.1M451,118Q451.7,117.8 452.1,117.3M457.5,118.9Q456.7,118.8 455.9,118.6M437.1,133.3Q437.6,132.8 438.2,132.4M495.5,124.9Q495.8,124.1 496.4,123.6M474.4,121Q475.4,121.6 476.6,121.4M484,136.5Q483.9,136.4 483.8,136.4M485.2,128.3Q485.4,128.1 485.7,128.1M489,142.2Q489.4,141.7 489.9,141.5M442.6,131.4Q442.3,130.7 442.7,129.9M483.4,125.7Q483.1,126.1 483.1,126.6M495.2,108.6Q494.5,109.2 493.6,108.9M478.5,134.4Q478.7,134.6 478.8,134.9M482.5,114.5Q482.6,115 482.4,115.5M482.5,113.1Q482,113.2 481.4,113.1M451.8,119.8Q451.7,120.4 451.1,120.6M488.1,127.4Q488.4,127.9 489,128M479.7,118Q479.9,117.7 479.9,117.2M489.6,117.5Q490.1,117.5 490.5,117.2M452.6,122Q453.1,122.7 453.7,123.3" stroke="rgba(75,225,50,0.56)"/>
<path d="M482.9,100.9Q483,101.6 482.7,102.3M473.7,112.2Q473.8,112.8 474,113.4M472.8,131.8Q473,131.9 473.3,131.8M463.5,108.7Q463.5,109.5 463,110.1M477.8,116.2Q478.3,116.7 478.4,117.3M474.9,126.2Q474.2,125.7 473.9,124.9M488.1,122.6Q487.5,121.8 486.9,121M488.1,127.4Q487.7,127.5 487.6,127.8M488.6,144.9Q487.7,145 487.3,145.8M482.8,111.1Q483.3,111.3 483.9,111.2M482.1,127.5Q482.5,127.2 482.9,127.3M468.9,108.5Q469.1,109.2 468.6,109.8M474.9,123.3Q474.3,124 473.9,124.9M496,114.1Q497.7,113.4 498.3,111.7M483.4,120.1Q483,120.7 482.8,121.3M454.8,117Q455,117.5 455.4,117.6M465.7,145Q467.1,145.1 468,146.1M488.7,102.3Q489.8,103.7 490.1,105.5M496.1,129.6Q496.6,128.9 497.2,128.2M466.3,126.8Q466.3,126.4 466.4,126.1M440,139.3Q440.9,139.4 441.4,140.1M496.1,129.6Q495.3,129.6 494.6,129.9M493.9,134.9Q494.2,135 494.5,134.9M483.4,120.1Q483.1,119.6 482.6,119.3M473.3,131.8Q473.1,132.3 473.3,132.8M495,133.1Q495.2,133.5 495.4,134M472.4,127Q472.1,127 471.7,127.1M490,112.7Q490.1,113.2 490.2,113.8M476.3,135.3Q476.2,135.5 476.1,135.7M443.7,139.5Q444,139.2 444.4,139M490.7,119.8Q491.1,119.5 491.5,119.1M486.7,114Q487.2,113.6 487.7,113.8M456.9,120.6Q456.1,120.4 455.4,120.7M440.3,142.1Q440.4,143 440.9,143.6M435,138.2Q435.8,137.3 436.7,136.4M487.3,114.6Q487,114.3 486.7,114M461.5,112.5Q461.6,112.4 461.6,112.3M489.8,143.2Q489.5,142.6 489,142.2M490.5,117Q490.2,117 490,116.8M446.2,119Q446.2,118.9 446.2,118.8M489.6,117.5Q489.9,118.1 490.1,118.7M465.7,145Q465,144.5 464.2,144.8M495.8,113.6Q495.6,114.3 495.4,115.1M493.3,113.3Q493.8,114 493.7,114.8M446.9,121.9Q447.6,121.9 448.2,122.3M466.3,126.8Q465.9,126.1 465.1,125.7M457.2,142.2Q458.8,142.4 459.9,143.5M488.3,112.1Q488.4,113.1 487.7,113.8M479,123.9Q479.3,123.3 479.1,122.8M489.1,130.6Q489,130.5 488.9,130.5M493.5,119.2Q493,119.2 492.7,118.7M486,137.3Q486.4,137.2 486.8,137.3M479.7,133.6Q479.9,132.8 480.3,132.2M497.2,128.2Q497.2,127.8 497.3,127.4M493.9,115.4Q494,114.9 494.2,114.5M496.2,129.9Q496.7,130 497.2,130M476.3,135.3Q476.6,134.9 476.5,134.4M481.2,105.8Q480.4,106.3 480.1,107.2M480.8,111.1Q481.4,111.2 482.1,111M440.3,142.1Q439.8,142.5 439.4,142.8M472.2,146.3Q472.5,145.5 472.6,144.7M434.9,132.6Q435.7,132.3 436,131.5M494,136.6Q494.5,137.1 495.1,137.3M493.7,125.4Q494.2,124.8 494.1,124.1M486.6,145.4Q486.8,145.7 487.3,145.8M476.7,111.6Q476.4,111.2 476,110.9M474.5,138.8Q475.8,139.2 477,139.7M491.2,133.5Q491.9,132.8 492.3,131.9M493.9,115.4Q493.6,116 493.2,116.6M471,120.2Q470.7,121 470.7,121.9M446.9,124.8Q447.2,125.1 447.6,125.1M487.3,114.6Q486.9,114.4 486.5,114.6M489,128Q488.3,127.6 487.6,127.8M461.6,112.1Q461.4,111.9 461.4,111.6M491.2,133.5Q490.9,134.2 490.3,134.6M477.8,142.6Q476.6,143.1 475.8,144.2M479.5,103.2Q479.9,103.7 480.5,104.1M451,118.7Q451,118.4 451,118M488.8,109.3Q487.9,108.9 487,108.2M476.6,121.4Q477.5,120.8 478.6,120.9M482.5,118.2Q482.5,118.8 482.6,119.3M470.2,145Q470.6,143.8 470.5,142.6M496.8,135.4Q497.8,134.8 498.9,134.4M473.8,127.9Q472.8,127.4 471.7,127.1M495.2,108.6Q494.6,109.2 494.2,110M482.9,100.9Q483,102.1 484,102.8M455.4,120.7Q455.4,120.7 455.4,120.7M481.4,113.1Q480.9,112.7 480.3,112.9M488.2,130.5Q487.8,130.6 487.4,130.8M453.8,120.7Q453.6,121.4 453,121.6M484.3,122.1Q483.4,122.1 482.8,121.3M487.6,127.8Q486.7,127.9 485.7,128.1M473.7,132.3Q473.3,132.2 473.3,131.8M437.1,133.3Q436.8,133.3 436.5,133.3M489.1,109.6Q488.9,109.5 488.8,109.3M471,145.8Q470.7,145.3 470.2,145M471.7,114Q471.9,114.3 472,114.6M489.4,125.5Q489.2,125.7 489.2,126M484,136.5Q483.7,136.6 483.4,136.8M477.8,116.2Q478.1,115.5 478.5,114.8M493.5,119.2Q493.3,119.1 493.2,119.1M462.5,141.3Q460.8,141.9 459.9,143.5M470.2,145Q469,145.4 468,146.1M479.9,117.2Q479.8,117.5 479.7,117.8M436,131.5Q435.8,132.1 435.3,132.4M495.4,115.1Q495,115 494.7,114.8M473.7,112.2Q473.4,112.2 473.3,112.4M483.2,124Q483.1,124.9 483.8,125.5M494.7,114.8Q494.8,115.5 495.1,116.2M434.7,134.7Q434.4,135.5 434,136.2M487.6,117.4Q487.7,117.5 487.9,117.6M478.6,141.3Q478.9,140.8 479.5,140.5M458.5,114.4Q457.9,113.9 457.9,113.1M483.7,117.2Q483.8,116.9 483.7,116.5M498.9,134.4Q497.9,134 496.8,134.3M433.6,138.2Q434.6,138.3 435.1,139.1M448.7,121.4Q448.5,121.9 448.2,122.3M478.1,135.3Q478.3,134.9 478.5,134.4M461.5,112.5Q461.5,112.3 461.6,112.1M470.5,113.7Q471.1,113.5 471.8,113.7M480.6,146.7Q479.2,147.6 477.5,147.7M493.1,134.8Q492.9,134.7 492.8,134.7M472.5,119.2Q471.9,119.4 471.7,119.9M440.3,142.1Q440.3,141.7 440.6,141.3M485.5,142.3Q485.7,143.1 485.6,143.9M487.4,118.3Q486.9,118.7 486.3,118.8M439,136.2Q439.8,136.9 440.9,136.6M490.8,117.3Q491.2,117 491.7,117.2M463.4,112.3Q463.2,112.4 463.1,112.4M478.1,135.3Q478.4,135 478.8,134.9M446.9,124.8Q447.7,124.5 448.4,124.8M477.8,142.6Q478.4,142.1 478.6,141.3M465.2,112.9Q464.2,112.8 463.4,112.3M471.6,138.7Q471.3,139.2 471.3,139.7M487.7,126.9Q487.8,127.4 487.6,127.8M494.1,134Q493.7,134.4 493.9,134.9M480.9,130.2Q480.3,130.3 479.6,130.2M493.1,134.8Q493.1,134.4 492.9,134.1M454.1,114.8Q454.5,114.9 454.9,115.1M443.3,133.8Q443.6,133.7 443.8,133.5M473.7,132.3Q473.2,132.2 472.8,131.8M472.2,129.7Q471.5,130.2 471.2,130.9M493.7,106.5Q493.2,106.1 492.5,106.1M449.1,117.3Q448.3,116.9 447.6,117.4M495.8,113.6Q496.7,112.2 498.3,111.7M471,139.6Q471.1,139.6 471.3,139.7M471,120.2Q471.8,120.4 472,121.1M473.4,107.2Q473.6,107.3 473.7,107.6M476.2,112Q476.4,111.7 476.7,111.6M489,138Q489.3,139.1 490.4,139.4M486.3,118.8Q485.7,118.6 485.5,117.9M476.7,142.9Q476.4,143.7 475.8,144.2M490.7,116.6Q490.5,116.8 490.5,117.2M481.8,113Q481.6,112.9 481.4,113.1M472,114.6Q472,114.6 471.9,114.5M451.2,124.8Q450.6,124.8 450.1,124.7M485.6,141.3Q485,140.5 484.1,140.1M484,102.8Q483.3,102.5 482.7,102.3M439,136.2Q437.8,135.8 436.7,136.4M462,116.2Q461.6,115.7 461.8,115.2M469.5,111.7Q469.4,112.4 468.9,112.9M442.3,141.9Q443,142.1 443.6,142.4M492.3,141.5Q492.4,141.5 492.5,141.7M469.5,111.7Q469.7,110.7 469.7,109.7M491.7,117.2Q492,116.7 492.5,116.3M488.9,102.5Q489.4,104 490.1,105.5M487,108.2Q486.2,107.4 485,107.4M487.6,141.1Q488.1,141.9 489,142.2M440.7,132.2Q440.9,132.7 440.6,133.2M482.9,104.8Q482.9,105.3 483.1,105.8M491.3,122.9Q490.7,123.2 490.1,123.5M478.8,138.4Q478,138.1 477.1,138.4M481.5,141.3Q481.2,140.3 481.8,139.5M442.6,137.3Q443.5,136.5 444.6,135.9M488.2,130.5Q488.5,130.3 488.9,130.5M439,133.8Q439.5,133.7 439.7,133.2M438.6,140.3Q438,140.9 437.6,141.7" stroke="rgba(75,225,50,0.69)"/>
<path d="M495.8,140.2Q496,138.7 495.1,137.3M435.3,141.3Q435.9,141.5 436.4,141.6M455.8,110.5Q455.5,110.8 455.3,111.2M465.8,113.4Q465.4,113.3 465.2,112.9M490.5,117Q490.6,117.2 490.8,117.3M492.7,118.7Q492.8,119.1 492.6,119.4M492.2,128.5Q491.7,128 491.2,127.6M465.1,125.7Q465.7,126.2 466.4,126.1M459.1,142.2Q458.2,141.9 457.2,142.2M473.4,107.2Q473.9,106 474.1,104.8M469.8,132Q469.6,132.2 469.5,132.5M492.4,109.4Q491.8,110.5 492.4,111.5M495.8,124.7Q495.7,124.8 495.5,124.9M439,133.8Q439.1,133.8 439.1,133.8M478.8,110Q478.7,110.6 479.1,111M492.5,116.3Q492.8,116.5 493.2,116.6M443.8,133.5Q443.5,133 443,132.5M469.5,132.5Q470.1,132.7 470.4,133.2M492.5,106.1Q492.9,106.5 493.1,107M451,118.7Q450.5,118.5 450,118.7M483.2,124Q483.1,124.9 483.4,125.7M494.4,139.2Q494.6,138.3 494.7,137.3M478.7,126.4Q478.5,127.5 478.2,128.5M438.7,140.3Q439.6,140.1 440,139.3M437.1,133.3Q437.5,132.9 437.9,132.4M472.5,111.1Q473.2,111.6 473.3,112.4M446.4,139.4Q445.5,138.7 444.4,139M485,107.4Q484.6,107.7 484.1,107.7M473.7,132.3Q474.3,132.6 474.8,132.9M439.4,142.8Q439.3,142.6 439.3,142.3M472.7,113.3Q472.3,113.3 471.9,113.3M493.7,106.5Q493.5,106.9 493.1,107M493.8,121.7Q494.1,121.2 494.6,120.9M456.2,114.6Q456.4,114.6 456.6,114.4M478.8,138.4Q477.9,139 477,139.7M484.4,144.8Q485.2,144.6 485.6,143.9M480.3,132.2Q480.7,131.2 480.9,130.2M496.8,135.4Q496.9,134.9 496.8,134.3M492.2,128.5Q492.7,128.8 493.4,129.1M487.6,127.8Q487.4,128.3 487.5,128.9M493.6,121.7Q493.8,121.9 494.1,122M490.7,119.8Q490.3,119.3 490.1,118.7M496.6,131.2Q497,130.7 497.2,130M484.3,116.5Q484,116.5 483.7,116.5M471.7,130Q470.7,130 469.9,129.5M446.2,119Q445.8,119.7 445.2,120.1M495.4,115.1Q495.8,114.9 496.1,115.2M457,120.9Q457,120.7 456.9,120.6M455.8,110.5Q457,111.3 457,112.7M441.9,128.1Q440.9,127.6 439.8,128.1M483.7,114.2Q483.1,114.4 482.5,114.5M482.1,108.7Q481.7,107.8 482,106.8M450.6,122.9Q450.9,122.8 451.2,122.9M484.3,122.1Q484.6,122.1 484.8,122M483.1,126.6Q483,126.9 482.9,127.3M483.2,119.4Q483.6,119.3 483.7,118.9M471.7,114Q471.8,113.8 471.8,113.7M457.5,118.9Q458.4,118.7 459.5,118.7M453,121.6Q452.7,121.7 452.6,122M439.5,140.5Q439,140.7 438.6,140.3M482.4,115.5Q481.9,116 481.8,116.7M449.1,114.8Q448.8,116 449.1,117.3M488.1,122.6Q488.1,122.3 487.9,122.1M494,136.6Q494.4,136.9 494.7,137.3M469.3,125.6Q469.4,126.5 469.1,127.4M436.7,140Q435.8,139.7 435.1,139.1M489.9,134.4Q490.1,134.5 490.3,134.6M484.6,138.8Q485.7,138.4 486,137.3M456.7,114.7Q456.6,114.6 456.6,114.4M492.7,118.7Q492.9,118.9 493.2,119.1M481.8,139.5Q481.7,139.3 481.7,139.1M492.4,121.9Q492,121.7 491.7,121.4M451,120Q451.2,120.3 451.1,120.6M488.6,116.5Q487.9,116.7 487.6,117.4M484.1,140.1Q484.1,139.3 484.6,138.8M483.1,105.8Q482.6,106.4 482,106.8M495,133.1Q494.5,133 494.2,132.5M435,138.2Q435.3,138.6 435.1,139.1M439,126.8Q438.9,126.9 438.7,127M440.7,132.2Q440.8,132.7 440.4,133M476.5,134.4Q476.5,135.1 476.1,135.7M487.3,145.8Q486.4,145.9 485.6,146.1M476.8,116.5Q476.6,115.9 476.8,115.4M476.2,112Q475.8,112.6 475.9,113.4M461.8,118.5Q461.9,117.4 462,116.2M480.3,132.2Q479.3,132.4 478.4,131.9M436.4,141.6Q437,141.5 437.6,141.7M476.2,128.1Q476.2,128.6 476.2,129M496.2,125.2Q495.8,125.2 495.5,124.9M452.8,117.7Q452.4,117.6 452.1,117.3M475,128.7Q474.4,128.3 473.8,127.9M475.5,110.4Q475.8,110.6 476,110.9M481.5,141.3Q482,141.6 482.4,142.1M495.4,115.1Q495.1,115.6 495.1,116.2M451,120Q450.9,120.2 450.7,120.3M495.8,124.7Q496.3,124.3 496.4,123.6M481.2,105.8Q481.2,104.8 480.5,104.1M479.4,135.5Q478.9,135.4 478.8,134.9M473.9,124.9Q474,124 474.6,123.2M487.4,118.3Q487.8,118.1 487.9,117.6M457,120.9Q456.9,120.3 456.7,119.7M481,117.2Q481.4,116.9 481.8,116.7M490.1,123.5Q490.5,123.9 490.4,124.4M446.9,121.9Q446.3,121.3 445.4,121.5M494.7,137.3Q494.9,137.3 495.1,137.3M488.6,144.9Q489.6,145.1 490.4,144.5M451.2,122.9Q451.4,122.5 451.6,122.2M459.1,142.2Q460.8,141.7 462.5,141.3M481,117.2Q480.4,117.5 479.9,117.2M455.2,116.7Q455.1,116.9 454.8,117M461.6,112.1Q461.6,112.2 461.6,112.3M441.9,128.1Q442.1,129.1 442.7,129.9M460.8,116.4Q461.4,117.4 461.8,118.5M478,105.3Q478.2,104.2 478.7,103.4M481.5,141.3Q481,140.2 481.7,139.1M480,123Q479.5,123 479.1,122.8M450,117.4Q450.7,117.4 451,118M442.2,137.3Q441.5,136.8 441.5,136M497.3,127.4Q496.8,126.8 496.6,126M472.4,142.3Q472,142.7 471.5,142.9M489.6,117.5Q489.7,117.1 490,116.8M442.2,137.3Q442.4,137.3 442.6,137.3M486.7,105.4Q486.5,105.1 486.1,105.1M482.2,133.1Q482.3,133.1 482.5,133.1M455.3,111.2Q456.1,112.1 457,112.7M471.8,113.7Q471.6,113.2 471.3,113M471,120.2Q471.3,119.9 471.7,119.9M462.6,111.8Q463,112 463.1,112.4M434.9,132.6Q435,132.4 435.3,132.4M492,126.6Q491.8,127.3 491.2,127.6M468.5,122.2Q468.9,123 469.7,123.3M485.3,125.2Q485.6,124.8 485.7,124.2M482.4,144.9Q482.3,145.6 482.5,146.2M442.6,137.3Q442.3,136.4 441.5,136M487.8,136.9Q487.4,137.3 486.8,137.3M494.4,139.2Q495.2,139.6 495.8,140.2M439.5,140.5Q439.1,140.5 438.7,140.3M449.1,117.3Q449.6,117.1 450,117.4M493.9,115.4Q493.8,115.1 493.7,114.8M489.1,109.6Q489.4,109.9 489.8,110M469.8,132Q469.6,131.6 469.7,131.2M480.3,104Q480.4,104.1 480.5,104.1M494.7,114.8Q494.5,114.6 494.2,114.5M452.6,115.8Q453.3,115.1 454.1,114.8M496.1,129.6Q496.1,129.8 496.2,129.9M480.6,107.8Q480.5,107.4 480.1,107.2M472.7,113.3Q473.2,113 473.3,112.4M442.6,131.4Q443,131.9 443,132.5M480,123Q479.4,123.3 479.4,123.9M485.9,117.3Q485.5,117.5 485.5,117.9M487.7,107.5Q487.5,108 487,108.2M486.6,129.8Q487.1,130.2 487.4,130.8M466.6,142.3Q466.8,142.6 467.2,142.7M489.4,125.5Q489.8,124.9 490.4,124.4M485.3,125.2Q486.1,125 486.8,125.5M486.9,121Q487.3,120.7 487.3,120.2M456,117.9Q455.7,117.7 455.4,117.6M445.2,120.1Q445.4,120.8 445.4,121.5M437.9,132.4Q438,132.4 438.2,132.4M490.1,105.5Q491.4,105.2 492.5,106.1M494.1,134Q494.2,134.5 494.5,134.9M478.6,120.9Q479,121.8 479.1,122.8M469.3,125.6Q468.3,125.2 467.3,124.7M491.9,109.2Q492.1,109.3 492.4,109.4M486.6,145.4Q485.9,145.5 485.6,146.1M456,117.9Q456,118.2 455.9,118.5M440.9,136.6Q441.4,137.1 442.2,137.3M496.1,129.6Q496.7,129.6 497.2,130M490,116.8Q490.4,116.9 490.5,117.2M478.2,128.5Q477.3,128.4 476.6,127.8M472.5,111.1Q472.4,110.2 471.6,109.9M468.9,108.5Q469.7,108.8 469.7,109.7M439.5,140.5Q439.7,140.7 439.7,141.1M449,120.3Q449.9,120.1 450.7,120.3M475,128.7Q475.6,128.8 476.2,129M482.1,143.1Q482.1,142.6 482.4,142.1M492.2,141.6Q492.3,141.6 492.5,141.7M455.6,116.6Q455.1,116.7 454.8,117M440.6,133.2Q440.2,133.5 439.7,133.2M484.3,116.5Q484.1,116.9 484.3,117.4" stroke="rgba(75,225,50,0.81)"/>
<path d="M479.5,103.2Q479.1,103.2 478.7,103.4M496.2,125.2Q496.3,125.6 496.6,126M482.6,146.4Q482.7,146.1 482.8,145.9M488.8,115.1Q489.5,114.4 490.2,113.8M487.7,107.5Q487.9,108.7 488.8,109.3M474.9,126.2Q474.8,127.3 473.8,127.9M456.9,120.6Q456.2,120.8 455.4,120.7M444.1,136.4Q444.4,136.2 444.6,135.9M472.7,113.3Q473,113.3 473.2,113.6M487.6,130.7Q487.6,130.8 487.4,130.8M479.4,123.9Q479.2,123.8 479,123.9M485.4,142Q485.4,141.6 485.6,141.3M477.4,113.2Q476.6,113 475.9,113.4M483.9,104.8Q483.5,103.8 484,102.8M457,112.7Q457.4,113.1 457.9,113.1M489.4,120.5Q488.9,119.9 488.2,119.8M446,139Q445.2,138.8 444.4,139M480.3,132.2Q480.6,132.5 481,132.6M487.8,136.9Q488.3,137.6 489,138M460.8,116.4Q461.3,116 462,116.2M471.8,132.2Q471.5,132.6 471.1,132.8M487.9,122.1Q487.6,121.3 486.9,121M436.7,140Q436.7,140.8 436.4,141.6M489.9,134.4Q489.1,133.7 488.1,133.7M480.6,146.7Q480.5,146 480.2,145.4M493.3,113.3Q492.6,112.6 492.4,111.5M456.2,114.6Q456.4,114.8 456.7,114.7M442.7,129.9Q443.6,129.8 444.2,129.1M494.6,129.9Q493.8,129.7 493.4,129.1M438.7,127Q439.1,127.7 439.8,128.1M467.4,142.7Q467.3,142.7 467.2,142.7M482.5,133.1Q482.7,133.6 482.5,134.1M446,139Q444.9,139.3 443.7,139.5M485.4,142Q485.3,142.2 485.5,142.3M485.2,135.9Q485.5,136.7 486,137.3M476.2,128.1Q476.5,128 476.6,127.8M493.3,107.2Q493.2,107.1 493.1,107M438.7,140.3Q438.7,140.3 438.6,140.3M451.6,122.2Q451.6,122.1 451.7,122M451.2,122.9Q450.6,123.8 451.2,124.8M483.7,114.2Q484.2,114.7 485,114.5M490.6,122Q491.3,122 491.7,121.4M483.4,125.7Q483.6,125.5 483.8,125.5M467.3,124.7Q467.2,125.6 466.4,126.1M488.8,115.1Q488.1,114.7 487.3,114.6M489.9,134.4Q490.6,134.1 491.2,133.5M493.7,114.8Q493.9,114.5 494.2,114.5M475.5,110.4Q476.1,111 476.7,111.6M456.9,120.6Q456.9,120.1 456.7,119.7M457.5,118.9Q457.2,119.4 456.7,119.7M440.6,141.3Q441,140.7 441.4,140.1M472,121.1Q471.4,121.6 470.7,121.9M495.5,121.1Q495,121.9 494.1,122M490.8,117.3Q490.6,117.3 490.5,117.2M466.6,142.3Q466.5,141.6 466.8,141.1M495,133.1Q494.6,132.8 494.1,132.9M438.9,129.9Q439.5,130.6 440.3,131M479.5,112.2Q479.3,111.6 479.1,111M446,139Q446.2,139.2 446.4,139.4M474.9,123.3Q474.8,123.2 474.6,123.2M471.7,130Q472,129.9 472.2,129.7M472.4,110.6Q473.2,110.3 473.3,109.4M460.8,116.4Q461.2,115.7 461.8,115.2M477.1,140.7Q478,140.6 478.6,141.3M487.7,107.5Q488.8,106.8 490.1,107.1M436.7,140Q436.2,140.8 435.3,141.3M461.6,112.3Q461.6,111.9 461.4,111.6M450,118.7Q450.6,118.4 451,118M483.1,105.8Q483.2,105.1 483.9,104.8M445.4,121.5Q445.1,121.8 444.7,122M490,112.7Q489.1,112.7 488.3,112.1M471.9,113.3Q471.9,113.5 471.8,113.7M480.3,147.2Q480.7,146.3 480.2,145.4M480.3,104Q479.4,104 478.7,103.4M471.7,114Q471.9,114.2 471.9,114.5M477.8,116.2Q477.2,116 476.8,115.4M483.9,104.8Q485.1,104.4 486.1,105.1M493.6,108.9Q493,108.8 492.5,109.3M478,126.2Q477.5,127.2 476.6,127.8M486.8,125.5Q486.3,124.8 485.7,124.2M473.3,109.4Q473.6,109.2 473.8,109M492.4,109.4Q492.5,109.4 492.5,109.3M468.6,137.1Q469,138.6 470.4,139M478.5,114.8Q477.6,115 476.8,115.4M488.2,119.8Q487.7,120 487.3,120.2M463.1,123Q461.5,122.5 459.9,122.7M480.6,107.8Q481.4,107.4 482,106.8M482.8,111.1Q482.5,111 482.1,111M490.5,117Q490.6,117.1 490.5,117.2M450.6,122.9Q451.1,122.5 451.6,122.2M480.6,107.8Q481.1,108.6 482.1,108.7M452.8,117.7Q452.9,118 453,118.3M472.2,118Q471.7,118.9 471.7,119.9M446.6,127.1Q447.3,126.2 447.6,125.1M463.1,123Q463.2,123.5 463.3,124.1M477.1,138.4Q476.8,138.2 476.4,138M469.7,134.3Q470.3,134 470.4,133.2M481.8,113Q482.1,113.1 482.5,113.1M496.2,125.2Q496.1,124.8 495.8,124.7M494.9,122.9Q494.8,123.7 494.1,124.1M455.6,116.6Q455.4,116.7 455.2,116.7M477.1,140.7Q477,140.2 477,139.7M465.1,122.4Q465.7,121.6 465.4,120.6M491.9,109.2Q492.2,109 492.5,109.3M492.4,121.9Q493,121.8 493.6,121.7M495.5,121.1Q495.1,120.8 494.6,120.9M486.7,114Q486.6,114.3 486.5,114.6M478.6,109.1Q478.5,108.1 478.1,107.2M481.5,141.3Q480.4,141.2 479.5,140.5M489.1,130.6Q488.6,130.8 488.2,130.5M458.5,114.4Q457.7,114.8 456.7,114.7M493.8,121.7Q493.7,121.7 493.6,121.7M474,135.7Q473.8,135.7 473.7,135.6M443.3,133.8Q442.8,133.2 443,132.5M496.8,134.3Q496.1,134.2 495.4,134M472.4,110.6Q472.2,110 471.6,109.9M477.4,113.2Q477.1,112.3 476.2,112M482.1,143.1Q482,144.1 482.4,144.9M473.4,107.2Q473.2,108.2 473.8,109M471.2,123.6Q470.7,122.8 470.7,121.9M433.6,138.2Q434.2,137.3 434,136.2M496,114.1Q496,114.6 496.1,115.2M482.6,146.4Q482.6,146.3 482.5,146.2M476.6,130.2Q476.1,129.7 476.2,129M471.2,123.6Q470.5,123.2 469.7,123.3M434.9,132.6Q434.1,133.1 433.9,134M452.6,115.8Q452.7,116.7 452.1,117.3M494.9,111.7Q495.1,112.8 495.8,113.6M481.2,105.8Q481.5,106.4 482,106.8M478,105.3Q478.2,106.2 478.1,107.2M469.7,109.7Q469.1,109.7 468.6,109.8M444.1,128.2Q444.3,128.7 444.2,129.1M479.7,133.6Q479.3,134.3 478.5,134.4M487.4,118.3Q487.7,117.9 487.6,117.4M460.8,121.2Q460.5,122 459.9,122.7M496.8,135.4Q496.1,134.7 495.4,134M482.7,134.4Q482.6,134.3 482.5,134.1M479.5,112.2Q480,112.4 480.3,112.9M488.1,127.4Q487.8,127.2 487.7,126.9M483.2,119.4Q482.9,119.2 482.6,119.3M492.9,134.1Q493,134.4 492.8,134.7M440.9,136.6Q441.3,136.5 441.5,136M439,133.8Q439.1,134.6 439.1,135.4M471.9,113.3Q471.5,113.3 471.3,113M493.6,108.9Q493.7,109.6 494.2,110M476.2,129Q476.7,128.5 476.6,127.8M492.3,141.5Q492.2,141.5 492.2,141.6M466.6,142.3Q467.1,142.3 467.4,142.7M478.4,117.3Q478.6,117.5 478.7,117.7M483.2,119.4Q483.2,118.6 482.5,118.2M474.8,132.9Q475.5,132.7 475.7,132.1M461.8,118.5Q460.6,118.4 459.5,118.7M473.3,112.4Q473.5,113.1 474,113.4M459.1,142.2Q459.2,143 459.9,143.5M489.8,143.2Q490.2,142.3 489.9,141.5M440.3,134.2Q440.6,133.8 440.6,133.2M460.8,112.1Q461.1,112.4 461.5,112.5M473.2,113.6Q473.6,113.4 474,113.4M483.4,136.8Q483.7,136.7 483.8,136.4M463.4,112.3Q463,112.1 462.6,111.8M484.8,122Q483.7,122.1 482.8,121.3M492.2,124.7Q491.3,124.8 490.4,124.4M467.5,138.3Q468,139.2 467.8,140.2M494.1,132.9Q494.1,132.7 494.2,132.5M463,110.1Q462.7,110.9 462.6,111.8M440.4,133Q440.1,133.1 439.7,133.2M485.2,128.3Q484.9,127.4 484.6,126.5M488.8,109.3Q489.1,109.9 489.8,110M493.8,121.7Q493.9,121.9 494.1,122M487.9,129.3Q487.7,130 488.2,130.5M487.3,114.6Q487.4,114.1 487.7,113.8M440.9,143.6Q442.4,143.4 443.6,142.4M465.8,113.4Q464.9,114.1 464.6,115.2M488.9,120.5Q488.5,120.2 488.2,119.8M469.7,131.2Q470.2,130.4 469.9,129.5M473.8,109Q473.5,108.3 473.7,107.6M493.1,134.8Q493.5,134.7 493.9,134.9M483.8,125.5Q484.3,126 484.6,126.5M486.8,125.5Q487,125.5 487.2,125.5M470.5,113.7Q469.5,113.7 468.9,112.9M480.3,147.2Q478.9,147.5 477.5,147.7M471.1,132.8Q470.7,133 470.4,133.2M440.3,131Q440.6,130.8 440.7,130.4M465.1,125.7Q464.4,124.6 463.3,124.1M488.8,115.1Q489.1,115.9 488.6,116.5M489.8,143.2Q490.2,143.8 490.4,144.5M479.5,110.8Q480.1,111 480.8,111.1M469.7,134.3Q469.6,133.4 469.5,132.5M471.8,132.2Q471.4,131.6 471.2,130.9M448.4,124.8Q448,125.2 447.6,125.1M488.1,133.7Q489.1,134.4 490.3,134.6M492.6,119.4Q492.1,119.1 491.5,119.1M439.1,133.8Q439.3,133.4 439.7,133.2M477.1,138.4Q477.4,139.1 477,139.7M476.2,112Q476,111.4 476,110.9M485.9,117.3Q486.4,117.9 486.3,118.8M472.4,142.3Q472.4,141.9 472.4,141.5M480.3,147.2Q480.6,147 480.6,146.7M487.7,107.5Q486.7,106.8 486.7,105.4" stroke="rgba(75,225,50,0.94)"/>
</g>
<ellipse cx="457" cy="133" rx="13" ry="9.5" transform="rotate(0 457 133)" fill="none" stroke="rgba(80,230,55,0.90)" stroke-width="1.8" filter="url(#blur03)"/>
<circle cx="445" cy="155" r="1.4" fill="rgba(60,200,40,0.8)" filter="url(#blur03)"/>
<circle cx="461" cy="154" r="1.4" fill="rgba(60,200,40,0.8)" filter="url(#blur03)"/>
<circle cx="452" cy="160" r="1" fill="rgba(60,200,40,0.8)" filter="url(#blur03)"/>
</g>
<line x1="300.5" y1="31.1" x2="300.5" y2="162.9" stroke="#bdbdbd" stroke-width="0.8"/>
<line x1="367.1" y1="31.1" x2="367.1" y2="162.9" stroke="#bdbdbd" stroke-width="0.8"/>
<line x1="433.4" y1="31.1" x2="433.4" y2="162.9" stroke="#bdbdbd" stroke-width="0.8"/>
<line x1="235.2" y1="97" x2="499.2" y2="97" stroke="#bdbdbd" stroke-width="1"/>
<rect x="256" y="58" width="13.8" height="13" fill="none" stroke="#a8a8a8" stroke-width="0.8"/>
<line x1="256" y1="71" x2="235.2" y2="97" stroke="#d4d4d4" stroke-width="0.8"/>
<line x1="269.8" y1="71" x2="300.5" y2="97" stroke="#d4d4d4" stroke-width="0.8"/>
<rect x="322.5" y="49" width="14.2" height="13.3" fill="none" stroke="#a8a8a8" stroke-width="0.8"/>
<line x1="322.5" y1="62.3" x2="300.5" y2="97" stroke="#d4d4d4" stroke-width="0.8"/>
<line x1="336.7" y1="62.3" x2="367.1" y2="97" stroke="#d4d4d4" stroke-width="0.8"/>
<rect x="372.8" y="52.9" width="13.7" height="13.3" fill="none" stroke="#a8a8a8" stroke-width="0.8"/>
<line x1="372.8" y1="66.2" x2="367.1" y2="97" stroke="#d4d4d4" stroke-width="0.8"/>
<line x1="386.5" y1="66.2" x2="433.4" y2="97" stroke="#d4d4d4" stroke-width="0.8"/>
<rect x="455.4" y="50.2" width="13.3" height="13.1" fill="none" stroke="#a8a8a8" stroke-width="0.8"/>
<line x1="455.4" y1="63.3" x2="433.4" y2="97" stroke="#d4d4d4" stroke-width="0.8"/>
<line x1="468.7" y1="63.3" x2="499.2" y2="97" stroke="#d4d4d4" stroke-width="0.8"/>
<line x1="474.6" y1="94" x2="489.3" y2="94" stroke="#fff" stroke-width="1"/>
<text x="482" y="92.4" font-size="5.2" text-anchor="middle" fill="#fff">50 μm</text>
<line x1="474.6" y1="160.4" x2="489.7" y2="160.4" stroke="#fff" stroke-width="1"/>
<text x="482.1" y="158.8" font-size="5.2" text-anchor="middle" fill="#fff">10 μm</text>
<text x="56.5" y="357.8" font-size="7" text-anchor="middle" fill="#000">Veh</text>
<text x="122.8" y="357.8" font-size="7" text-anchor="middle" fill="#000">IL-1β</text>
<text x="188.9" y="357.8" font-size="7.3" text-anchor="middle" fill="#000">IL-1β+TEPP-46 10μM</text>
<text x="262.9" y="357.8" font-size="7.3" text-anchor="middle" fill="#000">IL-1β+TEPP-46 50μM</text>
<text x="21.6" y="394.2" font-size="7.7" text-anchor="middle" fill="#000" transform="rotate(-90 21.6 394.2)">mitotracker</text>
<text x="21.4" y="460" font-size="7.6" text-anchor="middle" fill="#000" transform="rotate(-90 21.4 460)">Zoom-in</text>
<g clip-path="url(#cp9)">
<rect x="23.4" y="361.5" width="66.2" height="66.1" fill="#030a03" stroke="none" stroke-width="0.8"/>
<line x1="38.4" y1="366" x2="25" y2="368.6" stroke="rgba(50,170,35,0.38)" stroke-width="0.9"/>
<line x1="47.7" y1="391.8" x2="44.7" y2="385" stroke="rgba(50,170,35,0.38)" stroke-width="0.9"/>
<line x1="53.2" y1="381.4" x2="40.4" y2="378.5" stroke="rgba(50,170,35,0.38)" stroke-width="0.9"/>
<line x1="47.7" y1="391.8" x2="55.8" y2="402.5" stroke="rgba(50,170,35,0.38)" stroke-width="0.9"/>
<line x1="57" y1="364.4" x2="64.7" y2="367.5" stroke="rgba(50,170,35,0.38)" stroke-width="0.9"/>
<line x1="81.7" y1="397.2" x2="73.8" y2="395.9" stroke="rgba(50,170,35,0.38)" stroke-width="0.9"/>
<g filter="url(#blur06)">
<path d="M38.1,369.7 Q36.6,370.7 36.1,369.8 Q35.6,369 36.1,366.6 Q36.6,364.2 37.8,362.6 Q39,361 39.7,361.9 Q40.4,362.9 40.6,363.9 Q40.8,364.9 40.2,366.8 Q39.5,368.6 38.1,369.7 Z" fill="rgba(45,175,32,0.53)"/>
<ellipse cx="38.9" cy="365.8" rx="1.5" ry="1.4" transform="rotate(106.8 38.9 365.8)" fill="rgba(5,30,5,0.45)" stroke="rgba(80,225,55,0.58)" stroke-width="0.9"/>
<path d="M58.5,381.2 Q59.3,383.7 58,385 Q56.7,386.4 53.4,386.8 Q50.1,387.3 48.4,384.5 Q46.8,381.8 46.6,379.6 Q46.3,377.4 49.6,376.3 Q52.9,375.2 55.3,377 Q57.8,378.7 58.5,381.2 Z" fill="rgba(45,175,32,0.43)"/>
<ellipse cx="53.6" cy="380.8" rx="3" ry="2.8" transform="rotate(15.5 53.6 380.8)" fill="rgba(5,30,5,0.45)" stroke="rgba(80,225,55,0.47)" stroke-width="0.9"/>
<path d="M45.1,395 Q43,394.7 43.6,393.1 Q44.1,391.6 44.3,389.7 Q44.5,387.9 47.2,387.1 Q49.9,386.4 50.7,388.7 Q51.6,390.9 51.9,392.7 Q52.2,394.4 49.7,394.8 Q47.2,395.2 45.1,395 Z" fill="rgba(45,175,32,0.46)"/>
<ellipse cx="47.2" cy="391.5" rx="2.4" ry="2.1" transform="rotate(139 47.2 391.5)" fill="rgba(5,30,5,0.45)" stroke="rgba(80,225,55,0.51)" stroke-width="0.9"/>
<path d="M43.8,402.9 Q43.6,404.1 42.1,403.4 Q40.7,402.7 40.3,400.9 Q40,399 40.2,397.4 Q40.3,395.7 40.6,395 Q40.9,394.3 42.3,395.7 Q43.7,397 43.8,399.4 Q44,401.8 43.8,402.9 Z" fill="rgba(45,175,32,0.51)"/>
<ellipse cx="41.8" cy="399.5" rx="1.1" ry="1" transform="rotate(72.5 41.8 399.5)" fill="rgba(5,30,5,0.45)" stroke="rgba(80,225,55,0.56)" stroke-width="0.9"/>
<path d="M70.1,396.7 Q68.3,398.1 66.8,397 Q65.3,395.9 64.5,393.1 Q63.7,390.3 64.9,389.4 Q66,388.5 67.9,387.8 Q69.8,387.2 70.7,389.4 Q71.5,391.5 71.7,393.4 Q71.9,395.3 70.1,396.7 Z" fill="rgba(45,175,32,0.48)"/>
<ellipse cx="68.7" cy="392.4" rx="2.5" ry="2.3" transform="rotate(87.4 68.7 392.4)" fill="rgba(5,30,5,0.45)" stroke="rgba(80,225,55,0.53)" stroke-width="0.9"/>
<path d="M80.7,379.9 Q78.4,378.8 78.2,376.8 Q78,374.7 79.5,373 Q81.1,371.3 82.7,371.7 Q84.3,372.1 85.7,373.6 Q87.2,375.1 86.5,377.1 Q85.8,379.1 84.4,380 Q82.9,380.9 80.7,379.9 Z" fill="rgba(45,175,32,0.56)"/>
<ellipse cx="82.6" cy="375.4" rx="2.7" ry="2.4" transform="rotate(142 82.6 375.4)" fill="rgba(5,30,5,0.45)" stroke="rgba(80,225,55,0.61)" stroke-width="0.9"/>
<path d="M83.6,386.1 Q83.9,386.9 82.7,386.6 Q81.5,386.4 80.6,386 Q79.7,385.6 79.3,384.2 Q78.9,382.9 79.7,382.4 Q80.5,381.9 81.7,382.7 Q82.8,383.5 83.1,384.4 Q83.3,385.3 83.6,386.1 Z" fill="rgba(45,175,32,0.53)"/>
<ellipse cx="81.7" cy="385.1" rx="1" ry="0.9" transform="rotate(52.7 81.7 385.1)" fill="rgba(5,30,5,0.45)" stroke="rgba(80,225,55,0.58)" stroke-width="0.9"/>
<path d="M85.3,399.6 Q84.2,400.5 83.3,401 Q82.4,401.5 80.5,399.8 Q78.7,398.1 78.3,396.7 Q78,395.3 79.4,394.5 Q80.9,393.8 82.2,393.3 Q83.6,392.8 85,395.7 Q86.5,398.6 85.3,399.6 Z" fill="rgba(45,175,32,0.43)"/>
<ellipse cx="82.3" cy="397.1" rx="2" ry="1.8" transform="rotate(49.3 82.3 397.1)" fill="rgba(5,30,5,0.45)" stroke="rgba(80,225,55,0.47)" stroke-width="0.9"/>
<path d="M57.6,415.6 Q56.7,415.6 54.7,414.1 Q52.7,412.5 54.3,410.4 Q56,408.3 57.1,407.6 Q58.3,407 60,408 Q61.7,409.1 62.6,410.5 Q63.5,412 61,413.8 Q58.6,415.7 57.6,415.6 Z" fill="rgba(45,175,32,0.42)"/>
<ellipse cx="57.5" cy="411.7" rx="2.3" ry="2.1" transform="rotate(117.4 57.5 411.7)" fill="rgba(5,30,5,0.45)" stroke="rgba(80,225,55,0.46)" stroke-width="0.9"/>
<path d="M68.9,370 Q67.8,369.5 67.2,368.1 Q66.5,366.6 67.4,365.6 Q68.2,364.6 70.2,364.7 Q72.2,364.8 73,365.8 Q73.9,366.9 74.1,368.4 Q74.4,369.8 72.1,370.2 Q69.9,370.6 68.9,370 Z" fill="rgba(45,175,32,0.50)"/>
<ellipse cx="70.3" cy="368.4" rx="2.1" ry="1.9" transform="rotate(138.3 70.3 368.4)" fill="rgba(5,30,5,0.45)" stroke="rgba(80,225,55,0.55)" stroke-width="0.9"/>
<path d="M59.6,365.1 Q58.7,366.5 58,367 Q57.4,367.4 55.9,366.9 Q54.5,366.3 54.4,364.7 Q54.3,363.1 55.3,362.5 Q56.2,361.8 57.6,361.7 Q59.1,361.6 59.8,362.6 Q60.4,363.7 59.6,365.1 Z" fill="rgba(45,175,32,0.42)"/>
<ellipse cx="57.1" cy="363.7" rx="1.5" ry="1.4" transform="rotate(43.1 57.1 363.7)" fill="rgba(5,30,5,0.45)" stroke="rgba(80,225,55,0.46)" stroke-width="0.9"/>
</g>
<rect x="23.4" y="361.5" width="66.2" height="66.1" fill="#000" stroke="none" stroke-width="0.8" filter="url(#speckD)" opacity="0.45"/>
</g>
<g clip-path="url(#cp10)">
<rect x="89.6" y="361.5" width="66.4" height="66.1" fill="#030a03" stroke="none" stroke-width="0.8"/>
<line x1="108.7" y1="388.5" x2="115.4" y2="385.2" stroke="rgba(50,170,35,0.38)" stroke-width="0.9"/>
<line x1="95.6" y1="401.1" x2="82.4" y2="401.4" stroke="rgba(50,170,35,0.38)" stroke-width="0.9"/>
<line x1="105.4" y1="379.7" x2="101.2" y2="388" stroke="rgba(50,170,35,0.38)" stroke-width="0.9"/>
<line x1="109.3" y1="370.4" x2="94" y2="368.2" stroke="rgba(50,170,35,0.38)" stroke-width="0.9"/>
<line x1="154.7" y1="370.4" x2="150.6" y2="374.8" stroke="rgba(50,170,35,0.38)" stroke-width="0.9"/>
<line x1="132.8" y1="374.2" x2="122.1" y2="372.5" stroke="rgba(50,170,35,0.38)" stroke-width="0.9"/>
<g filter="url(#blur06)">
<path d="M92.7,375.5 Q91.3,375.1 92,373.8 Q92.6,372.6 93.6,370.6 Q94.6,368.6 96.5,368.3 Q98.3,368 99.3,369.1 Q100.2,370.3 99.4,371.6 Q98.7,372.9 96.4,374.5 Q94.1,376 92.7,375.5 Z" fill="rgba(45,175,32,0.38)"/>
<ellipse cx="95.7" cy="372.5" rx="1.6" ry="1.4" transform="rotate(139.1 95.7 372.5)" fill="rgba(5,30,5,0.45)" stroke="rgba(80,225,55,0.42)" stroke-width="0.9"/>
<path d="M113.8,373.3 Q112.7,373.9 110.9,373.9 Q109.2,374 106.8,372.8 Q104.4,371.6 104.3,369.5 Q104.3,367.4 106.4,367.1 Q108.6,366.8 109.7,367.1 Q110.8,367.4 112.9,370 Q114.9,372.7 113.8,373.3 Z" fill="rgba(45,175,32,0.32)"/>
<ellipse cx="108.7" cy="370" rx="2.2" ry="2" transform="rotate(53.9 108.7 370)" fill="rgba(5,30,5,0.45)" stroke="rgba(80,225,55,0.35)" stroke-width="0.9"/>
<path d="M109.1,393.6 Q107.6,394.5 106.6,393.2 Q105.7,391.9 105.9,389.6 Q106.1,387.2 107.1,384.3 Q108.1,381.3 109.3,382.5 Q110.5,383.6 110.9,385.7 Q111.4,387.9 111,390.3 Q110.7,392.7 109.1,393.6 Z" fill="rgba(45,175,32,0.31)"/>
<ellipse cx="108.5" cy="389" rx="1.7" ry="1.5" transform="rotate(99.4 108.5 389)" fill="rgba(5,30,5,0.45)" stroke="rgba(80,225,55,0.35)" stroke-width="0.9"/>
<path d="M102.9,380.8 Q102,380.2 102.2,379.2 Q102.4,378.2 104.1,378.2 Q105.8,378.3 107.3,378.1 Q108.8,377.9 109.3,378.9 Q109.7,379.8 107.9,380.6 Q106,381.4 104.9,381.4 Q103.7,381.4 102.9,380.8 Z" fill="rgba(45,175,32,0.50)"/>
<ellipse cx="106.2" cy="379.6" rx="1" ry="0.9" transform="rotate(172.4 106.2 379.6)" fill="rgba(5,30,5,0.45)" stroke="rgba(80,225,55,0.55)" stroke-width="0.9"/>
<path d="M128.2,376.7 Q126,375.5 126.8,374 Q127.5,372.5 130.2,371.4 Q132.9,370.3 134.7,371.3 Q136.4,372.2 137.4,373.7 Q138.4,375.1 136.3,376.7 Q134.1,378.2 132.3,378.1 Q130.5,377.9 128.2,376.7 Z" fill="rgba(45,175,32,0.57)"/>
<ellipse cx="132.3" cy="374.2" rx="1.9" ry="1.7" transform="rotate(169.2 132.3 374.2)" fill="rgba(5,30,5,0.45)" stroke="rgba(80,225,55,0.63)" stroke-width="0.9"/>
<path d="M130.1,392.4 Q130.4,394.4 128.6,394.3 Q126.7,394.3 124.7,392.3 Q122.7,390.3 122.2,387.7 Q121.7,385.2 123.5,384.8 Q125.3,384.4 126.4,384.7 Q127.5,384.9 128.6,387.7 Q129.8,390.5 130.1,392.4 Z" fill="rgba(45,175,32,0.42)"/>
<ellipse cx="125.8" cy="388.8" rx="2" ry="1.8" transform="rotate(57.9 125.8 388.8)" fill="rgba(5,30,5,0.45)" stroke="rgba(80,225,55,0.46)" stroke-width="0.9"/>
<path d="M156.6,384.7 Q155.7,386 154.1,385.8 Q152.6,385.6 151.8,384.3 Q151.1,383 150.1,381.6 Q149.1,380.3 150.9,379.4 Q152.7,378.5 154.3,379.3 Q156,380.2 156.8,381.8 Q157.6,383.3 156.6,384.7 Z" fill="rgba(45,175,32,0.39)"/>
<ellipse cx="152.8" cy="383.1" rx="1.8" ry="1.7" transform="rotate(60.9 152.8 383.1)" fill="rgba(5,30,5,0.45)" stroke="rgba(80,225,55,0.43)" stroke-width="0.9"/>
<path d="M99.6,399.9 Q99.9,401.8 99.1,403 Q98.3,404.2 96.7,404.8 Q95.1,405.3 93.4,403.6 Q91.8,401.9 91.6,400.1 Q91.5,398.3 93.1,397.6 Q94.6,396.9 97,397.5 Q99.3,398 99.6,399.9 Z" fill="rgba(45,175,32,0.33)"/>
<ellipse cx="94.9" cy="401" rx="2.1" ry="1.9" transform="rotate(4.7 94.9 401)" fill="rgba(5,30,5,0.45)" stroke="rgba(80,225,55,0.36)" stroke-width="0.9"/>
<path d="M111,404.1 Q108.7,404.2 107,404 Q105.3,403.8 105.6,401.8 Q106,399.7 107.6,398.3 Q109.3,396.9 110.9,397.3 Q112.5,397.6 113.5,399.4 Q114.5,401.1 113.9,402.5 Q113.3,403.9 111,404.1 Z" fill="rgba(45,175,32,0.49)"/>
<ellipse cx="109.2" cy="399.8" rx="2.3" ry="2.1" transform="rotate(99.6 109.2 399.8)" fill="rgba(5,30,5,0.45)" stroke="rgba(80,225,55,0.54)" stroke-width="0.9"/>
<path d="M115.4,415.5 Q116.1,416.8 113.9,417.2 Q111.7,417.6 110.3,416 Q108.9,414.4 107.1,412.5 Q105.3,410.5 106.6,409.6 Q107.8,408.8 110,409.2 Q112.2,409.7 113.4,411.9 Q114.6,414.1 115.4,415.5 Z" fill="rgba(45,175,32,0.48)"/>
<ellipse cx="111.2" cy="413.7" rx="1.6" ry="1.5" transform="rotate(41.6 111.2 413.7)" fill="rgba(5,30,5,0.45)" stroke="rgba(80,225,55,0.53)" stroke-width="0.9"/>
<path d="M129.9,414.4 Q129.7,416.6 128.9,417.4 Q128,418.2 125.3,417.9 Q122.6,417.5 121.5,415.5 Q120.4,413.5 120.3,411.3 Q120.3,409.1 123,409.8 Q125.6,410.6 127.9,411.4 Q130.2,412.2 129.9,414.4 Z" fill="rgba(45,175,32,0.45)"/>
<ellipse cx="125" cy="413.6" rx="1.9" ry="1.8" transform="rotate(26.7 125 413.6)" fill="rgba(5,30,5,0.45)" stroke="rgba(80,225,55,0.50)" stroke-width="0.9"/>
<path d="M132.9,402.7 Q133.1,403.9 132.3,404.6 Q131.6,405.3 129.7,405.4 Q127.8,405.5 126.8,404.9 Q125.9,404.3 125.1,403.1 Q124.4,402 126.8,401.6 Q129.2,401.3 130.9,401.4 Q132.6,401.5 132.9,402.7 Z" fill="rgba(45,175,32,0.42)"/>
<ellipse cx="130" cy="404.2" rx="1.3" ry="1.2" transform="rotate(3.1 130 404.2)" fill="rgba(5,30,5,0.45)" stroke="rgba(80,225,55,0.46)" stroke-width="0.9"/>
<path d="M136.3,403.3 Q135.4,402.9 135.4,401.3 Q135.4,399.7 136.6,398.8 Q137.7,397.9 139.5,397.4 Q141.3,396.9 141.5,398.6 Q141.7,400.3 141.1,401.4 Q140.4,402.5 138.8,403.1 Q137.2,403.7 136.3,403.3 Z" fill="rgba(45,175,32,0.51)"/>
<ellipse cx="138.8" cy="401.2" rx="1.8" ry="1.6" transform="rotate(149.9 138.8 401.2)" fill="rgba(5,30,5,0.45)" stroke="rgba(80,225,55,0.56)" stroke-width="0.9"/>
<path d="M136.7,417.3 Q137,418.4 135.8,419.6 Q134.7,420.8 133.4,420.1 Q132.1,419.5 130.9,417.8 Q129.7,416.2 130.5,415.3 Q131.3,414.4 133,414.3 Q134.7,414.3 135.5,415.2 Q136.3,416.1 136.7,417.3 Z" fill="rgba(45,175,32,0.58)"/>
<ellipse cx="133.8" cy="416.7" rx="1.7" ry="1.5" transform="rotate(26 133.8 416.7)" fill="rgba(5,30,5,0.45)" stroke="rgba(80,225,55,0.64)" stroke-width="0.9"/>
<path d="M111.3,426.2 Q110.8,424.7 111.2,423.4 Q111.7,422.2 113.3,421.3 Q115,420.3 116.3,421.3 Q117.5,422.4 118.7,423.2 Q119.8,424.1 118.2,425.1 Q116.5,426 114.2,426.9 Q111.8,427.8 111.3,426.2 Z" fill="rgba(45,175,32,0.32)"/>
<ellipse cx="113.5" cy="423.5" rx="1.7" ry="1.5" transform="rotate(164.1 113.5 423.5)" fill="rgba(5,30,5,0.45)" stroke="rgba(80,225,55,0.35)" stroke-width="0.9"/>
<path d="M153.9,372.3 Q152.8,372.6 152.7,371.6 Q152.7,370.6 153.3,369.5 Q154,368.3 155,368.2 Q155.9,368.2 156.7,368.4 Q157.6,368.6 156.9,369.9 Q156.3,371.1 155.6,371.6 Q154.9,372.1 153.9,372.3 Z" fill="rgba(45,175,32,0.35)"/>
<ellipse cx="155.4" cy="370.6" rx="0.9" ry="0.9" transform="rotate(129.3 155.4 370.6)" fill="rgba(5,30,5,0.45)" stroke="rgba(80,225,55,0.38)" stroke-width="0.9"/>
</g>
<rect x="89.6" y="361.5" width="66.4" height="66.1" fill="#000" stroke="none" stroke-width="0.8" filter="url(#speckD)" opacity="0.45"/>
</g>
<g clip-path="url(#cp11)">
<rect x="156" y="361.5" width="66.8" height="66.1" fill="#030a03" stroke="none" stroke-width="0.8"/>
<line x1="212.2" y1="369.9" x2="202.6" y2="359.5" stroke="rgba(50,170,35,0.38)" stroke-width="0.9"/>
<line x1="177.7" y1="392.5" x2="163" y2="394.5" stroke="rgba(50,170,35,0.38)" stroke-width="0.9"/>
<line x1="174.7" y1="419.2" x2="181.3" y2="414.9" stroke="rgba(50,170,35,0.38)" stroke-width="0.9"/>
<line x1="161.9" y1="410.3" x2="156.4" y2="421.9" stroke="rgba(50,170,35,0.38)" stroke-width="0.9"/>
<line x1="207.3" y1="406.3" x2="192.8" y2="411.5" stroke="rgba(50,170,35,0.38)" stroke-width="0.9"/>
<line x1="180.6" y1="369.5" x2="177.7" y2="378.1" stroke="rgba(50,170,35,0.38)" stroke-width="0.9"/>
<g filter="url(#blur06)">
<path d="M166.5,376 Q165.6,377.2 164.3,376.3 Q163.1,375.5 163,372.9 Q163,370.3 163.8,369.4 Q164.7,368.4 165.9,368.1 Q167.1,367.8 167.9,368.6 Q168.8,369.4 168,372.1 Q167.3,374.8 166.5,376 Z" fill="rgba(45,175,32,0.48)"/>
<ellipse cx="165.5" cy="371.4" rx="1.4" ry="1.3" transform="rotate(89.3 165.5 371.4)" fill="rgba(5,30,5,0.45)" stroke="rgba(80,225,55,0.53)" stroke-width="0.9"/>
<path d="M180.7,379.5 Q181.1,381.6 179.6,381.2 Q178,380.8 175.8,379.9 Q173.7,379 172.6,375.7 Q171.4,372.4 172.6,372.4 Q173.8,372.4 175.4,372.9 Q177.1,373.4 178.7,375.4 Q180.3,377.5 180.7,379.5 Z" fill="rgba(45,175,32,0.45)"/>
<ellipse cx="176.2" cy="376.3" rx="1.7" ry="1.5" transform="rotate(49.1 176.2 376.3)" fill="rgba(5,30,5,0.45)" stroke="rgba(80,225,55,0.50)" stroke-width="0.9"/>
<path d="M180,373.2 Q178.6,373.7 178.1,372 Q177.6,370.4 177.8,369.1 Q178.1,367.9 179.7,366.2 Q181.3,364.5 182.7,364.9 Q184,365.2 184,367.2 Q184,369.1 182.7,370.9 Q181.3,372.7 180,373.2 Z" fill="rgba(45,175,32,0.44)"/>
<ellipse cx="181.2" cy="369.8" rx="1.7" ry="1.5" transform="rotate(117.7 181.2 369.8)" fill="rgba(5,30,5,0.45)" stroke="rgba(80,225,55,0.48)" stroke-width="0.9"/>
<path d="M193.6,378.8 Q193,380.1 192,381.6 Q190.9,383.2 189,382.1 Q187,381 186.2,379.5 Q185.4,377.9 185.7,375.9 Q186,373.9 188,375 Q190,376.2 192.1,376.9 Q194.2,377.6 193.6,378.8 Z" fill="rgba(45,175,32,0.48)"/>
<ellipse cx="189.2" cy="378.1" rx="1.9" ry="1.7" transform="rotate(29.4 189.2 378.1)" fill="rgba(5,30,5,0.45)" stroke="rgba(80,225,55,0.53)" stroke-width="0.9"/>
<path d="M207.9,377.9 Q207.8,379.4 205.8,380.8 Q203.8,382.2 201.9,380.5 Q200,378.8 198.8,376.9 Q197.6,374.9 199.2,373.5 Q200.8,372.1 202.7,372.6 Q204.7,373.1 206.4,374.8 Q208.1,376.5 207.9,377.9 Z" fill="rgba(45,175,32,0.48)"/>
<ellipse cx="203.7" cy="376.4" rx="2.2" ry="2" transform="rotate(33.3 203.7 376.4)" fill="rgba(5,30,5,0.45)" stroke="rgba(80,225,55,0.53)" stroke-width="0.9"/>
<path d="M216.7,369.7 Q216.4,371.2 216.3,372.5 Q216.1,373.9 213.5,373.6 Q210.8,373.4 208.8,371.4 Q206.8,369.4 207.5,368 Q208.2,366.6 209.4,366.2 Q210.5,365.8 213.7,367 Q216.9,368.1 216.7,369.7 Z" fill="rgba(45,175,32,0.47)"/>
<ellipse cx="212.7" cy="369.3" rx="1.7" ry="1.5" transform="rotate(16.6 212.7 369.3)" fill="rgba(5,30,5,0.45)" stroke="rgba(80,225,55,0.52)" stroke-width="0.9"/>
<path d="M223.2,374.6 Q223.2,375.5 222.8,376.1 Q222.3,376.6 219.6,376.8 Q216.9,376.9 214.9,375.9 Q212.9,374.9 213.5,373.8 Q214.1,372.8 216,373 Q217.8,373.2 220.5,373.4 Q223.2,373.7 223.2,374.6 Z" fill="rgba(45,175,32,0.53)"/>
<ellipse cx="218.8" cy="374.2" rx="1.2" ry="1.1" transform="rotate(7.1 218.8 374.2)" fill="rgba(5,30,5,0.45)" stroke="rgba(80,225,55,0.58)" stroke-width="0.9"/>
<path d="M168.5,388.1 Q168.3,389.8 167.1,389.7 Q165.9,389.7 164.6,388.2 Q163.3,386.6 163,384.7 Q162.7,382.7 163.8,381.5 Q164.9,380.2 166.6,381.3 Q168.2,382.4 168.5,384.5 Q168.8,386.5 168.5,388.1 Z" fill="rgba(45,175,32,0.44)"/>
<ellipse cx="165.1" cy="385.3" rx="1.9" ry="1.8" transform="rotate(59.8 165.1 385.3)" fill="rgba(5,30,5,0.45)" stroke="rgba(80,225,55,0.49)" stroke-width="0.9"/>
<path d="M180.3,395.8 Q179,396 178.1,396.2 Q177.1,396.3 175.7,394.7 Q174.3,393.2 174.8,391.6 Q175.3,390 175.6,388 Q176,386 177.6,388.2 Q179.2,390.5 180.4,393.1 Q181.5,395.7 180.3,395.8 Z" fill="rgba(45,175,32,0.39)"/>
<ellipse cx="178.4" cy="392.2" rx="1.6" ry="1.5" transform="rotate(65 178.4 392.2)" fill="rgba(5,30,5,0.45)" stroke="rgba(80,225,55,0.43)" stroke-width="0.9"/>
<path d="M184.3,400 Q182.6,399.4 183.3,397.9 Q184.1,396.4 185.9,395.3 Q187.8,394.2 189.2,393.8 Q190.6,393.4 192,393.5 Q193.5,393.6 192,395.8 Q190.5,398 188.2,399.3 Q185.9,400.5 184.3,400 Z" fill="rgba(45,175,32,0.37)"/>
<ellipse cx="188.2" cy="396.7" rx="1.4" ry="1.3" transform="rotate(145.8 188.2 396.7)" fill="rgba(5,30,5,0.45)" stroke="rgba(80,225,55,0.40)" stroke-width="0.9"/>
<path d="M200,397.9 Q199.2,399.6 198,399.5 Q196.7,399.4 195.3,398.5 Q193.8,397.6 193.7,396.7 Q193.6,395.7 193.9,394.4 Q194.2,393.2 195.9,393.6 Q197.6,394 199.2,395.1 Q200.7,396.2 200,397.9 Z" fill="rgba(45,175,32,0.58)"/>
<ellipse cx="195.8" cy="395.9" rx="1.9" ry="1.7" transform="rotate(42.2 195.8 395.9)" fill="rgba(5,30,5,0.45)" stroke="rgba(80,225,55,0.64)" stroke-width="0.9"/>
<path d="M215.8,392.8 Q213.9,393.1 211.5,392.7 Q209.2,392.2 209.7,389.9 Q210.3,387.6 211.3,386.4 Q212.4,385.2 214.9,385 Q217.5,384.8 218,386.8 Q218.5,388.9 218.1,390.7 Q217.6,392.5 215.8,392.8 Z" fill="rgba(45,175,32,0.57)"/>
<ellipse cx="214.3" cy="389.3" rx="2.4" ry="2.2" transform="rotate(94 214.3 389.3)" fill="rgba(5,30,5,0.45)" stroke="rgba(80,225,55,0.63)" stroke-width="0.9"/>
<path d="M219.8,404.9 Q218,405.4 216.1,404.6 Q214.1,403.9 212.9,402 Q211.8,400.1 213.4,398.3 Q214.9,396.4 216.4,396.7 Q217.9,397 219.3,398.8 Q220.7,400.6 221.1,402.5 Q221.5,404.5 219.8,404.9 Z" fill="rgba(45,175,32,0.37)"/>
<ellipse cx="217.8" cy="401.2" rx="2.4" ry="2.2" transform="rotate(82.5 217.8 401.2)" fill="rgba(5,30,5,0.45)" stroke="rgba(80,225,55,0.40)" stroke-width="0.9"/>
<path d="M184.1,404.2 Q184.7,405 183.6,405.7 Q182.5,406.4 180.3,405.8 Q178.1,405.2 176.9,404 Q175.7,402.8 176.4,402 Q177.1,401.2 178.3,400.8 Q179.5,400.3 181.5,401.8 Q183.5,403.4 184.1,404.2 Z" fill="rgba(45,175,32,0.39)"/>
<ellipse cx="180.9" cy="402.7" rx="1.2" ry="1.1" transform="rotate(21.5 180.9 402.7)" fill="rgba(5,30,5,0.45)" stroke="rgba(80,225,55,0.43)" stroke-width="0.9"/>
<path d="M201.7,410.7 Q200.9,412.5 199.6,411.6 Q198.3,410.7 197.7,409.1 Q197.1,407.4 196.7,405.5 Q196.4,403.5 198.1,402.8 Q199.8,402 201.2,403.1 Q202.5,404.2 202.6,406.6 Q202.6,409 201.7,410.7 Z" fill="rgba(45,175,32,0.57)"/>
<ellipse cx="199.1" cy="406.8" rx="1.7" ry="1.6" transform="rotate(75.2 199.1 406.8)" fill="rgba(5,30,5,0.45)" stroke="rgba(80,225,55,0.62)" stroke-width="0.9"/>
<path d="M203.6,408.8 Q202.3,407.4 203.4,405.9 Q204.5,404.3 206,403.7 Q207.5,403.2 209,403.9 Q210.6,404.6 210.4,405.9 Q210.2,407.1 209.5,408.4 Q208.7,409.7 206.7,409.9 Q204.8,410.1 203.6,408.8 Z" fill="rgba(45,175,32,0.34)"/>
<ellipse cx="208" cy="406.6" rx="1.9" ry="1.7" transform="rotate(173 208 406.6)" fill="rgba(5,30,5,0.45)" stroke="rgba(80,225,55,0.37)" stroke-width="0.9"/>
<path d="M164.4,413.7 Q163.3,414.5 162.1,414 Q160.9,413.5 159.7,411.5 Q158.4,409.5 158.6,407.8 Q158.8,406.2 160.1,405.9 Q161.4,405.5 163.2,407 Q165.1,408.4 165.3,410.7 Q165.5,413 164.4,413.7 Z" fill="rgba(45,175,32,0.48)"/>
<ellipse cx="161.7" cy="411" rx="1.5" ry="1.4" transform="rotate(74.1 161.7 411)" fill="rgba(5,30,5,0.45)" stroke="rgba(80,225,55,0.53)" stroke-width="0.9"/>
<path d="M179.1,420.1 Q178.9,421.9 177,422.6 Q175,423.4 173.6,422.4 Q172.2,421.3 171.2,419.7 Q170.2,418.1 171.1,416.8 Q171.9,415.4 174.1,415.3 Q176.3,415.2 177.8,416.8 Q179.3,418.4 179.1,420.1 Z" fill="rgba(45,175,32,0.32)"/>
<ellipse cx="175.1" cy="419" rx="1.9" ry="1.7" transform="rotate(31.3 175.1 419)" fill="rgba(5,30,5,0.45)" stroke="rgba(80,225,55,0.35)" stroke-width="0.9"/>
</g>
<rect x="156" y="361.5" width="66.8" height="66.1" fill="#000" stroke="none" stroke-width="0.8" filter="url(#speckD)" opacity="0.45"/>
</g>
<g clip-path="url(#cp12)">
<rect x="222.8" y="361.5" width="66.3" height="66.1" fill="#030a03" stroke="none" stroke-width="0.8"/>
<line x1="275.3" y1="400.4" x2="271.4" y2="405.3" stroke="rgba(50,170,35,0.38)" stroke-width="0.9"/>
<line x1="260.5" y1="376.8" x2="272.4" y2="368" stroke="rgba(50,170,35,0.38)" stroke-width="0.9"/>
<line x1="278.3" y1="365.9" x2="284.7" y2="364" stroke="rgba(50,170,35,0.38)" stroke-width="0.9"/>
<line x1="271.4" y1="375.8" x2="265" y2="385.8" stroke="rgba(50,170,35,0.38)" stroke-width="0.9"/>
<line x1="247.7" y1="369.9" x2="255.5" y2="375.3" stroke="rgba(50,170,35,0.38)" stroke-width="0.9"/>
<line x1="227" y1="372.8" x2="229.2" y2="359.5" stroke="rgba(50,170,35,0.38)" stroke-width="0.9"/>
<g filter="url(#blur06)">
<path d="M232.1,373.2 Q233.5,374.7 231.7,375.6 Q229.8,376.5 227.3,375.7 Q224.8,375 223.6,373.9 Q222.5,372.8 222.3,371.6 Q222,370.5 224.3,370.2 Q226.7,369.9 228.6,370.8 Q230.6,371.7 232.1,373.2 Z" fill="rgba(45,175,32,0.37)"/>
<ellipse cx="226.6" cy="373.3" rx="1.4" ry="1.3" transform="rotate(15.6 226.6 373.3)" fill="rgba(5,30,5,0.45)" stroke="rgba(80,225,55,0.41)" stroke-width="0.9"/>
<path d="M241.5,382.9 Q240.2,382.9 238.5,382.7 Q236.8,382.4 237.4,380 Q238.1,377.6 239.4,376.8 Q240.7,375.9 241.8,376.7 Q242.9,377.5 244.1,378.8 Q245.4,380.2 244.1,381.5 Q242.9,382.8 241.5,382.9 Z" fill="rgba(45,175,32,0.54)"/>
<ellipse cx="240.2" cy="379.3" rx="2" ry="1.8" transform="rotate(104.6 240.2 379.3)" fill="rgba(5,30,5,0.45)" stroke="rgba(80,225,55,0.59)" stroke-width="0.9"/>
<path d="M250.2,371.2 Q250.1,371.9 249.2,372.4 Q248.3,372.8 246.8,372.3 Q245.2,371.7 244.7,370 Q244.2,368.3 245,367.2 Q245.8,366.1 247.6,367 Q249.3,367.9 249.7,369.2 Q250.2,370.5 250.2,371.2 Z" fill="rgba(45,175,32,0.32)"/>
<ellipse cx="248.1" cy="369.6" rx="1.3" ry="1.2" transform="rotate(42.1 248.1 369.6)" fill="rgba(5,30,5,0.45)" stroke="rgba(80,225,55,0.35)" stroke-width="0.9"/>
<path d="M264.2,379.1 Q263,380.4 261.3,381.3 Q259.6,382.3 258.4,380 Q257.1,377.7 257.4,376.2 Q257.7,374.8 258.5,373.5 Q259.3,372.3 261.9,373.1 Q264.5,374 265,375.9 Q265.4,377.9 264.2,379.1 Z" fill="rgba(45,175,32,0.52)"/>
<ellipse cx="260.1" cy="377.1" rx="2.2" ry="2" transform="rotate(57.8 260.1 377.1)" fill="rgba(5,30,5,0.45)" stroke="rgba(80,225,55,0.57)" stroke-width="0.9"/>
<path d="M266,376.9 Q265.8,375.3 266.5,373.9 Q267.2,372.4 269.5,372.6 Q271.9,372.8 274.9,373.5 Q278,374.3 278,375.6 Q278,377 275.3,378.2 Q272.5,379.5 269.4,379 Q266.2,378.6 266,376.9 Z" fill="rgba(45,175,32,0.57)"/>
<ellipse cx="271.6" cy="375.9" rx="1.7" ry="1.5" transform="rotate(179.3 271.6 375.9)" fill="rgba(5,30,5,0.45)" stroke="rgba(80,225,55,0.63)" stroke-width="0.9"/>
<path d="M280.3,369.7 Q278.9,370.7 277.8,370.2 Q276.6,369.7 276,367.1 Q275.4,364.4 276,362.2 Q276.6,360 277.8,360.9 Q279,361.8 280.7,363.4 Q282.4,364.9 282,366.8 Q281.7,368.8 280.3,369.7 Z" fill="rgba(45,175,32,0.44)"/>
<ellipse cx="278.7" cy="366.1" rx="1.8" ry="1.6" transform="rotate(83.1 278.7 366.1)" fill="rgba(5,30,5,0.45)" stroke="rgba(80,225,55,0.48)" stroke-width="0.9"/>
<path d="M275.9,386.2 Q276.5,388.2 275.3,389.2 Q274.1,390.2 270.8,389 Q267.4,387.7 266.4,386.1 Q265.4,384.5 265.6,383.4 Q265.9,382.2 268.8,381.9 Q271.7,381.6 273.5,382.9 Q275.3,384.2 275.9,386.2 Z" fill="rgba(45,175,32,0.51)"/>
<ellipse cx="270.1" cy="386.2" rx="1.8" ry="1.6" transform="rotate(21.7 270.1 386.2)" fill="rgba(5,30,5,0.45)" stroke="rgba(80,225,55,0.56)" stroke-width="0.9"/>
<path d="M275.6,394.4 Q274.7,393.1 275.1,391.7 Q275.5,390.3 276.5,389.5 Q277.5,388.8 280,388.8 Q282.6,388.8 283.3,390.6 Q284,392.5 282.5,394 Q280.9,395.5 278.7,395.6 Q276.4,395.7 275.6,394.4 Z" fill="rgba(45,175,32,0.31)"/>
<ellipse cx="277.8" cy="391.5" rx="2.1" ry="1.9" transform="rotate(160.5 277.8 391.5)" fill="rgba(5,30,5,0.45)" stroke="rgba(80,225,55,0.34)" stroke-width="0.9"/>
<path d="M279.4,400.8 Q280.6,402.9 279.9,403.8 Q279.2,404.7 276.1,404.1 Q272.9,403.5 271.3,402 Q269.7,400.6 270.9,399.5 Q272.1,398.4 273.6,398 Q275.1,397.5 276.7,398.2 Q278.2,398.8 279.4,400.8 Z" fill="rgba(45,175,32,0.58)"/>
<ellipse cx="275.6" cy="400.7" rx="1.9" ry="1.7" transform="rotate(17.3 275.6 400.7)" fill="rgba(5,30,5,0.45)" stroke="rgba(80,225,55,0.64)" stroke-width="0.9"/>
<path d="M247.7,400 Q246.5,401.5 245.3,402 Q244.2,402.4 242.2,401.3 Q240.3,400.1 239.3,398.7 Q238.3,397.3 240.1,396.1 Q241.9,394.9 244.1,394.6 Q246.2,394.3 247.6,396.4 Q249,398.6 247.7,400 Z" fill="rgba(45,175,32,0.31)"/>
<ellipse cx="243.6" cy="398.1" rx="2.1" ry="1.9" transform="rotate(39.8 243.6 398.1)" fill="rgba(5,30,5,0.45)" stroke="rgba(80,225,55,0.34)" stroke-width="0.9"/>
<path d="M261.8,404.6 Q262.6,407 261.6,409.1 Q260.6,411.1 257.8,410.4 Q255,409.8 253,408.4 Q251,407 251.5,405.6 Q252,404.2 254.3,403.2 Q256.7,402.2 258.8,402.2 Q260.9,402.2 261.8,404.6 Z" fill="rgba(45,175,32,0.37)"/>
<ellipse cx="256" cy="405.9" rx="2.6" ry="2.4" transform="rotate(9.9 256 405.9)" fill="rgba(5,30,5,0.45)" stroke="rgba(80,225,55,0.40)" stroke-width="0.9"/>
<path d="M232.8,399.5 Q232.8,400.4 232.6,401.5 Q232.3,402.6 230,402.2 Q227.7,401.8 226.6,400.7 Q225.4,399.6 226.3,398.2 Q227.2,396.7 228.8,397.1 Q230.5,397.4 231.7,398 Q232.8,398.6 232.8,399.5 Z" fill="rgba(45,175,32,0.43)"/>
<ellipse cx="229.2" cy="399.8" rx="1.5" ry="1.3" transform="rotate(22.3 229.2 399.8)" fill="rgba(5,30,5,0.45)" stroke="rgba(80,225,55,0.47)" stroke-width="0.9"/>
<path d="M256.6,421.9 Q256.7,423.7 256.7,425.3 Q256.7,426.9 254.5,426.8 Q252.2,426.7 250.8,425.5 Q249.4,424.3 249.9,422.9 Q250.3,421.6 251.4,420.3 Q252.4,418.9 254.5,419.5 Q256.6,420.1 256.6,421.9 Z" fill="rgba(45,175,32,0.38)"/>
<ellipse cx="254.3" cy="423.8" rx="1.9" ry="1.8" transform="rotate(5.3 254.3 423.8)" fill="rgba(5,30,5,0.45)" stroke="rgba(80,225,55,0.42)" stroke-width="0.9"/>
</g>
<rect x="222.8" y="361.5" width="66.3" height="66.1" fill="#000" stroke="none" stroke-width="0.8" filter="url(#speckD)" opacity="0.45"/>
</g>
<g clip-path="url(#cp13)">
<rect x="23.4" y="427.6" width="66.2" height="66.2" fill="#020802" stroke="none" stroke-width="0.8"/>
<g filter="url(#blur3)">
<ellipse cx="58" cy="458" rx="26" ry="26" transform="rotate(0 58 458)" fill="rgba(35,140,22,0.30)" stroke="none" stroke-width="0.8"/>
<ellipse cx="66" cy="480" rx="10" ry="10" transform="rotate(0 66 480)" fill="rgba(35,140,22,0.20)" stroke="none" stroke-width="0.8"/>
</g>
<ellipse cx="62" cy="455" rx="11" ry="11" transform="rotate(0 62 455)" fill="rgba(4,22,4,0.85)" stroke="none" stroke-width="0.8" filter="url(#blur06)"/>
<g fill="none" stroke-width="1.5" stroke-linecap="round" stroke-linejoin="round" filter="url(#blur03)">
<path d="M69.1,475.5L68.5,474.7L68.1,473.8L67.7,472.9L67.2,472M36.6,463.7L36.6,462.5L37.5,461.6L38.6,461.1L39.5,460.2M62.1,468.3L62.9,467.2L64.1,466.9L65.3,466.5L66.6,466.6M76.5,451.6L75.7,452.6L76,453.9L76.1,455.1L75.8,456.4M36.5,456.5L35.9,457.5L35.8,458.6L36.2,459.6L36.6,460.7M53.6,475.4L55.1,475.8L55.8,477.3L57.2,478.2L58.7,478.7M79.9,458.8L80.3,457.4L80.7,455.9L80.8,454.4L81,452.9M77.5,448.3L78.1,446.8L79.3,445.8L79.1,444.2L77.8,443.3M71.2,477.1L72.1,476.6L72.5,475.7L73.2,475L74.2,474.6M74.6,483.7L73.6,483.6L72.7,483.4L71.8,483.8L70.9,483.5M69.3,444.9L68.4,444.9L67.7,445.6L67.8,446.6L68.1,447.5M58.7,483.2L57.8,483.6L56.9,483.5L56,483.1L55.1,483.5M37.6,445.6L38.6,445.1L39.7,445.6L39.9,446.7L40.3,447.8M33,465.1L31.8,465.7L30.8,466.7L29.5,467.3L28.2,466.7M50.9,473L49.9,472.2L49.7,471L48.7,470.4L47.5,469.9M48.8,448L50.3,447.4L51.4,446.2L51.3,444.6L50,443.7M38.9,441.9L38.5,442.8L38.5,443.7L38.1,444.6L38.2,445.6" stroke="rgba(75,225,50,0.56)"/>
<path d="M75.7,475.4L76.5,474.2L76.8,472.7L77.4,471.4L78.3,470.2M45,447.4L46.2,446.2L47.2,445L48.7,444.3L50.3,444.3M64.6,483.6L64.3,482.1L65.1,480.7L65.2,479L65.7,477.5M79.7,467.7L79.7,465.9L79.3,464.2L79.8,462.6L79,461M62.6,471.2L63.9,470.1L65.6,470.1L67,471.1L68.6,471.5M73.1,450.8L71.4,450.8L70.4,452.1L70.3,453.8L70.9,455.4M70.7,478L70.5,477.1L70.9,476.2L71.8,475.7L72.6,476.1M57.9,470.2L56.9,470.3L56,470.6L55.2,471L54.5,471.7M46,462.6L47.2,462.5L48.4,462.2L49.6,462.3L50.3,463.3M36.3,467.7L36.6,466.6L37.3,465.7L38.2,465L38.2,463.8M52.9,461.6L51.7,461.3L50.4,461.3L49.6,460.3L49.2,459.1M78.2,464.7L77.7,463.2L76.2,462.7L74.6,462.6L73.1,462.7M67.3,480.3L67.5,481.5L66.7,482.4L66.5,483.6L65.5,484.3M72.7,454.9L72.6,453.4L73.3,452.2L74.5,451.4L75.9,451.9M36.7,455.8L36.9,454.1L38.2,453L39.9,453L41.5,453.3M56.6,443.3L57.9,442.9L59.1,442.1L60.4,442.6L61.4,443.6M63.1,434.2L63.2,432.6L64.1,431.2L65.6,430.5L67.2,430.8M57.5,475.6L58,474.4L58,473.1L58,471.8L58.7,470.7M64.2,466L64.1,465L64.4,464.1L64.9,463.3L64.9,462.3M41.3,471.4L40.4,472.6L39.6,473.8L38.3,474.6L38.2,476.1M47.3,464.8L47.6,463.8L47.3,462.9L46.3,462.6L45.4,462.3M43.5,467.1L42.4,467.6L42.2,468.9L42.7,470L42.3,471.2M37.7,459.4L38.5,458.8L39.5,459L40,459.8L40.7,460.6M37.9,458.3L39.4,458.2L40.8,457.9L42.1,458.6L43.6,458.1M39.9,442.9L41,443.5L41.3,444.7L41.3,446L40.4,446.8M57.6,440.1L57.2,438.5L55.7,437.8L54.1,437.3L52.5,437.2M64.7,439.8L66.4,439.7L68,439.2L69.3,438L69.5,436.3M40.7,454.9L39.4,453.9L38.2,452.9L36.8,452.2L35.3,451.7M42,466.1L42.8,466.8L43.1,467.7L44,468.1L45,467.9M46.9,478.8L45.5,479.1L44.2,479.7L42.9,480.4L41.5,480.2M49.4,460.7L50.7,460.8L51.9,460.2L53.1,460.7L54.4,461.1M59.8,470.7L59.1,471.2L59,472.2L58.8,473.1L58.1,473.7M56.6,473.2L55.7,472.7L55.2,471.8L55.1,470.7L55.7,469.8M49.8,437.4L49,438.4L48.9,439.6L47.8,440.3L47.5,441.5M76,476.5L76.9,477.2L77.9,477.1L78.9,476.8L79.3,475.8M68.4,474.8L67.5,473.9L67.7,472.6L67.5,471.4L68.3,470.4M68.4,444.5L69.6,443.7L71.1,443.4L72.4,444.1L73.7,443.5M66.8,477L66.4,475.4L65.7,473.9L64.6,472.7L64.5,471M72.2,466.7L72.2,467.9L72.1,469L71.7,470.2L71.1,471.2M70.8,466.2L71.5,467.3L71.9,468.4L72.9,469.2L73.7,470.1M58.3,477.8L57.9,478.6L58.4,479.4L59.2,479.6L60.1,479.9" stroke="rgba(75,225,50,0.69)"/>
<path d="M59.3,468.5L58.2,467.2L57.3,465.8L56,464.7L55.4,463.2M45.4,437.8L46.6,438.1L47.6,438.9L48.9,439L50,439.5M81.4,463.9L80.3,462.8L79.5,461.3L78,460.7L77.3,459.2M48.7,453.8L48.4,454.9L49,455.9L48.5,457L47.8,457.9M32.4,458.4L31.6,456.9L31.1,455.3L32,453.9L33.2,452.8M53.4,446.1L52.1,446.1L51,446.8L50,447.5L49.9,448.9M50.8,466L49.9,467.4L49,468.8L49.2,470.4L48.8,472M60.3,435.9L60.7,437.1L60.9,438.3L60.6,439.5L60.4,440.7M58.8,481.3L57.5,482.2L55.9,482.6L54.2,482.8L52.9,483.8M78,471.1L77.7,472.8L77.3,474.5L76.1,475.8L76.5,477.5M51.2,461.7L52.4,462.3L53.5,463.2L53.3,464.6L52.5,465.7M69.5,484.8L69,485.4L68.3,486L67.5,485.9L66.8,485.4M73.6,456.7L75.1,457.5L75.4,459.2L74.8,460.8L75.3,462.4M57.2,470.7L58.3,470.3L59.3,470.8L60.3,471.4L60.9,472.4M49.4,467L48.6,467.4L47.9,468L47.2,468.7L46.3,468.9M75.9,475.8L76.1,477L77.3,477.5L78.4,476.8L79.4,476.1M60.3,479.2L60.9,480.1L61.1,481.2L61.8,482.1L62,483.2M34.8,465.2L33.9,463.8L32.9,462.5L32.2,460.9L33,459.4M52.6,447.2L51.3,446.5L49.9,445.8L49.3,444.3L47.9,444M65,471.2L65,469.8L64.8,468.5L63.6,468L62.4,467.3M49.6,459.4L50.9,459.7L52.2,459.1L52.9,458L54.3,457.8M67.7,486.6L68.5,487.7L68.3,489.1L68.9,490.3L68.7,491.7M51.9,440.5L52.8,439.9L53.9,440L55,440L55.7,440.7M67.5,485.9L66.8,487.2L65.8,488.4L65.5,489.9L65.6,491.4M41.4,467.5L42.6,466.3L44.2,465.8L45.4,464.6L45.2,462.9M40.4,458.3L41,457L40.6,455.5L39.4,454.6L39.4,453.1M78.2,468.1L77.3,468.9L76.2,468.6L75.9,467.5L75.1,466.7M45.1,470.4L46,469.9L46.9,469.3L47.6,468.5L47.8,467.4M39.2,465.6L38.9,464.1L39.4,462.5L39.6,460.9L38.6,459.6M70.1,472.4L71.3,472.6L72.2,473.5L71.8,474.8L71.3,475.9M68.6,446.7L68.9,445.5L69.5,444.5L69.9,443.3L70.5,442.3M75.5,451.1L74.5,451.1L73.8,450.4L72.8,450L71.8,450.4M82.5,462.7L81.2,462.6L80.1,461.9L79.2,460.9L79.4,459.6M44.1,467.3L44,468.4L43.1,469L42.1,468.8L41.2,468.1M50.2,466.8L50,465.2L48.6,464.5L47.6,463.2L47.6,461.6M66,438.9L65.5,437.8L64.4,437.4L63.8,436.5L62.9,435.7M70.2,465.7L69.3,466.8L68.2,467.8L66.9,468.3L65.5,468.6M71.2,435.9L69.9,436L68.6,435.9L67.4,436.5L66.4,437.4M40.5,453.1L39.9,452.4L39.5,451.5L39.3,450.6L38.7,449.8M53.6,479L52.9,479.7L53.1,480.7L53.9,481.4L54.9,481.5M81.4,453.8L80.1,453.1L78.5,453.3L77.2,452.6L76.4,451.2M47.7,440L49.3,439.6L50.8,440L52.4,439.8L54,439.5M65.9,440.7L65,439.9L64.6,438.9L65.1,437.8L66.2,437.4" stroke="rgba(75,225,50,0.81)"/>
<path d="M52.7,445.4L51,445.8L49.6,446.6L48,446.1L46.8,444.9M67.8,477.9L69.2,478.6L70.4,479.6L71.9,480.1L73.1,481.1M67.1,477.9L67.4,476.4L66.3,475.2L66,473.6L64.8,472.6M78.2,470.7L78.8,469.8L79.9,469.4L80.6,468.5L81.8,468.4M66.2,489L64.9,489.7L63.3,489.9L62.1,490.8L61.3,492.1M79.4,470.2L80.5,468.9L82.1,468.5L83.3,469.6L83.2,471.3M73.6,474.7L72.7,475.6L72,476.8L70.7,477L69.7,476.1M75.8,448.8L76.9,449.6L78,450.2L79.3,450.6L80.5,450.1M72.4,473.7L71.2,473L70.3,471.8L70.7,470.5L72,470M42.4,469.3L41.4,469.2L40.7,469.8L40.7,470.8L39.9,471.4M42,471.1L41.4,469.6L42.1,468.2L41.7,466.6L42.4,465.2M49.3,466.3L50.3,465.4L51.5,465.1L52,463.9L51.9,462.6M66.9,476.8L67.9,475.9L68.6,474.7L68.2,473.4L68.6,472.1M50.8,475.4L50.7,474.2L50.6,473L50.2,471.9L49.3,471.1M76.4,453.4L76.3,452.1L76.7,450.9L76.9,449.7L76.4,448.5M72.6,453.9L71.8,453.1L71.5,452L70.8,451.1L70.5,450M75.9,451.7L76.9,451.5L77.8,451L78.8,451.3L79.8,451.1M62,478.3L60.9,477.6L60.7,476.5L61.1,475.3L62.2,474.8M47.8,449.1L46.6,448.9L45.5,448.6L44.3,448.4L43.4,449.1M82.4,449.5L82.2,450.9L82.4,452.3L83.1,453.6L82.7,455.1M73.2,452.2L72.9,453.3L72.8,454.4L71.9,455.2L70.8,455M50.3,453.6L50.2,454.6L49.9,455.6L50.1,456.6L50.9,457.3M61.7,483.4L61.3,482.2L61.9,481L63.2,480.8L64,479.7M48.7,480.5L49.4,481.6L50.6,482.3L51.8,482.5L53.1,482.2M48,443.7L49.4,444.2L50.8,444.7L52,445.5L53.5,445.7M68.8,436.3L70.3,436.9L71.9,436.5L73.5,436.9L74.8,437.9M48.2,468L49,466.5L48.2,465L48.7,463.3L49.9,462.1M37.7,464.3L36.4,463.4L34.8,463.4L33.3,463.9L32.5,465.3M46.2,451L47.2,451.6L48.4,451.5L49.4,450.9L50,449.9M76.3,450.4L75.6,451.1L74.9,451.7L74.1,452.3L73.9,453.3M67.8,473.2L69.2,472.7L70.4,472L71.8,471.8L73.2,471.4M75.4,439.8L74,438.9L72.4,439.3L70.9,438.6L69.5,439.5M43.3,446.6L43.7,447.9L44.7,448.8L44.6,450.1L45.2,451.2M74.5,461L75.7,460.6L76.9,461.3L78.2,460.8L79.3,460.1" stroke="rgba(75,225,50,0.94)"/>
</g>
</g>
<g clip-path="url(#cp14)">
<rect x="89.6" y="427.6" width="66.4" height="66.2" fill="#020802" stroke="none" stroke-width="0.8"/>
<g filter="url(#blur3)">
<ellipse cx="132" cy="468" rx="19" ry="18" transform="rotate(0 132 468)" fill="rgba(35,140,22,0.30)" stroke="none" stroke-width="0.8"/>
<ellipse cx="107" cy="437" rx="14" ry="9" transform="rotate(10 107 437)" fill="rgba(35,140,22,0.25)" stroke="none" stroke-width="0.8"/>
</g>
<ellipse cx="133" cy="463" rx="7" ry="6" transform="rotate(0 133 463)" fill="rgba(4,22,4,0.85)" stroke="none" stroke-width="0.8" filter="url(#blur06)"/>
<g fill="none" stroke-width="1.4" stroke-linecap="round" stroke-linejoin="round" filter="url(#blur03)">
<path d="M141.8,469.5L142,468.9L142.5,468.6L142.7,468L142.7,467.4M128.9,467.9L128.6,467.4L128.1,467.1L127.6,466.8L127.4,466.2M130.8,481.7L130.5,482.6L129.6,482.8L128.6,483L128.1,483.8M105.1,443.1L105.7,443.2L106.2,443.1L106.8,443.1L107.4,443.3M148.6,474L149.5,474.5L150.4,474.1L151.4,474.3L152.1,474.9M125.8,461.7L125.7,460.7L125.1,460L124.7,459.1L124,458.5M144.2,456L144.4,455.4L144.4,454.8L144.7,454.3L144.7,453.7M126.8,453L126.6,452.5L126,452.3L125.7,451.8L126,451.2M126.1,481.7L125.1,481.9L124.6,482.8L123.9,483.4L123,483.8M133.7,471.7L132.9,471.3L132,471L131.1,471.5L130.2,471.8M122.3,453.2L121.7,452.9L121.6,452.2L121.9,451.5L121.6,450.9M144.1,455.7L143.4,455.7L142.8,455.3L142.1,455.1L141.5,454.6M105,444.9L105.6,444.5L106,443.8L105.8,443.1L106.2,442.5M110.1,435.3L109.8,434.5L109.3,433.8L108.7,433.2L107.8,433.1M134,471.7L133.3,471.1L132.6,470.6L132.2,469.8L131.9,469M133.5,478.4L133.3,479.1L133.3,479.8L133,480.5L132.8,481.2M128,477.8L128.4,477.5L128.7,477.1L128.7,476.6L128.8,476.1M108,442.9L107.3,443.2L106.7,443.1L106,442.9L105.4,443.2M120.5,458L120.1,457.5L119.7,457L119.1,456.8L118.8,456.2M126.4,471L125.9,471.3L125.5,471.4L125,471.2L124.8,470.7M121.3,471.2L121.8,471.4L122.3,471.3L122.6,471.7L123.1,471.9M139.7,477.3L139.9,478L139.8,478.8L140.4,479.4L140.2,480.2M113.1,467.2L112.6,467.7L111.9,468.1L111.2,467.7L110.4,467.7M129.7,472.6L129.2,473.3L128.9,474.1L128.3,474.6L127.9,475.4M122,482L121.2,481.8L120.8,480.9L120.4,480.2L120.6,479.3M112,437.4L111.3,437.4L110.6,437.4L110,437.7L109.7,438.3" stroke="rgba(75,225,50,0.56)"/>
<path d="M140.7,470.4L141.3,470.4L141.8,469.9L142,469.3L142.3,468.8M134.5,477L134.1,476.1L133.2,475.7L132.7,474.9L131.7,474.6M101.3,430.7L102.1,430.4L102.6,429.7L102.3,428.9L101.7,428.3M148.7,462.1L148.2,461.6L148.2,461L148.2,460.3L147.8,459.7M122.7,465.1L122.2,466L121.7,466.7L120.9,467.2L120.5,468.1M102.5,431.3L103.2,431.5L104,431.4L104.7,431.4L105.4,431.1M134.7,456.1L135.3,456.6L135.7,457.1L135.9,457.8L136.5,458.2M120.1,461.5L120,462.4L120.3,463.3L120.9,464.1L121.1,465.1M151,467.8L151.3,468.2L151.2,468.8L150.8,469.1L150.3,469M136.1,473.2L136.7,473.1L137.2,473.5L137.3,474.2L137.7,474.7M128.7,471.6L128.6,472.4L128,473L127.2,473.2L126.5,473.8M123.6,473.6L123,473.4L122.6,473L122.6,472.5L122.7,471.9M132.9,470.7L132.4,470.3L131.8,470.5L131.3,470.8L130.6,471M122.6,468.3L123.3,468.7L123.7,469.5L124.5,469.7L125.3,469.8M132.3,482.4L131.4,482L130.6,482.1L130,482.8L129.8,483.6M125.2,466.3L125.2,465.7L124.7,465.3L124.2,465L123.7,464.6M116.2,476.2L116.4,475.5L117.1,475L117.6,474.4L117.3,473.6M116.4,431.5L116.4,430.8L116.6,430.2L116.4,429.5L115.9,429M123.9,480.7L124.3,481.3L125,481.5L125.6,481.8L126.3,481.5M115.5,473.9L115,474.7L114.2,475.4L113.3,475.7L112.5,475.1M126.3,468.3L125.8,468.7L125.1,468.7L124.4,468.9L123.8,468.9M150.1,467.2L150.3,467.9L150.4,468.6L150.2,469.3L150,470M113.8,437.6L113.1,437.6L112.3,437.5L111.8,436.9L111.9,436.1M142.8,466L142.9,465.1L143.5,464.5L144.3,464.5L145.2,464.2M133,451.2L133.4,451.5L133.5,452.1L133,452.4L132.5,452.4M120.2,455.5L120.5,454.8L120.2,454.2L120.3,453.5L120.1,452.8M122.7,470.2L123.2,470.6L123.3,471.2L123.1,471.8L123.4,472.4M119.1,460.5L118.6,461L118.5,461.7L118.6,462.4L118.8,463.1M126.1,468.3L126.8,468.9L127.2,469.8L127.2,470.7L126.4,471.3M111.2,442.6L110.7,442.7L110.2,442.4L109.7,442.6L109.2,442.8M139.4,460.5L139.4,459.9L139.8,459.4L139.7,458.9L139.3,458.5M117.8,472L118.1,471.5L118.4,471.1L118.9,470.9L119.5,471M140.1,475.4L140.7,474.8L141.5,474.5L142.2,474.9L142.8,475.5M119.5,437.9L118.7,437.9L118.2,437.4L118.1,436.5L117.7,435.9M128.8,482.5L128,482.4L127.3,482.5L126.5,482.4L126.1,482.9M114,466.9L114.3,466.3L114.9,466L115.3,465.5L115.2,464.8M122.1,457.3L121.2,457.2L120.5,457.9L119.9,458.6L119.6,459.5M137.7,470.2L136.8,470.7L136,471.2L135.7,472.1L135.8,473M102.2,428.9L101.9,428L101.9,427.2L101.7,426.3L101.3,425.6M125.8,483.1L126,482.4L126.6,482.1L127.3,482.5L127.9,482.8M137.3,468.2L137.7,467.7L138.3,467.4L138.8,467.1L139.1,466.5M134.4,455.9L134.3,455.1L133.5,454.6L133.2,453.9L132.8,453.1M133.2,471.5L132.8,470.7L132.4,469.8L131.6,469.2L131.2,468.3M135.4,451.6L136,451.9L136.2,452.5L136,453.2L135.5,453.5M138.9,466L138.3,465.4L137.5,465.4L136.8,465L136.1,464.8M136.4,474L136.1,473.4L136.3,472.8L136.9,472.5L137.5,472.7M118.6,466.8L119,467.4L119.3,468L119,468.6L119.1,469.2M100.5,440.2L100.6,440.9L101.3,441.3L102,441.7L102.4,442.3M105.5,433.9L104.5,434L103.6,434.3L102.7,433.9L102.2,433.1M128,468L127.7,468.5L127.5,469L127.2,469.5L126.8,470M141.9,483.3L141.9,484.1L141.4,484.8L140.8,485.5L140,485.9" stroke="rgba(75,225,50,0.69)"/>
<path d="M105.3,431.6L105.8,431.3L105.9,430.8L105.5,430.3L105.5,429.7M106.9,430.3L106.1,430.9L105.1,430.9L104.1,430.7L103.6,429.9M98.9,432.9L98.7,432L97.9,431.6L97.1,431.2L96.2,431.1M123.3,452.2L122.9,452.6L122.4,452.7L122,453.1L121.9,453.6M137.8,480.8L138.4,481.3L138.4,482.2L138.9,482.9L139.2,483.6M140,454.9L140.8,455.1L141.4,454.6L142.2,454.5L142.9,454.1M109.7,439.8L109.2,439.9L108.6,439.8L108.1,439.5L107.6,439.6M114,469.2L114.8,469.6L115.7,469.6L116.2,468.8L117,468.4M139.9,466.6L140.5,467.4L141.2,468L141.6,468.9L142.2,469.7M142.2,468L141.7,467.5L141.2,467L140.6,466.6L139.9,466.6M109.2,433.8L108.7,433.6L108.2,433.6L107.8,433.2L107.6,432.7M104,436.2L104.3,435.7L104.9,435.4L105.5,435.4L105.9,435.8M116.1,434.1L115.5,433.6L114.9,432.9L114.9,432.1L115.3,431.3M132.2,451.6L132.8,451.3L133.4,451.1L133.9,451.5L134.5,451.7M101.2,429.5L102.1,429.8L103,429.4L103.4,428.5L104.1,427.8M114.3,432.6L114.8,432.8L115.3,432.9L115.9,432.9L116.4,432.8M131.7,469.8L132.2,470.6L132.8,471.4L132.9,472.4L132.6,473.3M128.2,458.7L127.5,458.8L126.7,459L125.9,458.8L125.1,458.9M131.9,474.3L132.3,474.7L132.5,475.3L132.9,475.7L133.5,475.8M145.6,466.1L146.3,466.1L146.8,465.8L147.1,465.2L146.7,464.6M145.9,465.8L146,466.7L146,467.5L145.5,468.2L144.9,468.8M122.3,464.2L122.6,465.1L122.7,466.1L122.2,467L122.3,468M131.9,454.4L132.2,455L132.2,455.7L131.7,456.1L131.2,456.5M104.4,432.3L104.3,431.8L104.5,431.3L105,431.1L105.2,430.6M120.2,464.9L119.7,465.1L119.1,465.2L118.5,465L117.9,465.1M95.8,437.9L96.4,438L96.9,437.7L97.1,437.2L97.4,436.7M94.8,439.3L94.8,438.6L94.5,437.9L94.3,437.2L94.8,436.6M121.2,465.5L120.4,465.3L119.6,465.5L119.1,466L118.4,466.3M104.9,428.7L105,428L105.6,427.7L106.2,427.3L106.3,426.7M121.5,460.1L120.8,460.8L120,461.3L119.3,462L118.5,462.5M129.2,453.6L129.2,452.7L129.5,451.8L129.5,450.9L129.3,450M115.5,432.5L116.4,432.9L117.4,433L118.1,433.7L119.1,433.4M95.9,437.1L95.1,437.4L94.3,437.2L93.5,437.5L93.1,438.2M114.5,433.4L114.8,432.8L115.1,432.1L115.3,431.4L115.7,430.8M117.9,442.3L118.1,442.8L118.1,443.4L117.9,443.9L117.7,444.4M138.2,474.9L138.8,475.3L139.5,475.2L140.1,475L140.8,475M108.7,435L109.4,434.4L110.3,434.5L110.9,435.2L111.4,436M106.2,443.9L105.9,444.5L105.7,445.3L105.8,446L106.3,446.6M121.4,467.5L121.8,468.2L122.5,468.3L123,468.9L122.9,469.6M118.2,471.1L118.9,470.5L119.8,470.4L120.7,470.5L121.5,470.4M124.5,467L124.5,467.7L124.7,468.3L124.8,469L124.4,469.6M145,476.3L145.1,475.7L145.6,475.3L146.2,475.4L146.9,475.3M110.7,442.9L110.1,442.5L109.5,442.2L108.8,442.1L108.2,441.8M113.6,465L113.2,464.1L112.5,463.6L112,462.8L112.1,461.9M114,432L114.8,432.4L115.2,433.2L115.3,434.1L115.9,434.7M143.8,471.4L143.3,472.2L142.4,472.4L141.5,472.5L141.1,473.2M119.6,458.9L118.7,459.2L117.7,459.3L116.8,459.4L115.8,459.6M143.5,461.7L143.8,461.2L144.4,461.1L144.9,460.9L145.1,460.4M102.7,441.1L102.5,440.7L102.6,440.1L102.9,439.7L103.4,439.6M148.1,468L148.6,467.4L148.6,466.6L149.2,466.2L149.8,465.8M125.6,466L125,465.9L124.4,466.1L123.8,465.9L123.2,466M118.2,457.9L117.9,457.2L117.1,457L116.4,456.7L115.8,456.2M96.8,438.9L96.1,438.6L95.9,437.9L95.7,437.2L95.9,436.4M98.4,441L98,440.1L98,439.1L98.3,438.2L97.8,437.4" stroke="rgba(75,225,50,0.81)"/>
<path d="M120.2,456.5L120.9,456.6L121.2,457.3L121.5,457.9L121.1,458.5M129.1,453.4L128.8,454.1L129.1,454.8L129.5,455.5L130,456.1M95.5,433L96.3,432.7L96.5,432L97.1,431.7L97.9,431.9M130.3,476.9L129.4,476.5L128.5,476.1L127.7,476.5L126.9,476M119,435.4L118.5,435.7L118.2,436.2L118.3,436.7L118.5,437.3M98.6,432.3L99.4,432.8L100.1,433.2L100.4,434L101.2,434.5M131.2,454.7L131.7,454.1L132.4,454.1L132.9,454.6L133.4,455.2M135.4,451.4L134.7,451.3L134.2,450.8L134.3,450.1L134.9,449.7M118.5,440.2L119.1,440.4L119.6,440.9L119.6,441.5L119.9,442.1M123.7,482.8L123.2,483.6L123,484.6L122,484.9L121.1,485.2M121.2,477L120.6,476.8L120.3,476.3L120.1,475.7L120.2,475M147,470.4L146.8,471L146.7,471.5L146.9,472L147.3,472.5M142.1,454.8L142.6,454.8L143.1,455.1L143.3,455.6L143.6,456.1M104,444.6L103.3,444.8L102.5,444.6L101.8,444.8L101.1,444.5M123,460.9L123,460.4L122.7,460L122.7,459.5L122.6,459M123.5,462.6L123.6,462L123.6,461.4L123.8,460.8L124.4,460.6M144.1,470.9L144.6,471.4L144.5,472L144,472.5L143.5,472.9M112,431.6L112,432.4L111.4,432.8L110.9,433.3L110.3,433.8M118,465.4L118.9,465.6L119.4,466.3L119.7,467.1L120.4,467.7M115.1,459.9L115.8,460L116.4,459.8L117,459.7L117.7,459.9M112.9,440.7L113.7,441L114.5,441.4L114.6,442.2L114.7,443.1M124.7,454.9L125.5,454.8L125.9,454.1L125.9,453.3L125.3,452.8M139.7,463.7L140.2,463.5L140.6,463.2L141,462.8L141,462.3M110.3,438.7L111.1,438.7L111.9,438.9L112.7,439.2L113.5,439.1M135.6,482.2L135.7,482.8L136,483.3L135.9,483.9L135.8,484.5M133,453.5L133.1,452.9L133.4,452.4L134,452.2L134.5,451.9M121,482.3L120.3,482.7L119.5,482.4L118.6,482.4L117.8,482.6M136.1,485.1L136.7,485.6L137.4,485.4L138.1,485.8L138.8,485.6M109.2,436.2L108.8,435.7L108.3,435.2L107.6,435.2L107.1,434.8M141.9,454.3L141.7,453.7L142,453.1L141.8,452.5L141.6,451.9M99.3,442.1L99.7,441.4L100,440.7L99.5,440L99,439.3M97.3,435.4L96.5,434.8L96.2,433.9L95.3,433.6L94.4,433.1M97.5,442.6L97.9,443.1L98.6,443L99.2,443.1L99.8,443.1M144.3,478.1L143.7,478.5L143.3,479.2L143.3,479.9L143.4,480.7M102.2,436L102.3,436.6L102.8,436.9L103.3,437.2L103.9,437.4M136.2,470L135.6,470.4L135,470.7L134.5,471.3L133.8,471.6M120.9,477.4L120.9,476.8L120.7,476.2L120.6,475.6L120.3,475M114.2,468.5L113.3,468.6L112.6,468.2L111.9,467.8L111.6,467.1M110.8,429.8L110.8,429L110.3,428.4L110,427.7L109.9,426.9" stroke="rgba(75,225,50,0.94)"/>
</g>
</g>
<g clip-path="url(#cp15)">
<rect x="156" y="427.6" width="66.8" height="66.2" fill="#020802" stroke="none" stroke-width="0.8"/>
<g filter="url(#blur3)">
<ellipse cx="185" cy="458" rx="28" ry="27" transform="rotate(0 185 458)" fill="rgba(35,140,22,0.32)" stroke="none" stroke-width="0.8"/>
<ellipse cx="215" cy="433" rx="6" ry="5" transform="rotate(0 215 433)" fill="rgba(35,140,22,0.20)" stroke="none" stroke-width="0.8"/>
</g>
<ellipse cx="190" cy="452" rx="10" ry="11" transform="rotate(0 190 452)" fill="rgba(4,22,4,0.85)" stroke="none" stroke-width="0.8" filter="url(#blur06)"/>
<g fill="none" stroke-width="1.4" stroke-linecap="round" stroke-linejoin="round" filter="url(#blur03)">
<path d="M206.2,442L205.7,442.9L206.1,443.9L207.1,444.3L208.2,444.3M178.6,472.8L179.6,473.5L180.8,473.8L181.9,474.3L183.1,474.3M180.3,455.3L180.4,454.3L180.5,453.2L181.2,452.5L181.5,451.4M197.6,466.2L198.4,465.6L199.3,465.4L200.2,465.7L201.1,466M160.6,447.2L159.5,447.4L158.6,448.2L157.8,449L156.7,448.9M193.9,467.5L193,467.7L192.1,467.7L191.3,467.4L190.6,467.9M181.4,479.2L182.1,478.3L182.1,477.2L182.7,476.2L183.1,475.1M193.3,470.1L194.5,470.1L195.6,469.7L196.8,469.7L197.5,470.7M192.1,479.2L192.8,479.6L193.3,480.2L193.4,480.9L193.9,481.6M167.1,467.4L167,466.5L167.6,465.9L168.5,465.9L169.2,466.4M177.1,459.8L176,459L175.5,457.9L175.1,456.7L174,456.1M166.8,466.7L166.5,465.6L167.1,464.6L167.7,463.7L168.8,463.4M204.9,464.5L204.5,465.4L203.8,465.9L202.9,466.3L202.5,467.1M165.9,461.4L166,460.7L166.1,460L166.3,459.3L166.8,458.8M163.2,465.7L164.4,465.3L164.7,464.1L164.6,462.8L164.6,461.6M203.1,440.6L203.8,439.7L205,439.8L206,439.3L207.2,439.3M191.7,468.2L192.3,467.5L193.1,467.1L194.1,467.1L194.9,467.3M177,436.6L176.1,436.1L175.1,435.9L174.3,435.2L173.2,435.1M175.9,460.4L176.3,459.7L176.8,458.9L177.3,458.3L177.9,457.6M177.4,469.9L177.5,469.3L178,468.9L178.6,468.6L179.2,468.9M202.1,478.8L202.4,479.7L203,480.6L203.9,481.1L204.4,481.9M184.4,480.6L185.3,480.2L186.2,479.9L187.1,480.1L188.1,480.4M168.3,477L168.6,477.6L168.3,478.2L168.5,478.9L168.9,479.5M196.7,479.8L195.8,480.4L195.4,481.4L194.5,481.9L193.8,482.6M201.4,457.6L201.5,456.6L202.2,455.9L203.2,456L203.8,456.8M164.9,476.1L164.6,475.5L164,475.4L163.3,475.4L162.8,475.1M162.1,444.2L162.9,444.5L163.8,444.5L164.7,444.5L165.2,445.2M209.3,452L209.6,450.9L210.3,450.1L211.4,449.9L212.3,449.3" stroke="rgba(75,225,50,0.56)"/>
<path d="M161.9,453.9L162.6,453.6L162.8,452.9L163.2,452.2L163.3,451.5M193.6,462.8L193,462.6L192.6,462L191.9,461.9L191.2,461.7M211.6,458.4L212,459.7L211.2,460.8L209.9,460.9L208.8,460.1M157.9,458.3L159,458L160,457.5L161.2,457.4L161.9,456.5M165.9,470.6L165.6,471.6L164.7,472.1L164,472.9L163.6,473.9M196,437.9L196.5,436.7L196.3,435.4L195.4,434.4L194.1,434.1M182,459.5L182,460.4L182.6,461.1L183,461.8L183.2,462.7M168.6,475.9L167.8,476.7L166.6,476.8L165.7,477.5L164.8,478.3M215.3,436.8L216.3,436.5L217.2,436.9L217.7,437.8L218.6,438.3M174.8,457L173.8,457.8L173.4,459L173.7,460.2L173.6,461.4M167.4,464.8L166.4,464.7L165.6,464.2L164.7,463.8L164.3,462.9M191.4,479.7L190.3,479.4L189.9,478.4L189.1,477.6L188,477.5M172.6,436.9L173.3,437.8L173.7,438.8L173.5,439.9L173,440.9M175.3,448.2L174.2,448.1L173.2,448.6L172,448.6L171.3,449.5M172.4,464L172.3,465.3L172.8,466.6L174,467.2L175,468.1M179,471.3L178.2,470.5L177.2,469.7L176.3,468.9L175.4,468.1M203.8,456.9L203.4,458L204.1,459L204.1,460.2L204.6,461.3M179,457.9L178.4,458.4L177.7,458.6L177.3,459.2L176.6,459.5M164,465.4L164.8,465L165.3,464.2L165.7,463.4L166.3,462.7M174.1,446.9L175.1,447.1L175.9,446.5L176.7,445.9L177.3,445.1M172.7,480.7L172.5,479.5L172.8,478.4L173.8,477.7L174.5,476.8M165.2,447.1L164.3,447.1L163.6,447.5L163.6,448.3L162.9,448.9M177.4,470.2L178.1,470.9L178,471.9L178.3,472.8L178.9,473.6M162.6,470.7L163.4,471.7L164,472.9L165.3,473.2L166.7,473.3M163.9,471.9L164.2,470.9L165.1,470.2L166.1,470L167.1,470.4M215.2,431.9L216,432.2L216.7,432.7L216.8,433.5L216.3,434.2M160.6,456.8L161.2,457.4L162.1,457.2L162.5,456.5L162.3,455.6M207.6,452.9L206.7,452L205.5,452.3L205,453.3L205.4,454.5M182.1,462.1L183,461.1L183.8,460L183.3,458.7L183,457.4M170.3,445.6L169.7,445.6L169.2,446.1L169.4,446.8L169,447.3M177.1,477.7L177.6,478.4L178.1,479.1L178.2,480L178.1,480.9M172,452.6L171.1,452.4L170.2,452.6L169.4,453L168.7,453.5M189.2,475.4L188.8,474.7L188.1,474.6L187.4,474.2L186.9,473.6M178.8,444.8L180,444.5L180.9,443.8L181.5,442.8L182.6,442.4M183.3,440.2L183,439.3L183.5,438.6L183.3,437.7L183.3,436.8M197.9,459.2L197.2,458.6L196.4,458.1L195.6,457.6L194.7,457.2M166.9,452.6L167.7,451.7L168.1,450.6L169.2,450.2L170.3,449.6M180.7,482.8L181.4,483.2L182,483.6L182.3,484.3L182.7,484.9M182.5,460.1L183.4,459.8L184.1,460.3L184.6,461.2L184.2,462M167.2,456.9L167.8,457.2L168.3,456.9L168.9,456.7L169.1,456.1M179.5,453.4L179.1,452.5L178.2,452.1L177.4,452.4L176.4,452.5M167.8,445.8L167.7,444.7L167.6,443.6L167.9,442.6L168.5,441.7M192,482L192.6,482.8L193.4,483.2L194.1,483.9L193.9,484.9M187.5,474.5L188.1,473.9L188.1,473L188.5,472.3L188.2,471.5M179,458.1L177.8,458.1L176.7,457.3L175.5,457.4L174.4,456.7M167,463.7L166.3,462.9L165.3,462.9L164.7,463.6L163.7,463.6M167.7,436.8L166.8,437.3L166.1,438.1L165.1,438.2L164.1,438M169.7,452L170.1,453L170.1,454.1L169.6,455.1L169.2,456.1M174.6,447.7L173.9,448.1L173,448.2L172.3,447.7L171.6,447.3M160.6,460.3L160.9,459.4L161.6,458.8L162.3,458.3L163.2,458.5M168.4,461.9L167.6,462.7L167,463.7L166,464.3L165.2,465M191.7,433.6L190.9,434.2L190.4,435L189.6,435.6L188.7,436.1M161.2,447.1L161.1,447.9L161,448.6L161,449.3L160.9,450M164.6,449.2L164,449.3L163.6,449.8L163.4,450.5L163.1,451.1M190.7,431.8L190.9,432.6L190.3,433.3L189.4,433.5L188.5,433.6M178.5,433.1L179.3,433.3L179.9,432.9L180.5,432.4L181,431.8M161.8,472.5L160.6,472.9L159.5,473.3L158.9,474.4L157.7,474.9M190,463.2L189.4,463.8L188.6,464.2L187.8,464.1L187,463.8M201.2,458L200.6,458.6L199.8,458.7L199,458.8L198.4,458.2" stroke="rgba(75,225,50,0.69)"/>
<path d="M173.2,436.8L172.7,437.6L172.2,438.5L172,439.4L171.3,440M172.4,451.4L171.9,450.8L171.2,450.8L170.6,450.6L169.9,450.8M175.5,446.9L175.2,447.9L175,449.1L174.1,449.7L172.9,449.8M166.6,443.4L165.6,443.5L164.9,442.8L164.4,441.9L164.5,440.9M204.8,442.4L204.1,442.2L203.6,441.6L203.1,441.1L202.3,441.2M210.1,460.6L210.8,460.8L211.3,461.4L212,461.5L212.8,461.5M211.5,436.7L211.4,437.5L212.1,438.1L212.5,438.9L213.3,439.1M210.7,451.8L210.2,452.6L209.5,453.2L208.6,453.5L207.9,454.2M191,468.3L190.1,467.9L189.3,467.5L188.6,467.1L188.3,466.3M171,443.1L170.2,442.7L170.1,441.9L170.5,441.2L170.3,440.3M212.2,435.4L212.4,436.3L212.4,437.2L212,438L212.2,438.9M176.8,435.8L175.9,435.7L175.1,436.2L174.1,436.1L173.4,435.5M170.6,464L170.1,465.1L169.4,466.1L169.6,467.3L169.1,468.4M199,472.4L198,472.6L197.6,473.5L197.1,474.3L196.3,474.9M176.6,456.8L177.2,457.4L178,457.4L178.7,457.8L179.4,458.1M166.2,456.2L166.8,456L167.5,456.2L167.9,456.7L167.9,457.3M181.6,437.8L182.6,437L183.3,435.9L184.6,435.8L185.8,435.3M185.2,432L184.6,430.9L185.1,429.7L186.3,429.4L187.6,429.3M198.7,443.3L199.5,442.7L200.2,441.8L201.2,441.9L202.3,441.9M206.3,458.9L205.8,460L206.2,461.1L207.4,461.5L208.1,462.5M193,470.3L192.2,470.5L191.9,471.1L191.2,471.5L190.5,471.3M172.7,463.6L171.9,462.9L171.9,461.8L172.5,461L173.6,460.9M173,438.7L172.3,439.7L171.8,440.8L172.4,441.9L172.5,443.1M176.1,462.9L176.8,463.9L176.8,465.1L177.1,466.3L177.1,467.6M161,458.6L160.6,457.5L160.6,456.3L161.2,455.3L162,454.5M176.8,468.2L177.3,467.9L177.9,468.2L178.4,468.6L178.4,469.2M211.5,461.3L211.1,459.9L209.9,459.3L209,458.3L209.2,456.9M184.8,432.1L184.1,433L183.5,434L182.9,435L182.2,435.9M178.2,445.9L179.4,445.5L180.4,444.8L181,443.8L181.4,442.6M194,479.9L192.9,479.7L191.9,479.6L190.9,479.4L190,479.9M185,475.4L185,476.1L184.8,476.8L184.7,477.5L184.3,478M168.4,456.9L168.7,455.7L167.9,454.8L168.2,453.6L168.4,452.4M182.7,458.9L182,457.9L181.5,456.8L181.4,455.7L182.2,454.8M201.3,465.1L200.9,464.2L200.2,463.5L199.7,462.7L199,461.9M190.3,471.9L190.1,470.8L190.2,469.7L189.4,469L188.3,469M185.6,475.5L185.9,474.3L186.7,473.4L187.2,472.2L187.2,471M194.8,468.5L195.4,469.3L196.3,469.7L196.8,470.5L197.6,470.9M176.3,432.5L177.3,432.5L178.1,433L179.1,432.9L180.1,432.9M209,444.3L208.8,443.4L209.1,442.6L209.5,441.9L209.9,441.1M215.1,436.1L214.8,434.9L213.5,434.5L212.8,433.4L212.4,432.2M185,469L185.9,469.6L186.9,469.7L187.9,469.9L188.7,470.6M191.1,467.8L192.1,466.9L192.3,465.5L192.2,464.2L191.3,463.1M182.6,479.6L181.6,479.4L180.8,480.1L180.4,481.1L179.5,481.5M178,444.5L177.4,444.1L176.8,443.7L176.2,443.6L175.9,443M197.3,463.9L197.6,464.7L197.8,465.5L197.6,466.3L196.9,466.8M164.3,475.6L165.4,475.4L166.1,476.1L166.3,477.2L165.8,478.1M189.3,466.4L190.2,466.5L190.8,467L191.2,467.8L191.8,468.3M203.7,458.2L203.2,459.1L202.7,460L202.9,461L203.1,462M179,461.5L179.6,461.9L180.2,462.4L180.9,462.6L181.7,462.6M171.2,448.8L172,449.1L172.3,449.9L172.8,450.6L173.7,450.6M172.3,445.1L171.7,445.2L171.2,444.7L170.6,444.4L170.1,444M168.6,464.6L169,465.3L169.8,465.3L170.5,465.9L171.2,466.3M184.2,481.8L183.4,481.4L183.2,480.6L182.5,480L181.7,479.9M165.1,470.8L166.3,471L167.3,471.6L167.8,472.7L168.2,473.9M174.4,445.7L174.9,446.2L175.6,446.2L176,445.7L176.8,445.6M165.5,453.4L165.9,452.9L166.3,452.3L166.6,451.7L167.3,451.5M169.7,476.8L170.5,475.8L170.6,474.5L171,473.3L172.1,472.6M185.8,475.2L184.8,474.7L183.8,474.2L183.1,473.4L183.2,472.3M170.8,480.3L171.6,479.7L172.3,478.8L173.3,478.9L174.4,478.9M189.1,471.6L188.7,472.2L188.6,473L188.4,473.7L188,474.3M187.7,431.4L186.9,431.2L186.1,431.1L185.6,430.4L185.7,429.7M166.4,446.5L166.4,445.8L165.9,445.2L165.8,444.5L165.8,443.8M171.8,455.5L172.6,454.9L173.6,454.5L174.2,453.7L175,453.1" stroke="rgba(75,225,50,0.81)"/>
<path d="M174.2,462.6L174.5,461.3L173.8,460.3L173.1,459.2L172.3,458.2M163.8,457.1L164.5,456.7L165.4,456.9L165.9,457.7L166.7,458.2M205.7,473.1L206.7,473L207.4,472.2L208.3,471.6L209.3,471.5M205.4,454.1L204.8,453.8L204.7,453.1L204.9,452.4L204.5,451.8M215.6,436.3L216.3,436.5L216.9,436.8L217.5,437.2L217.6,437.8M182.3,480.4L181.5,480.4L180.8,480L180,480.2L179.4,480.8M205.5,473.9L206.6,474.1L207.7,473.8L208.6,474.4L209.4,475.3M184.2,476.8L184.3,477.8L184.4,478.7L184.9,479.5L185.9,479.8M164.9,445.9L164.8,447.2L163.8,448L163.4,449.3L163.7,450.6M166.2,469.4L165.5,468.4L165,467.3L163.9,466.6L162.7,466.1M193.5,462L192.7,461.5L192.1,460.8L191.5,460L191.7,459.1M182.6,474.8L181.5,474.7L181,473.7L180.7,472.6L181.1,471.6M211.8,436.7L212.7,437.5L212.7,438.7L211.9,439.5L211.4,440.5M200.9,459.6L200.3,460.2L199.6,460.8L199.5,461.6L199,462.3M202.2,443.5L201.4,442.8L200.4,442.8L199.7,442L198.7,441.7M164.1,451.4L164.8,451.9L165.6,452.3L166.5,452.4L167.1,453M187.8,482.2L187.3,481.8L186.6,481.9L185.9,481.7L185.3,481.3M175.4,436.8L176.2,436.7L176.9,436.3L177.7,436.3L178.4,436M181.2,458L180.3,457.9L179.6,457.6L178.7,457.5L178.3,456.8M160.8,457.9L159.7,458.5L159,459.4L158.2,460.3L157,460.5M174,455.6L172.8,455.5L171.9,456.4L170.6,456.5L169.6,457.1M199.5,472.9L198.4,473.4L198.1,474.6L198.8,475.6L200,476.1M206.7,466.5L205.5,467L204.3,466.5L203.1,466.8L202.1,467.6M166.2,465.2L167,464.9L167.8,465.2L168.7,465.2L169.4,464.9M171.8,462.7L172.5,462L172.9,461.1L172.9,460.1L173.3,459.2M200.2,468.3L200.8,467.2L201.9,466.4L203.1,466.1L204.3,466.4M203.2,442.2L203.2,442.9L203.6,443.5L204.2,443.9L204.9,444.2M185.8,441.9L186.3,442.5L187,443L187.4,443.8L188.1,444.2M202.4,474.2L202.2,473.2L202.9,472.5L202.8,471.5L202,471M167.4,457.3L168.1,457.7L168.8,458L169.4,458.5L170.2,458.7M179.1,446.5L178.9,445.4L179.4,444.3L180.3,443.6L181.4,443.4M169.7,449.6L169.8,448.7L169.8,447.7L170,446.8L170.3,445.9M179.2,465.3L178.8,466L178.3,466.7L177.8,467.3L177.7,468.2M163.6,473.8L163.8,474.7L163.5,475.5L162.7,475.8L162.1,476.4M184.6,483.9L184.2,484.8L183.4,485.3L182.5,485.6L182,486.5M211.5,431.1L210.9,430.7L210.4,430.1L209.9,429.6L210.1,428.8M203.6,466.2L204.6,465.4L205.2,464.4L206.4,464.2L207.6,464M171.2,480.2L171.8,479.5L172.6,478.9L173.5,478.7L174.1,478M187.1,463.3L186,462.7L184.9,462.2L183.7,462.6L182.6,462M189.9,470.1L190.1,469.1L190.5,468.2L190.8,467.2L190.6,466.2M197.1,441.7L197.4,440.9L198.1,440.4L198.5,439.6L198.7,438.8M182.3,480.2L181.7,479.8L181,479.5L180.3,479.7L179.7,479.2M196.2,475.7L195.8,476.3L195.6,476.9L195.8,477.6L195.9,478.3M179,435.4L179.2,434.7L179.7,434.2L180.3,433.9L181,433.9M203.7,438.7L203.2,437.6L203.7,436.5L204.1,435.4L204.2,434.2M198.2,464.6L198.3,465.6L198.2,466.6L197.8,467.4L198,468.3M172.6,455.3L173.8,455.7L174.2,456.9L175.1,457.8L176.4,458M177.5,466.2L178.1,465.7L178.9,465.8L179.7,465.5L180.4,465.2M173.2,480L173,480.7L173.4,481.3L173.6,481.9L174.1,482.4M204.9,472.5L204.5,473.1L203.9,473.5L203.2,473.6L202.7,473.2M190.2,471.4L191.2,470.9L191.6,469.7L191.8,468.6L192.4,467.5M202.6,461.8L202.8,462.7L203.3,463.4L203.7,464.2L203.4,465M180.7,480L181.9,480L182.7,479.2L183.7,478.6L184,477.5M208,448L208.4,448.9L208.9,449.7L209.8,449.7L210.6,449.2M211,467.4L210.3,467.7L209.5,467.8L208.8,468.4L208,468.4M176.8,480.6L176.4,481.3L175.7,481.7L175.2,482.3L174.7,483M191.1,478.8L191.1,479.8L191.7,480.7L192.7,481L193.6,481.6M174.2,477.5L175,478.3L176.1,478L177.1,478.5L177.3,479.6M203.4,464.3L202.8,463.6L202.1,463L201.4,462.4L201.5,461.4M211.2,454.8L211.9,454.8L212.4,454.3L213.1,454.4L213.6,453.9" stroke="rgba(75,225,50,0.94)"/>
</g>
</g>
<g clip-path="url(#cp16)">
<rect x="222.8" y="427.6" width="66.3" height="66.2" fill="#020802" stroke="none" stroke-width="0.8"/>
<g filter="url(#blur3)">
<ellipse cx="252" cy="464" rx="24" ry="20" transform="rotate(0 252 464)" fill="rgba(35,140,22,0.28)" stroke="none" stroke-width="0.8"/>
<ellipse cx="260" cy="440" rx="16" ry="8" transform="rotate(0 260 440)" fill="rgba(35,140,22,0.20)" stroke="none" stroke-width="0.8"/>
</g>
<ellipse cx="248" cy="458" rx="9" ry="8" transform="rotate(0 248 458)" fill="rgba(4,22,4,0.85)" stroke="none" stroke-width="0.8" filter="url(#blur06)"/>
<ellipse cx="268" cy="470" rx="9" ry="9" transform="rotate(0 268 470)" fill="rgba(4,22,4,0.85)" stroke="none" stroke-width="0.8" filter="url(#blur06)"/>
<g fill="none" stroke-width="1.4" stroke-linecap="round" stroke-linejoin="round" filter="url(#blur03)">
<path d="M256.6,435.4L256,434.7L255.1,434.7L254.4,434.2L253.9,433.5M265.7,438.6L266.5,438.9L266.9,439.7L267.7,440.2L268.6,440.3M254.2,467.6L254.1,468.4L254.3,469.1L253.8,469.7L253.5,470.4M238,472.5L238.8,472.1L239.1,471.3L239.8,470.9L240.5,470.4M247.9,476L247.3,476.8L247.1,477.8L246.6,478.6L245.6,478.6M264.9,444.8L265.3,444.3L265.8,443.8L266.5,443.9L267.1,443.5M260.2,466L260.9,465.8L261.3,465.1L262,464.9L262.8,464.7M259.3,466.9L258.4,467.5L257.3,467.2L256.6,466.3L255.5,466M230.7,458.1L231.5,458.4L232.3,458.7L233,458.3L233.7,457.9M255.6,448.6L254.7,448.8L254,449.4L253.4,450.1L252.6,450.5M248.5,436.2L247.4,436L246.4,435.5L245.7,434.8L244.7,434.2M272.4,444.4L273.4,444.2L274.4,444.4L275.3,444.2L276.1,443.6M252.2,444.8L253.3,445.1L253.8,446.2L253.9,447.4L254,448.5M251.3,440.7L251.7,440L251.8,439.1L251.4,438.4L250.9,437.7M244.8,481.7L244.4,482.9L243.4,483.6L242.1,483.6L241.4,484.6M260.2,445.4L260.5,444.7L260.4,444L260.1,443.4L259.5,443M267.5,442.3L266.8,442.1L266.6,441.5L266,441.4L265.7,440.8M271.4,454.8L272.5,455.3L273.7,455.4L274.9,455.2L276,455.2M259.8,432.1L258.8,432.1L257.9,431.8L257,431.3L256,431.6M253.4,443.8L253.6,443.1L253.5,442.3L252.8,441.9L252.5,441.1M236.8,475.5L236.4,476.1L236.3,476.7L235.8,477.1L235.2,476.9M233.5,464.2L234.5,464.3L235.2,463.5L235.9,462.7L235.6,461.7M253.6,447.3L254.4,447.9L254.5,448.9L254.7,449.9L254.4,450.8" stroke="rgba(75,225,50,0.56)"/>
<path d="M235.3,450L234.9,450.5L234.2,450.4L233.7,450.8L233.3,451.3M258.2,471.9L258.4,471.3L258.7,470.7L259.3,470.6L259.9,470.3M240.2,479.5L241.2,479.7L242,479.1L242.9,478.7L243.3,477.7M255.7,480.3L256.7,480L257.7,479.7L258.4,478.9L258.4,477.8M261.2,461.1L260.4,460.3L259.3,460.5L258.2,460.8L257.6,461.8M273.2,455.1L273.9,455.7L273.9,456.7L274.4,457.5L275.3,458M268.5,438.7L268.8,439.2L269.3,439.7L269.8,440.1L270.4,440M236.7,476.1L236.6,477.1L236.8,478.2L236.4,479.1L236.9,480M253.7,482.7L254.2,483L254.5,483.6L254.2,484.2L253.6,484.3M265.1,449.6L266.2,449.2L267.2,448.5L268.4,448.6L269.5,449.1M231.4,470.3L230.9,469.7L230.5,469L229.9,468.4L229.1,468.2M250.9,446.8L251.3,447.4L251.4,448.1L252.1,448.4L252.8,448M257.5,440.7L257.7,441.4L258.4,441.6L258.8,442.1L259.5,442.1M252,446.2L252.2,447L251.9,447.7L251.3,448.2L250.6,448.4M235.3,470L236.1,469.7L236.8,469.1L237.7,469.3L238.3,470M263.7,435.4L262.5,435.6L261.5,436.2L260.3,436.3L259.6,437.2M238.6,450.8L237.6,450.5L237,449.6L236.1,449L235.3,448.2M240.1,480.9L240.9,480.4L241.5,479.7L241.4,478.7L241.9,477.9M246.6,437.4L246.4,436.4L245.5,435.9L244.5,435.8L243.6,435.4M255.8,440.9L256.5,440.1L257.3,439.6L257.4,438.6L257,437.8M257.6,447.6L258.2,448.7L259,449.7L259,450.9L258.4,452M249.9,448.4L250.7,448.5L251.1,449.2L251.9,449.3L252.3,450M261.4,454L261.8,453.4L261.7,452.6L261.7,451.9L261.9,451.3M234.9,469.5L235.8,468.8L236.6,468L237.2,467L238,466.2M268.1,443L268.2,443.7L268.4,444.5L268.7,445.2L269.3,445.7M235.4,466.8L234.8,466.4L234.1,466.5L233.5,466.9L233,467.5M249.9,483.4L248.8,483.6L247.9,484L246.8,484.1L245.8,483.9M251,446.4L249.9,446.2L249.4,445.4L248.8,444.5L249,443.5M256.5,468.4L257.1,469.2L257.3,470.2L256.9,471.1L256.7,472M263.3,479.9L263.3,480.7L263.5,481.6L263.1,482.3L262.7,483.1M236.9,475.4L238,476L238.5,477.1L238.9,478.3L239.3,479.5M235.1,461.9L235.6,461.3L236.3,460.9L236.9,460.5L237.5,460M264,437.5L263.4,437.3L262.8,437.4L262.2,437.3L261.8,436.7M265.5,449.3L266.5,449.6L267.4,449.1L268.1,448.3L267.9,447.3" stroke="rgba(75,225,50,0.69)"/>
<path d="M230.5,459.2L231.1,459.5L231.8,459.3L232.1,458.6L231.8,457.9M261.7,450.5L260.9,450.1L260.2,450.5L259.8,451.2L259.1,451.7M263.8,448.6L264.4,448.1L264.4,447.3L264.4,446.5L264.9,445.9M257.9,460.9L257.6,459.8L257.3,458.7L257.7,457.6L257.6,456.4M266.9,478.9L266.9,479.7L266.7,480.5L266.9,481.3L267.3,481.9M273.4,443.6L273.7,442.4L273.6,441.2L274.5,440.5L275.7,440.2M264.2,454.2L263.4,453.9L262.5,454L261.9,454.6L261,454.6M257.9,443.2L257.1,442.5L256.6,441.6L256.9,440.6L256.9,439.6M250.6,439.1L251.6,438.4L252.8,438.2L254,438.3L255,439M256.2,443.3L255.4,444.1L255.5,445.3L256.6,445.8L257.3,446.7M258.1,447.1L257.1,446.8L256.4,446.1L255.5,445.6L255.3,444.6M258.7,450.5L258.1,450.2L257.5,450.5L257.2,451.1L257.5,451.7M237.8,458.5L238.1,459.3L238.7,460L239.2,460.8L239.5,461.6M239.2,447.6L238.7,446.9L238.5,446.1L238.8,445.4L239.1,444.6M239.3,452.1L238.1,452.1L237.5,453.1L237.7,454.3L237.8,455.5M255.8,449.6L255.3,449.8L254.9,450.3L254.8,450.9L254.6,451.5M274,442.6L273.3,442.1L272.5,441.6L271.7,441.3L270.8,441.4M257.2,466.4L257,465.3L256.2,464.6L256,463.6L256.7,462.8M265.4,480.6L265.5,481.2L265.3,481.9L265,482.5L265.3,483.1M256,446.5L255.4,445.8L255.6,444.8L256.5,444.5L257.2,443.8M246.7,481L247.2,480.2L247.2,479.3L246.7,478.4L245.8,478.3M254.9,440.2L255.6,439.5L255.8,438.5L256.5,437.7L257,436.8M254.7,467.5L254.5,468.7L254.8,469.9L254.6,471L254.5,472.2M265,450.4L264,450.2L263.6,449.3L263.3,448.5L262.3,448.2M266.2,438.5L266,439.1L266,439.8L266.1,440.5L265.8,441.1M250.1,480.8L250.7,480.4L251.3,480L252,479.7L252.8,479.5M251.5,466.8L251.9,466.1L251.8,465.4L251.9,464.6L251.5,463.9M267.4,442.2L268.3,442L269,441.3L268.8,440.3L268.3,439.5M264.5,433.3L264.2,434L263.7,434.4L263,434.4L262.4,434" stroke="rgba(75,225,50,0.81)"/>
<path d="M242,448L242.7,448.5L243.1,449.3L243.2,450.2L243.6,451M237.1,456.1L236.4,455.9L235.8,455.4L235,455.1L234.6,454.5M239.2,464.8L238.5,465.2L237.8,464.9L237.1,465.3L236.6,466M268.7,456.4L268,455.6L267.5,454.7L266.6,454L266,453.2M234.3,474.1L235.3,474.5L236.2,474.9L236.7,475.8L237.2,476.7M252.2,440.2L251.3,439.4L250.1,439.1L249.2,439.8L249.1,441M255.9,432.8L256.8,432.5L257.2,431.6L258.1,431.4L258.9,430.8M258.6,444.9L259.1,444.2L259.9,444L260.8,444L261.5,443.6M267.8,455.5L267.5,454.9L266.8,454.8L266.1,454.9L265.5,455.3M254.6,440.1L255.4,440.2L256.1,440.3L256.7,440.7L257.1,441.3M249.4,434.8L248.5,434L247.7,433.1L247.5,431.9L248,430.8M268.6,452.3L268,452L267.9,451.3L267.7,450.6L267.2,450.2M236.3,473.4L235.5,474L235.3,475L234.8,475.9L234.5,476.8M267.1,461.2L267.8,461.2L268.4,461.4L269.1,461.4L269.7,461.4M267.5,443.1L268.6,442.8L269.5,442.2L270.6,442L271.6,442M237.3,479.1L236.8,478.1L236.4,477.1L235.6,476.3L234.9,475.4M235.5,467L236.4,467L237.4,467L238.1,466.3L238.4,465.4M250.4,480.9L249.6,480.2L248.6,479.7L247.7,479.2L247.2,478.2M254.5,451.5L254.8,452.6L254.7,453.8L255.6,454.6L256.7,454.9M273.2,442.6L272.4,442.5L271.6,442.9L270.7,443.1L270,443.6M263.9,458.2L262.8,458.3L261.9,458.8L260.9,459.2L259.8,459.1M255.8,453.1L256.6,452.6L257.4,452.1L258.3,451.6L258.8,450.8M232.3,465.7L231.7,466.7L230.6,467L229.5,467.4L228.4,467.6M260.6,439.2L261.3,439.5L261.4,440.2L261.9,440.7L262.3,441.3M256.4,473.2L257.1,473.7L257.8,474.1L258.4,474.7L258.4,475.5M274,442.6L273.7,442L273.2,441.5L273.1,440.8L273.1,440.1M232.2,463.5L232.7,462.5L232.7,461.4L231.8,460.8L230.8,460.6M240.7,466.1L241.6,466.7L242.7,466.7L243.8,466.3L244.9,465.9M230.8,464.8L229.8,464.2L228.7,464.5L227.9,465.4L226.8,465.3" stroke="rgba(75,225,50,0.94)"/>
</g>
</g>
<line x1="89.6" y1="361.5" x2="89.6" y2="493.3" stroke="#bdbdbd" stroke-width="0.8"/>
<line x1="156" y1="361.5" x2="156" y2="493.3" stroke="#bdbdbd" stroke-width="0.8"/>
<line x1="222.8" y1="361.5" x2="222.8" y2="493.3" stroke="#bdbdbd" stroke-width="0.8"/>
<line x1="23.4" y1="427.6" x2="289.1" y2="427.6" stroke="#bdbdbd" stroke-width="1"/>
<rect x="61.2" y="385.5" width="13.5" height="13.4" fill="none" stroke="#a8a8a8" stroke-width="0.8"/>
<line x1="61.2" y1="398.9" x2="23.4" y2="427.6" stroke="#d4d4d4" stroke-width="0.8"/>
<line x1="74.7" y1="398.9" x2="89.6" y2="427.6" stroke="#d4d4d4" stroke-width="0.8"/>
<rect x="101.6" y="381.3" width="14" height="13.1" fill="none" stroke="#a8a8a8" stroke-width="0.8"/>
<line x1="101.6" y1="394.4" x2="89.6" y2="427.6" stroke="#d4d4d4" stroke-width="0.8"/>
<line x1="115.6" y1="394.4" x2="156" y2="427.6" stroke="#d4d4d4" stroke-width="0.8"/>
<rect x="158.5" y="378.6" width="14.2" height="13.7" fill="none" stroke="#a8a8a8" stroke-width="0.8"/>
<line x1="158.5" y1="392.3" x2="156" y2="427.6" stroke="#d4d4d4" stroke-width="0.8"/>
<line x1="172.7" y1="392.3" x2="222.8" y2="427.6" stroke="#d4d4d4" stroke-width="0.8"/>
<rect x="250.5" y="400" width="13.6" height="13.4" fill="none" stroke="#a8a8a8" stroke-width="0.8"/>
<line x1="250.5" y1="413.4" x2="222.8" y2="427.6" stroke="#d4d4d4" stroke-width="0.8"/>
<line x1="264.1" y1="413.4" x2="289.1" y2="427.6" stroke="#d4d4d4" stroke-width="0.8"/>
<line x1="260.8" y1="424.6" x2="276.3" y2="424.6" stroke="#fff" stroke-width="1"/>
<text x="268.6" y="423" font-size="5.2" text-anchor="middle" fill="#fff">50 μm</text>
<line x1="261.3" y1="491.6" x2="276.3" y2="491.6" stroke="#fff" stroke-width="1"/>
<text x="268.8" y="490" font-size="5.2" text-anchor="middle" fill="#fff">10 μm</text>
<text x="369.5" y="203.9" font-size="7.2" text-anchor="middle" fill="#000">4-OHT</text>
<line x1="245.5" y1="206.2" x2="492" y2="206.2" stroke="#222" stroke-width="1.1"/>
<text x="303.3" y="216" font-size="7.2" text-anchor="middle" fill="#000">Veh</text>
<line x1="245.5" y1="218.7" x2="361" y2="218.7" stroke="#222" stroke-width="1.1"/>
<text x="435" y="216" font-size="7.2" text-anchor="middle" fill="#000">IL-1β</text>
<line x1="378" y1="218.7" x2="492" y2="218.7" stroke="#222" stroke-width="1.1"/>
<text x="270" y="228.6" font-size="7" text-anchor="middle" fill="#000">Pkm2<tspan font-size="4.3" dy="-2.7">fl/fl</tspan></text>
<text x="333.6" y="228.6" font-size="7" text-anchor="middle" fill="#000">Pkm2<tspan font-size="4.3" dy="-2.7">ΔKO</tspan></text>
<text x="401" y="228.6" font-size="7" text-anchor="middle" fill="#000">Pkm2<tspan font-size="4.3" dy="-2.7">fl/fl</tspan></text>
<text x="466" y="228.6" font-size="7" text-anchor="middle" fill="#000">Pkm2<tspan font-size="4.3" dy="-2.7">ΔKO</tspan></text>
<g clip-path="url(#cp17)">
<rect x="234.5" y="231" width="66.1" height="49.4" fill="#ececec" stroke="none" stroke-width="0.8"/>
<g filter="url(#tex)">
<path d="M234,240 C244,243 256,250 270,256 C284,262 296,264 301,266 L301,276 C290,274 276,270 262,266 C250,262 240,258 234,256 Z" fill="#d4d4d4" stroke="#b8b8b8" stroke-width="0.6" filter="url(#blur06)"/>
<ellipse cx="270" cy="263" rx="5" ry="2.5" transform="rotate(20 270 263)" fill="#bcbcbc" stroke="none" stroke-width="0.8" filter="url(#blur06)"/>
<ellipse cx="290" cy="268" rx="5" ry="2.5" transform="rotate(15 290 268)" fill="#c4c4c4" stroke="none" stroke-width="0.8" filter="url(#blur06)"/>
<path d="M234,272 C238,274 242,277 246,281 L234,281 Z" fill="#dedede" stroke="none" stroke-width="0.8" filter="url(#blur06)"/>
</g>
<rect x="234.5" y="231" width="66.1" height="49.4" fill="#000" stroke="none" stroke-width="0.8" filter="url(#speckT)" opacity="0.1"/>
</g>
<g clip-path="url(#cp18)">
<rect x="300.6" y="231" width="66" height="49.4" fill="#eeeeee" stroke="none" stroke-width="0.8"/>
<g filter="url(#tex)">
<path d="M306,231 L328,231 C338,238 348,246 354,256 C359,265 359,275 358,281 L326,281 C322,268 318,256 313,246 C310,240 307,235 306,231 Z" fill="#c8c8c8" stroke="#aaaaaa" stroke-width="0.6" filter="url(#blur06)"/>
<ellipse cx="330" cy="258" rx="8" ry="10" transform="rotate(0 330 258)" fill="#bcbcbc" stroke="none" stroke-width="0.8" filter="url(#blur15)"/>
<ellipse cx="344" cy="268" rx="7" ry="9" transform="rotate(0 344 268)" fill="#bababa" stroke="none" stroke-width="0.8" filter="url(#blur15)"/>
<path d="M350,258 C355,262 357,270 356,276" fill="none" stroke="#888" stroke-width="1.5" filter="url(#blur06)"/>
<path d="M362,231 L367,231 L367,262 Z" fill="#d4d4d4" stroke="none" stroke-width="0.8" filter="url(#blur06)"/>
</g>
<rect x="300.6" y="231" width="66" height="49.4" fill="#000" stroke="none" stroke-width="0.8" filter="url(#speckT)" opacity="0.1"/>
</g>
<g clip-path="url(#cp19)">
<rect x="366.6" y="231" width="66.4" height="49.4" fill="#ececec" stroke="none" stroke-width="0.8"/>
<g filter="url(#tex)">
<path d="M387,240 C390,235 398,235 403,240 C410,248 414,258 418,266 C422,272 423,278 421,281 L404,281 C398,272 392,262 389,254 C387,249 386,244 387,240 Z" fill="#cccccc" stroke="#aaaaaa" stroke-width="0.6" filter="url(#blur06)"/>
<path d="M367,238 C370,248 372,262 371,281 L367,281 Z" fill="#d6d6d6" stroke="none" stroke-width="0.8" filter="url(#blur06)"/>
<path d="M382,258 C383,266 383,274 382,281 L380,281 C380,272 381,265 382,258 Z" fill="#d6d6d6" stroke="none" stroke-width="0.8" filter="url(#blur06)"/>
<ellipse cx="413" cy="274" rx="7" ry="5" transform="rotate(30 413 274)" fill="#d0d0d0" stroke="none" stroke-width="0.8" filter="url(#blur06)"/>
</g>
<rect x="366.6" y="231" width="66.4" height="49.4" fill="#000" stroke="none" stroke-width="0.8" filter="url(#speckT)" opacity="0.1"/>
</g>
<g clip-path="url(#cp20)">
<rect x="433" y="231" width="66.3" height="49.4" fill="#ececec" stroke="none" stroke-width="0.8"/>
<g filter="url(#tex)">
<ellipse cx="468" cy="256" rx="9" ry="13" transform="rotate(0 468 256)" fill="#c6c6c6" stroke="#aaaaaa" stroke-width="0.6" filter="url(#blur06)"/>
<ellipse cx="492" cy="241" rx="8" ry="6" transform="rotate(-30 492 241)" fill="#cacaca" stroke="#aaaaaa" stroke-width="0.5" filter="url(#blur06)"/>
<ellipse cx="446" cy="271" rx="8" ry="6" transform="rotate(-40 446 271)" fill="#cccccc" stroke="#aaaaaa" stroke-width="0.5" filter="url(#blur06)"/>
<ellipse cx="467" cy="274" rx="4" ry="6" transform="rotate(0 467 274)" fill="#cecece" stroke="none" stroke-width="0.8" filter="url(#blur06)"/>
<ellipse cx="438" cy="234" rx="5" ry="3" transform="rotate(0 438 234)" fill="#d6d6d6" stroke="none" stroke-width="0.8" filter="url(#blur06)"/>
</g>
<rect x="433" y="231" width="66.3" height="49.4" fill="#000" stroke="none" stroke-width="0.8" filter="url(#speckT)" opacity="0.1"/>
</g>
<g clip-path="url(#cp21)">
<rect x="234.5" y="280.4" width="66.1" height="49.1" fill="#bebebe" stroke="none" stroke-width="0.8"/>
<g filter="url(#tex)">
<path d="M262,281 C258,295 258,312 266,330 L301,330 L301,281 Z" fill="#c0c0c0" stroke="none" stroke-width="0.8" filter="url(#blur06)"/>
<path d="M263,281 C259,295 259,312 267,330" fill="none" stroke="#707070" stroke-width="0.9"/>
<ellipse cx="280" cy="307" rx="6" ry="5" transform="rotate(0 280 307)" fill="#8a8a8a" stroke="none" stroke-width="0.8" filter="url(#blur15)"/>
<ellipse cx="255" cy="297" rx="2.2" ry="3.2" transform="rotate(-20 255 297)" fill="#404040" stroke="none" stroke-width="0.8" filter="url(#blur06)"/>
<ellipse cx="245" cy="304" rx="3" ry="2" transform="rotate(0 245 304)" fill="#8c8c8c" stroke="none" stroke-width="0.8" filter="url(#blur06)"/>
<ellipse cx="258" cy="318" rx="4" ry="3" transform="rotate(0 258 318)" fill="#e8e8e8" stroke="none" stroke-width="0.8" filter="url(#blur06)"/>
<path d="M234,325 L260,325 L262,330 L234,330 Z" fill="#eeeeee" stroke="none" stroke-width="0.8"/>
</g>
<rect x="234.5" y="280.4" width="66.1" height="49.1" fill="#000" stroke="none" stroke-width="0.8" filter="url(#speckT)" opacity="0.5"/>
</g>
<g clip-path="url(#cp22)">
<rect x="300.6" y="280.4" width="66" height="49.1" fill="#cacaca" stroke="none" stroke-width="0.8"/>
<g filter="url(#tex)">
<ellipse cx="306" cy="286" rx="4" ry="3" transform="rotate(0 306 286)" fill="#e8e8e8" stroke="none" stroke-width="0.8" filter="url(#blur06)"/>
<path d="M301,292 C306,300 308,315 305,330" fill="none" stroke="#777" stroke-width="1"/>
<ellipse cx="323" cy="298" rx="8" ry="3" transform="rotate(-30 323 298)" fill="#909090" stroke="none" stroke-width="0.8" filter="url(#blur06)"/>
<ellipse cx="338" cy="302" rx="4" ry="2.5" transform="rotate(0 338 302)" fill="#a0a0a0" stroke="none" stroke-width="0.8" filter="url(#blur06)"/>
<ellipse cx="335" cy="320" rx="7" ry="2.5" transform="rotate(-40 335 320)" fill="#808080" stroke="none" stroke-width="0.8" filter="url(#blur06)"/>
<ellipse cx="318" cy="320" rx="4" ry="3.5" transform="rotate(0 318 320)" fill="#f0f0f0" stroke="none" stroke-width="0.8" filter="url(#blur06)"/>
<ellipse cx="350" cy="300" rx="5" ry="8" transform="rotate(0 350 300)" fill="#aaaaaa" stroke="none" stroke-width="0.8" filter="url(#blur06)"/>
<ellipse cx="322" cy="308" rx="3" ry="2" transform="rotate(0 322 308)" fill="#d8d8d8" stroke="none" stroke-width="0.8" filter="url(#blur06)"/>
</g>
<rect x="300.6" y="280.4" width="66" height="49.1" fill="#000" stroke="none" stroke-width="0.8" filter="url(#speckT)" opacity="0.5"/>
</g>
<g clip-path="url(#cp23)">
<rect x="366.6" y="280.4" width="66.4" height="49.1" fill="#c6c6c6" stroke="none" stroke-width="0.8"/>
<g filter="url(#tex)">
<path d="M418,281 L433,281 L433,300 C428,300 423,296 420,290 Z" fill="#f4f4f4" stroke="none" stroke-width="0.8" filter="url(#blur06)"/>
<path d="M386,281 C384,295 382,305 378,315 C374,322 372,326 370,330" fill="none" stroke="#888" stroke-width="1.6" filter="url(#blur06)"/>
<ellipse cx="372" cy="320" rx="5" ry="8" transform="rotate(0 372 320)" fill="#9a9a9a" stroke="none" stroke-width="0.8" filter="url(#blur15)"/>
<ellipse cx="403" cy="286" rx="3" ry="3" transform="rotate(0 403 286)" fill="#8a8a8a" stroke="none" stroke-width="0.8" filter="url(#blur06)"/>
<ellipse cx="405" cy="298" rx="3" ry="2" transform="rotate(0 405 298)" fill="#8a8a8a" stroke="none" stroke-width="0.8" filter="url(#blur06)"/>
<ellipse cx="412" cy="318" rx="3" ry="2.5" transform="rotate(0 412 318)" fill="#8a8a8a" stroke="none" stroke-width="0.8" filter="url(#blur06)"/>
<ellipse cx="428" cy="320" rx="5" ry="10" transform="rotate(0 428 320)" fill="#d8d8d8" stroke="none" stroke-width="0.8" filter="url(#blur06)"/>
</g>
<rect x="366.6" y="280.4" width="66.4" height="49.1" fill="#000" stroke="none" stroke-width="0.8" filter="url(#speckT)" opacity="0.5"/>
</g>
<g clip-path="url(#cp24)">
<rect x="433" y="280.4" width="66.3" height="49.1" fill="#f2f2f2" stroke="none" stroke-width="0.8"/>
<g filter="url(#tex)">
<path d="M433,330 L433,300 C438,290 450,282 466,282 C485,282 497,292 499.3,305 L499.3,330 Z" fill="#cbcbcb" stroke="none" stroke-width="0.8" filter="url(#blur06)"/>
<path d="M433,318 C445,305 460,300 475,305" fill="none" stroke="#777" stroke-width="0.9"/>
<path d="M433,300 C438,290 450,282 466,282 C485,282 497,292 499.3,305" fill="none" stroke="#999" stroke-width="0.8"/>
<ellipse cx="464" cy="292" rx="3" ry="2" transform="rotate(0 464 292)" fill="#8c8c8c" stroke="none" stroke-width="0.8" filter="url(#blur06)"/>
<ellipse cx="468" cy="297" rx="2.5" ry="2" transform="rotate(0 468 297)" fill="#8c8c8c" stroke="none" stroke-width="0.8" filter="url(#blur06)"/>
<ellipse cx="492" cy="321" rx="2.5" ry="4" transform="rotate(0 492 321)" fill="#7c7c7c" stroke="none" stroke-width="0.8" filter="url(#blur06)"/>
<ellipse cx="447" cy="306" rx="3" ry="2" transform="rotate(-20 447 306)" fill="#8c8c8c" stroke="none" stroke-width="0.8" filter="url(#blur06)"/>
</g>
<rect x="433" y="280.4" width="66.3" height="49.1" fill="#000" stroke="none" stroke-width="0.8" filter="url(#speckT)" opacity="0.3"/>
</g>
<line x1="300.6" y1="231" x2="300.6" y2="329.5" stroke="#f4f4f4" stroke-width="0.8"/>
<line x1="366.6" y1="231" x2="366.6" y2="329.5" stroke="#f4f4f4" stroke-width="0.8"/>
<line x1="433" y1="231" x2="433" y2="329.5" stroke="#f4f4f4" stroke-width="0.8"/>
<line x1="234.5" y1="280.4" x2="499.3" y2="280.4" stroke="#f4f4f4" stroke-width="0.9"/>
<rect x="238.9" y="251.1" width="13.7" height="10.2" fill="none" stroke="#222" stroke-width="0.8"/>
<line x1="238.9" y1="261.3" x2="234.5" y2="280.4" stroke="#222" stroke-width="0.8"/>
<line x1="252.6" y1="261.3" x2="300.6" y2="280.4" stroke="#222" stroke-width="0.8"/>
<rect x="336.1" y="245" width="13.7" height="10.4" fill="none" stroke="#222" stroke-width="0.8"/>
<line x1="336.1" y1="255.4" x2="300.6" y2="280.4" stroke="#222" stroke-width="0.8"/>
<line x1="349.8" y1="255.4" x2="366.6" y2="280.4" stroke="#222" stroke-width="0.8"/>
<rect x="397.3" y="251" width="14.3" height="10.3" fill="none" stroke="#222" stroke-width="0.8"/>
<line x1="397.3" y1="261.3" x2="366.6" y2="280.4" stroke="#222" stroke-width="0.8"/>
<line x1="411.6" y1="261.3" x2="433" y2="280.4" stroke="#222" stroke-width="0.8"/>
<rect x="463.3" y="242" width="14.2" height="10.1" fill="none" stroke="#222" stroke-width="0.8"/>
<line x1="463.3" y1="252.1" x2="433" y2="280.4" stroke="#222" stroke-width="0.8"/>
<line x1="477.5" y1="252.1" x2="499.3" y2="280.4" stroke="#222" stroke-width="0.8"/>
<polygon points="262.8,298 268,295.1 268,300.9" fill="#e8202a"/>
<polygon points="266.7,321.5 271.9,318.6 271.9,324.4" fill="#e8202a"/>
<polygon points="328.8,301 334.7,301.1 331.9,306.1" fill="#e8202a"/>
<polygon points="314.7,324.4 319.9,321.5 319.9,327.3" fill="#e8202a"/>
<polygon points="342.1,322.4 347.6,324.5 343.3,328.2" fill="#e8202a"/>
<polygon points="406.5,290.2 412.4,289.3 410.4,294.7" fill="#e8202a"/>
<polygon points="404.6,302.1 410.5,301.2 408.5,306.6" fill="#e8202a"/>
<polygon points="378.6,310.9 384.4,312.1 380.7,316.4" fill="#e8202a"/>
<polygon points="415.8,319.1 421.7,318.2 419.7,323.6" fill="#e8202a"/>
<polygon points="411.5,325.6 417.4,324.7 415.4,330.1" fill="#e8202a"/>
<polygon points="454.5,293.1 459.7,290.2 459.7,296" fill="#e8202a"/>
<polygon points="475.1,303.9 480.9,305.1 477.2,309.4" fill="#e8202a"/>
<polygon points="449.6,310.3 455.1,312.4 450.8,316.1" fill="#e8202a"/>
<polygon points="484.3,319.1 490.2,318.2 488.2,323.6" fill="#e8202a"/>
<line x1="485.4" y1="278" x2="497.5" y2="278" stroke="#000" stroke-width="1"/>
<text x="491.4" y="276.4" font-size="5" text-anchor="middle" fill="#000">5 μm</text>
<line x1="485.4" y1="328" x2="496" y2="328" stroke="#000" stroke-width="1"/>
<text x="490.7" y="326.4" font-size="5" text-anchor="middle" fill="#000">1 μm</text>
<text x="458" y="368" font-size="7" text-anchor="middle" fill="#000">Sham</text>
<line x1="410.8" y1="370.3" x2="541" y2="370.3" stroke="#222" stroke-width="1"/>
<text x="591.4" y="368" font-size="7" text-anchor="middle" fill="#000">DMM</text>
<line x1="544.5" y1="370.3" x2="675.3" y2="370.3" stroke="#222" stroke-width="1"/>
<text x="442.5" y="378" font-size="7" text-anchor="middle" fill="#000">Veh</text>
<text x="508.5" y="378" font-size="7" text-anchor="middle" fill="#000">TEPP-46</text>
<text x="575" y="378" font-size="7" text-anchor="middle" fill="#000">Veh</text>
<text x="641.5" y="378" font-size="7" text-anchor="middle" fill="#000">TEPP-46</text>
<g clip-path="url(#cp25)">
<rect x="409.7" y="380" width="65.6" height="49.2" fill="#c9c9c9" stroke="none" stroke-width="0.8"/>
<g filter="url(#tex)">
<ellipse cx="455" cy="407.5" rx="20.5" ry="19" transform="rotate(-25 455 407.5)" fill="#b2b2b2" stroke="#9a9a9a" stroke-width="1.2" filter="url(#blur06)"/>
<ellipse cx="456" cy="409" rx="15.5" ry="14" transform="rotate(-25 456 409)" fill="#bcbcbc" stroke="none" stroke-width="0.8" filter="url(#blur15)"/>
<path d="M452,394 C455,390 461,391 461,396 C464,400 464,408 460,412 C456,415 452,411 455,405 C452,402 450,398 452,394 Z" fill="#585858" stroke="none" stroke-width="0.8" filter="url(#blur06)"/>
<ellipse cx="458" cy="400" rx="1.6" ry="2.2" transform="rotate(0 458 400)" fill="#dcdcdc" stroke="none" stroke-width="0.8" filter="url(#blur06)"/>
<ellipse cx="458" cy="408" rx="1.5" ry="1.5" transform="rotate(0 458 408)" fill="#d8d8d8" stroke="none" stroke-width="0.8" filter="url(#blur06)"/>
</g>
<rect x="409.7" y="380" width="65.6" height="49.2" fill="#000" stroke="none" stroke-width="0.8" filter="url(#speckT)" opacity="0.2"/>
</g>
<g clip-path="url(#cp26)">
<rect x="475.3" y="380" width="66.3" height="49.2" fill="#cdcdcd" stroke="none" stroke-width="0.8"/>
<g filter="url(#tex)">
<path d="M495,419 C500,411 508,403 516,398 C522,395 525,398 521,404 C515,411 506,417 498,421 Z" fill="#939393" stroke="#6a6a6a" stroke-width="0.8" filter="url(#blur06)"/>
<ellipse cx="510" cy="410" rx="4" ry="3" transform="rotate(-40 510 410)" fill="#a8a8a8" stroke="none" stroke-width="0.8" filter="url(#blur06)"/>
<ellipse cx="488" cy="414" rx="3" ry="2.3" transform="rotate(0 488 414)" fill="#f2f2f2" stroke="none" stroke-width="0.8" filter="url(#blur06)"/>
<ellipse cx="493" cy="412" rx="2.3" ry="1.8" transform="rotate(0 493 412)" fill="#f2f2f2" stroke="none" stroke-width="0.8" filter="url(#blur06)"/>
<ellipse cx="520" cy="391" rx="2.5" ry="2" transform="rotate(0 520 391)" fill="#e4e4e4" stroke="none" stroke-width="0.8" filter="url(#blur06)"/>
<ellipse cx="524" cy="388" rx="1.8" ry="1.6" transform="rotate(0 524 388)" fill="#e4e4e4" stroke="none" stroke-width="0.8" filter="url(#blur06)"/>
<path d="M476,382 C490,390 505,385 520,380" fill="none" stroke="#a8a8a8" stroke-width="1"/>
<path d="M530,400 C535,410 538,420 540,429" fill="none" stroke="#9a9a9a" stroke-width="0.5"/>
</g>
<rect x="475.3" y="380" width="66.3" height="49.2" fill="#000" stroke="none" stroke-width="0.8" filter="url(#speckT)" opacity="0.2"/>
</g>
<g clip-path="url(#cp27)">
<rect x="541.6" y="380" width="66.5" height="49.2" fill="#cecece" stroke="none" stroke-width="0.8"/>
<g filter="url(#tex)">
<ellipse cx="578" cy="401" rx="6.5" ry="8.5" transform="rotate(35 578 401)" fill="#8e8e8e" stroke="#666" stroke-width="0.8" filter="url(#blur06)"/>
<ellipse cx="575" cy="406" rx="3" ry="3" transform="rotate(0 575 406)" fill="#b4b4b4" stroke="none" stroke-width="0.8" filter="url(#blur06)"/>
<path d="M545,387 C560,384 575,390 590,386" fill="none" stroke="#b4b4b4" stroke-width="0.5"/>
</g>
<rect x="541.6" y="380" width="66.5" height="49.2" fill="#000" stroke="none" stroke-width="0.8" filter="url(#speckT)" opacity="0.2"/>
</g>
<g clip-path="url(#cp28)">
<rect x="608.1" y="380" width="66.8" height="49.2" fill="#d0d0d0" stroke="none" stroke-width="0.8"/>
<g filter="url(#tex)">
<ellipse cx="643" cy="401.8" rx="12.5" ry="7.5" transform="rotate(5 643 401.8)" fill="#8e8e8e" stroke="#666" stroke-width="0.8" filter="url(#blur06)"/>
<ellipse cx="646" cy="404" rx="4" ry="3" transform="rotate(0 646 404)" fill="#767676" stroke="none" stroke-width="0.8" filter="url(#blur06)"/>
<ellipse cx="625" cy="404" rx="4" ry="3" transform="rotate(0 625 404)" fill="#e2e2e2" stroke="none" stroke-width="0.8" filter="url(#blur06)"/>
</g>
<rect x="608.1" y="380" width="66.8" height="49.2" fill="#000" stroke="none" stroke-width="0.8" filter="url(#speckT)" opacity="0.2"/>
</g>
<g clip-path="url(#cp29)">
<rect x="409.7" y="429.2" width="65.6" height="49.4" fill="#acacac" stroke="none" stroke-width="0.8"/>
<g filter="url(#tex)">
<path d="M454,429 L475.3,429 L475.3,448 C470,452 462,452 457,447 C453,442 452,434 454,429 Z" fill="#646464" stroke="none" stroke-width="0.8" filter="url(#blur06)"/>
<ellipse cx="468" cy="436" rx="4" ry="4" transform="rotate(0 468 436)" fill="#b4b4b4" stroke="none" stroke-width="0.8" filter="url(#blur06)"/>
<ellipse cx="472" cy="446" rx="3" ry="2" transform="rotate(0 472 446)" fill="#c4c4c4" stroke="none" stroke-width="0.8" filter="url(#blur06)"/>
<ellipse cx="432" cy="441" rx="2" ry="1.8" transform="rotate(0 432 441)" fill="#4a4a4a" stroke="none" stroke-width="0.8" filter="url(#blur06)"/>
<ellipse cx="418" cy="447" rx="3" ry="3" transform="rotate(0 418 447)" fill="#c4c4c4" stroke="#8a8a8a" stroke-width="0.6" filter="url(#blur06)"/>
<ellipse cx="416" cy="463" rx="4" ry="3" transform="rotate(0 416 463)" fill="#bcbcbc" stroke="#8a8a8a" stroke-width="0.6" filter="url(#blur06)"/>
<ellipse cx="445" cy="462" rx="8" ry="6" transform="rotate(0 445 462)" fill="#a0a0a0" stroke="none" stroke-width="0.8" filter="url(#blur15)"/>
<ellipse cx="460" cy="468" rx="1.5" ry="1.5" transform="rotate(0 460 468)" fill="#e6e6e6" stroke="none" stroke-width="0.8" filter="url(#blur06)"/>
</g>
<rect x="409.7" y="429.2" width="65.6" height="49.4" fill="#000" stroke="none" stroke-width="0.8" filter="url(#speckT)" opacity="0.3"/>
</g>
<g clip-path="url(#cp30)">
<rect x="475.3" y="429.2" width="66.3" height="49.4" fill="#cdcdcd" stroke="none" stroke-width="0.8"/>
<g filter="url(#tex)">
<path d="M526,429 L541.6,429 L541.6,456 C536,458 529,452 526,442 Z" fill="#7e7e7e" stroke="none" stroke-width="0.8" filter="url(#blur06)"/>
<path d="M507,446 C511,441 519,443 523,449 C525,456 521,464 514,465 C507,465 504,458 505,452 Z" fill="#9a9a9a" stroke="#6a6a6a" stroke-width="0.9" filter="url(#blur06)"/>
<ellipse cx="517" cy="454" rx="4" ry="3.5" transform="rotate(0 517 454)" fill="#f4f4f4" stroke="none" stroke-width="0.8" filter="url(#blur06)"/>
<ellipse cx="497" cy="459.3" rx="4.8" ry="4.2" transform="rotate(0 497 459.3)" fill="#f8f8f8" stroke="none" stroke-width="0.8" filter="url(#blur06)"/>
<path d="M476,462 C490,455 505,440 520,432" fill="none" stroke="#9c9c9c" stroke-width="0.6"/>
</g>
<rect x="475.3" y="429.2" width="66.3" height="49.4" fill="#000" stroke="none" stroke-width="0.8" filter="url(#speckT)" opacity="0.2"/>
</g>
<g clip-path="url(#cp31)">
<rect x="541.6" y="429.2" width="66.5" height="49.4" fill="#d2d2d2" stroke="none" stroke-width="0.8"/>
<g filter="url(#tex)">
<ellipse cx="596" cy="444" rx="15" ry="17" transform="rotate(15 596 444)" fill="#969696" stroke="#6a6a6a" stroke-width="0.9" filter="url(#blur06)"/>
<ellipse cx="592" cy="446" rx="7" ry="9" transform="rotate(0 592 446)" fill="#848484" stroke="none" stroke-width="0.8" filter="url(#blur15)"/>
<ellipse cx="573" cy="460" rx="4" ry="3" transform="rotate(0 573 460)" fill="#aaaaaa" stroke="none" stroke-width="0.8" filter="url(#blur06)"/>
<path d="M545,440 C560,445 570,455 580,470" fill="none" stroke="#b8b8b8" stroke-width="0.6"/>
</g>
<rect x="541.6" y="429.2" width="66.5" height="49.4" fill="#000" stroke="none" stroke-width="0.8" filter="url(#speckT)" opacity="0.2"/>
</g>
<g clip-path="url(#cp32)">
<rect x="608.1" y="429.2" width="66.8" height="49.4" fill="#d6d6d6" stroke="none" stroke-width="0.8"/>
<g filter="url(#tex)">
<ellipse cx="667" cy="451" rx="12" ry="21" transform="rotate(0 667 451)" fill="#8e8e8e" stroke="#6a6a6a" stroke-width="0.9" filter="url(#blur06)"/>
<path d="M625,440 C632,436 642,440 650,446 C652,456 648,465 640,470 C630,472 622,465 622,455 Z" fill="#c6c6c6" stroke="none" stroke-width="0.8" filter="url(#blur06)"/>
<ellipse cx="641" cy="458" rx="8" ry="3" transform="rotate(20 641 458)" fill="#8a8a8a" stroke="none" stroke-width="0.8" filter="url(#blur06)"/>
</g>
<rect x="608.1" y="429.2" width="66.8" height="49.4" fill="#000" stroke="none" stroke-width="0.8" filter="url(#speckT)" opacity="0.2"/>
</g>
<line x1="475.3" y1="380" x2="475.3" y2="478.6" stroke="#f4f4f4" stroke-width="0.8"/>
<line x1="541.6" y1="380" x2="541.6" y2="478.6" stroke="#f4f4f4" stroke-width="0.8"/>
<line x1="608.1" y1="380" x2="608.1" y2="478.6" stroke="#f4f4f4" stroke-width="0.8"/>
<line x1="409.7" y1="429.2" x2="674.9" y2="429.2" stroke="#f4f4f4" stroke-width="0.9"/>
<rect x="440.9" y="405.4" width="18.6" height="14.3" fill="none" stroke="#222" stroke-width="0.8"/>
<rect x="481.4" y="405.4" width="18.6" height="14.3" fill="none" stroke="#222" stroke-width="0.8"/>
<rect x="558.3" y="399.4" width="18.4" height="14.3" fill="none" stroke="#222" stroke-width="0.8"/>
<rect x="616" y="397.2" width="18.3" height="14.1" fill="none" stroke="#222" stroke-width="0.8"/>
<polygon points="451.5,439.7 456.7,436.8 456.7,442.6" fill="#e8202a"/>
<polygon points="422.2,447.6 427.4,444.7 427.4,450.5" fill="#e8202a"/>
<polygon points="455.5,449.5 460.7,446.6 460.7,452.4" fill="#e8202a"/>
<polygon points="516.1,454 521.3,451.1 521.3,456.9" fill="#e8202a"/>
<polygon points="512.2,471 515.1,476.2 509.3,476.2" fill="#e8202a"/>
<polygon points="560.3,463.7 566.2,462.8 564.2,468.2" fill="#e8202a"/>
<polygon points="574.8,468.7 577.7,473.9 571.9,473.9" fill="#e8202a"/>
<polygon points="630.2,462.7 636.1,461.8 634.1,467.2" fill="#e8202a"/>
<polygon points="649.5,470.7 652.4,475.9 646.6,475.9" fill="#e8202a"/>
<line x1="663.2" y1="426.5" x2="671.1" y2="426.5" stroke="#000" stroke-width="1.3"/>
<text x="667.2" y="423.9" font-size="6.3" text-anchor="middle" fill="#000">5 μm</text>
<line x1="658" y1="476.4" x2="673.9" y2="476.4" stroke="#000" stroke-width="1.3"/>
<text x="666" y="473.8" font-size="6.3" text-anchor="middle" fill="#000">1 μm</text>
<line x1="409.5" y1="480.2" x2="414" y2="480.2" stroke="#000" stroke-width="1.2"/></svg>
</body></html>
